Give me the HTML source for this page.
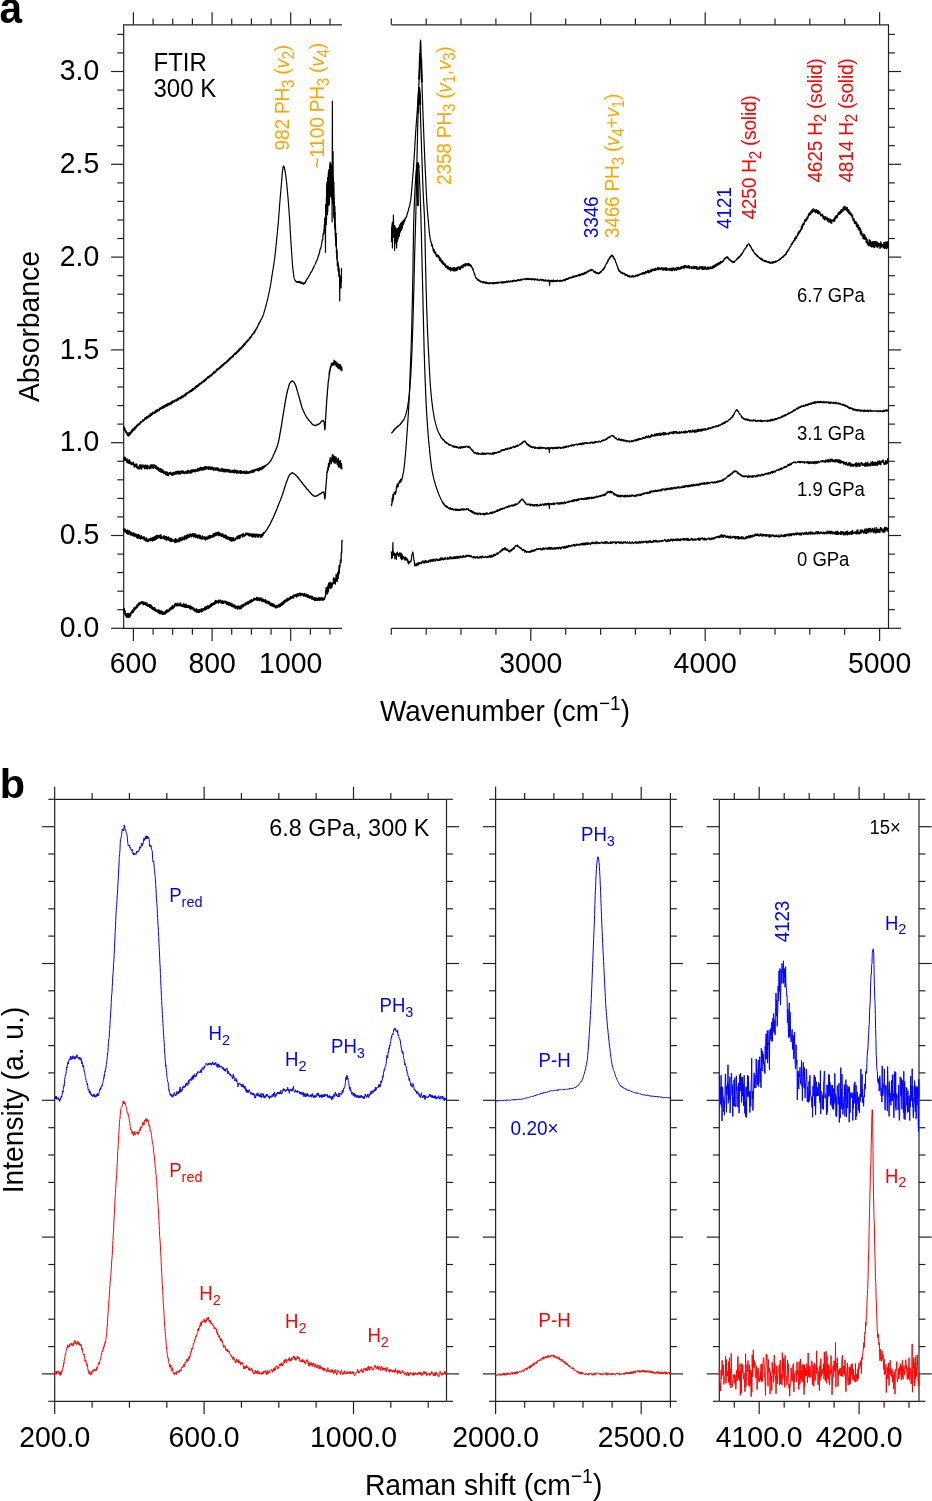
<!DOCTYPE html>
<html><head><meta charset="utf-8"><title>Figure</title>
<style>
html,body{margin:0;padding:0;background:#fff;}
body{width:932px;height:1501px;overflow:hidden;font-family:"Liberation Sans", sans-serif;}
svg{display:block;will-change:transform;}
</style></head><body>
<svg width="932" height="1501" viewBox="0 0 932 1501" font-family='"Liberation Sans", sans-serif'><line x1="123.7" y1="24.8" x2="123.7" y2="628.3" stroke="#222" stroke-width="1.2"/>
<line x1="123.1" y1="24.8" x2="342" y2="24.8" stroke="#222" stroke-width="1.2"/>
<line x1="123.1" y1="628.3" x2="342" y2="628.3" stroke="#222" stroke-width="1.2"/>
<line x1="133.4" y1="24.8" x2="133.4" y2="12.2" stroke="#222" stroke-width="1.2"/>
<line x1="133.4" y1="628.3" x2="133.4" y2="640.9" stroke="#222" stroke-width="1.2"/>
<line x1="153.1" y1="24.8" x2="153.1" y2="18.4" stroke="#222" stroke-width="1.2"/>
<line x1="153.1" y1="628.3" x2="153.1" y2="634.7" stroke="#222" stroke-width="1.2"/>
<line x1="172.7" y1="24.8" x2="172.7" y2="18.4" stroke="#222" stroke-width="1.2"/>
<line x1="172.7" y1="628.3" x2="172.7" y2="634.7" stroke="#222" stroke-width="1.2"/>
<line x1="192.4" y1="24.8" x2="192.4" y2="18.4" stroke="#222" stroke-width="1.2"/>
<line x1="192.4" y1="628.3" x2="192.4" y2="634.7" stroke="#222" stroke-width="1.2"/>
<line x1="212.1" y1="24.8" x2="212.1" y2="12.2" stroke="#222" stroke-width="1.2"/>
<line x1="212.1" y1="628.3" x2="212.1" y2="640.9" stroke="#222" stroke-width="1.2"/>
<line x1="231.7" y1="24.8" x2="231.7" y2="18.4" stroke="#222" stroke-width="1.2"/>
<line x1="231.7" y1="628.3" x2="231.7" y2="634.7" stroke="#222" stroke-width="1.2"/>
<line x1="251.4" y1="24.8" x2="251.4" y2="18.4" stroke="#222" stroke-width="1.2"/>
<line x1="251.4" y1="628.3" x2="251.4" y2="634.7" stroke="#222" stroke-width="1.2"/>
<line x1="271.1" y1="24.8" x2="271.1" y2="18.4" stroke="#222" stroke-width="1.2"/>
<line x1="271.1" y1="628.3" x2="271.1" y2="634.7" stroke="#222" stroke-width="1.2"/>
<line x1="290.7" y1="24.8" x2="290.7" y2="12.2" stroke="#222" stroke-width="1.2"/>
<line x1="290.7" y1="628.3" x2="290.7" y2="640.9" stroke="#222" stroke-width="1.2"/>
<line x1="310.4" y1="24.8" x2="310.4" y2="18.4" stroke="#222" stroke-width="1.2"/>
<line x1="310.4" y1="628.3" x2="310.4" y2="634.7" stroke="#222" stroke-width="1.2"/>
<line x1="330" y1="24.8" x2="330" y2="18.4" stroke="#222" stroke-width="1.2"/>
<line x1="330" y1="628.3" x2="330" y2="634.7" stroke="#222" stroke-width="1.2"/>
<line x1="123.7" y1="628.3" x2="111.1" y2="628.3" stroke="#222" stroke-width="1.2"/>
<line x1="888.5" y1="628.3" x2="901.1" y2="628.3" stroke="#222" stroke-width="1.2"/>
<line x1="123.7" y1="609.7" x2="117.3" y2="609.7" stroke="#222" stroke-width="1.2"/>
<line x1="888.5" y1="609.7" x2="894.9" y2="609.7" stroke="#222" stroke-width="1.2"/>
<line x1="123.7" y1="591.2" x2="117.3" y2="591.2" stroke="#222" stroke-width="1.2"/>
<line x1="888.5" y1="591.2" x2="894.9" y2="591.2" stroke="#222" stroke-width="1.2"/>
<line x1="123.7" y1="572.6" x2="117.3" y2="572.6" stroke="#222" stroke-width="1.2"/>
<line x1="888.5" y1="572.6" x2="894.9" y2="572.6" stroke="#222" stroke-width="1.2"/>
<line x1="123.7" y1="554.1" x2="117.3" y2="554.1" stroke="#222" stroke-width="1.2"/>
<line x1="888.5" y1="554.1" x2="894.9" y2="554.1" stroke="#222" stroke-width="1.2"/>
<line x1="123.7" y1="535.5" x2="111.1" y2="535.5" stroke="#222" stroke-width="1.2"/>
<line x1="888.5" y1="535.5" x2="901.1" y2="535.5" stroke="#222" stroke-width="1.2"/>
<line x1="123.7" y1="516.9" x2="117.3" y2="516.9" stroke="#222" stroke-width="1.2"/>
<line x1="888.5" y1="516.9" x2="894.9" y2="516.9" stroke="#222" stroke-width="1.2"/>
<line x1="123.7" y1="498.4" x2="117.3" y2="498.4" stroke="#222" stroke-width="1.2"/>
<line x1="888.5" y1="498.4" x2="894.9" y2="498.4" stroke="#222" stroke-width="1.2"/>
<line x1="123.7" y1="479.8" x2="117.3" y2="479.8" stroke="#222" stroke-width="1.2"/>
<line x1="888.5" y1="479.8" x2="894.9" y2="479.8" stroke="#222" stroke-width="1.2"/>
<line x1="123.7" y1="461.3" x2="117.3" y2="461.3" stroke="#222" stroke-width="1.2"/>
<line x1="888.5" y1="461.3" x2="894.9" y2="461.3" stroke="#222" stroke-width="1.2"/>
<line x1="123.7" y1="442.7" x2="111.1" y2="442.7" stroke="#222" stroke-width="1.2"/>
<line x1="888.5" y1="442.7" x2="901.1" y2="442.7" stroke="#222" stroke-width="1.2"/>
<line x1="123.7" y1="424.1" x2="117.3" y2="424.1" stroke="#222" stroke-width="1.2"/>
<line x1="888.5" y1="424.1" x2="894.9" y2="424.1" stroke="#222" stroke-width="1.2"/>
<line x1="123.7" y1="405.6" x2="117.3" y2="405.6" stroke="#222" stroke-width="1.2"/>
<line x1="888.5" y1="405.6" x2="894.9" y2="405.6" stroke="#222" stroke-width="1.2"/>
<line x1="123.7" y1="387" x2="117.3" y2="387" stroke="#222" stroke-width="1.2"/>
<line x1="888.5" y1="387" x2="894.9" y2="387" stroke="#222" stroke-width="1.2"/>
<line x1="123.7" y1="368.5" x2="117.3" y2="368.5" stroke="#222" stroke-width="1.2"/>
<line x1="888.5" y1="368.5" x2="894.9" y2="368.5" stroke="#222" stroke-width="1.2"/>
<line x1="123.7" y1="349.9" x2="111.1" y2="349.9" stroke="#222" stroke-width="1.2"/>
<line x1="888.5" y1="349.9" x2="901.1" y2="349.9" stroke="#222" stroke-width="1.2"/>
<line x1="123.7" y1="331.3" x2="117.3" y2="331.3" stroke="#222" stroke-width="1.2"/>
<line x1="888.5" y1="331.3" x2="894.9" y2="331.3" stroke="#222" stroke-width="1.2"/>
<line x1="123.7" y1="312.8" x2="117.3" y2="312.8" stroke="#222" stroke-width="1.2"/>
<line x1="888.5" y1="312.8" x2="894.9" y2="312.8" stroke="#222" stroke-width="1.2"/>
<line x1="123.7" y1="294.2" x2="117.3" y2="294.2" stroke="#222" stroke-width="1.2"/>
<line x1="888.5" y1="294.2" x2="894.9" y2="294.2" stroke="#222" stroke-width="1.2"/>
<line x1="123.7" y1="275.7" x2="117.3" y2="275.7" stroke="#222" stroke-width="1.2"/>
<line x1="888.5" y1="275.7" x2="894.9" y2="275.7" stroke="#222" stroke-width="1.2"/>
<line x1="123.7" y1="257.1" x2="111.1" y2="257.1" stroke="#222" stroke-width="1.2"/>
<line x1="888.5" y1="257.1" x2="901.1" y2="257.1" stroke="#222" stroke-width="1.2"/>
<line x1="123.7" y1="238.5" x2="117.3" y2="238.5" stroke="#222" stroke-width="1.2"/>
<line x1="888.5" y1="238.5" x2="894.9" y2="238.5" stroke="#222" stroke-width="1.2"/>
<line x1="123.7" y1="220" x2="117.3" y2="220" stroke="#222" stroke-width="1.2"/>
<line x1="888.5" y1="220" x2="894.9" y2="220" stroke="#222" stroke-width="1.2"/>
<line x1="123.7" y1="201.4" x2="117.3" y2="201.4" stroke="#222" stroke-width="1.2"/>
<line x1="888.5" y1="201.4" x2="894.9" y2="201.4" stroke="#222" stroke-width="1.2"/>
<line x1="123.7" y1="182.9" x2="117.3" y2="182.9" stroke="#222" stroke-width="1.2"/>
<line x1="888.5" y1="182.9" x2="894.9" y2="182.9" stroke="#222" stroke-width="1.2"/>
<line x1="123.7" y1="164.3" x2="111.1" y2="164.3" stroke="#222" stroke-width="1.2"/>
<line x1="888.5" y1="164.3" x2="901.1" y2="164.3" stroke="#222" stroke-width="1.2"/>
<line x1="123.7" y1="145.7" x2="117.3" y2="145.7" stroke="#222" stroke-width="1.2"/>
<line x1="888.5" y1="145.7" x2="894.9" y2="145.7" stroke="#222" stroke-width="1.2"/>
<line x1="123.7" y1="127.2" x2="117.3" y2="127.2" stroke="#222" stroke-width="1.2"/>
<line x1="888.5" y1="127.2" x2="894.9" y2="127.2" stroke="#222" stroke-width="1.2"/>
<line x1="123.7" y1="108.6" x2="117.3" y2="108.6" stroke="#222" stroke-width="1.2"/>
<line x1="888.5" y1="108.6" x2="894.9" y2="108.6" stroke="#222" stroke-width="1.2"/>
<line x1="123.7" y1="90.1" x2="117.3" y2="90.1" stroke="#222" stroke-width="1.2"/>
<line x1="888.5" y1="90.1" x2="894.9" y2="90.1" stroke="#222" stroke-width="1.2"/>
<line x1="123.7" y1="71.5" x2="111.1" y2="71.5" stroke="#222" stroke-width="1.2"/>
<line x1="888.5" y1="71.5" x2="901.1" y2="71.5" stroke="#222" stroke-width="1.2"/>
<line x1="123.7" y1="52.9" x2="117.3" y2="52.9" stroke="#222" stroke-width="1.2"/>
<line x1="888.5" y1="52.9" x2="894.9" y2="52.9" stroke="#222" stroke-width="1.2"/>
<line x1="123.7" y1="34.4" x2="117.3" y2="34.4" stroke="#222" stroke-width="1.2"/>
<line x1="888.5" y1="34.4" x2="894.9" y2="34.4" stroke="#222" stroke-width="1.2"/>
<line x1="391.4" y1="24.8" x2="889.1" y2="24.8" stroke="#222" stroke-width="1.2"/>
<line x1="391.4" y1="628.3" x2="889.1" y2="628.3" stroke="#222" stroke-width="1.2"/>
<line x1="888.5" y1="24.8" x2="888.5" y2="628.3" stroke="#222" stroke-width="1.2"/>
<line x1="391.3" y1="24.8" x2="391.3" y2="18.4" stroke="#222" stroke-width="1.2"/>
<line x1="391.3" y1="628.3" x2="391.3" y2="634.7" stroke="#222" stroke-width="1.2"/>
<line x1="426.2" y1="24.8" x2="426.2" y2="18.4" stroke="#222" stroke-width="1.2"/>
<line x1="426.2" y1="628.3" x2="426.2" y2="634.7" stroke="#222" stroke-width="1.2"/>
<line x1="461" y1="24.8" x2="461" y2="18.4" stroke="#222" stroke-width="1.2"/>
<line x1="461" y1="628.3" x2="461" y2="634.7" stroke="#222" stroke-width="1.2"/>
<line x1="495.9" y1="24.8" x2="495.9" y2="18.4" stroke="#222" stroke-width="1.2"/>
<line x1="495.9" y1="628.3" x2="495.9" y2="634.7" stroke="#222" stroke-width="1.2"/>
<line x1="530.8" y1="24.8" x2="530.8" y2="12.2" stroke="#222" stroke-width="1.2"/>
<line x1="530.8" y1="628.3" x2="530.8" y2="640.9" stroke="#222" stroke-width="1.2"/>
<line x1="565.7" y1="24.8" x2="565.7" y2="18.4" stroke="#222" stroke-width="1.2"/>
<line x1="565.7" y1="628.3" x2="565.7" y2="634.7" stroke="#222" stroke-width="1.2"/>
<line x1="600.6" y1="24.8" x2="600.6" y2="18.4" stroke="#222" stroke-width="1.2"/>
<line x1="600.6" y1="628.3" x2="600.6" y2="634.7" stroke="#222" stroke-width="1.2"/>
<line x1="635.4" y1="24.8" x2="635.4" y2="18.4" stroke="#222" stroke-width="1.2"/>
<line x1="635.4" y1="628.3" x2="635.4" y2="634.7" stroke="#222" stroke-width="1.2"/>
<line x1="670.3" y1="24.8" x2="670.3" y2="18.4" stroke="#222" stroke-width="1.2"/>
<line x1="670.3" y1="628.3" x2="670.3" y2="634.7" stroke="#222" stroke-width="1.2"/>
<line x1="705.2" y1="24.8" x2="705.2" y2="12.2" stroke="#222" stroke-width="1.2"/>
<line x1="705.2" y1="628.3" x2="705.2" y2="640.9" stroke="#222" stroke-width="1.2"/>
<line x1="740.1" y1="24.8" x2="740.1" y2="18.4" stroke="#222" stroke-width="1.2"/>
<line x1="740.1" y1="628.3" x2="740.1" y2="634.7" stroke="#222" stroke-width="1.2"/>
<line x1="775" y1="24.8" x2="775" y2="18.4" stroke="#222" stroke-width="1.2"/>
<line x1="775" y1="628.3" x2="775" y2="634.7" stroke="#222" stroke-width="1.2"/>
<line x1="809.8" y1="24.8" x2="809.8" y2="18.4" stroke="#222" stroke-width="1.2"/>
<line x1="809.8" y1="628.3" x2="809.8" y2="634.7" stroke="#222" stroke-width="1.2"/>
<line x1="844.7" y1="24.8" x2="844.7" y2="18.4" stroke="#222" stroke-width="1.2"/>
<line x1="844.7" y1="628.3" x2="844.7" y2="634.7" stroke="#222" stroke-width="1.2"/>
<line x1="879.6" y1="24.8" x2="879.6" y2="12.2" stroke="#222" stroke-width="1.2"/>
<line x1="879.6" y1="628.3" x2="879.6" y2="640.9" stroke="#222" stroke-width="1.2"/>
<text font-size="28.4" text-anchor="end" fill="#000" font-weight="normal" transform="translate(99.2 637) scale(1 1.05)">0.0</text>
<text font-size="28.4" text-anchor="end" fill="#000" font-weight="normal" transform="translate(99.2 544.2) scale(1 1.05)">0.5</text>
<text font-size="28.4" text-anchor="end" fill="#000" font-weight="normal" transform="translate(99.2 451.4) scale(1 1.05)">1.0</text>
<text font-size="28.4" text-anchor="end" fill="#000" font-weight="normal" transform="translate(99.2 358.6) scale(1 1.05)">1.5</text>
<text font-size="28.4" text-anchor="end" fill="#000" font-weight="normal" transform="translate(99.2 265.8) scale(1 1.05)">2.0</text>
<text font-size="28.4" text-anchor="end" fill="#000" font-weight="normal" transform="translate(99.2 173) scale(1 1.05)">2.5</text>
<text font-size="28.4" text-anchor="end" fill="#000" font-weight="normal" transform="translate(99.2 80.2) scale(1 1.05)">3.0</text>
<text font-size="28.4" text-anchor="middle" fill="#000" font-weight="normal" transform="translate(133.4 673.3) scale(1 1.05)">600</text>
<text font-size="28.4" text-anchor="middle" fill="#000" font-weight="normal" transform="translate(212.1 673.3) scale(1 1.05)">800</text>
<text font-size="28.4" text-anchor="middle" fill="#000" font-weight="normal" transform="translate(290.7 673.3) scale(1 1.05)">1000</text>
<text font-size="28.4" text-anchor="middle" fill="#000" font-weight="normal" transform="translate(530.8 673.3) scale(1 1.05)">3000</text>
<text font-size="28.4" text-anchor="middle" fill="#000" font-weight="normal" transform="translate(705.2 673.3) scale(1 1.05)">4000</text>
<text font-size="28.4" text-anchor="middle" fill="#000" font-weight="normal" transform="translate(879.6 673.3) scale(1 1.05)">5000</text>
<text font-size="28.3" text-anchor="middle" fill="#000" font-weight="normal" transform="translate(39.1 326.6) rotate(-90) scale(1 1.05)">Absorbance</text>
<text font-size="27.9" text-anchor="middle" fill="#000" font-weight="normal" transform="translate(505 721.4) scale(1 1.05)">Wavenumber (cm<tspan dy="-11" font-size="19">−1</tspan><tspan dy="11">)</tspan></text>
<text font-size="40.5" text-anchor="start" fill="#000" font-weight="bold" transform="translate(-0.6 22.7) scale(1 1.1)">a</text>
<text font-size="41.5" text-anchor="start" fill="#000" font-weight="bold" transform="translate(-0.2 798.2)">b</text>
<text font-size="24.0" text-anchor="start" fill="#000" font-weight="normal" transform="translate(153.5 71.1) scale(1 1.05)">FTIR</text>
<text font-size="24.0" text-anchor="start" fill="#000" font-weight="normal" transform="translate(153.5 97) scale(1 1.05)">300 K</text>
<text font-size="19.2" fill="#ffa500" letter-spacing="-0.25" transform="translate(289.3 150.4) rotate(-90) scale(1 1.05)">982 PH<tspan dy="4.4" font-size="15">3</tspan><tspan dy="-4.4"> </tspan>(<tspan font-style="italic">v</tspan><tspan dy="4.4" font-size="15">2</tspan><tspan dy="-4.4">)</tspan></text>
<text font-size="19.2" fill="#ffa500" letter-spacing="-0.25" transform="translate(324.3 168.6) rotate(-90) scale(1 1.05)">~1100 PH<tspan dy="4.4" font-size="15">3</tspan><tspan dy="-4.4"> </tspan>(<tspan font-style="italic">v</tspan><tspan dy="4.4" font-size="15">4</tspan><tspan dy="-4.4">)</tspan></text>
<text font-size="19.2" fill="#ffa500" letter-spacing="-0.25" transform="translate(450.7 184.9) rotate(-90) scale(1 1.05)">2358 PH<tspan dy="4.4" font-size="15">3</tspan><tspan dy="-4.4"> </tspan>(<tspan font-style="italic">v</tspan><tspan dy="4.4" font-size="15">1</tspan><tspan dy="-4.4">,</tspan><tspan font-style="italic">v</tspan><tspan dy="4.4" font-size="15">3</tspan><tspan dy="-4.4">)</tspan></text>
<text font-size="19.2" fill="#0000ff" letter-spacing="-0.25" transform="translate(597.7 238.2) rotate(-90) scale(1 1.05)">3346</text>
<text font-size="19.2" fill="#ffa500" letter-spacing="-0.25" transform="translate(618.9 238.2) rotate(-90) scale(1 1.05)">3466 PH<tspan dy="4.4" font-size="15">3</tspan><tspan dy="-4.4"> </tspan>(<tspan font-style="italic">v</tspan><tspan dy="4.4" font-size="15">4</tspan><tspan dy="-4.4">+</tspan><tspan font-style="italic">v</tspan><tspan dy="4.4" font-size="15">1</tspan><tspan dy="-4.4">)</tspan></text>
<text font-size="19.2" fill="#0000ff" letter-spacing="-0.25" transform="translate(731.1 229) rotate(-90) scale(1 1.05)">4121</text>
<text font-size="19.2" fill="#ff0000" letter-spacing="-0.25" transform="translate(756.3 219.6) rotate(-90) scale(1 1.05)">4250 H<tspan dy="4.4" font-size="15">2</tspan><tspan dy="-4.4"> </tspan>(solid)</text>
<text font-size="19.2" fill="#ff0000" letter-spacing="-0.25" transform="translate(821.7 182.6) rotate(-90) scale(1 1.05)">4625 H<tspan dy="4.4" font-size="15">2</tspan><tspan dy="-4.4"> </tspan>(solid)</text>
<text font-size="19.2" fill="#ff0000" letter-spacing="-0.25" transform="translate(852.7 182.6) rotate(-90) scale(1 1.05)">4814 H<tspan dy="4.4" font-size="15">2</tspan><tspan dy="-4.4"> </tspan>(solid)</text>
<text font-size="18.5" text-anchor="start" fill="#000" font-weight="normal" transform="translate(797 302.1) scale(1 1.05)">6.7 GPa</text>
<text font-size="18.5" text-anchor="start" fill="#000" font-weight="normal" transform="translate(797 440) scale(1 1.05)">3.1 GPa</text>
<text font-size="18.5" text-anchor="start" fill="#000" font-weight="normal" transform="translate(797 496) scale(1 1.05)">1.9 GPa</text>
<text font-size="18.5" text-anchor="start" fill="#000" font-weight="normal" transform="translate(797 565.9) scale(1 1.05)">0 GPa</text>
<line x1="54.7" y1="799.3" x2="446.5" y2="799.3" stroke="#222" stroke-width="1.2"/>
<line x1="54.7" y1="1401.3" x2="446.5" y2="1401.3" stroke="#222" stroke-width="1.2"/>
<line x1="54.7" y1="799.3" x2="54.7" y2="1401.3" stroke="#222" stroke-width="1.2"/>
<line x1="446.5" y1="799.3" x2="446.5" y2="1401.3" stroke="#222" stroke-width="1.2"/>
<line x1="54.7" y1="799.3" x2="48.3" y2="799.3" stroke="#222" stroke-width="1.2"/>
<line x1="446.5" y1="799.3" x2="452.9" y2="799.3" stroke="#222" stroke-width="1.2"/>
<line x1="54.7" y1="826.7" x2="42.1" y2="826.7" stroke="#222" stroke-width="1.2"/>
<line x1="446.5" y1="826.7" x2="459.1" y2="826.7" stroke="#222" stroke-width="1.2"/>
<line x1="54.7" y1="854" x2="48.3" y2="854" stroke="#222" stroke-width="1.2"/>
<line x1="446.5" y1="854" x2="452.9" y2="854" stroke="#222" stroke-width="1.2"/>
<line x1="54.7" y1="881.4" x2="48.3" y2="881.4" stroke="#222" stroke-width="1.2"/>
<line x1="446.5" y1="881.4" x2="452.9" y2="881.4" stroke="#222" stroke-width="1.2"/>
<line x1="54.7" y1="908.8" x2="48.3" y2="908.8" stroke="#222" stroke-width="1.2"/>
<line x1="446.5" y1="908.8" x2="452.9" y2="908.8" stroke="#222" stroke-width="1.2"/>
<line x1="54.7" y1="936.1" x2="48.3" y2="936.1" stroke="#222" stroke-width="1.2"/>
<line x1="446.5" y1="936.1" x2="452.9" y2="936.1" stroke="#222" stroke-width="1.2"/>
<line x1="54.7" y1="963.5" x2="42.1" y2="963.5" stroke="#222" stroke-width="1.2"/>
<line x1="446.5" y1="963.5" x2="459.1" y2="963.5" stroke="#222" stroke-width="1.2"/>
<line x1="54.7" y1="990.8" x2="48.3" y2="990.8" stroke="#222" stroke-width="1.2"/>
<line x1="446.5" y1="990.8" x2="452.9" y2="990.8" stroke="#222" stroke-width="1.2"/>
<line x1="54.7" y1="1018.2" x2="48.3" y2="1018.2" stroke="#222" stroke-width="1.2"/>
<line x1="446.5" y1="1018.2" x2="452.9" y2="1018.2" stroke="#222" stroke-width="1.2"/>
<line x1="54.7" y1="1045.6" x2="48.3" y2="1045.6" stroke="#222" stroke-width="1.2"/>
<line x1="446.5" y1="1045.6" x2="452.9" y2="1045.6" stroke="#222" stroke-width="1.2"/>
<line x1="54.7" y1="1072.9" x2="48.3" y2="1072.9" stroke="#222" stroke-width="1.2"/>
<line x1="446.5" y1="1072.9" x2="452.9" y2="1072.9" stroke="#222" stroke-width="1.2"/>
<line x1="54.7" y1="1100.3" x2="42.1" y2="1100.3" stroke="#222" stroke-width="1.2"/>
<line x1="446.5" y1="1100.3" x2="459.1" y2="1100.3" stroke="#222" stroke-width="1.2"/>
<line x1="54.7" y1="1127.7" x2="48.3" y2="1127.7" stroke="#222" stroke-width="1.2"/>
<line x1="446.5" y1="1127.7" x2="452.9" y2="1127.7" stroke="#222" stroke-width="1.2"/>
<line x1="54.7" y1="1155" x2="48.3" y2="1155" stroke="#222" stroke-width="1.2"/>
<line x1="446.5" y1="1155" x2="452.9" y2="1155" stroke="#222" stroke-width="1.2"/>
<line x1="54.7" y1="1182.4" x2="48.3" y2="1182.4" stroke="#222" stroke-width="1.2"/>
<line x1="446.5" y1="1182.4" x2="452.9" y2="1182.4" stroke="#222" stroke-width="1.2"/>
<line x1="54.7" y1="1209.8" x2="48.3" y2="1209.8" stroke="#222" stroke-width="1.2"/>
<line x1="446.5" y1="1209.8" x2="452.9" y2="1209.8" stroke="#222" stroke-width="1.2"/>
<line x1="54.7" y1="1237.1" x2="42.1" y2="1237.1" stroke="#222" stroke-width="1.2"/>
<line x1="446.5" y1="1237.1" x2="459.1" y2="1237.1" stroke="#222" stroke-width="1.2"/>
<line x1="54.7" y1="1264.5" x2="48.3" y2="1264.5" stroke="#222" stroke-width="1.2"/>
<line x1="446.5" y1="1264.5" x2="452.9" y2="1264.5" stroke="#222" stroke-width="1.2"/>
<line x1="54.7" y1="1291.9" x2="48.3" y2="1291.9" stroke="#222" stroke-width="1.2"/>
<line x1="446.5" y1="1291.9" x2="452.9" y2="1291.9" stroke="#222" stroke-width="1.2"/>
<line x1="54.7" y1="1319.2" x2="48.3" y2="1319.2" stroke="#222" stroke-width="1.2"/>
<line x1="446.5" y1="1319.2" x2="452.9" y2="1319.2" stroke="#222" stroke-width="1.2"/>
<line x1="54.7" y1="1346.6" x2="48.3" y2="1346.6" stroke="#222" stroke-width="1.2"/>
<line x1="446.5" y1="1346.6" x2="452.9" y2="1346.6" stroke="#222" stroke-width="1.2"/>
<line x1="54.7" y1="1373.9" x2="42.1" y2="1373.9" stroke="#222" stroke-width="1.2"/>
<line x1="446.5" y1="1373.9" x2="459.1" y2="1373.9" stroke="#222" stroke-width="1.2"/>
<line x1="54.7" y1="1401.3" x2="48.3" y2="1401.3" stroke="#222" stroke-width="1.2"/>
<line x1="446.5" y1="1401.3" x2="452.9" y2="1401.3" stroke="#222" stroke-width="1.2"/>
<line x1="54.7" y1="799.3" x2="54.7" y2="786.7" stroke="#222" stroke-width="1.2"/>
<line x1="54.7" y1="1401.3" x2="54.7" y2="1413.9" stroke="#222" stroke-width="1.2"/>
<line x1="92.1" y1="799.3" x2="92.1" y2="792.9" stroke="#222" stroke-width="1.2"/>
<line x1="92.1" y1="1401.3" x2="92.1" y2="1407.7" stroke="#222" stroke-width="1.2"/>
<line x1="129.4" y1="799.3" x2="129.4" y2="792.9" stroke="#222" stroke-width="1.2"/>
<line x1="129.4" y1="1401.3" x2="129.4" y2="1407.7" stroke="#222" stroke-width="1.2"/>
<line x1="166.8" y1="799.3" x2="166.8" y2="792.9" stroke="#222" stroke-width="1.2"/>
<line x1="166.8" y1="1401.3" x2="166.8" y2="1407.7" stroke="#222" stroke-width="1.2"/>
<line x1="204.1" y1="799.3" x2="204.1" y2="786.7" stroke="#222" stroke-width="1.2"/>
<line x1="204.1" y1="1401.3" x2="204.1" y2="1413.9" stroke="#222" stroke-width="1.2"/>
<line x1="241.4" y1="799.3" x2="241.4" y2="792.9" stroke="#222" stroke-width="1.2"/>
<line x1="241.4" y1="1401.3" x2="241.4" y2="1407.7" stroke="#222" stroke-width="1.2"/>
<line x1="278.8" y1="799.3" x2="278.8" y2="792.9" stroke="#222" stroke-width="1.2"/>
<line x1="278.8" y1="1401.3" x2="278.8" y2="1407.7" stroke="#222" stroke-width="1.2"/>
<line x1="316.1" y1="799.3" x2="316.1" y2="792.9" stroke="#222" stroke-width="1.2"/>
<line x1="316.1" y1="1401.3" x2="316.1" y2="1407.7" stroke="#222" stroke-width="1.2"/>
<line x1="353.5" y1="799.3" x2="353.5" y2="786.7" stroke="#222" stroke-width="1.2"/>
<line x1="353.5" y1="1401.3" x2="353.5" y2="1413.9" stroke="#222" stroke-width="1.2"/>
<line x1="390.8" y1="799.3" x2="390.8" y2="792.9" stroke="#222" stroke-width="1.2"/>
<line x1="390.8" y1="1401.3" x2="390.8" y2="1407.7" stroke="#222" stroke-width="1.2"/>
<line x1="428.2" y1="799.3" x2="428.2" y2="792.9" stroke="#222" stroke-width="1.2"/>
<line x1="428.2" y1="1401.3" x2="428.2" y2="1407.7" stroke="#222" stroke-width="1.2"/>
<line x1="495.6" y1="799.3" x2="670.4" y2="799.3" stroke="#222" stroke-width="1.2"/>
<line x1="495.6" y1="1401.3" x2="670.4" y2="1401.3" stroke="#222" stroke-width="1.2"/>
<line x1="495.6" y1="799.3" x2="495.6" y2="1401.3" stroke="#222" stroke-width="1.2"/>
<line x1="670.4" y1="799.3" x2="670.4" y2="1401.3" stroke="#222" stroke-width="1.2"/>
<line x1="495.6" y1="799.3" x2="489.2" y2="799.3" stroke="#222" stroke-width="1.2"/>
<line x1="670.4" y1="799.3" x2="676.8" y2="799.3" stroke="#222" stroke-width="1.2"/>
<line x1="495.6" y1="826.7" x2="483" y2="826.7" stroke="#222" stroke-width="1.2"/>
<line x1="670.4" y1="826.7" x2="683" y2="826.7" stroke="#222" stroke-width="1.2"/>
<line x1="495.6" y1="854" x2="489.2" y2="854" stroke="#222" stroke-width="1.2"/>
<line x1="670.4" y1="854" x2="676.8" y2="854" stroke="#222" stroke-width="1.2"/>
<line x1="495.6" y1="881.4" x2="489.2" y2="881.4" stroke="#222" stroke-width="1.2"/>
<line x1="670.4" y1="881.4" x2="676.8" y2="881.4" stroke="#222" stroke-width="1.2"/>
<line x1="495.6" y1="908.8" x2="489.2" y2="908.8" stroke="#222" stroke-width="1.2"/>
<line x1="670.4" y1="908.8" x2="676.8" y2="908.8" stroke="#222" stroke-width="1.2"/>
<line x1="495.6" y1="936.1" x2="489.2" y2="936.1" stroke="#222" stroke-width="1.2"/>
<line x1="670.4" y1="936.1" x2="676.8" y2="936.1" stroke="#222" stroke-width="1.2"/>
<line x1="495.6" y1="963.5" x2="483" y2="963.5" stroke="#222" stroke-width="1.2"/>
<line x1="670.4" y1="963.5" x2="683" y2="963.5" stroke="#222" stroke-width="1.2"/>
<line x1="495.6" y1="990.8" x2="489.2" y2="990.8" stroke="#222" stroke-width="1.2"/>
<line x1="670.4" y1="990.8" x2="676.8" y2="990.8" stroke="#222" stroke-width="1.2"/>
<line x1="495.6" y1="1018.2" x2="489.2" y2="1018.2" stroke="#222" stroke-width="1.2"/>
<line x1="670.4" y1="1018.2" x2="676.8" y2="1018.2" stroke="#222" stroke-width="1.2"/>
<line x1="495.6" y1="1045.6" x2="489.2" y2="1045.6" stroke="#222" stroke-width="1.2"/>
<line x1="670.4" y1="1045.6" x2="676.8" y2="1045.6" stroke="#222" stroke-width="1.2"/>
<line x1="495.6" y1="1072.9" x2="489.2" y2="1072.9" stroke="#222" stroke-width="1.2"/>
<line x1="670.4" y1="1072.9" x2="676.8" y2="1072.9" stroke="#222" stroke-width="1.2"/>
<line x1="495.6" y1="1100.3" x2="483" y2="1100.3" stroke="#222" stroke-width="1.2"/>
<line x1="670.4" y1="1100.3" x2="683" y2="1100.3" stroke="#222" stroke-width="1.2"/>
<line x1="495.6" y1="1127.7" x2="489.2" y2="1127.7" stroke="#222" stroke-width="1.2"/>
<line x1="670.4" y1="1127.7" x2="676.8" y2="1127.7" stroke="#222" stroke-width="1.2"/>
<line x1="495.6" y1="1155" x2="489.2" y2="1155" stroke="#222" stroke-width="1.2"/>
<line x1="670.4" y1="1155" x2="676.8" y2="1155" stroke="#222" stroke-width="1.2"/>
<line x1="495.6" y1="1182.4" x2="489.2" y2="1182.4" stroke="#222" stroke-width="1.2"/>
<line x1="670.4" y1="1182.4" x2="676.8" y2="1182.4" stroke="#222" stroke-width="1.2"/>
<line x1="495.6" y1="1209.8" x2="489.2" y2="1209.8" stroke="#222" stroke-width="1.2"/>
<line x1="670.4" y1="1209.8" x2="676.8" y2="1209.8" stroke="#222" stroke-width="1.2"/>
<line x1="495.6" y1="1237.1" x2="483" y2="1237.1" stroke="#222" stroke-width="1.2"/>
<line x1="670.4" y1="1237.1" x2="683" y2="1237.1" stroke="#222" stroke-width="1.2"/>
<line x1="495.6" y1="1264.5" x2="489.2" y2="1264.5" stroke="#222" stroke-width="1.2"/>
<line x1="670.4" y1="1264.5" x2="676.8" y2="1264.5" stroke="#222" stroke-width="1.2"/>
<line x1="495.6" y1="1291.9" x2="489.2" y2="1291.9" stroke="#222" stroke-width="1.2"/>
<line x1="670.4" y1="1291.9" x2="676.8" y2="1291.9" stroke="#222" stroke-width="1.2"/>
<line x1="495.6" y1="1319.2" x2="489.2" y2="1319.2" stroke="#222" stroke-width="1.2"/>
<line x1="670.4" y1="1319.2" x2="676.8" y2="1319.2" stroke="#222" stroke-width="1.2"/>
<line x1="495.6" y1="1346.6" x2="489.2" y2="1346.6" stroke="#222" stroke-width="1.2"/>
<line x1="670.4" y1="1346.6" x2="676.8" y2="1346.6" stroke="#222" stroke-width="1.2"/>
<line x1="495.6" y1="1373.9" x2="483" y2="1373.9" stroke="#222" stroke-width="1.2"/>
<line x1="670.4" y1="1373.9" x2="683" y2="1373.9" stroke="#222" stroke-width="1.2"/>
<line x1="495.6" y1="1401.3" x2="489.2" y2="1401.3" stroke="#222" stroke-width="1.2"/>
<line x1="670.4" y1="1401.3" x2="676.8" y2="1401.3" stroke="#222" stroke-width="1.2"/>
<line x1="495.6" y1="799.3" x2="495.6" y2="786.7" stroke="#222" stroke-width="1.2"/>
<line x1="495.6" y1="1401.3" x2="495.6" y2="1413.9" stroke="#222" stroke-width="1.2"/>
<line x1="524.7" y1="799.3" x2="524.7" y2="792.9" stroke="#222" stroke-width="1.2"/>
<line x1="524.7" y1="1401.3" x2="524.7" y2="1407.7" stroke="#222" stroke-width="1.2"/>
<line x1="553.9" y1="799.3" x2="553.9" y2="792.9" stroke="#222" stroke-width="1.2"/>
<line x1="553.9" y1="1401.3" x2="553.9" y2="1407.7" stroke="#222" stroke-width="1.2"/>
<line x1="583" y1="799.3" x2="583" y2="792.9" stroke="#222" stroke-width="1.2"/>
<line x1="583" y1="1401.3" x2="583" y2="1407.7" stroke="#222" stroke-width="1.2"/>
<line x1="612.1" y1="799.3" x2="612.1" y2="792.9" stroke="#222" stroke-width="1.2"/>
<line x1="612.1" y1="1401.3" x2="612.1" y2="1407.7" stroke="#222" stroke-width="1.2"/>
<line x1="641.2" y1="799.3" x2="641.2" y2="786.7" stroke="#222" stroke-width="1.2"/>
<line x1="641.2" y1="1401.3" x2="641.2" y2="1413.9" stroke="#222" stroke-width="1.2"/>
<line x1="670.4" y1="799.3" x2="670.4" y2="792.9" stroke="#222" stroke-width="1.2"/>
<line x1="670.4" y1="1401.3" x2="670.4" y2="1407.7" stroke="#222" stroke-width="1.2"/>
<line x1="719.3" y1="799.3" x2="919" y2="799.3" stroke="#222" stroke-width="1.2"/>
<line x1="719.3" y1="1401.3" x2="919" y2="1401.3" stroke="#222" stroke-width="1.2"/>
<line x1="719.3" y1="799.3" x2="719.3" y2="1401.3" stroke="#222" stroke-width="1.2"/>
<line x1="919" y1="799.3" x2="919" y2="1401.3" stroke="#222" stroke-width="1.2"/>
<line x1="719.3" y1="799.3" x2="712.9" y2="799.3" stroke="#222" stroke-width="1.2"/>
<line x1="919" y1="799.3" x2="925.4" y2="799.3" stroke="#222" stroke-width="1.2"/>
<line x1="719.3" y1="826.7" x2="706.7" y2="826.7" stroke="#222" stroke-width="1.2"/>
<line x1="919" y1="826.7" x2="931.6" y2="826.7" stroke="#222" stroke-width="1.2"/>
<line x1="719.3" y1="854" x2="712.9" y2="854" stroke="#222" stroke-width="1.2"/>
<line x1="919" y1="854" x2="925.4" y2="854" stroke="#222" stroke-width="1.2"/>
<line x1="719.3" y1="881.4" x2="712.9" y2="881.4" stroke="#222" stroke-width="1.2"/>
<line x1="919" y1="881.4" x2="925.4" y2="881.4" stroke="#222" stroke-width="1.2"/>
<line x1="719.3" y1="908.8" x2="712.9" y2="908.8" stroke="#222" stroke-width="1.2"/>
<line x1="919" y1="908.8" x2="925.4" y2="908.8" stroke="#222" stroke-width="1.2"/>
<line x1="719.3" y1="936.1" x2="712.9" y2="936.1" stroke="#222" stroke-width="1.2"/>
<line x1="919" y1="936.1" x2="925.4" y2="936.1" stroke="#222" stroke-width="1.2"/>
<line x1="719.3" y1="963.5" x2="706.7" y2="963.5" stroke="#222" stroke-width="1.2"/>
<line x1="919" y1="963.5" x2="931.6" y2="963.5" stroke="#222" stroke-width="1.2"/>
<line x1="719.3" y1="990.8" x2="712.9" y2="990.8" stroke="#222" stroke-width="1.2"/>
<line x1="919" y1="990.8" x2="925.4" y2="990.8" stroke="#222" stroke-width="1.2"/>
<line x1="719.3" y1="1018.2" x2="712.9" y2="1018.2" stroke="#222" stroke-width="1.2"/>
<line x1="919" y1="1018.2" x2="925.4" y2="1018.2" stroke="#222" stroke-width="1.2"/>
<line x1="719.3" y1="1045.6" x2="712.9" y2="1045.6" stroke="#222" stroke-width="1.2"/>
<line x1="919" y1="1045.6" x2="925.4" y2="1045.6" stroke="#222" stroke-width="1.2"/>
<line x1="719.3" y1="1072.9" x2="712.9" y2="1072.9" stroke="#222" stroke-width="1.2"/>
<line x1="919" y1="1072.9" x2="925.4" y2="1072.9" stroke="#222" stroke-width="1.2"/>
<line x1="719.3" y1="1100.3" x2="706.7" y2="1100.3" stroke="#222" stroke-width="1.2"/>
<line x1="919" y1="1100.3" x2="931.6" y2="1100.3" stroke="#222" stroke-width="1.2"/>
<line x1="719.3" y1="1127.7" x2="712.9" y2="1127.7" stroke="#222" stroke-width="1.2"/>
<line x1="919" y1="1127.7" x2="925.4" y2="1127.7" stroke="#222" stroke-width="1.2"/>
<line x1="719.3" y1="1155" x2="712.9" y2="1155" stroke="#222" stroke-width="1.2"/>
<line x1="919" y1="1155" x2="925.4" y2="1155" stroke="#222" stroke-width="1.2"/>
<line x1="719.3" y1="1182.4" x2="712.9" y2="1182.4" stroke="#222" stroke-width="1.2"/>
<line x1="919" y1="1182.4" x2="925.4" y2="1182.4" stroke="#222" stroke-width="1.2"/>
<line x1="719.3" y1="1209.8" x2="712.9" y2="1209.8" stroke="#222" stroke-width="1.2"/>
<line x1="919" y1="1209.8" x2="925.4" y2="1209.8" stroke="#222" stroke-width="1.2"/>
<line x1="719.3" y1="1237.1" x2="706.7" y2="1237.1" stroke="#222" stroke-width="1.2"/>
<line x1="919" y1="1237.1" x2="931.6" y2="1237.1" stroke="#222" stroke-width="1.2"/>
<line x1="719.3" y1="1264.5" x2="712.9" y2="1264.5" stroke="#222" stroke-width="1.2"/>
<line x1="919" y1="1264.5" x2="925.4" y2="1264.5" stroke="#222" stroke-width="1.2"/>
<line x1="719.3" y1="1291.9" x2="712.9" y2="1291.9" stroke="#222" stroke-width="1.2"/>
<line x1="919" y1="1291.9" x2="925.4" y2="1291.9" stroke="#222" stroke-width="1.2"/>
<line x1="719.3" y1="1319.2" x2="712.9" y2="1319.2" stroke="#222" stroke-width="1.2"/>
<line x1="919" y1="1319.2" x2="925.4" y2="1319.2" stroke="#222" stroke-width="1.2"/>
<line x1="719.3" y1="1346.6" x2="712.9" y2="1346.6" stroke="#222" stroke-width="1.2"/>
<line x1="919" y1="1346.6" x2="925.4" y2="1346.6" stroke="#222" stroke-width="1.2"/>
<line x1="719.3" y1="1373.9" x2="706.7" y2="1373.9" stroke="#222" stroke-width="1.2"/>
<line x1="919" y1="1373.9" x2="931.6" y2="1373.9" stroke="#222" stroke-width="1.2"/>
<line x1="719.3" y1="1401.3" x2="712.9" y2="1401.3" stroke="#222" stroke-width="1.2"/>
<line x1="919" y1="1401.3" x2="925.4" y2="1401.3" stroke="#222" stroke-width="1.2"/>
<line x1="734.3" y1="799.3" x2="734.3" y2="792.9" stroke="#222" stroke-width="1.2"/>
<line x1="734.3" y1="1401.3" x2="734.3" y2="1407.7" stroke="#222" stroke-width="1.2"/>
<line x1="759.2" y1="799.3" x2="759.2" y2="786.7" stroke="#222" stroke-width="1.2"/>
<line x1="759.2" y1="1401.3" x2="759.2" y2="1413.9" stroke="#222" stroke-width="1.2"/>
<line x1="784.2" y1="799.3" x2="784.2" y2="792.9" stroke="#222" stroke-width="1.2"/>
<line x1="784.2" y1="1401.3" x2="784.2" y2="1407.7" stroke="#222" stroke-width="1.2"/>
<line x1="809.2" y1="799.3" x2="809.2" y2="792.9" stroke="#222" stroke-width="1.2"/>
<line x1="809.2" y1="1401.3" x2="809.2" y2="1407.7" stroke="#222" stroke-width="1.2"/>
<line x1="834.1" y1="799.3" x2="834.1" y2="792.9" stroke="#222" stroke-width="1.2"/>
<line x1="834.1" y1="1401.3" x2="834.1" y2="1407.7" stroke="#222" stroke-width="1.2"/>
<line x1="859.1" y1="799.3" x2="859.1" y2="786.7" stroke="#222" stroke-width="1.2"/>
<line x1="859.1" y1="1401.3" x2="859.1" y2="1413.9" stroke="#222" stroke-width="1.2"/>
<line x1="884.1" y1="799.3" x2="884.1" y2="792.9" stroke="#222" stroke-width="1.2"/>
<line x1="884.1" y1="1401.3" x2="884.1" y2="1407.7" stroke="#222" stroke-width="1.2"/>
<line x1="909" y1="799.3" x2="909" y2="792.9" stroke="#222" stroke-width="1.2"/>
<line x1="909" y1="1401.3" x2="909" y2="1407.7" stroke="#222" stroke-width="1.2"/>
<text font-size="28.4" text-anchor="middle" fill="#000" font-weight="normal" transform="translate(54.7 1446.6) scale(1 1.05)">200.0</text>
<text font-size="28.4" text-anchor="middle" fill="#000" font-weight="normal" transform="translate(204.1 1446.6) scale(1 1.05)">600.0</text>
<text font-size="28.4" text-anchor="middle" fill="#000" font-weight="normal" transform="translate(353.5 1446.6) scale(1 1.05)">1000.0</text>
<text font-size="28.4" text-anchor="middle" fill="#000" font-weight="normal" transform="translate(495.6 1446.6) scale(1 1.05)">2000.0</text>
<text font-size="28.4" text-anchor="middle" fill="#000" font-weight="normal" transform="translate(641.2 1446.6) scale(1 1.05)">2500.0</text>
<text font-size="28.4" text-anchor="middle" fill="#000" font-weight="normal" transform="translate(759.2 1446.6) scale(1 1.05)">4100.0</text>
<text font-size="28.4" text-anchor="middle" fill="#000" font-weight="normal" transform="translate(859.1 1446.6) scale(1 1.05)">4200.0</text>
<text font-size="28.2" text-anchor="middle" fill="#000" font-weight="normal" transform="translate(23.3 1100) rotate(-90) scale(1 1.05)">Intensity (a. u.)</text>
<text font-size="28.3" text-anchor="start" fill="#000" font-weight="normal" transform="translate(364.9 1494.5) scale(1 1.05)">Raman shift (cm<tspan dy="-11" font-size="19.4">−1</tspan><tspan dy="11">)</tspan></text>
<text font-size="23.4" text-anchor="start" fill="#000" font-weight="normal" transform="translate(269.3 835.7) scale(1 1.05)">6.8 GPa, 300 K</text>
<text font-size="18.5" text-anchor="start" fill="#000" font-weight="normal" transform="translate(869.5 833.8) scale(1 1.05)">15×</text>
<text font-size="18.6" text-anchor="start" fill="#0000ff" font-weight="normal" transform="translate(169.2 902.2) scale(1 1.05)">P<tspan dy="4.3" font-size="14.5">red</tspan></text>
<text font-size="18.6" text-anchor="start" fill="#0000ff" font-weight="normal" transform="translate(208.5 1040.3) scale(1 1.05)">H<tspan dy="4.3" font-size="14.5">2</tspan></text>
<text font-size="18.6" text-anchor="start" fill="#0000ff" font-weight="normal" transform="translate(285 1066) scale(1 1.05)">H<tspan dy="4.3" font-size="14.5">2</tspan></text>
<text font-size="18.6" text-anchor="start" fill="#0000ff" font-weight="normal" transform="translate(331 1053.2) scale(1 1.05)">PH<tspan dy="4.3" font-size="14.5">3</tspan></text>
<text font-size="18.6" text-anchor="start" fill="#0000ff" font-weight="normal" transform="translate(379.5 1012.4) scale(1 1.05)">PH<tspan dy="4.3" font-size="14.5">3</tspan></text>
<text font-size="18.6" text-anchor="start" fill="#ff0000" font-weight="normal" transform="translate(169.2 1177.1) scale(1 1.05)">P<tspan dy="4.3" font-size="14.5">red</tspan></text>
<text font-size="18.6" text-anchor="start" fill="#ff0000" font-weight="normal" transform="translate(199.2 1300.3) scale(1 1.05)">H<tspan dy="4.3" font-size="14.5">2</tspan></text>
<text font-size="18.6" text-anchor="start" fill="#ff0000" font-weight="normal" transform="translate(285 1328.2) scale(1 1.05)">H<tspan dy="4.3" font-size="14.5">2</tspan></text>
<text font-size="18.6" text-anchor="start" fill="#ff0000" font-weight="normal" transform="translate(367.4 1342.4) scale(1 1.05)">H<tspan dy="4.3" font-size="14.5">2</tspan></text>
<text font-size="18.6" text-anchor="start" fill="#0000ff" font-weight="normal" transform="translate(581 841.2) scale(1 1.05)">PH<tspan dy="4.3" font-size="14.5">3</tspan></text>
<text font-size="18.6" text-anchor="start" fill="#0000ff" font-weight="normal" transform="translate(538.6 1066.8) scale(1 1.05)">P-H</text>
<text font-size="19" text-anchor="start" fill="#0000ff" font-weight="normal" transform="translate(510.6 1135.2) scale(1 1.05)">0.20×</text>
<text font-size="18.6" text-anchor="start" fill="#ff0000" font-weight="normal" transform="translate(538.6 1326.8) scale(1 1.05)">P-H</text>
<text font-size="18.5" text-anchor="start" fill="#0000ff" font-weight="normal" transform="translate(885 929.8) scale(1 1.05)">H<tspan dy="4.3" font-size="14.5">2</tspan></text>
<text font-size="18.5" text-anchor="start" fill="#ff0000" font-weight="normal" transform="translate(885 1182.7) scale(1 1.05)">H<tspan dy="4.3" font-size="14.5">2</tspan></text>
<text font-size="19" fill="#0000ff" letter-spacing="-0.25" transform="translate(788.9 942.2) rotate(-90) scale(1 1.05)">4123</text>
<polyline fill="none" stroke="#000" stroke-width="1.2" stroke-linejoin="round" points="123.7,427 123.9,429 124,426.5 124.2,429.8 124.3,427.9 124.5,428.7 124.6,430.5 124.8,429.4 124.9,430.2 125.1,428.7 125.2,431.5 125.4,431.1 125.5,430.6 125.7,432.5 125.8,431 126,431.8 126.1,430.9 126.3,432 126.4,431.5 126.6,431.9 126.7,433.8 126.9,432.4 127,433.3 127.2,435.1 127.3,435.2 127.5,434.6 127.6,434.1 127.8,433.4 127.9,433.1 128.1,435.9 128.2,434.5 128.4,433.2 128.5,434.9 128.7,435.4 128.8,434.8 129,435.8 129.1,432.9 129.3,434.4 129.4,434 129.6,432.6 129.7,434.3 129.9,434.9 130,433.9 130.2,432.6 130.3,434.3 130.5,433 130.6,432.8 130.8,433.4 130.9,431.3 131.1,433.2 131.2,432.5 131.4,432.7 131.5,430.6 131.7,432.3 131.8,430.3 132,429.8 132.1,432 132.3,431.9 132.4,431.7 132.6,430.4 132.7,429.6 132.9,428.6 133,430.4 133.2,430.5 133.3,430.7 133.5,428.9 133.6,428.5 133.8,429.6 133.9,430 134.1,430.3 134.2,427.7 134.4,428.6 134.5,429.6 134.7,428.1 134.8,428.4 135,426.6 135.1,428.4 135.3,428.9 135.4,428.5 135.6,428.5 135.7,427.7 135.9,426.4 136,427.7 136.2,426 136.3,427.6 136.5,425.3 136.6,427.3 136.8,425.3 136.9,425.7 137.1,425.4 137.2,426.3 137.4,424.8 137.5,425.2 137.7,424 137.8,424.6 138,424.9 138.1,423.9 138.3,425.2 138.4,424.3 138.6,425.1 138.7,424.8 138.9,424 139,425.1 139.2,424.3 139.3,424.6 139.5,423.2 139.6,423.6 139.8,422.6 139.9,424.5 140.1,422.4 140.2,422.3 140.4,421.7 140.5,422 140.7,423.2 140.8,422.9 141,421.3 141.1,421.8 141.3,421.8 141.4,422.2 141.6,421.6 141.7,421.8 141.9,422.3 142,421.9 142.2,420.8 142.3,420.9 142.5,420.5 142.6,419.7 142.8,419.8 142.9,419.9 143.1,419.9 143.2,419.7 143.4,420.3 143.5,421.2 143.7,420.6 143.8,420.5 144,420.3 144.1,419.7 144.3,420.4 144.4,419.7 144.6,419.1 144.7,417.9 144.9,418.9 145,418 145.2,417.7 145.3,418.6 145.5,419.2 145.6,417.8 145.8,418.9 145.9,418.2 146.1,417.1 146.2,419.1 146.4,417.5 146.5,417.1 146.7,418.4 146.8,416.5 147,417.9 147.1,416.4 147.3,416.8 147.4,416.3 147.6,417.8 147.7,416.5 147.9,417.9 148,416.9 148.2,417 148.3,416.4 148.5,415.8 148.6,415.9 148.8,417.2 148.9,415.2 149.1,417.1 149.2,416.4 149.4,415.3 149.5,415.9 149.7,415.1 149.8,415 150,415.2 150.1,413.9 150.3,415 150.4,416.1 150.6,414.3 150.7,415.4 150.9,414.5 151,413.8 151.2,415.5 151.3,413.1 151.5,413.7 151.6,415.4 151.8,413.5 151.9,414.8 152.1,414.1 152.2,414.5 152.4,414 152.5,413.2 152.7,414.1 152.8,412.2 153,413.2 153.1,412.9 153.3,413 153.4,412.1 153.6,412.2 153.7,413 153.9,412.4 154,413.4 154.2,412.8 154.3,413.4 154.5,412.9 154.6,412.5 154.8,411.6 154.9,412.8 155.1,411.4 155.2,410.8 155.4,413 155.5,411.8 155.7,412.3 155.8,411.6 156,411.7 156.1,410.2 156.3,410.5 156.4,411.6 156.6,411.3 156.7,410.1 156.9,412 157,409.9 157.2,410.7 157.3,409.7 157.5,411.1 157.6,409.9 157.8,409.4 157.9,409.1 158.1,409.4 158.2,409.3 158.4,410.1 158.5,409.8 158.7,411 158.8,410.9 159,410.4 159.1,410 159.3,410.3 159.4,410.5 159.6,408.1 159.7,408.2 159.9,408.7 160,408 160.2,409.2 160.3,408.2 160.5,408.1 160.6,408.1 160.8,407.6 160.9,409.1 161.1,408.8 161.2,408.6 161.4,407 161.5,407.9 161.7,408.5 161.8,407.1 162,407.6 162.1,406.6 162.3,406.6 162.4,406.9 162.6,407.3 162.7,407.3 162.9,408.3 163,406.8 163.2,406 163.3,407.9 163.5,405.9 163.6,405.9 163.8,408 163.9,407.4 164.1,406.3 164.2,405.7 164.4,406.2 164.5,406 164.7,407.3 164.8,406.1 165,405.1 165.1,407.2 165.3,406.3 165.4,405 165.6,404.9 165.7,405.7 165.9,404.7 166,405.9 166.2,405.8 166.3,404.3 166.5,406.1 166.6,406 166.8,406.2 166.9,405.6 167.1,405.5 167.2,404.1 167.4,403.7 167.5,403.7 167.7,405.9 167.8,405 168,405.7 168.1,404.1 168.3,405 168.4,403.3 168.6,403.4 168.7,403.6 168.9,404.2 169,404.2 169.2,403.9 169.3,403.7 169.5,404 169.6,404.9 169.8,403.5 169.9,404.4 170.1,402.4 170.2,403.1 170.4,403.5 170.5,403.5 170.7,402.6 170.8,402.8 171,404.1 171.1,403.3 171.3,403.1 171.4,401.7 171.6,401.6 171.7,401.9 171.9,401.7 172,403.6 172.2,401.2 172.3,402 172.5,401.1 172.6,402.5 172.8,401 172.9,400.9 173.1,400.9 173.2,401.3 173.4,401.9 173.5,402.4 173.7,401 173.8,401 174,402.2 174.1,401.9 174.3,400.4 174.4,401.9 174.6,401.9 174.7,400.2 174.9,401.3 175,400.1 175.2,400.2 175.3,400.7 175.5,400.7 175.6,400.5 175.8,400.6 175.9,399.7 176.1,401 176.2,399.7 176.4,401.1 176.5,400.1 176.7,399.5 176.8,399.1 177,399.8 177.1,399.4 177.3,399.9 177.4,399.5 177.6,398.3 177.7,400.2 177.9,398.2 178,400 178.2,399.9 178.3,400 178.5,399.3 178.6,398 178.8,398.6 178.9,398.5 179.1,398.9 179.2,398.2 179.4,398.8 179.5,397.6 179.7,397.9 179.8,398.3 180,397.9 180.1,397.1 180.3,399 180.4,398.3 180.6,398.5 180.7,397.3 180.9,398.6 181,398.2 181.2,398.5 181.3,396.5 181.5,397.1 181.6,396.8 181.8,397.2 181.9,396.3 182.1,395.8 182.2,396.6 182.4,396.9 182.5,396.2 182.7,397.6 182.8,396.1 183,395.7 183.1,396.9 183.3,395.9 183.4,395.4 183.6,395.3 183.7,396.8 183.9,396.7 184,395.9 184.2,394.9 184.3,395.8 184.5,394.6 184.6,394.7 184.8,395.1 184.9,394.7 185.1,394.5 185.2,395.9 185.4,393.9 185.5,394.8 185.7,393.4 185.8,393.4 186,393.6 186.1,395.3 186.3,394.6 186.4,394.8 186.6,392.8 186.7,394.2 186.9,393.5 187,393.3 187.2,393.9 187.3,392.9 187.5,393.2 187.6,392.6 187.8,392.8 187.9,393 188.1,392 188.2,392.2 188.4,392.4 188.5,392.4 188.7,393.1 188.8,392.6 189,392.3 189.1,392.9 189.3,391.3 189.4,390.9 189.6,391.5 189.7,390.8 189.9,391.7 190,391.6 190.2,390.5 190.3,391.7 190.5,391.2 190.6,390.8 190.8,391.9 190.9,391.6 191.1,390 191.2,389.8 191.4,391.4 191.5,389.6 191.7,390.8 191.8,389.7 192,389.7 192.1,390 192.3,390.8 192.4,388.5 192.6,388.8 192.7,390 192.9,389.1 193,388.8 193.2,390.2 193.3,388.5 193.5,389.4 193.6,389.9 193.8,389.3 193.9,389.1 194.1,389 194.2,389.1 194.4,387.7 194.5,388.4 194.7,388.7 194.8,388.8 195,388.8 195.1,388.6 195.3,386.7 195.4,387.2 195.6,387.3 195.7,388.2 195.9,387 196,386.5 196.2,385.8 196.3,386.3 196.5,387.3 196.6,385.5 196.8,385.7 196.9,385.9 197.1,386.3 197.2,385.8 197.4,386.9 197.5,385.2 197.7,385.9 197.8,386.3 198,386.5 198.1,386.3 198.3,384.5 198.4,385.9 198.6,385.5 198.7,384.8 198.9,383.8 199,384 199.2,385.2 199.3,383.6 199.5,384 199.6,383.7 199.8,384.8 199.9,383.8 200.1,383 200.2,383.6 200.4,383.3 200.5,384.1 200.7,383.1 200.8,383.8 201,383.4 201.1,384 201.3,383.6 201.4,382.7 201.6,382.8 201.7,382.6 201.9,383.4 202,381.6 202.2,382.2 202.3,382.3 202.5,382 202.6,382.2 202.8,381.9 202.9,381.5 203.1,382 203.2,381.1 203.4,381.6 203.5,381.8 203.7,380.3 203.8,380.6 204,381.9 204.1,381.8 204.3,381.8 204.4,379.5 204.6,381.2 204.7,381.3 204.9,381.1 205,380.5 205.2,380.3 205.3,380.3 205.5,379.9 205.6,380.2 205.8,379.5 205.9,378.7 206.1,378.3 206.2,380 206.4,379.5 206.5,378.1 206.7,379.4 206.8,378.1 207,378.8 207.1,378 207.3,377.6 207.4,377.4 207.6,377 207.7,376.9 207.9,376.8 208,376.7 208.2,378.2 208.3,377.4 208.5,376.4 208.6,377.2 208.8,377.1 208.9,376.8 209.1,376.1 209.2,376.4 209.4,377.3 209.5,376.1 209.7,376.2 209.8,377.1 210,375.4 210.1,376.3 210.3,375.7 210.4,376.2 210.6,375.1 210.7,375.4 210.9,374.9 211,375.9 211.2,375.9 211.3,375.1 211.5,375.8 211.6,375.1 211.8,375.2 211.9,375.2 212.1,373.7 212.2,375.1 212.4,373.7 212.5,373.8 212.7,373 212.8,374.3 213,373.1 213.1,373.7 213.3,372.5 213.4,372.7 213.6,372.7 213.7,372.2 213.9,371.6 214,373.1 214.2,373.4 214.3,371.7 214.5,371.4 214.6,371.7 214.8,371 214.9,372.1 215.1,371.3 215.2,371.6 215.4,372.3 215.5,372 215.7,372 215.8,371.9 216,371.1 216.1,370.7 216.3,369.6 216.4,369.6 216.6,370.4 216.7,371 216.9,369.9 217,368.9 217.2,369.2 217.3,370.3 217.5,368.8 217.6,368.8 217.8,368.8 217.9,369.4 218.1,369.8 218.2,368.3 218.4,369 218.5,368.7 218.7,368.4 218.8,368.6 219,369 219.1,367.5 219.3,368 219.4,367 219.6,367.8 219.7,368.3 219.9,368.6 220,367.3 220.2,366.8 220.3,367.3 220.5,366.7 220.6,366 220.8,366.8 220.9,367.3 221.1,367.3 221.2,367.4 221.4,365.9 221.5,365.6 221.7,365.1 221.8,365.7 222,366.4 222.1,365 222.3,366.2 222.4,365.8 222.6,364.6 222.7,365.4 222.9,365.6 223,365.8 223.2,364 223.3,365.3 223.5,365 223.6,363.7 223.8,363.7 223.9,365 224.1,363.6 224.2,363.3 224.4,364.1 224.5,362.7 224.7,363.4 224.8,363 225,363.2 225.1,363.2 225.3,363.2 225.4,362.6 225.6,363.5 225.7,363.2 225.9,363.3 226,362.1 226.2,362.6 226.3,361.8 226.5,361.4 226.6,362 226.8,362.5 226.9,362.1 227.1,360.8 227.2,360.6 227.4,361.6 227.5,361.4 227.7,361.6 227.8,359.9 228,361.3 228.1,360.2 228.3,359.8 228.4,359.8 228.6,361 228.7,360.8 228.9,358.8 229,359.2 229.2,359.9 229.3,358.3 229.5,358.2 229.6,358.1 229.8,359.7 229.9,358.4 230.1,358.3 230.2,359.1 230.4,358 230.5,358.7 230.7,357.8 230.8,357.5 231,357.6 231.1,357 231.3,356.6 231.4,358.2 231.6,358.1 231.7,357 231.9,357.4 232,357.6 232.2,356.5 232.3,357 232.5,357 232.6,355.4 232.8,355.4 232.9,356.5 233.1,356.3 233.2,355.1 233.4,356.3 233.5,356.1 233.7,354.9 233.8,354.8 234,354.2 234.1,354.8 234.3,353.9 234.4,354.7 234.6,354.7 234.7,354.5 234.9,353.2 235,354.3 235.2,354.4 235.3,353 235.5,353.8 235.6,354.1 235.8,352.6 235.9,354 236.1,354 236.2,353.3 236.4,353.5 236.5,352.1 236.7,352.7 236.8,353.1 237,351.1 237.1,352.6 237.3,351.2 237.4,352.3 237.6,351.8 237.7,352 237.9,351 238,351 238.2,351.8 238.3,349.9 238.5,349.9 238.6,351.4 238.8,351.2 238.9,349.4 239.1,351 239.2,349.4 239.4,350.5 239.5,350.4 239.7,348.4 239.8,348.2 240,348.7 240.1,349.9 240.3,349.4 240.4,348.4 240.6,349.2 240.7,347.9 240.9,347.9 241,347.4 241.2,348.8 241.3,348.4 241.5,347.5 241.6,346.9 241.8,348.2 241.9,346.9 242.1,346.4 242.2,346.6 242.4,347.1 242.5,347 242.7,345.5 242.8,347.1 243,346.4 243.1,345 243.3,346.4 243.4,346.5 243.6,346.1 243.7,344.2 243.9,345 244,345.1 244.2,345.5 244.3,344.6 244.5,343.5 244.6,345.1 244.8,345 244.9,343.9 245.1,342.8 245.2,344.3 245.4,343.9 245.5,344.2 245.7,342.1 245.8,342.8 246,342.3 246.1,341.8 246.3,342.9 246.4,341.9 246.6,341.1 246.7,341.2 246.9,342.4 247,341.8 247.2,340.8 247.3,341.6 247.5,340.3 247.6,341.2 247.8,341 247.9,339.5 248.1,340.4 248.2,340.6 248.4,340.5 248.5,340.2 248.7,340.4 248.8,340 249,340.1 249.1,338.9 249.3,338 249.4,338.1 249.6,338.1 249.7,337.4 249.9,337.4 250,338 250.2,337.3 250.3,337.2 250.5,337.9 250.6,338 250.8,337.8 250.9,336.6 251.1,337.1 251.2,337.2 251.4,335.6 251.5,335.5 251.7,336.2 251.8,335.2 252,334.9 252.1,335 252.3,334.1 252.4,334.8 252.6,333.8 252.7,334 252.9,333.7 253,333.7 253.2,333.1 253.3,333.6 253.5,333.8 253.6,332.8 253.8,333.8 253.9,333.4 254.1,332.1 254.2,331.3 254.4,332.6 254.5,331.3 254.7,331.2 254.8,331.5 255,332.1 255.1,330.4 255.3,330.5 255.4,330.6 255.6,330.4 255.7,329.3 255.9,329.7 256,329.4 256.2,329.3 256.3,328 256.5,327.8 256.6,329 256.8,328.4 256.9,328.2 257.1,328 257.2,327.8 257.4,326.6 257.5,326.8 257.7,326.4 257.8,325.9 258,325.8 258.1,325 258.3,325.5 258.4,324.5 258.6,323.9 258.7,323.4 258.9,324 259,323.1 259.2,323.8 259.3,322.5 259.5,322.4 259.6,323 259.8,322.1 259.9,322.3 260.1,321.9 260.2,320.8 260.4,320.7 260.5,320.6 260.7,320.9 260.8,320 261,319.8 261.1,319.6 261.3,319.1 261.4,319.3 261.6,318.3 261.7,318.1 261.9,318.4 262,317.9 262.2,317.5 262.3,317 262.5,316.5 262.6,316.4 262.8,316.5 262.9,315.8 263.1,315.4 263.2,315.3 263.4,314.8 263.5,314.4 263.7,313.9 263.8,313.3 264,312.6 264.1,312.3 264.3,311.6 264.4,311.4 264.6,310.5 264.7,310.2 264.9,309.8 265,309.1 265.2,308.7 265.3,307.9 265.5,307.4 265.6,307.1 265.8,306.5 265.9,305.8 266.1,305.3 266.2,304.8 266.4,304.3 266.5,303.7 266.7,302.9 266.8,302.3 267,301.8 267.1,301.1 267.3,300.5 267.4,299.8 267.6,299.2 267.7,298.6 267.9,297.9 268,297.3 268.2,296.4 268.3,296 268.5,295.1 268.6,294.5 268.8,293.9 268.9,293 269.1,292.3 269.2,291.8 269.4,291.1 269.5,290.2 269.7,289.4 269.8,288.8 270,287.9 270.1,287.1 270.3,286.5 270.4,285.6 270.6,284.7 270.7,283.7 270.9,282.9 271,282.2 271.2,281.1 271.3,280.1 271.5,279.2 271.6,278.1 271.8,277.3 271.9,276.3 272.1,275.2 272.2,274.3 272.4,273.3 272.5,272.3 272.7,271.3 272.8,270.4 273,269.6 273.1,268.8 273.3,267.6 273.4,266.9 273.6,266 273.7,265 273.9,264.1 274,263.1 274.2,262 274.3,260.9 274.5,259.9 274.6,258.8 274.8,257.5 274.9,256.5 275.1,255.1 275.2,253.8 275.4,252.5 275.5,250.9 275.7,249.5 275.8,248 276,246.4 276.1,245.1 276.3,243.5 276.4,242.1 276.6,240.5 276.7,239 276.9,237.6 277,235.8 277.2,234.4 277.3,233 277.5,231.3 277.6,229.7 277.8,228.3 277.9,226.5 278.1,224.8 278.2,223.3 278.4,221.3 278.5,219.7 278.7,217.7 278.8,215.7 279,213.8 279.1,211.8 279.3,209.9 279.4,207.8 279.6,205.7 279.7,203.8 279.9,201.8 280,200.1 280.2,198.2 280.3,196.5 280.5,194.7 280.6,193.1 280.8,191.2 280.9,189.5 281.1,187.8 281.2,186.3 281.4,184.5 281.5,182.6 281.7,180.6 281.8,178.7 282,176.7 282.1,174.8 282.3,173.1 282.4,171.7 282.6,170.7 282.7,169.5 282.9,168.6 283,167.7 283.2,166.9 283.3,166.3 283.5,165.9 283.6,165.9 283.8,166.1 283.9,166.4 284.1,166.9 284.2,167.5 284.4,168.1 284.5,168.6 284.7,169.3 284.8,170 285,170.8 285.1,171.5 285.3,172.2 285.4,173.3 285.6,174.2 285.7,175.5 285.9,176.7 286,177.7 286.2,179 286.3,180.2 286.5,181.5 286.6,182.7 286.8,184.1 286.9,185.7 287.1,187.3 287.2,188.7 287.4,190.5 287.5,192.2 287.7,193.9 287.8,195.7 288,197.3 288.1,199.1 288.3,201 288.4,203 288.6,204.8 288.7,206.7 288.9,208.8 289,210.6 289.2,212.9 289.3,214.9 289.5,217.2 289.6,219.7 289.8,222.3 289.9,224.8 290.1,227.4 290.2,230 290.4,232.6 290.5,235.1 290.7,237.6 290.8,239.9 291,242.5 291.1,244.8 291.3,247.4 291.4,249.5 291.6,251.9 291.7,253.8 291.9,255.9 292,258.1 292.2,260.2 292.3,262.1 292.5,264.1 292.6,266.1 292.8,267.7 292.9,269 293.1,270.4 293.2,271.7 293.4,273 293.5,274.2 293.7,275.2 293.8,276.4 294,277.2 294.1,277.9 294.3,278.7 294.4,279 294.6,279.4 294.7,279.7 294.9,279.8 295,280.2 295.2,280.4 295.3,280.7 295.5,280.8 295.6,281.1 295.8,281 295.9,281.4 296.1,281.8 296.2,281.5 296.4,281.6 296.5,281.8 296.7,282 296.8,281.9 297,282 297.1,282.1 297.3,282.3 297.4,281.6 297.6,281.9 297.7,282.1 297.9,281.5 298,282.5 298.2,282.2 298.3,282 298.5,281.9 298.6,281.6 298.8,281.4 298.9,282.2 299.1,282.6 299.2,282.4 299.4,281.3 299.5,281.3 299.7,282 299.8,282.1 300,282.2 300.1,282.7 300.3,282.8 300.4,283 300.6,282 300.7,282.3 300.9,283.2 301,282.8 301.2,281.9 301.3,283.3 301.5,282.9 301.6,282.4 301.8,282.7 301.9,283.1 302.1,283.2 302.2,282.9 302.4,283.5 302.5,283.2 302.7,283.9 302.8,283.8 303,282.8 303.1,282.8 303.3,283.9 303.4,283.6 303.6,284.1 303.7,283.4 303.9,283.1 304,282.9 304.2,283.8 304.3,282.9 304.5,283.5 304.6,283.3 304.8,283.3 304.9,283.4 305.1,282.3 305.2,282.3 305.4,282.4 305.5,281.5 305.7,281 305.8,280.8 306,281.5 306.1,281 306.3,280 306.4,279.5 306.6,280 306.7,279.3 306.9,278.9 307,278.6 307.2,278.7 307.3,278.3 307.5,278.8 307.6,278.1 307.8,278.3 307.9,278 308.1,277.8 308.2,277.1 308.4,276.9 308.5,276.6 308.7,275.8 308.8,276.6 309,275.5 309.1,275.7 309.3,275.5 309.4,275.4 309.6,274.9 309.7,274.7 309.9,274.7 310,274.2 310.2,274 310.3,273.9 310.5,272.8 310.6,273 310.8,272.2 310.9,272.1 311.1,271.7 311.2,272.3 311.4,271.5 311.5,271.4 311.7,271.4 311.8,271.1 312,271.1 312.1,270.3 312.3,270.3 312.4,270.2 312.6,269 312.7,269.2 312.9,268.5 313,268.7 313.2,268.1 313.3,268.5 313.5,267.8 313.6,267.1 313.8,267.7 313.9,266.8 314.1,266 314.2,266 314.4,265.8 314.5,265.1 314.7,264.9 314.8,264.8 315,264.5 315.1,264.3 315.3,263.8 315.4,263.5 315.6,263.3 315.7,262.8 315.9,263 316,262.7 316.2,261.3 316.3,261.1 316.5,260.6 316.6,260.6 316.8,260.2 316.9,260.3 317.1,259.9 317.2,259.7 317.4,259 317.5,258.5 317.7,258.6 317.8,257.7 318,256.9 318.1,256.3 318.3,255.5 318.4,256.3 318.6,255.6 318.7,254.6 318.9,254.8 319,254.2 319.2,253.2 319.3,253.5 319.5,252.9 319.6,251.7 319.8,251.1 319.9,250.2 320.1,249.6 320.2,249.4 320.4,248.6 320.5,247.8 320.7,248.3 320.8,248 321,247 321.1,246.8 321.3,246.2 321.4,245.1 321.6,244.1 321.7,242.9 321.9,242.7 322,241.3 322.2,239.9 322.3,240.5 322.5,240.6 322.6,239.5 322.8,239.6 322.9,236.6 323.1,233.6 323.2,234 323.4,233.6 323.5,234.8 323.7,232.6 323.8,234.1 324,229.1 324.1,230.5 324.3,224.3 324.4,230.9 324.6,232.1 324.7,230.9 324.9,229.9 325,219.1 325.2,229.4 325.3,220.9 325.5,252.6 325.6,207.6 325.8,204.6 325.9,216.6 326.1,215 326.2,218.3 326.4,213.1 326.5,207 326.7,192.7 326.8,211.7 327,181.8 327.1,206.1 327.3,183.8 327.4,183.2 327.6,211.8 327.7,211.5 327.9,202 328,181.2 328.2,189.8 328.3,183.8 328.5,173.7 328.6,177.5 328.8,169.5 328.9,205.4 329.1,175.2 329.2,180.6 329.4,174.3 329.5,189.8 329.7,185.6 329.8,169 330,162.4 330.1,169.7 330.3,185.2 330.4,184.1 330.6,194 330.7,164.3 330.9,176 331,177.4 331.2,182 331.3,175.7 331.5,191.3 331.6,166.3 331.8,164.9 331.9,175.3 332.1,222 332.2,179.4 332.4,101 332.5,169 332.7,185.2 332.8,190.5 333,192.4 333.1,151.5 333.3,204 333.4,203.7 333.6,188.6 333.7,197.5 333.9,209.5 334,214.8 334.2,197.6 334.3,217.1 334.5,209.3 334.6,227.1 334.8,227.2 334.9,216.7 335.1,219.7 335.2,225.5 335.4,237.8 335.5,225.4 335.7,235.6 335.8,240.2 336,244.2 336.1,236.6 336.3,247.3 336.4,247.5 336.6,248.4 336.7,259.1 336.9,250 337,259.4 337.2,255 337.3,265.4 337.5,261.5 337.6,262.3 337.8,261.2 337.9,265.9 338.1,271 338.2,262.7 338.4,270.8 338.5,265.7 338.7,267.7 338.8,276.2 339,267.8 339.1,276.6 339.3,269.4 339.4,275.7 339.6,277.9 339.7,301 339.9,281.7 340,275.5 340.2,279.3 340.3,277.3 340.5,284 340.6,278.8 340.8,279.6 340.9,277.5 341.1,287.9 341.2,279 341.4,282.6 341.5,268"/>
<polyline fill="none" stroke="#000" stroke-width="1.3" stroke-linejoin="round" points="123.7,457.6 123.9,457.8 124.1,460.4 124.3,457.1 124.5,459.6 124.7,460.3 124.9,457.8 125.1,457.3 125.3,458.5 125.5,460.4 125.7,460 125.9,458.2 126.1,459.6 126.3,460.9 126.5,459.8 126.7,460.9 126.9,462.6 127.1,461.3 127.3,460.1 127.5,459.2 127.7,460.1 127.9,461 128.1,462.8 128.3,462.4 128.5,460.4 128.7,463.3 128.9,461.3 129.1,462.4 129.3,459.8 129.5,459.9 129.7,460.5 129.9,463.7 130.1,462.9 130.3,463.8 130.5,462.9 130.7,462 130.9,462.6 131.1,463.1 131.3,464.4 131.5,462.6 131.7,464.8 131.9,463.7 132.1,464.8 132.3,463.4 132.5,464.4 132.7,462.9 132.9,463.9 133.1,462.7 133.3,462.3 133.5,462.1 133.7,465.3 133.9,464.3 134.1,466.4 134.3,466.3 134.5,464.4 134.7,467.2 134.9,465.6 135.1,466.5 135.3,465 135.5,464.2 135.7,464.2 135.9,464.4 136.1,466.3 136.3,464.3 136.5,464 136.7,467.7 136.9,464.5 137.1,466.2 137.3,466.4 137.5,467.1 137.7,466.6 137.9,468.6 138.1,467.8 138.3,467.1 138.5,467.4 138.7,466.9 138.9,469 139.1,465.8 139.3,467.8 139.5,467.2 139.7,465 139.9,466.1 140.1,468.8 140.3,468.2 140.5,464.9 140.7,466.1 140.9,464.9 141.1,468.4 141.3,465.3 141.5,465.1 141.7,469.1 141.9,466.8 142.1,466.2 142.3,465.1 142.5,466.5 142.7,466.4 142.9,467.1 143.1,464.9 143.3,465.5 143.5,465.8 143.7,466.7 143.9,466.2 144.1,467.5 144.3,466.1 144.5,468.7 144.7,468.9 144.9,465.2 145.1,465.8 145.3,467.3 145.5,468.1 145.7,465.2 145.9,465.7 146.1,466.8 146.3,467.7 146.5,468.7 146.7,468.5 146.9,468.2 147.1,465.2 147.3,469 147.5,467.5 147.7,465.3 147.9,466 148.1,467.5 148.3,466.5 148.5,466.7 148.7,468.2 148.9,468.2 149.1,467.1 149.3,468.1 149.5,466.5 149.7,468.8 149.9,467.3 150.1,468.7 150.3,465 150.5,468.3 150.7,467 150.9,467.6 151.1,465.5 151.3,466.9 151.5,465.8 151.7,465.1 151.9,464.7 152.1,468.2 152.3,467.3 152.5,465.4 152.7,465.6 152.9,466.4 153.1,467.8 153.3,465 153.5,468.4 153.7,468.3 153.9,465.5 154.1,467.1 154.3,466 154.5,467.3 154.7,464.9 154.9,466.4 155.1,466.9 155.3,467.1 155.5,467.5 155.7,468.3 155.9,465.9 156.1,465.7 156.3,466.8 156.5,467.6 156.7,469.2 156.9,468.4 157.1,468.7 157.3,469.7 157.5,467.2 157.7,467.4 157.9,468.1 158.1,467.8 158.3,469.4 158.5,470.7 158.7,467.8 158.9,469.3 159.1,470.1 159.3,469.5 159.5,471.3 159.7,470.7 159.9,471.4 160.1,468.6 160.3,469 160.5,468.6 160.7,471.6 160.9,472.2 161.1,468.8 161.3,471.8 161.5,471.7 161.7,472.4 161.9,470.2 162.1,472 162.3,470.3 162.5,469.8 162.7,472.4 162.9,470 163.1,472.5 163.3,471.1 163.5,471.9 163.7,473.5 163.9,471.3 164.1,472.2 164.3,471.9 164.5,471.4 164.7,472.5 164.9,471.6 165.1,473.9 165.3,473.3 165.5,472.2 165.7,474.8 165.9,472.6 166.1,473.9 166.3,474.2 166.5,472.6 166.7,471.7 166.9,475 167.1,475.3 167.3,472.5 167.5,472.5 167.7,473.5 167.9,474.2 168.1,475.6 168.3,475.6 168.5,475.7 168.7,473.1 168.9,474.3 169.1,473.8 169.3,473 169.5,472.5 169.7,472.8 169.9,473.5 170.1,472.5 170.3,472.7 170.5,472.3 170.7,474.4 170.9,473.9 171.1,473 171.3,474 171.5,473.6 171.7,474.4 171.9,475.4 172.1,473.3 172.3,474.3 172.5,472.8 172.7,475.3 172.9,474.1 173.1,472.5 173.3,472.8 173.5,472.4 173.7,472.4 173.9,472.9 174.1,474.6 174.3,473.3 174.5,472.6 174.7,473.1 174.9,472.5 175.1,474.1 175.3,471.7 175.5,472.5 175.7,472.6 175.9,472 176.1,474 176.3,472 176.5,472.4 176.7,471.5 176.9,473.9 177.1,472.5 177.3,473.4 177.5,471.9 177.7,471.2 177.9,472.2 178.1,473.7 178.3,473.9 178.5,472.2 178.7,473.9 178.9,471.1 179.1,472.7 179.3,471.7 179.5,472.3 179.7,471.6 179.9,473.9 180.1,471.8 180.3,474 180.5,471.1 180.7,472.2 180.9,472.2 181.1,473.1 181.3,471.8 181.5,472.3 181.7,470.9 181.9,471.7 182.1,473.1 182.3,470.9 182.5,472.1 182.7,471.3 182.9,471.1 183.1,470.9 183.3,473.3 183.5,472.8 183.7,471.8 183.9,471.8 184.1,472.9 184.3,472.5 184.5,473.6 184.7,473.6 184.9,472 185.1,472.6 185.3,472.2 185.5,471.4 185.7,471.9 185.9,472.8 186.1,472.2 186.3,472.5 186.5,472 186.7,473.5 186.9,472.9 187.1,470.7 187.3,473 187.5,473.3 187.7,473 187.9,471.4 188.1,471.4 188.3,471 188.5,470.3 188.7,471.7 188.9,473 189.1,472.7 189.3,472.3 189.5,472.9 189.7,472.3 189.9,470.8 190.1,472.7 190.3,471.2 190.5,473 190.7,471 190.9,470.2 191.1,472.3 191.3,470.2 191.5,472.8 191.7,471.2 191.9,472.4 192.1,469.9 192.3,471.5 192.5,471.9 192.7,470 192.9,471.6 193.1,470 193.3,470.5 193.5,470.6 193.7,471.4 193.9,469.7 194.1,469.8 194.3,471.8 194.5,471.5 194.7,470.6 194.9,469.9 195.1,471.2 195.3,470.4 195.5,469.8 195.7,471.6 195.9,469.3 196.1,471.2 196.3,470.5 196.5,470.6 196.7,470.6 196.9,470.7 197.1,471.1 197.3,471.2 197.5,468.9 197.7,468.5 197.9,470.9 198.1,468.5 198.3,468.5 198.5,470.4 198.7,470.9 198.9,470.4 199.1,469.3 199.3,468.7 199.5,470.7 199.7,469.8 199.9,469.4 200.1,467.4 200.3,467.9 200.5,467.3 200.7,470.2 200.9,467.9 201.1,467.7 201.3,469 201.5,467.7 201.7,468.8 201.9,470.1 202.1,469.8 202.3,467.7 202.5,469.8 202.7,468.1 202.9,468.5 203.1,467.8 203.3,470 203.5,467.7 203.7,469 203.9,468.6 204.1,468.8 204.3,466.9 204.5,468.3 204.7,469.7 204.9,468.3 205.1,467.1 205.3,466.6 205.5,467.5 205.7,468.8 205.9,466.5 206.1,466.5 206.3,468.5 206.5,469.2 206.7,467.8 206.9,468.4 207.1,467.2 207.3,467.3 207.5,467.9 207.7,467.1 207.9,467.9 208.1,466.9 208.3,469.5 208.5,468.6 208.7,466.8 208.9,467.1 209.1,469.2 209.3,467.8 209.5,467.4 209.7,466.7 209.9,468.8 210.1,468.5 210.3,469.4 210.5,467.3 210.7,469.2 210.9,469.4 211.1,469.5 211.3,469.2 211.5,468.3 211.7,467.1 211.9,469 212.1,467 212.3,467.3 212.5,468.3 212.7,467.4 212.9,468.5 213.1,469.8 213.3,467.7 213.5,469.7 213.7,470.4 213.9,467.4 214.1,468.6 214.3,469.6 214.5,469.7 214.7,468.3 214.9,470 215.1,468.6 215.3,468.1 215.5,469.1 215.7,469.5 215.9,470.2 216.1,469.7 216.3,467.9 216.5,469.4 216.7,468.7 216.9,469.9 217.1,467.9 217.3,469.8 217.5,470.3 217.7,467.9 217.9,467.9 218.1,470.7 218.3,470.7 218.5,468.5 218.7,470.9 218.9,469.3 219.1,469.7 219.3,469.6 219.5,469.2 219.7,470.9 219.9,470.1 220.1,471.1 220.3,470.2 220.5,471.2 220.7,469.9 220.9,469.8 221.1,470.2 221.3,468.4 221.5,470.8 221.7,468.9 221.9,471.4 222.1,468.7 222.3,470.8 222.5,471 222.7,470.3 222.9,468.9 223.1,471.2 223.3,469.7 223.5,469.6 223.7,470.9 223.9,471.8 224.1,469.1 224.3,470.2 224.5,470.9 224.7,469.7 224.9,471.8 225.1,470.8 225.3,469.2 225.5,469.4 225.7,469.4 225.9,470.4 226.1,471.9 226.3,469.4 226.5,469.6 226.7,469.8 226.9,470.9 227.1,470.5 227.3,470.5 227.5,469.7 227.7,471.8 227.9,470.7 228.1,471.9 228.3,469.4 228.5,470.7 228.7,470.5 228.9,472 229.1,471.5 229.3,471 229.5,469.9 229.7,471.6 229.9,472.2 230.1,471.9 230.3,472.5 230.5,471.4 230.7,470.5 230.9,470.3 231.1,472 231.3,472.1 231.5,471.6 231.7,472.1 231.9,471.2 232.1,472.3 232.3,471.8 232.5,470.5 232.7,471.6 232.9,471.8 233.1,470.4 233.3,472.7 233.5,472.3 233.7,470.3 233.9,470.6 234.1,469.9 234.3,472.8 234.5,470.5 234.7,472.5 234.9,471.5 235.1,470.2 235.3,470.7 235.5,470.8 235.7,472.4 235.9,471.2 236.1,470.5 236.3,473 236.5,471.7 236.7,470.4 236.9,473.1 237.1,472.2 237.3,471.5 237.5,470.7 237.7,472.3 237.9,470.6 238.1,473.1 238.3,472.6 238.5,472.5 238.7,472.7 238.9,473 239.1,471.8 239.3,472.8 239.5,470.8 239.7,472.5 239.9,472.7 240.1,471.1 240.3,470.8 240.5,473.3 240.7,473.2 240.9,470.9 241.1,472.3 241.3,471.1 241.5,471.2 241.7,473.4 241.9,472.6 242.1,472.9 242.3,471.5 242.5,473 242.7,472.7 242.9,471.7 243.1,472.2 243.3,471.5 243.5,472.5 243.7,471.3 243.9,472.1 244.1,473.3 244.3,472.7 244.5,472.6 244.7,471.1 244.9,473.2 245.1,472.6 245.3,473.6 245.5,473.6 245.7,473.6 245.9,472.4 246.1,473.1 246.3,471.1 246.5,471 246.7,473.1 246.9,472.8 247.1,473.5 247.3,471.6 247.5,472.2 247.7,473 247.9,472.5 248.1,473.1 248.3,471.8 248.5,473 248.7,473.1 248.9,473.1 249.1,471.6 249.3,473.1 249.5,471.3 249.7,472.1 249.9,473.1 250.1,472.1 250.3,471.9 250.5,471.2 250.7,471.6 250.9,471.5 251.1,472 251.3,471.5 251.5,470.8 251.7,470.4 251.9,472.7 252.1,471.6 252.3,470.2 252.5,470.7 252.7,471.5 252.9,470.3 253.1,472.1 253.3,471 253.5,471.4 253.7,471.3 253.9,469.8 254.1,472 254.3,471.7 254.5,469.6 254.7,470.8 254.9,470.6 255.1,469.9 255.3,470.1 255.5,469.7 255.7,470.7 255.9,470.1 256.1,469.1 256.3,469.4 256.5,469.1 256.7,470.4 256.9,470.1 257.1,469.6 257.3,470 257.5,470.1 257.7,468.9 257.9,468.4 258.1,470.9 258.3,468.6 258.5,468.7 258.7,469.9 258.9,470.7 259.1,468.2 259.3,468.9 259.5,470.1 259.7,467.8 259.9,468.2 260.1,469.2 260.3,469.7 260.5,467.6 260.7,468.4 260.9,468.8 261.1,468.6 261.3,468.4 261.5,469.6 261.7,469.5 261.9,467.2 262.1,467.3 262.3,467.6 262.5,466.7 262.7,466.7 262.9,467.7 263.1,468.6 263.3,466.8 263.5,466.5 263.7,467.3 263.9,466.5 264.1,465.9 264.3,465.9 264.5,467.2 264.7,465.8 264.9,466.5 265.1,466 265.3,466.4 265.5,465.9 265.7,465.4 265.9,465.2 266.1,465.1 266.3,465 266.5,464.9 266.7,464.8 266.9,464.9 267.1,464.7 267.3,464.2 267.5,464.2 267.7,464.3 267.9,464.1 268.1,463.7 268.3,463.4 268.5,463.3 268.7,463 268.9,462.9 269.1,462.8 269.3,462.6 269.5,462.2 269.7,462 269.9,461.8 270.1,461.6 270.3,461.3 270.5,461.1 270.7,460.7 270.9,460.3 271.1,460.1 271.3,459.8 271.5,459.3 271.7,458.9 271.9,458.6 272.1,458.2 272.3,457.9 272.5,457.3 272.7,457 272.9,456.5 273.1,455.9 273.3,455.5 273.5,455.1 273.7,454.6 273.9,454.1 274.1,453.7 274.3,453.3 274.5,452.8 274.7,452.5 274.9,452 275.1,451.6 275.3,451 275.5,450.7 275.7,450.1 275.9,449.9 276.1,449.3 276.3,448.9 276.5,448.2 276.7,447.6 276.9,447.1 277.1,446.7 277.3,446 277.5,445.3 277.7,444.6 277.9,443.9 278.1,443.2 278.3,442.5 278.5,441.7 278.7,440.6 278.9,439.7 279.1,438.6 279.3,437.6 279.5,436.6 279.7,435.6 279.9,434.2 280.1,433.1 280.3,432.1 280.5,430.9 280.7,429.6 280.9,428.6 281.1,427.6 281.3,426.4 281.5,425.2 281.7,424 281.9,422.6 282.1,421.5 282.3,420.2 282.5,418.8 282.7,417.6 282.9,416.5 283.1,415.1 283.3,413.8 283.5,412.7 283.7,411.4 283.9,410.1 284.1,409 284.3,407.9 284.5,406.5 284.7,405.5 284.9,404.1 285.1,403 285.3,401.9 285.5,400.6 285.7,399.6 285.9,398.4 286.1,397.3 286.3,396.1 286.5,395.2 286.7,394.4 286.9,393.5 287.1,392.5 287.3,391.8 287.5,390.9 287.7,390.1 287.9,389.3 288.1,388.7 288.3,387.8 288.5,387.2 288.7,386.5 288.9,385.8 289.1,385.1 289.3,384.3 289.5,383.8 289.7,383.4 289.9,383.1 290.1,382.7 290.3,382.4 290.5,382.4 290.7,382.1 290.9,381.8 291.1,381.7 291.3,381.7 291.5,381.4 291.7,381.4 291.9,381 292.1,381.1 292.3,381 292.5,381 292.7,381 292.9,381.1 293.1,381.3 293.3,381.4 293.5,381.6 293.7,381.9 293.9,382.2 294.1,382.5 294.3,382.7 294.5,383.3 294.7,383.5 294.9,383.7 295.1,384.2 295.3,384.7 295.5,385.1 295.7,385.5 295.9,386 296.1,386.8 296.3,387.4 296.5,388 296.7,388.6 296.9,389.4 297.1,390 297.3,390.9 297.5,391.6 297.7,392.2 297.9,392.9 298.1,393.7 298.3,394.3 298.5,395 298.7,395.6 298.9,396.4 299.1,397 299.3,397.8 299.5,398.5 299.7,399.4 299.9,399.9 300.1,400.8 300.3,401.4 300.5,402.4 300.7,402.9 300.9,403.8 301.1,404.5 301.3,405 301.5,405.8 301.7,406.4 301.9,407.1 302.1,407.8 302.3,408.2 302.5,408.9 302.7,409.4 302.9,409.6 303.1,410.1 303.3,410.7 303.5,411.1 303.7,411.5 303.9,412.1 304.1,412.4 304.3,412.8 304.5,413.3 304.7,413.7 304.9,414.1 305.1,414.4 305.3,414.8 305.5,415.1 305.7,415.6 305.9,416 306.1,416.1 306.3,416.6 306.5,417 306.7,417.3 306.9,417.6 307.1,417.7 307.3,418.2 307.5,418.3 307.7,418.7 307.9,419 308.1,419.2 308.3,419.5 308.5,419.8 308.7,419.9 308.9,420.1 309.1,420.5 309.3,420.6 309.5,421 309.7,421.1 309.9,421.3 310.1,421.6 310.3,421.8 310.5,422.1 310.7,422.3 310.9,422.5 311.1,422.8 311.3,423 311.5,423.2 311.7,423.5 311.9,423.8 312.1,423.9 312.3,424.1 312.5,424.4 312.7,424.4 312.9,424.5 313.1,424.7 313.3,424.9 313.5,424.9 313.7,425.1 313.9,425.2 314.1,425.2 314.3,425.3 314.5,425.3 314.7,425.3 314.9,425.3 315.1,425.3 315.3,425.5 315.5,425.4 315.7,425.5 315.9,425.2 316.1,425.3 316.3,425.2 316.5,425 316.7,425.1 316.9,425 317.1,424.9 317.3,424.8 317.5,424.7 317.7,424.5 317.9,424.6 318.1,424.4 318.3,424.2 318.5,424.4 318.7,424.3 318.9,424 319.1,423.9 319.3,423.7 319.5,423.8 319.7,423.4 319.9,423.4 320.1,423.1 320.3,422.7 320.5,422.5 320.7,422.3 320.9,422 321.1,422 321.3,421.8 321.5,421.5 321.7,421.2 321.9,421 322.1,420.8 322.3,420.8 322.5,420.5 322.7,420.5 322.9,420.6 323.1,420.6 323.3,420.7 323.5,421 323.7,421.3 323.9,421.7 324.1,422.3 324.3,422.9 324.5,425.8 324.7,429.3 324.9,429.7 325.1,427.1 325.3,423.6 325.5,420.1 325.7,417 325.9,413.9 326.1,410.7 326.3,407 326.5,404.6 326.7,400.8 326.9,398.7 327.1,395.9 327.3,393.9 327.5,390 327.7,388.8 327.9,386.8 328.1,383.2 328.3,382 328.5,379.6 328.7,379.6 328.9,378.7 329.1,375.5 329.3,371.6 329.5,374.8 329.7,372 329.9,368.8 330.1,370.6 330.3,368.4 330.5,366.4 330.7,366.6 330.9,367.4 331.1,365.5 331.3,364 331.5,363.1 331.7,364.2 331.9,365.5 332.1,363.2 332.3,363.2 332.5,364.8 332.7,363.7 332.9,365.2 333.1,364.3 333.3,364.7 333.5,362.5 333.7,363.9 333.9,365.1 334.1,360.2 334.3,362.6 334.5,364.1 334.7,361.6 334.9,361 335.1,363.3 335.3,361.3 335.5,362 335.7,361.6 335.9,365.2 336.1,362 336.3,366.5 336.5,364.9 336.7,364.3 336.9,363.2 337.1,364.5 337.3,364 337.5,367.2 337.7,365.5 337.9,363.2 338.1,367.9 338.3,368.3 338.5,368.4 338.7,364.9 338.9,366.2 339.1,367.4 339.3,364.5 339.5,366.3 339.7,365.9 339.9,368.7 340.1,364.7 340.3,369.4 340.5,365 340.7,369.7 340.9,367.6 341.1,366.4 341.3,367.3 341.5,370.6 341.7,367.1 341.9,370.5 342,370.9"/>
<polyline fill="none" stroke="#000" stroke-width="1.3" stroke-linejoin="round" points="123.7,528.5 123.9,529.2 124.1,531.8 124.3,530.9 124.5,528.9 124.7,530.4 124.9,530.7 125.1,529.4 125.3,532 125.5,529.4 125.7,530.7 125.9,531.3 126.1,531 126.3,531.8 126.5,532.6 126.7,533.6 126.9,530.7 127.1,532.4 127.3,532.7 127.5,531 127.7,529.9 127.9,534.2 128.1,531.3 128.3,531.5 128.5,534.1 128.7,532.8 128.9,532.4 129.1,533.8 129.3,530.7 129.5,533.7 129.7,532.3 129.9,531.2 130.1,533.7 130.3,535 130.5,531.9 130.7,533.9 130.9,532.5 131.1,534.5 131.3,534.5 131.5,532.4 131.7,535.1 131.9,534.5 132.1,534.7 132.3,535.3 132.5,533.7 132.7,535.2 132.9,535.9 133.1,532.6 133.3,535.9 133.5,534 133.7,534.5 133.9,533.1 134.1,535.6 134.3,533.9 134.5,536.5 134.7,534 134.9,535.3 135.1,534.7 135.3,535.7 135.5,534 135.7,534 135.9,536.5 136.1,536.6 136.3,535.9 136.5,537.5 136.7,534.5 136.9,537.4 137.1,534.5 137.3,538 137.5,536.6 137.7,536.6 137.9,538.3 138.1,537.5 138.3,537.6 138.5,534.5 138.7,536 138.9,534.8 139.1,535.4 139.3,535.5 139.5,538.4 139.7,535.3 139.9,536.1 140.1,537 140.3,538.6 140.5,539.2 140.7,538.1 140.9,536.1 141.1,537.6 141.3,538.4 141.5,535.7 141.7,538.4 141.9,537.2 142.1,538.2 142.3,538.6 142.5,538.7 142.7,538.2 142.9,538.4 143.1,536.9 143.3,538.3 143.5,536.8 143.7,538.4 143.9,538.7 144.1,539.8 144.3,538.3 144.5,536.8 144.7,539 144.9,537.7 145.1,540.1 145.3,538.6 145.5,538.7 145.7,541 145.9,538.9 146.1,538.7 146.3,538.8 146.5,539.4 146.7,537.8 146.9,539.8 147.1,541.4 147.3,540 147.5,540.8 147.7,541.7 147.9,541.3 148.1,540.9 148.3,541.2 148.5,541.3 148.7,538.9 148.9,539.9 149.1,539.3 149.3,539 149.5,540.3 149.7,539.2 149.9,540.5 150.1,540.3 150.3,538.3 150.5,539.7 150.7,539.4 150.9,540.7 151.1,538 151.3,538.3 151.5,539.6 151.7,539.1 151.9,540.1 152.1,538.6 152.3,538 152.5,541 152.7,538 152.9,537.5 153.1,537.9 153.3,538.1 153.5,537.5 153.7,538.7 153.9,540.3 154.1,536.8 154.3,537.9 154.5,538.9 154.7,539.7 154.9,540.1 155.1,536.5 155.3,538 155.5,539.4 155.7,535.9 155.9,538 156.1,536.2 156.3,538.6 156.5,539.2 156.7,537.4 156.9,535.2 157.1,535.3 157.3,536.7 157.5,538.4 157.7,535.8 157.9,537.5 158.1,536.3 158.3,535.7 158.5,537.5 158.7,535.8 158.9,536 159.1,537.6 159.3,536.5 159.5,537.7 159.7,536.6 159.9,535.1 160.1,536.3 160.3,538.1 160.5,536.8 160.7,538.5 160.9,534.6 161.1,536 161.3,537.8 161.5,537.5 161.7,537 161.9,537.5 162.1,538.5 162.3,537.7 162.5,537.2 162.7,537.3 162.9,537.8 163.1,536.5 163.3,538 163.5,537.8 163.7,538.6 163.9,537.4 164.1,535.6 164.3,537.8 164.5,539.2 164.7,538.3 164.9,538.4 165.1,537.5 165.3,537.4 165.5,538.9 165.7,536.4 165.9,539.7 166.1,539.8 166.3,540.2 166.5,536.9 166.7,536.8 166.9,540.1 167.1,538.1 167.3,537.6 167.5,538.2 167.7,539.3 167.9,537.4 168.1,538.8 168.3,539.5 168.5,539.8 168.7,537 168.9,540.3 169.1,538.9 169.3,538.9 169.5,539.5 169.7,538.4 169.9,541 170.1,538.3 170.3,539.7 170.5,538.2 170.7,540.1 170.9,541.3 171.1,541.3 171.3,538.4 171.5,540.4 171.7,541.5 171.9,538.8 172.1,539.7 172.3,541 172.5,541.1 172.7,540 172.9,540.8 173.1,541 173.3,539.8 173.5,541 173.7,540.7 173.9,541.3 174.1,540.5 174.3,539.9 174.5,540.3 174.7,542.3 174.9,539.3 175.1,539.2 175.3,538.6 175.5,542 175.7,542.6 175.9,539.5 176.1,539.6 176.3,539.3 176.5,540.9 176.7,540.4 176.9,541.8 177.1,539.3 177.3,541.9 177.5,540.2 177.7,541.5 177.9,541.5 178.1,541.8 178.3,540.1 178.5,540.5 178.7,540.3 178.9,538.7 179.1,539.9 179.3,541.5 179.5,541.4 179.7,537.7 179.9,540.2 180.1,538.8 180.3,538 180.5,537.9 180.7,540.4 180.9,541 181.1,539.2 181.3,538.5 181.5,539 181.7,540.2 181.9,539.8 182.1,537 182.3,537.5 182.5,540 182.7,538.4 182.9,539 183.1,539.4 183.3,538.8 183.5,539.1 183.7,538.3 183.9,537 184.1,536.7 184.3,539.9 184.5,535.9 184.7,538.5 184.9,539.2 185.1,536.6 185.3,535.8 185.5,537.1 185.7,536.7 185.9,537.1 186.1,536.9 186.3,538.9 186.5,535.5 186.7,538.7 186.9,535.1 187.1,538.5 187.3,536.1 187.5,537.5 187.7,534.6 187.9,536.3 188.1,537.1 188.3,536.8 188.5,537.4 188.7,534.8 188.9,535.7 189.1,536.4 189.3,534.1 189.5,537.2 189.7,535.4 189.9,534.7 190.1,534.6 190.3,536.2 190.5,533.8 190.7,534.5 190.9,534.7 191.1,534.4 191.3,536.3 191.5,535.7 191.7,536.9 191.9,536 192.1,534.4 192.3,534.5 192.5,533.7 192.7,534.2 192.9,535.6 193.1,536.1 193.3,534.4 193.5,534.6 193.7,536.4 193.9,537.1 194.1,533.7 194.3,533.7 194.5,536.4 194.7,535.4 194.9,535.2 195.1,536 195.3,536.6 195.5,534 195.7,537.5 195.9,537.5 196.1,535.5 196.3,535.8 196.5,535.1 196.7,536.3 196.9,534.9 197.1,536.3 197.3,537.8 197.5,536.3 197.7,537.6 197.9,535.2 198.1,538 198.3,535.1 198.5,535.5 198.7,537.5 198.9,536 199.1,535.3 199.3,535.2 199.5,538 199.7,535.1 199.9,535.3 200.1,538.7 200.3,538.2 200.5,536.6 200.7,536 200.9,538.6 201.1,538.4 201.3,538 201.5,537.5 201.7,537.5 201.9,539.3 202.1,537.6 202.3,536 202.5,536 202.7,538 202.9,538.6 203.1,538.2 203.3,538.7 203.5,537.1 203.7,537.4 203.9,537 204.1,537.5 204.3,537.1 204.5,539.3 204.7,536.7 204.9,537 205.1,538.9 205.3,537.8 205.5,537.6 205.7,540 205.9,539.7 206.1,537.1 206.3,536.9 206.5,538.2 206.7,538.5 206.9,537.6 207.1,538.5 207.3,538.8 207.5,539.2 207.7,537 207.9,538.5 208.1,536.2 208.3,536.1 208.5,536 208.7,536.1 208.9,538.6 209.1,536.9 209.3,537.3 209.5,537 209.7,536 209.9,535.3 210.1,535.7 210.3,538.1 210.5,536.1 210.7,536.3 210.9,535.6 211.1,537.3 211.3,537 211.5,535.8 211.7,536.1 211.9,535.6 212.1,536.2 212.3,536.2 212.5,536.1 212.7,537.3 212.9,537.4 213.1,533.9 213.3,535.1 213.5,533.7 213.7,534.9 213.9,536.4 214.1,535.9 214.3,535.4 214.5,533.5 214.7,536.1 214.9,535.3 215.1,534.1 215.3,535.8 215.5,532.9 215.7,533.4 215.9,535.6 216.1,532.8 216.3,533 216.5,534.3 216.7,535.1 216.9,534.6 217.1,532.5 217.3,533.3 217.5,534.9 217.7,533.5 217.9,532.9 218.1,532.2 218.3,533.1 218.5,535.6 218.7,532.3 218.9,534.2 219.1,535.5 219.3,534.8 219.5,533.3 219.7,534.7 219.9,532.8 220.1,534.2 220.3,533.4 220.5,535.7 220.7,535.8 220.9,535.5 221.1,534.1 221.3,535.8 221.5,536.5 221.7,534.4 221.9,535 222.1,533.8 222.3,533.7 222.5,536.1 222.7,533.7 222.9,535.8 223.1,534.2 223.3,536.3 223.5,536.7 223.7,537.5 223.9,535.6 224.1,535.7 224.3,535.8 224.5,537 224.7,537.4 224.9,535 225.1,535.9 225.3,535 225.5,535.7 225.7,537.7 225.9,538.5 226.1,538.8 226.3,535.5 226.5,536.9 226.7,538.7 226.9,537.4 227.1,537 227.3,538.7 227.5,539.1 227.7,536.6 227.9,538 228.1,536.8 228.3,537 228.5,538.4 228.7,537.5 228.9,539.6 229.1,538.1 229.3,537.5 229.5,539.3 229.7,538 229.9,537.4 230.1,540.8 230.3,538 230.5,537.8 230.7,539.2 230.9,537.5 231.1,540.4 231.3,537.9 231.5,537.8 231.7,541.1 231.9,539.5 232.1,541 232.3,540.9 232.5,540.3 232.7,537.8 232.9,540 233.1,537.9 233.3,537.6 233.5,540.6 233.7,538.6 233.9,540.1 234.1,539.3 234.3,540.1 234.5,539.5 234.7,540.7 234.9,538.8 235.1,540.1 235.3,539.9 235.5,538.9 235.7,538.5 235.9,538.2 236.1,538.9 236.3,537.1 236.5,537.9 236.7,538.6 236.9,537.2 237.1,536.8 237.3,536.3 237.5,538.7 237.7,538.9 237.9,538.6 238.1,538.1 238.3,537.6 238.5,535.6 238.7,538.5 238.9,536.9 239.1,537.6 239.3,535.5 239.5,537.7 239.7,535.5 239.9,538.3 240.1,537.3 240.3,536.6 240.5,536.9 240.7,535.3 240.9,536.2 241.1,534.7 241.3,535.3 241.5,535.2 241.7,534.7 241.9,535.5 242.1,534.1 242.3,533.9 242.5,534.9 242.7,537.2 242.9,536.2 243.1,535 243.3,534.2 243.5,533.8 243.7,534.8 243.9,535.6 244.1,536.1 244.3,534.8 244.5,536.1 244.7,535.9 244.9,536 245.1,534.2 245.3,534.6 245.5,533.5 245.7,535 245.9,533.1 246.1,534.6 246.3,533.5 246.5,534.6 246.7,533.6 246.9,533 247.1,534.5 247.3,534.5 247.5,534.9 247.7,533.5 247.9,534.8 248.1,534.2 248.3,533.4 248.5,534.6 248.7,535.5 248.9,534.3 249.1,535.8 249.3,536 249.5,533.4 249.7,534.1 249.9,534.4 250.1,535.5 250.3,535.2 250.5,535.5 250.7,533.8 250.9,534.5 251.1,534.1 251.3,536.2 251.5,536 251.7,534.7 251.9,536.7 252.1,534.2 252.3,533.8 252.5,535 252.7,536.1 252.9,537 253.1,535.5 253.3,534.3 253.5,535.9 253.7,533.9 253.9,536.6 254.1,534.9 254.3,534.2 254.5,534.3 254.7,536.7 254.9,537 255.1,534.5 255.3,537.3 255.5,536.8 255.7,535 255.9,534.1 256.1,534.4 256.3,535.4 256.5,534.6 256.7,534.5 256.9,534.9 257.1,536.9 257.3,534.1 257.5,537.1 257.7,535.5 257.9,536.5 258.1,535.7 258.3,537.2 258.5,534.6 258.7,534.8 258.9,535.7 259.1,535.7 259.3,535.1 259.5,535 259.7,534.3 259.9,535.7 260.1,536.8 260.3,537 260.5,535.4 260.7,537.3 260.9,537.3 261.1,535 261.3,534.3 261.5,536.6 261.7,536.9 261.9,535.8 262.1,536.7 262.3,534.9 262.5,534.9 262.7,533.4 262.9,534 263.1,535.3 263.3,533 263.5,532.9 263.7,532.5 263.9,533.3 264.1,533.2 264.3,532.9 264.5,533.1 264.7,532.6 264.9,532.3 265.1,532 265.3,531.7 265.5,531.1 265.7,530.9 265.9,531 266.1,530.5 266.3,530.3 266.5,530.1 266.7,529.8 266.9,529.4 267.1,529.1 267.3,528.7 267.5,528.6 267.7,528.3 267.9,527.7 268.1,527.4 268.3,527.1 268.5,526.9 268.7,526.4 268.9,526.3 269.1,525.7 269.3,525.5 269.5,525.2 269.7,524.9 269.9,524.5 270.1,524.2 270.3,523.7 270.5,523 270.7,522.8 270.9,522.5 271.1,522 271.3,521.7 271.5,521 271.7,520.8 271.9,520.3 272.1,520.1 272.3,519.3 272.5,519 272.7,518.8 272.9,518.2 273.1,517.8 273.3,517.3 273.5,516.7 273.7,516.4 273.9,516.1 274.1,515.6 274.3,515 274.5,514.7 274.7,514.2 274.9,513.8 275.1,513 275.3,512.5 275.5,512.4 275.7,511.6 275.9,511.3 276.1,510.8 276.3,510.4 276.5,509.6 276.7,509.4 276.9,508.9 277.1,508.1 277.3,507.8 277.5,507.1 277.7,506.9 277.9,506.2 278.1,505.8 278.3,505.4 278.5,504.6 278.7,504.4 278.9,503.6 279.1,503.1 279.3,502.7 279.5,502.2 279.7,501.8 279.9,501.1 280.1,500.8 280.3,500.4 280.5,499.9 280.7,499.2 280.9,498.6 281.1,498.2 281.3,497.7 281.5,497.3 281.7,496.6 281.9,496 282.1,495.4 282.3,495.1 282.5,494.5 282.7,493.7 282.9,493.2 283.1,492.6 283.3,492.1 283.5,491.4 283.7,490.7 283.9,490.2 284.1,489.6 284.3,488.8 284.5,488.3 284.7,487.3 284.9,486.7 285.1,486.3 285.3,485.5 285.5,485 285.7,484.4 285.9,483.7 286.1,483.2 286.3,482.6 286.5,482 286.7,481.5 286.9,481.2 287.1,480.4 287.3,479.9 287.5,479.4 287.7,478.9 287.9,478.2 288.1,477.9 288.3,477.2 288.5,476.9 288.7,476.4 288.9,476.1 289.1,475.7 289.3,475.3 289.5,474.7 289.7,474.6 289.9,474.5 290.1,474.1 290.3,474.1 290.5,473.9 290.7,473.8 290.9,473.7 291.1,473.7 291.3,473.2 291.5,473.1 291.7,473 291.9,473 292.1,472.9 292.3,473.2 292.5,472.9 292.7,473 292.9,473.2 293.1,473.1 293.3,473.1 293.5,473.3 293.7,473.4 293.9,473.5 294.1,473.8 294.3,473.9 294.5,473.9 294.7,474.4 294.9,474.6 295.1,474.6 295.3,474.6 295.5,475.1 295.7,475 295.9,475.2 296.1,475.4 296.3,475.8 296.5,475.9 296.7,476 296.9,476.2 297.1,476.5 297.3,476.7 297.5,477 297.7,477.4 297.9,477.2 298.1,477.8 298.3,478 298.5,478 298.7,478.6 298.9,478.8 299.1,479 299.3,479 299.5,479.4 299.7,479.8 299.9,480 300.1,480 300.3,480.6 300.5,480.7 300.7,480.9 300.9,481.2 301.1,481.4 301.3,481.7 301.5,481.8 301.7,482.5 301.9,482.4 302.1,482.7 302.3,483 302.5,483.3 302.7,483.5 302.9,483.9 303.1,483.9 303.3,484.5 303.5,484.5 303.7,485 303.9,484.9 304.1,485.1 304.3,485.7 304.5,485.6 304.7,486.1 304.9,486.5 305.1,486.4 305.3,486.7 305.5,487.1 305.7,487.5 305.9,487.7 306.1,487.8 306.3,488.1 306.5,488.4 306.7,488.4 306.9,489 307.1,489.2 307.3,489.1 307.5,489.5 307.7,489.8 307.9,490 308.1,489.9 308.3,490.1 308.5,490.4 308.7,490.6 308.9,491 309.1,491.3 309.3,491.5 309.5,491.9 309.7,491.9 309.9,492.1 310.1,492.3 310.3,492.8 310.5,492.9 310.7,493.3 310.9,493.5 311.1,493.4 311.3,493.8 311.5,494 311.7,494.3 311.9,494.2 312.1,494.7 312.3,494.9 312.5,494.9 312.7,495 312.9,495.4 313.1,495.3 313.3,495.5 313.5,495.5 313.7,495.8 313.9,495.8 314.1,496.1 314.3,496.2 314.5,496.2 314.7,496.1 314.9,496.3 315.1,496.3 315.3,496.2 315.5,496.3 315.7,496.3 315.9,496.1 316.1,496.2 316.3,496 316.5,495.8 316.7,495.8 316.9,495.8 317.1,495.5 317.3,495.7 317.5,495.4 317.7,495.3 317.9,495.3 318.1,495.2 318.3,495 318.5,494.9 318.7,494.8 318.9,494.6 319.1,494.5 319.3,494.5 319.5,494.1 319.7,494 319.9,494 320.1,493.8 320.3,494 320.5,493.7 320.7,493.7 320.9,493.5 321.1,493.2 321.3,493.3 321.5,493.1 321.7,492.7 321.9,492.8 322.1,492.6 322.3,492.3 322.5,492.3 322.7,492.3 322.9,492 323.1,492.1 323.3,492 323.5,492 323.7,491.9 323.9,492.7 324.1,493.4 324.3,494.5 324.5,496 324.7,498.4 324.9,498.9 325.1,497.3 325.3,495.1 325.5,492 325.7,489.1 325.9,486.8 326.1,484.2 326.3,482.5 326.5,478.7 326.7,478.1 326.9,472.8 327.1,471.4 327.3,470.7 327.5,472.3 327.7,470.2 327.9,467.7 328.1,466.7 328.3,469.7 328.5,463.5 328.7,468 328.9,463.7 329.1,466 329.3,466.5 329.5,462.5 329.7,459.9 329.9,459.8 330.1,459.4 330.3,457.6 330.5,460.2 330.7,461.7 330.9,459.1 331.1,463.9 331.3,463.5 331.5,461.8 331.7,461.8 331.9,457.4 332.1,461.3 332.3,455 332.5,454.7 332.7,455.2 332.9,457.5 333.1,461.2 333.3,455.1 333.5,458.3 333.7,460.3 333.9,462.7 334.1,460.3 334.3,457.6 334.5,456.3 334.7,460.2 334.9,463 335.1,463.4 335.3,461.6 335.5,457.8 335.7,457 335.9,456.9 336.1,459 336.3,461.5 336.5,458.1 336.7,462.5 336.9,459.9 337.1,464.3 337.3,462.1 337.5,464.3 337.7,459.8 337.9,462.8 338.1,465.8 338.3,458.1 338.5,466.4 338.7,463.5 338.9,467.3 339.1,461 339.3,463 339.5,464.9 339.7,464.2 339.9,464.6 340.1,466.9 340.3,460.7 340.5,465.9 340.7,463.6 340.9,467.9 341.1,468.4 341.3,464 341.5,463.3 341.7,468.4 341.9,468.9 342,467.5"/>
<polyline fill="none" stroke="#000" stroke-width="1.3" stroke-linejoin="round" points="123.7,612 123.9,609.9 124.1,613.2 124.3,608.4 124.5,612 124.7,611.1 124.9,614 125.1,610.9 125.3,615.2 125.5,613.6 125.7,615.9 125.9,613.8 126.1,613.7 126.3,615.8 126.5,617 126.7,613.9 126.9,617.2 127.1,617.1 127.3,613.3 127.5,615.7 127.7,616.2 127.9,617.5 128.1,616.2 128.3,613.5 128.5,615.4 128.7,615.4 128.9,615.4 129.1,617.5 129.3,614.4 129.5,613.7 129.7,614.9 129.9,615.3 130.1,616.4 130.3,614.5 130.5,612.9 130.7,615.6 130.9,613.4 131.1,613.9 131.3,612.8 131.5,611.4 131.7,613.2 131.9,613.3 132.1,610.6 132.3,611.5 132.5,610.8 132.7,609.8 132.9,609.8 133.1,612.5 133.3,611.9 133.5,609.6 133.7,610.7 133.9,607.8 134.1,610.8 134.3,609.1 134.5,609.9 134.7,607.6 134.9,607.7 135.1,607.4 135.3,609.4 135.5,607.2 135.7,607.3 135.9,608.7 136.1,608.4 136.3,606.4 136.5,605.9 136.7,607.5 136.9,604.8 137.1,605.6 137.3,607.2 137.5,607.2 137.7,604.6 137.9,603.8 138.1,606.2 138.3,605.4 138.5,603.9 138.7,604.7 138.9,603 139.1,605.1 139.3,604.3 139.5,604.8 139.7,602.5 139.9,604.4 140.1,603.3 140.3,603.6 140.5,602.9 140.7,603.9 140.9,603.6 141.1,603.7 141.3,601.7 141.5,602.2 141.7,601.6 141.9,602.7 142.1,603 142.3,601.7 142.5,603.7 142.7,603.1 142.9,603.1 143.1,603.5 143.3,604.8 143.5,603.5 143.7,601.8 143.9,602 144.1,604.1 144.3,602.8 144.5,604.4 144.7,603.6 144.9,603.2 145.1,604.5 145.3,602.6 145.5,603.1 145.7,603.2 145.9,603.7 146.1,605.5 146.3,605.3 146.5,605.4 146.7,604.8 146.9,602.7 147.1,603.8 147.3,604.7 147.5,606.2 147.7,604.4 147.9,605.1 148.1,606.3 148.3,604.6 148.5,606.1 148.7,605.7 148.9,605.5 149.1,606 149.3,605.6 149.5,604.4 149.7,607.3 149.9,607.6 150.1,607.2 150.3,605.6 150.5,606.7 150.7,607.3 150.9,604.9 151.1,607.6 151.3,605.2 151.5,608.4 151.7,606.1 151.9,608.8 152.1,606.3 152.3,607.5 152.5,608.7 152.7,609.4 152.9,608.5 153.1,609.1 153.3,607.7 153.5,609.1 153.7,608 153.9,610.1 154.1,609.6 154.3,608.4 154.5,610 154.7,607.5 154.9,610.7 155.1,610.1 155.3,608.9 155.5,610.2 155.7,610.8 155.9,610.3 156.1,611.4 156.3,609.8 156.5,609.6 156.7,609.9 156.9,609.7 157.1,610.5 157.3,611.6 157.5,612.1 157.7,611.3 157.9,612 158.1,612.7 158.3,611.8 158.5,609.8 158.7,611.8 158.9,609.8 159.1,612.2 159.3,613.5 159.5,611.8 159.7,613.5 159.9,610.3 160.1,613.8 160.3,611.1 160.5,613.5 160.7,611.7 160.9,612.1 161.1,611.3 161.3,611 161.5,613.6 161.7,613.6 161.9,611.5 162.1,613.3 162.3,612.1 162.5,614.4 162.7,611.7 162.9,613.3 163.1,614.4 163.3,613.1 163.5,613.6 163.7,614.1 163.9,613.7 164.1,614 164.3,611.8 164.5,614.2 164.7,612.7 164.9,614 165.1,613.2 165.3,613.2 165.5,613.8 165.7,610.7 165.9,613.3 166.1,611.1 166.3,612.9 166.5,610.6 166.7,611.3 166.9,610 167.1,612.2 167.3,610.2 167.5,610.7 167.7,611.7 167.9,610 168.1,611.7 168.3,610.2 168.5,611.6 168.7,610.8 168.9,611.5 169.1,610.3 169.3,608.8 169.5,609.4 169.7,610.7 169.9,610.6 170.1,608.1 170.3,608 170.5,607.8 170.7,609 170.9,607.3 171.1,609 171.3,607.5 171.5,609.2 171.7,606.9 171.9,609.2 172.1,606.9 172.3,605.7 172.5,606 172.7,608.2 172.9,605.7 173.1,605.9 173.3,608.3 173.5,606.1 173.7,606.8 173.9,606.3 174.1,605.9 174.3,607.2 174.5,604.1 174.7,605.2 174.9,605.3 175.1,606 175.3,606 175.5,603.3 175.7,603.6 175.9,603.9 176.1,604.2 176.3,605.6 176.5,605.5 176.7,606 176.9,604.1 177.1,604.1 177.3,603.1 177.5,605.7 177.7,605.7 177.9,605.9 178.1,605.1 178.3,605.6 178.5,604.5 178.7,605.5 178.9,603.7 179.1,605.2 179.3,605.3 179.5,604.8 179.7,605.6 179.9,605 180.1,603.6 180.3,602.9 180.5,603.9 180.7,603.5 180.9,606 181.1,604.7 181.3,605.5 181.5,606.2 181.7,605.8 181.9,606.1 182.1,605 182.3,605.8 182.5,606.5 182.7,604.8 182.9,605.7 183.1,606.7 183.3,604.2 183.5,603.7 183.7,605.2 183.9,606.7 184.1,605.4 184.3,604.4 184.5,607.2 184.7,605.4 184.9,605.4 185.1,604.1 185.3,605.5 185.5,607.4 185.7,605.6 185.9,606.8 186.1,607.4 186.3,604.3 186.5,606.7 186.7,604.9 186.9,606.2 187.1,607.5 187.3,605.8 187.5,607.1 187.7,605.7 187.9,606.8 188.1,607.3 188.3,606.7 188.5,606 188.7,607.6 188.9,605.5 189.1,606.3 189.3,608 189.5,607.1 189.7,605.7 189.9,607.8 190.1,608.8 190.3,606.3 190.5,609 190.7,605.9 190.9,609.3 191.1,608.2 191.3,607.1 191.5,606.9 191.7,607.9 191.9,608 192.1,608.4 192.3,608.5 192.5,607.2 192.7,607.8 192.9,607.6 193.1,610 193.3,607.8 193.5,609.7 193.7,607.8 193.9,609.9 194.1,609.2 194.3,609.6 194.5,610.5 194.7,609.1 194.9,610.5 195.1,611.4 195.3,610.9 195.5,610.5 195.7,610.9 195.9,611.7 196.1,608.7 196.3,612.2 196.5,610.4 196.7,612 196.9,609.1 197.1,610 197.3,611 197.5,611.1 197.7,612.4 197.9,610.3 198.1,610 198.3,611.4 198.5,609.8 198.7,612.4 198.9,610.1 199.1,609.3 199.3,611.4 199.5,610 199.7,612.4 199.9,609.6 200.1,610.9 200.3,611.2 200.5,610.8 200.7,609.2 200.9,610.8 201.1,609.3 201.3,609 201.5,611.9 201.7,609.6 201.9,608.8 202.1,608.6 202.3,611.4 202.5,611.3 202.7,610.8 202.9,610.9 203.1,609 203.3,609.9 203.5,610.4 203.7,608.6 203.9,610.1 204.1,610.2 204.3,609.2 204.5,609.5 204.7,607.2 204.9,608.3 205.1,608 205.3,608 205.5,609.8 205.7,609.8 205.9,606.6 206.1,608.3 206.3,606.9 206.5,608.3 206.7,609.3 206.9,606.3 207.1,607.1 207.3,606.8 207.5,608 207.7,608.2 207.9,605.5 208.1,605.9 208.3,606.4 208.5,608.3 208.7,607.5 208.9,607 209.1,608 209.3,605.9 209.5,607.2 209.7,605.2 209.9,605.1 210.1,607.2 210.3,606.8 210.5,605.9 210.7,604.2 210.9,604.6 211.1,606.6 211.3,604.8 211.5,603.3 211.7,603.8 211.9,604.9 212.1,605.7 212.3,604.1 212.5,603.3 212.7,605 212.9,603.2 213.1,602.9 213.3,603.9 213.5,603.5 213.7,604.6 213.9,603 214.1,603.6 214.3,602.8 214.5,603.4 214.7,604.1 214.9,601.2 215.1,603.8 215.3,603.8 215.5,601.8 215.7,600.5 215.9,601.9 216.1,602.6 216.3,600.9 216.5,600.8 216.7,601.3 216.9,603.1 217.1,602 217.3,602.3 217.5,601.8 217.7,602.1 217.9,601.2 218.1,601.4 218.3,600.1 218.5,603.1 218.7,600.3 218.9,602.5 219.1,601.9 219.3,602.3 219.5,601.5 219.7,601.6 219.9,600.9 220.1,600 220.3,601.9 220.5,601.9 220.7,601 220.9,603 221.1,603.1 221.3,601.2 221.5,601.6 221.7,600.8 221.9,602.5 222.1,600.8 222.3,601.2 222.5,603.5 222.7,600.8 222.9,603.4 223.1,602.3 223.3,601.1 223.5,603.2 223.7,602.5 223.9,603.2 224.1,601.9 224.3,601.7 224.5,601.1 224.7,601.2 224.9,602.6 225.1,602.3 225.3,601.2 225.5,601.7 225.7,602.8 225.9,601.3 226.1,601.3 226.3,603.6 226.5,601.7 226.7,602.8 226.9,604.7 227.1,601.8 227.3,602.9 227.5,602.3 227.7,604.4 227.9,603.5 228.1,602.1 228.3,604.5 228.5,605.1 228.7,604.7 228.9,602.8 229.1,605.5 229.3,604.6 229.5,603.6 229.7,602.7 229.9,604.3 230.1,602.9 230.3,603.1 230.5,605 230.7,605.4 230.9,605.1 231.1,604.6 231.3,606 231.5,606.2 231.7,603.5 231.9,606 232.1,606.3 232.3,605.7 232.5,605.2 232.7,606.5 232.9,604.1 233.1,607.2 233.3,606 233.5,606.3 233.7,606.7 233.9,606.1 234.1,605.6 234.3,605.5 234.5,605.3 234.7,604.9 234.9,607.8 235.1,608.3 235.3,607.4 235.5,606.2 235.7,606.6 235.9,608.1 236.1,607 236.3,606.8 236.5,608.2 236.7,606.5 236.9,606 237.1,607 237.3,608.7 237.5,609.1 237.7,606.5 237.9,608.4 238.1,606.2 238.3,608 238.5,606.2 238.7,606.5 238.9,608.4 239.1,606.2 239.3,607.5 239.5,606.9 239.7,609 239.9,608.2 240.1,606.5 240.3,608.8 240.5,607.6 240.7,605.9 240.9,606.3 241.1,608 241.3,608.4 241.5,605.2 241.7,606.9 241.9,605.5 242.1,607.1 242.3,604.7 242.5,607 242.7,606.2 242.9,606.5 243.1,605.8 243.3,606.4 243.5,606.8 243.7,604.1 243.9,604.9 244.1,604.3 244.3,605 244.5,605.4 244.7,604.6 244.9,605.7 245.1,603 245.3,603.4 245.5,603.2 245.7,602.9 245.9,604.5 246.1,604.7 246.3,603.4 246.5,604.5 246.7,603.2 246.9,603.9 247.1,601.9 247.3,602.8 247.5,601.8 247.7,604 247.9,603.6 248.1,604.2 248.3,604.1 248.5,602.9 248.7,601.5 248.9,601.9 249.1,602.9 249.3,603 249.5,602.9 249.7,600.8 249.9,600.7 250.1,602.6 250.3,600.3 250.5,601.7 250.7,601.3 250.9,602.5 251.1,599.9 251.3,601.9 251.5,600.5 251.7,601.5 251.9,599.6 252.1,601.1 252.3,601.4 252.5,601.1 252.7,601.2 252.9,600.6 253.1,600.2 253.3,600.6 253.5,598.6 253.7,600.4 253.9,598.5 254.1,599.5 254.3,599.4 254.5,598.2 254.7,598.4 254.9,600 255.1,599.7 255.3,599.1 255.5,599.7 255.7,598.7 255.9,598.9 256.1,598.7 256.3,599.8 256.5,597.5 256.7,600 256.9,597.3 257.1,598.3 257.3,600.5 257.5,598 257.7,598.5 257.9,597.8 258.1,600.1 258.3,597.9 258.5,598.7 258.7,598.5 258.9,598.1 259.1,599.3 259.3,598.7 259.5,600.7 259.7,599.1 259.9,600 260.1,597.8 260.3,600.6 260.5,599.8 260.7,598.9 260.9,599.8 261.1,598 261.3,598.6 261.5,600.5 261.7,599.8 261.9,601.3 262.1,600.7 262.3,601.6 262.5,601.3 262.7,599 262.9,601.5 263.1,601 263.3,599.4 263.5,599.4 263.7,600 263.9,601.7 264.1,600.4 264.3,601 264.5,600.9 264.7,601.5 264.9,600.9 265.1,599.7 265.3,602.8 265.5,601.6 265.7,599.9 265.9,600.5 266.1,603 266.3,603.1 266.5,601.7 266.7,601.3 266.9,601.7 267.1,601.4 267.3,602 267.5,602.5 267.7,601.1 267.9,603.9 268.1,601.5 268.3,601.2 268.5,603.1 268.7,602.3 268.9,603.7 269.1,602 269.3,603.3 269.5,602 269.7,604.5 269.9,602.6 270.1,605.2 270.3,602.8 270.5,604.2 270.7,603.8 270.9,605.6 271.1,603.8 271.3,604.6 271.5,605.8 271.7,603.2 271.9,604.7 272.1,606 272.3,604.2 272.5,603.8 272.7,605.4 272.9,606.3 273.1,606.6 273.3,605.4 273.5,604.5 273.7,604 273.9,605.3 274.1,604.6 274.3,606.2 274.5,606.6 274.7,606.6 274.9,605.1 275.1,607.7 275.3,607.1 275.5,606.7 275.7,607.3 275.9,607.8 276.1,605.8 276.3,607.3 276.5,606.1 276.7,606 276.9,607.9 277.1,605.1 277.3,606.3 277.5,607.3 277.7,606.7 277.9,605.8 278.1,607 278.3,605.2 278.5,606 278.7,605.9 278.9,604.7 279.1,604.7 279.3,606.8 279.5,604.2 279.7,606.9 279.9,604.7 280.1,606.7 280.3,605.7 280.5,604.8 280.7,605.9 280.9,603.3 281.1,604.6 281.3,605 281.5,604.9 281.7,603.3 281.9,602.3 282.1,605.1 282.3,604.8 282.5,602.7 282.7,604.2 282.9,601.8 283.1,602.1 283.3,604.2 283.5,601.1 283.7,602.5 283.9,602.8 284.1,602.9 284.3,603.1 284.5,600.1 284.7,602.1 284.9,601.8 285.1,601.1 285.3,600.1 285.5,601.9 285.7,600.1 285.9,601 286.1,599.7 286.3,599.9 286.5,601.5 286.7,598.9 286.9,600.8 287.1,598.1 287.3,600.9 287.5,599.8 287.7,598.7 287.9,600.1 288.1,599.8 288.3,600.4 288.5,599.5 288.7,599.6 288.9,598.2 289.1,599.5 289.3,599.3 289.5,598.3 289.7,597.4 289.9,599.6 290.1,597.9 290.3,598.9 290.5,596.4 290.7,597.1 290.9,596.7 291.1,598.3 291.3,597.1 291.5,598.4 291.7,596.8 291.9,596.6 292.1,596.6 292.3,596.2 292.5,597.2 292.7,596.9 292.9,598.1 293.1,596.2 293.3,595.4 293.5,597.8 293.7,597.9 293.9,596.6 294.1,594.9 294.3,596.3 294.5,595.2 294.7,595.6 294.9,595.8 295.1,594.6 295.3,596 295.5,595.9 295.7,595 295.9,594.5 296.1,596 296.3,596.2 296.5,597.1 296.7,595.9 296.9,594.5 297.1,594.4 297.3,593.7 297.5,593.9 297.7,596.2 297.9,593.6 298.1,594.9 298.3,594 298.5,595.4 298.7,595.8 298.9,595 299.1,595.5 299.3,593.3 299.5,593.4 299.7,593.2 299.9,593.9 300.1,593 300.3,595.4 300.5,595.7 300.7,595.4 300.9,593.8 301.1,594.2 301.3,595 301.5,593.4 301.7,593.9 301.9,595.2 302.1,594.5 302.3,594.2 302.5,593.7 302.7,595.6 302.9,594 303.1,594.4 303.3,594.9 303.5,593.8 303.7,596.1 303.9,594.3 304.1,595.7 304.3,595.4 304.5,593.9 304.7,593.5 304.9,595 305.1,596 305.3,594.1 305.5,596.3 305.7,594.4 305.9,595 306.1,594.3 306.3,594.5 306.5,596 306.7,596.5 306.9,594.4 307.1,597 307.3,596.1 307.5,596.2 307.7,596.1 307.9,594.9 308.1,597.7 308.3,597.5 308.5,595.1 308.7,595.8 308.9,595.5 309.1,596.3 309.3,596.4 309.5,598.1 309.7,597.3 309.9,598.2 310.1,598 310.3,595.9 310.5,597.9 310.7,597.5 310.9,596.1 311.1,597.5 311.3,598.1 311.5,596.4 311.7,598.8 311.9,599.1 312.1,599.4 312.3,596.3 312.5,597.5 312.7,597 312.9,597 313.1,598.5 313.3,598.2 313.5,598.9 313.7,599.4 313.9,598.3 314.1,599.7 314.3,599.9 314.5,600.4 314.7,597.3 314.9,598.4 315.1,600.4 315.3,600.2 315.5,598.2 315.7,600.3 315.9,600.6 316.1,600.2 316.3,598.1 316.5,600.1 316.7,597.8 316.9,599.6 317.1,599.6 317.3,600.3 317.5,598.8 317.7,599.3 317.9,599 318.1,598.1 318.3,598.9 318.5,600 318.7,599.9 318.9,598.2 319.1,597.7 319.3,600.4 319.5,599.7 319.7,597.8 319.9,599.4 320.1,598.2 320.3,599.7 320.5,600.2 320.7,598.6 320.9,600 321.1,597.5 321.3,598.1 321.5,598.6 321.7,598.9 321.9,598.8 322.1,600.2 322.3,598.2 322.5,597.9 322.7,600.1 322.9,599.2 323.1,599.4 323.3,598.7 323.5,599.2 323.7,600 323.9,598 324.1,598.8 324.3,598 324.5,599.3 324.7,598.1 324.9,597.9 325.1,597.2 325.3,595.8 325.5,596.3 325.7,590.9 325.9,591.4 326.1,587.6 326.3,590.6 326.5,587.8 326.7,591.4 326.9,587.4 327.1,594.2 327.3,591.5 327.5,586.7 327.7,593.1 327.9,591.7 328.1,584.9 328.3,589.6 328.5,591.2 328.7,583.1 328.9,584 329.1,584.3 329.3,588 329.5,587.5 329.7,582.8 329.9,582.7 330.1,582.2 330.3,584.9 330.5,583.4 330.7,584.5 330.9,588.7 331.1,584.6 331.3,583.1 331.5,583.2 331.7,584.9 331.9,587.4 332.1,583 332.3,585.9 332.5,585 332.7,584.1 332.9,583.3 333.1,583.2 333.3,581.9 333.5,578.3 333.7,582.7 333.9,577.6 334.1,583.3 334.3,578.4 334.5,582.3 334.7,581.1 334.9,578.9 335.1,581.7 335.3,584.1 335.5,579.9 335.7,579.7 335.9,579.6 336.1,574.5 336.3,576.1 336.5,580.8 336.7,574.5 336.9,575.5 337.1,581.4 337.3,581.3 337.5,575.8 337.7,572.5 337.9,577.7 338.1,578.7 338.3,573.6 338.5,575.4 338.7,569.6 338.9,573.7 339.1,565.5 339.3,572.9 339.5,567.5 339.7,567.4 339.9,567 340.1,564 340.3,562.2 340.5,559.8 340.7,561.3 340.9,562.8 341.1,560.2 341.3,552.3 341.5,553.8 341.7,551.9 341.9,541.7 342.1,539.8"/>
<polyline fill="none" stroke="#000" stroke-width="1.2" stroke-linejoin="round" points="391.4,238.9 391.6,238 391.8,232.5 392,228.2 392.2,223.9 392.4,248 392.6,228.5 392.8,222.6 393,222.4 393.2,236.7 393.4,215 393.6,225 393.8,228.3 394,236.8 394.2,236.2 394.4,236.1 394.6,250.5 394.8,232.6 395,236.1 395.2,228 395.4,235.8 395.6,232.3 395.8,241.2 396,229.9 396.2,238.4 396.4,240.9 396.6,248 396.8,240.8 397,240.2 397.2,229 397.4,237.5 397.6,228.4 397.8,234.3 398,233.2 398.2,230.2 398.4,231.2 398.6,236.3 398.8,230.2 399,227.8 399.2,233.3 399.4,230 399.6,233.1 399.8,226.8 400,227.2 400.2,231.5 400.4,228.2 400.6,227.8 400.8,225 401,222.8 401.2,230.1 401.4,222.8 401.6,228.3 401.8,224.4 402,228.1 402.2,223.9 402.4,227 402.6,224.2 402.8,221.9 403,224.4 403.2,223.6 403.4,223.3 403.6,221.9 403.8,220.5 404,221.9 404.2,219.5 404.4,221.3 404.6,220.7 404.8,219.4 405,220.4 405.2,218 405.4,218.2 405.6,219 405.8,217.3 406,217.7 406.2,216.9 406.4,217.2 406.6,216.8 406.8,215.5 407,215.1 407.2,213.2 407.4,213.7 407.6,213.3 407.8,211.9 408,211.5 408.2,210.7 408.4,210.6 408.6,209.1 408.8,208.5 409,207.3 409.2,207 409.4,206.4 409.6,205.8 409.8,204.8 410,203.5 410.2,202.8 410.4,201.3 410.6,200.4 410.8,198.9 411,197.5 411.2,195.6 411.4,193.6 411.6,191.3 411.8,188.8 412,186.3 412.2,183.8 412.4,181.2 412.6,178.8 412.8,176.3 413,173.8 413.2,171.2 413.4,168.5 413.6,165.7 413.8,162.9 414,160 414.2,156.9 414.4,153.6 414.6,150.2 414.8,146.7 415,143.2 415.2,139.8 415.4,136.6 415.6,133.5 415.8,130.6 416,127.8 416.2,125 416.4,122.3 416.6,119.6 416.8,116.8 417,114 417.2,111.2 417.4,108.5 417.6,105.7 417.8,103 418,100.1 418.2,97 418.4,93.7 418.6,90.2 418.8,86.2 419,81.8 419.2,77.2 419.4,72.4 419.6,67.3 419.8,60.7 420,53.4 420.2,46.8 420.4,41.9 420.6,40 420.8,42.7 421,49.4 421.2,58 421.4,66.5 421.6,73.1 421.8,79.3 422,85.4 422.2,91.3 422.4,97.1 422.6,102.8 422.8,108.4 423,113.9 423.2,119.3 423.4,124.6 423.6,129.8 423.8,135 424,140 424.2,144.9 424.4,149.8 424.6,154.6 424.8,159.3 425,163.9 425.2,168.4 425.4,172.8 425.6,177.2 425.8,181.5 426,185.9 426.2,190.2 426.4,194.3 426.6,198.2 426.8,201.8 427,205 427.2,207.9 427.4,210.6 427.6,213 427.8,215.4 428,217.6 428.2,219.8 428.4,222 428.6,224.2 428.8,226.5 429,228.7 429.2,230.8 429.4,232.8 429.6,234.5 429.8,236 430,237.3 430.2,238.6 430.4,239.4 430.6,240.9 430.8,241.2 431,241.8 431.2,242.8 431.4,242.8 431.6,245.8 431.8,244.7 432,244.6 432.2,244.5 432.4,245.3 432.6,246.4 432.8,247.6 433,248.8 433.2,250.6 433.4,250.8 433.6,248.9 433.8,250.6 434,252.2 434.2,249.6 434.4,252.7 434.6,251.4 434.8,253.2 435,251.9 435.2,253.3 435.4,253.2 435.6,252.1 435.8,254.7 436,255.3 436.2,254.3 436.4,254.3 436.6,256.6 436.8,254.8 437,256.8 437.2,255.4 437.4,255.5 437.6,255.7 437.8,254.9 438,255.9 438.2,256 438.4,255.6 438.6,257.6 438.8,257.5 439,256.2 439.2,256.9 439.4,259.9 439.6,257.3 439.8,258.4 440,260.7 440.2,258 440.4,259.3 440.6,261 440.8,258.4 441,258.9 441.2,262.2 441.4,261.6 441.6,260.3 441.8,261.4 442,260.8 442.2,263.4 442.4,263.8 442.6,260.9 442.8,262.8 443,261.8 443.2,262.8 443.4,264.3 443.6,264.4 443.8,262.7 444,263.5 444.2,264 444.4,264.1 444.6,265.3 444.8,265.9 445,264.4 445.2,265 445.4,263.8 445.6,265 445.8,267.3 446,265.9 446.2,266.2 446.4,266.6 446.6,266.6 446.8,267.6 447,265.8 447.2,266.2 447.4,268.4 447.6,267.2 447.8,269 448,266.2 448.2,268.7 448.4,267.8 448.6,267.9 448.8,269.5 449,267 449.2,268.5 449.4,267.6 449.6,268.1 449.8,269.9 450,268.5 450.2,270 450.4,267.3 450.6,271 450.8,270.9 451,269.9 451.2,268.3 451.4,270 451.6,268.3 451.8,269 452,267.8 452.2,268 452.4,268.3 452.6,268.3 452.8,270.7 453,268.6 453.2,270.6 453.4,267.7 453.6,267.8 453.8,267.8 454,270.9 454.2,270.5 454.4,267.6 454.6,270.8 454.8,268.3 455,268.4 455.2,269.5 455.4,268.1 455.6,270.8 455.8,268.6 456,269.2 456.2,269.2 456.4,268.1 456.6,269.7 456.8,270.6 457,269.1 457.2,267.2 457.4,269.8 457.6,269.2 457.8,268.5 458,269.1 458.2,267.6 458.4,267.7 458.6,268.4 458.8,266.7 459,268.5 459.2,267 459.4,267.1 459.6,269.4 459.8,268.2 460,266.8 460.2,268.4 460.4,269.3 460.6,268.9 460.8,268.4 461,266.7 461.2,267.5 461.4,267.4 461.6,265.5 461.8,267.6 462,266.9 462.2,266.8 462.4,267.4 462.6,265 462.8,265.4 463,268 463.2,265.5 463.4,265.2 463.6,264.5 463.8,265.2 464,265.9 464.2,264 464.4,264.7 464.6,264.5 464.8,264.1 465,266 465.2,266.4 465.4,266.2 465.6,264.6 465.8,263.4 466,264.2 466.2,264.6 466.4,264.2 466.6,265.1 466.8,265.1 467,265.5 467.2,264.3 467.4,263.7 467.6,265.5 467.8,265.5 468,263.4 468.2,263.7 468.4,264.9 468.6,265.4 468.8,265.8 469,263.4 469.2,263.9 469.4,264.6 469.6,265 469.8,265.6 470,265.1 470.2,265.1 470.4,264.6 470.6,265.8 470.8,265.8 471,266.9 471.2,265.5 471.4,265.7 471.6,266.5 471.8,266.8 472,267.5 472.2,267.3 472.4,268.7 472.6,269.3 472.8,268.2 473,270.4 473.2,269.4 473.4,270.4 473.6,271.4 473.8,271.9 474,272.1 474.2,273.6 474.4,274.3 474.6,273.8 474.8,274.2 475,275.3 475.2,275.3 475.4,277 475.6,277.4 475.8,277.8 476,277.6 476.2,278.5 476.4,278.2 476.6,278.6 476.8,278.3 477,278.4 477.2,279.5 477.4,279 477.6,280.2 477.8,279.8 478,280 478.2,280.6 478.4,279.9 478.6,279.7 478.8,280.1 479,280.6 479.2,280.2 479.4,280.5 479.6,281.3 479.8,280.9 480,280.9 480.2,280.8 480.4,281.3 480.6,282.1 480.8,281 481,282 481.2,281.9 481.4,281.8 481.6,281.7 481.8,281.8 482,281.2 482.2,281.9 482.4,282.6 482.6,282.3 482.8,282 483,282 483.2,282.6 483.4,281.5 483.6,281.8 483.8,282.9 484,282.5 484.2,282.8 484.4,282.4 484.6,281.8 484.8,282.5 485,282.7 485.2,282 485.4,282.6 485.6,283.3 485.8,282.1 486,282.1 486.2,282.2 486.4,283.1 486.6,283.4 486.8,282.4 487,283.4 487.2,282.5 487.4,283 487.6,283.4 487.8,282.5 488,283 488.2,283.6 488.4,282.9 488.6,283.5 488.8,283 489,283.8 489.2,283 489.4,283.6 489.6,282.6 489.8,282.9 490,282.7 490.2,283.1 490.4,283.1 490.6,282.8 490.8,283.1 491,283.5 491.2,283.3 491.4,282.8 491.6,283.5 491.8,283.5 492,283.1 492.2,283.1 492.4,282.7 492.6,283.7 492.8,283 493,282.9 493.2,283.8 493.4,282.9 493.6,282.7 493.8,283 494,283.1 494.2,283.3 494.4,283 494.6,283.4 494.8,282.4 495,283.7 495.2,283 495.4,283 495.6,283 495.8,282.7 496,283.5 496.2,282.9 496.4,282.4 496.6,282.8 496.8,282.9 497,282.7 497.2,282.4 497.4,283.5 497.6,282.4 497.8,283.2 498,282.7 498.2,282.8 498.4,283.1 498.6,282.1 498.8,282.8 499,282.7 499.2,282.6 499.4,282 499.6,282 499.8,282.7 500,282.6 500.2,282.4 500.4,282.1 500.6,282.4 500.8,282.8 501,283 501.2,282.9 501.4,281.8 501.6,282.3 501.8,282.5 502,282.9 502.2,282.5 502.4,282.8 502.6,282.7 502.8,281.7 503,283 503.2,282.4 503.4,282.4 503.6,281.9 503.8,282.8 504,282.9 504.2,282 504.4,282.2 504.6,281.5 504.8,282.5 505,282.3 505.2,281.7 505.4,282.5 505.6,282.1 505.8,282.6 506,282.4 506.2,281.4 506.4,281.6 506.6,282.4 506.8,281.2 507,281.3 507.2,282.4 507.4,282.3 507.6,281.4 507.8,281.5 508,281.1 508.2,281.2 508.4,281 508.6,281.8 508.8,281.8 509,281.1 509.2,282.1 509.4,281.6 509.6,281.7 509.8,281.8 510,281.1 510.2,281.9 510.4,281.3 510.6,281.4 510.8,280.9 511,281 511.2,281.3 511.4,281.7 511.6,281.2 511.8,281.4 512,281.6 512.2,281.1 512.4,280.5 512.6,281.3 512.8,281.8 513,280.4 513.2,281 513.4,281.3 513.6,281 513.8,280.4 514,281 514.2,280.3 514.4,280.3 514.6,280.6 514.8,280.4 515,280.8 515.2,281.4 515.4,280.3 515.6,281.4 515.8,280.5 516,281.1 516.2,280.6 516.4,281 516.6,281.1 516.8,281 517,280 517.2,281 517.4,279.9 517.6,280.7 517.8,279.7 518,280 518.2,279.7 518.4,280.4 518.6,279.9 518.8,280.3 519,279.7 519.2,280 519.4,280.7 519.6,280.2 519.8,280 520,280.3 520.2,280.7 520.4,279.7 520.6,279.3 520.8,279.5 521,279.3 521.2,279.7 521.4,280.1 521.6,280.1 521.8,279.1 522,279.1 522.2,279.4 522.4,280 522.6,279.5 522.8,279.5 523,279.1 523.2,279.5 523.4,279.5 523.6,279.1 523.8,279.4 524,279.6 524.2,279 524.4,279.1 524.6,278.6 524.8,278.8 525,278.4 525.2,278.4 525.4,278.4 525.6,279.6 525.8,279.4 526,279.1 526.2,279.4 526.4,278.5 526.6,278.8 526.8,279.1 527,279.5 527.2,279.1 527.4,278.5 527.6,278.3 527.8,278.3 528,279.4 528.2,279.6 528.4,278.5 528.6,279.5 528.8,278.4 529,279.5 529.2,279.4 529.4,279 529.6,279 529.8,278.7 530,279.7 530.2,278.8 530.4,278.8 530.6,279.5 530.8,279.3 531,279.2 531.2,279.3 531.4,278.6 531.6,278.6 531.8,279.9 532,279.5 532.2,279.4 532.4,279.3 532.6,278.9 532.8,278.8 533,279.4 533.2,278.6 533.4,278.6 533.6,279.1 533.8,279.5 534,280 534.2,279.3 534.4,279.1 534.6,280.1 534.8,279.2 535,279.5 535.2,279.5 535.4,278.8 535.6,279 535.8,278.8 536,280 536.2,279.4 536.4,279.9 536.6,279.5 536.8,279.6 537,280.2 537.2,279.5 537.4,279.1 537.6,280 537.8,279 538,279.8 538.2,279.6 538.4,279.7 538.6,280.1 538.8,280.3 539,280.5 539.2,280.3 539.4,280.4 539.6,280.5 539.8,279.7 540,279.7 540.2,279.3 540.4,279.9 540.6,279.3 540.8,279.6 541,279.9 541.2,279.9 541.4,280.4 541.6,280 541.8,280.4 542,279.4 542.2,280.5 542.4,280.5 542.6,279.4 542.8,280 543,280.4 543.2,279.7 543.4,280.7 543.6,281 543.8,280.7 544,280.5 544.2,280.7 544.4,281 544.6,281 544.8,280.1 545,280.6 545.2,279.8 545.4,281.1 545.6,279.8 545.8,280.2 546,280.6 546.2,280.1 546.4,280.4 546.6,280.3 546.8,280.8 547,280.6 547.2,281.1 547.4,280.8 547.6,281 547.8,280 548,281 548.2,281.3 548.4,280.2 548.6,281.2 548.8,281.2 549,280.1 549.2,280.9 549.4,280.5 549.6,285.5 549.8,281.5 550,280.9 550.2,280.8 550.4,281.3 550.6,280.7 550.8,280.3 551,281.5 551.2,280.3 551.4,281.4 551.6,281.6 551.8,280.8 552,280.3 552.2,280.8 552.4,280.9 552.6,281.3 552.8,281.6 553,280.5 553.2,280.2 553.4,281.6 553.6,280.2 553.8,281.6 554,281.5 554.2,281.5 554.4,280.8 554.6,280.5 554.8,281.1 555,280.8 555.2,281.3 555.4,280.5 555.6,280.9 555.8,281.6 556,281.1 556.2,281.6 556.4,281.3 556.6,280.4 556.8,281.2 557,280.5 557.2,280.3 557.4,281.1 557.6,280.2 557.8,280.3 558,280.8 558.2,280.5 558.4,281.2 558.6,280.7 558.8,280.6 559,281.1 559.2,281 559.4,281.5 559.6,281.5 559.8,281.7 560,280.4 560.2,280.3 560.4,281.4 560.6,280.8 560.8,280.3 561,281 561.2,280.6 561.4,280.5 561.6,281.1 561.8,281.2 562,280.4 562.2,281 562.4,280.3 562.6,281.2 562.8,280.4 563,280.5 563.2,280 563.4,280.4 563.6,280 563.8,280.7 564,279.7 564.2,280.2 564.4,279.9 564.6,280.6 564.8,280.2 565,279.9 565.2,279.2 565.4,279.1 565.6,279.8 565.8,280.2 566,278.8 566.2,279.2 566.4,279.1 566.6,278.5 566.8,279.3 567,279 567.2,278.9 567.4,279.3 567.6,278.9 567.8,278.3 568,279.3 568.2,279.1 568.4,278.7 568.6,277.8 568.8,278.4 569,277.4 569.2,277.7 569.4,277.9 569.6,277.9 569.8,278.3 570,277.8 570.2,277.9 570.4,277.5 570.6,277.9 570.8,277 571,278 571.2,277.8 571.4,277.9 571.6,277.9 571.8,277.6 572,276.8 572.2,277.7 572.4,277.4 572.6,276.9 572.8,276.2 573,277.5 573.2,276.3 573.4,276.2 573.6,276.7 573.8,277.1 574,276.2 574.2,276 574.4,276.8 574.6,276.4 574.8,276.4 575,276.4 575.2,276.6 575.4,276.5 575.6,275.7 575.8,275.8 576,276.7 576.2,276.4 576.4,275.9 576.6,275.5 576.8,276.3 577,275.4 577.2,275.6 577.4,275.7 577.6,275.9 577.8,275.8 578,275.7 578.2,274.9 578.4,275.1 578.6,275.6 578.8,275.3 579,275.8 579.2,274.4 579.4,275.8 579.6,275 579.8,274.6 580,274.2 580.2,274.1 580.4,275.5 580.6,275.1 580.8,275.3 581,275.1 581.2,274.4 581.4,274 581.6,274.4 581.8,273.9 582,273.7 582.2,274.3 582.4,274.2 582.6,274.8 582.8,274.4 583,273.2 583.2,273.3 583.4,273.9 583.6,274 583.8,274.4 584,273.6 584.2,273.4 584.4,272.7 584.6,273.2 584.8,273.8 585,272.5 585.2,273.1 585.4,273.7 585.6,273.6 585.8,272 586,272.4 586.2,272.1 586.4,273.2 586.6,272.7 586.8,271.8 587,271.9 587.2,272.2 587.4,271 587.6,271.1 587.8,272 588,271.1 588.2,270.9 588.4,271.8 588.6,271.4 588.8,271.5 589,271.2 589.2,270.7 589.4,270.1 589.6,270.8 589.8,270.5 590,270.7 590.2,270.5 590.4,270.7 590.6,269.5 590.8,269.6 591,270.7 591.2,270.4 591.4,270.7 591.6,269.4 591.8,270.2 592,269.5 592.2,269.8 592.4,269.7 592.6,270 592.8,270.2 593,270.1 593.2,271.1 593.4,271.1 593.6,271.4 593.8,272 594,271.1 594.2,271.1 594.4,271.4 594.6,272.3 594.8,272.1 595,272.4 595.2,271.7 595.4,271.6 595.6,272.3 595.8,273.1 596,272.2 596.2,273.1 596.4,273.1 596.6,272.7 596.8,273.3 597,273.7 597.2,272.7 597.4,272.8 597.6,273.1 597.8,272.8 598,273.1 598.2,273.7 598.4,273.8 598.6,273.5 598.8,273.2 599,273.7 599.2,272.5 599.4,273.2 599.6,272.6 599.8,273.3 600,272.1 600.2,272 600.4,271.6 600.6,272 600.8,272.2 601,271.4 601.2,272.1 601.4,271.8 601.6,270.8 601.8,271.1 602,270.9 602.2,269.9 602.4,270.5 602.6,270.3 602.8,270.4 603,269.3 603.2,268.8 603.4,269.3 603.6,269.5 603.8,268.1 604,268 604.2,267.5 604.4,268.6 604.6,267.9 604.8,266.5 605,267.3 605.2,266.3 605.4,265.3 605.6,265 605.8,264.9 606,264.2 606.2,264 606.4,263.5 606.6,263.2 606.8,262.7 607,262.9 607.2,263.1 607.4,262.7 607.6,261.8 607.8,260.7 608,261.6 608.2,259.8 608.4,259.3 608.6,260 608.8,259.4 609,259.2 609.2,258.1 609.4,258.8 609.6,258.4 609.8,256.9 610,258 610.2,257.4 610.4,257.3 610.6,256.4 610.8,256.7 611,256.6 611.2,256.4 611.4,255.3 611.6,255 611.8,255.7 612,255.4 612.2,256.1 612.4,255.6 612.6,255.4 612.8,255.9 613,257.1 613.2,257 613.4,256.5 613.6,256.9 613.8,257.6 614,258.8 614.2,258.5 614.4,258.5 614.6,258.7 614.8,259.2 615,260 615.2,260 615.4,260.3 615.6,262 615.8,262.2 616,262.7 616.2,262.8 616.4,263.6 616.6,264.9 616.8,264.6 617,265.4 617.2,265.5 617.4,266.5 617.6,266.6 617.8,268.2 618,269.1 618.2,268.1 618.4,269 618.6,270.3 618.8,269.4 619,270.8 619.2,270 619.4,270.7 619.6,271.5 619.8,271.7 620,271.9 620.2,271.3 620.4,271.8 620.6,271.3 620.8,272.9 621,272.6 621.2,272.2 621.4,272.5 621.6,272.8 621.8,272.6 622,272.7 622.2,273.7 622.4,272.7 622.6,274 622.8,273.5 623,273.5 623.2,273.6 623.4,273 623.6,273.6 623.8,273.9 624,273.3 624.2,273.4 624.4,273.5 624.6,274.5 624.8,273.6 625,275.2 625.2,274.8 625.4,275 625.6,274 625.8,274.9 626,274.5 626.2,275.7 626.4,274.9 626.6,274.7 626.8,275.2 627,275.1 627.2,274.9 627.4,276 627.6,275.2 627.8,276.4 628,276.2 628.2,276.4 628.4,276.3 628.6,276.6 628.8,276.8 629,275.3 629.2,275.8 629.4,276.9 629.6,276.4 629.8,277 630,276.3 630.2,276.2 630.4,277 630.6,276.1 630.8,276.3 631,277 631.2,276.3 631.4,276.7 631.6,275.9 631.8,276 632,277.2 632.2,276 632.4,275.9 632.6,275.7 632.8,275.7 633,276.2 633.2,276.5 633.4,276.9 633.6,277.1 633.8,276 634,276.2 634.2,276 634.4,276.1 634.6,276.7 634.8,275.9 635,276.4 635.2,276.5 635.4,275.7 635.6,275.6 635.8,275.1 636,276 636.2,276.1 636.4,275.8 636.6,275.2 636.8,275.8 637,275 637.2,275.8 637.4,276 637.6,274.9 637.8,275.3 638,275 638.2,274.7 638.4,275.6 638.6,274.6 638.8,275.3 639,275.1 639.2,274 639.4,275.1 639.6,274.3 639.8,274.2 640,274.3 640.2,274.1 640.4,274.1 640.6,274.6 640.8,273.8 641,273.4 641.2,274.4 641.4,273.8 641.6,273.9 641.8,273.1 642,274 642.2,273.8 642.4,273.8 642.6,274.3 642.8,272.6 643,273.4 643.2,272.4 643.4,273 643.6,273.5 643.8,273.8 644,272.6 644.2,273.9 644.4,273.9 644.6,273.9 644.8,272.7 645,273.1 645.2,272.7 645.4,271.6 645.6,272 645.8,273.3 646,271.7 646.2,272.2 646.4,272.7 646.6,272 646.8,272.4 647,272.3 647.2,271.1 647.4,270.7 647.6,271.9 647.8,272.2 648,271.9 648.2,273 648.4,270.6 648.6,270.3 648.8,272.4 649,272.5 649.2,272.6 649.4,272.3 649.6,270.8 649.8,271.2 650,271.4 650.2,271.1 650.4,270.6 650.6,271.7 650.8,271.5 651,269.2 651.2,271.8 651.4,270.2 651.6,271.1 651.8,271.7 652,270.7 652.2,269.5 652.4,270.4 652.6,269.9 652.8,269 653,268.9 653.2,270.7 653.4,269.6 653.6,269.6 653.8,269.3 654,270 654.2,270 654.4,270.4 654.6,268.9 654.8,269.7 655,269.4 655.2,268.1 655.4,270.4 655.6,269.6 655.8,269.1 656,269.2 656.2,269.2 656.4,268.8 656.6,269.1 656.8,270 657,268.6 657.2,269.7 657.4,267.5 657.6,268.4 657.8,269.6 658,269.3 658.2,267.6 658.4,268.4 658.6,268.6 658.8,269.7 659,267.6 659.2,267.8 659.4,268.2 659.6,268.5 659.8,269.4 660,268.5 660.2,269.5 660.4,268 660.6,268.4 660.8,269.6 661,268.6 661.2,268.9 661.4,268.6 661.6,267.6 661.8,268.9 662,267.5 662.2,267.8 662.4,269.6 662.6,269.6 662.8,270.3 663,269.6 663.2,268.6 663.4,268 663.6,268.1 663.8,268.2 664,270.2 664.2,268.7 664.4,269 664.6,269 664.8,267.8 665,269.3 665.2,267.5 665.4,269.4 665.6,268.2 665.8,270.4 666,269.4 666.2,269 666.4,267.9 666.6,268.4 666.8,268.4 667,270.4 667.2,269.2 667.4,269.2 667.6,269.1 667.8,268.7 668,269.7 668.2,269.1 668.4,269.4 668.6,269.8 668.8,269.6 669,268.3 669.2,270.4 669.4,268.3 669.6,269.4 669.8,270.5 670,270.7 670.2,268.8 670.4,269.4 670.6,269.7 670.8,268.5 671,269 671.2,269.6 671.4,268.4 671.6,270 671.8,270.8 672,267.8 672.2,270.8 672.4,269.3 672.6,270.2 672.8,269.3 673,269.2 673.2,268.1 673.4,268.6 673.6,267.9 673.8,269.4 674,269.7 674.2,268.9 674.4,270.4 674.6,270.5 674.8,268.4 675,268.6 675.2,268.2 675.4,268.2 675.6,269.5 675.8,269.7 676,270.3 676.2,268.9 676.4,268.5 676.6,270.1 676.8,267.4 677,268.7 677.2,268 677.4,269.2 677.6,268 677.8,267.4 678,269.7 678.2,269.7 678.4,269.5 678.6,267.2 678.8,267.6 679,267.7 679.2,267.8 679.4,268.1 679.6,268.9 679.8,269.3 680,268.6 680.2,268.5 680.4,267.6 680.6,267 680.8,269 681,267.2 681.2,268.8 681.4,268.1 681.6,266.9 681.8,266.5 682,267.9 682.2,267.7 682.4,267.4 682.6,267.2 682.8,266.4 683,268.2 683.2,267 683.4,268.2 683.6,267.8 683.8,267.6 684,265.9 684.2,265.8 684.4,266.4 684.6,268.1 684.8,265.7 685,265.5 685.2,265.9 685.4,266 685.6,267 685.8,265.6 686,267.5 686.2,266.9 686.4,267 686.6,267.6 686.8,266.2 687,268 687.2,266.6 687.4,267.2 687.6,267.6 687.8,266.4 688,267.7 688.2,265.5 688.4,266.9 688.6,266.9 688.8,265.7 689,267.1 689.2,268.3 689.4,267.5 689.6,266.4 689.8,267.3 690,267.8 690.2,267.7 690.4,267.7 690.6,267.9 690.8,266.8 691,267.8 691.2,267.1 691.4,266.7 691.6,267 691.8,268.6 692,267.9 692.2,267.3 692.4,268.7 692.6,267.8 692.8,267.6 693,267.8 693.2,267.2 693.4,266.1 693.6,267.3 693.8,266.8 694,268.8 694.2,268.2 694.4,266.5 694.6,266.7 694.8,266.3 695,268.5 695.2,268.4 695.4,267.2 695.6,266.8 695.8,267.1 696,268.1 696.2,266.8 696.4,266.5 696.6,267.3 696.8,269.3 697,266.9 697.2,268.4 697.4,269.2 697.6,269.1 697.8,268.4 698,267.9 698.2,268.7 698.4,269.1 698.6,267.7 698.8,268.2 699,268.1 699.2,266.6 699.4,269.1 699.6,269 699.8,269.1 700,267.1 700.2,267.2 700.4,268 700.6,267.4 700.8,267 701,266.6 701.2,267.1 701.4,267.1 701.6,268 701.8,269.1 702,266.7 702.2,266.7 702.4,269.4 702.6,266.6 702.8,267.1 703,268.7 703.2,268.3 703.4,267.8 703.6,269.3 703.8,266.9 704,268.2 704.2,269 704.4,269.1 704.6,266.8 704.8,268.2 705,267.3 705.2,267.6 705.4,266.9 705.6,266.8 705.8,269.4 706,267.6 706.2,267.9 706.4,268.5 706.6,269.1 706.8,268.9 707,268.3 707.2,269.3 707.4,267.3 707.6,268.9 707.8,266.8 708,268.7 708.2,268.7 708.4,268.6 708.6,268.4 708.8,269.3 709,267.1 709.2,268 709.4,267.4 709.6,267.9 709.8,268.7 710,268.8 710.2,267.9 710.4,266.8 710.6,267.1 710.8,268.3 711,268.3 711.2,268.7 711.4,267.4 711.6,268 711.8,267 712,268.3 712.2,266.4 712.4,267.1 712.6,268.4 712.8,267.7 713,267.1 713.2,266.9 713.4,265.8 713.6,265.5 713.8,267.7 714,265.7 714.2,266.6 714.4,265.4 714.6,267.4 714.8,266.2 715,265.2 715.2,266.1 715.4,265.2 715.6,264.6 715.8,264.3 716,264.7 716.2,266.4 716.4,264.8 716.6,264.6 716.8,264.5 717,263.4 717.2,265.5 717.4,264.7 717.6,263.8 717.8,263.9 718,265 718.2,264.2 718.4,263.3 718.6,262.7 718.8,265 719,263.7 719.2,264 719.4,263.1 719.6,262.9 719.8,262.4 720,263.1 720.2,263.9 720.4,261.7 720.6,262.9 720.8,262.9 721,261.7 721.2,261.4 721.4,262.5 721.6,262.1 721.8,262.7 722,262.2 722.2,261.6 722.4,261.9 722.6,261.7 722.8,260.9 723,260.5 723.2,261.5 723.4,260.6 723.6,259.9 723.8,260.7 724,259.5 724.2,258.9 724.4,258.7 724.6,258.6 724.8,259 725,258.1 725.2,258.8 725.4,257.5 725.6,257.7 725.8,258 726,258.2 726.2,257.9 726.4,257.1 726.6,257.1 726.8,256.6 727,256.9 727.2,256.9 727.4,257.8 727.6,257 727.8,257.2 728,258.4 728.2,257.6 728.4,258.5 728.6,258 728.8,258.8 729,259.8 729.2,259 729.4,260.2 729.6,259.8 729.8,260.2 730,259.7 730.2,260.2 730.4,260.1 730.6,260 730.8,261.2 731,261.5 731.2,260.8 731.4,260.8 731.6,261.6 731.8,260.8 732,261.1 732.2,261.1 732.4,262 732.6,262.6 732.8,262.1 733,261.4 733.2,262.1 733.4,262.5 733.6,261.6 733.8,261.8 734,261.8 734.2,261.6 734.4,262.3 734.6,261.8 734.8,261.5 735,260.5 735.2,260.6 735.4,260.5 735.6,260.5 735.8,260.3 736,260 736.2,260.1 736.4,259.5 736.6,259.3 736.8,258.6 737,259.6 737.2,259 737.4,258.1 737.6,258.1 737.8,258.4 738,258.2 738.2,257.2 738.4,258.3 738.6,257.2 738.8,257.9 739,257.7 739.2,257.6 739.4,256.3 739.6,256.7 739.8,256 740,256.4 740.2,256.4 740.4,255.6 740.6,255.2 740.8,254.6 741,255.7 741.2,254.1 741.4,254.8 741.6,254.8 741.8,253.8 742,253.3 742.2,253.2 742.4,253.4 742.6,253.4 742.8,252.2 743,252.1 743.2,251.8 743.4,251.1 743.6,250.6 743.8,251.1 744,250.3 744.2,249.5 744.4,249.7 744.6,249.1 744.8,248.9 745,248.6 745.2,248.9 745.4,248.2 745.6,247.8 745.8,248.1 746,247.3 746.2,247.3 746.4,247.1 746.6,245.7 746.8,246.5 747,246.1 747.2,246 747.4,245.2 747.6,245.2 747.8,244.4 748,244.4 748.2,243.9 748.4,243.8 748.6,244.1 748.8,244.2 749,244.3 749.2,244.1 749.4,244.3 749.6,245.9 749.8,245.9 750,245.5 750.2,245.6 750.4,246 750.6,246.4 750.8,246.4 751,247.6 751.2,247.5 751.4,247.6 751.6,249 751.8,249.2 752,249.1 752.2,249.7 752.4,249.6 752.6,249.4 752.8,250.8 753,250.4 753.2,250 753.4,250.4 753.6,251.1 753.8,251.9 754,252.4 754.2,252.9 754.4,252.6 754.6,253.3 754.8,253.2 755,253.9 755.2,254.2 755.4,253.8 755.6,253.7 755.8,254.3 756,254.5 756.2,254.4 756.4,255.6 756.6,255.9 756.8,255 757,255.5 757.2,255.9 757.4,255.4 757.6,255.5 757.8,256.6 758,256.3 758.2,257.2 758.4,257.3 758.6,256.9 758.8,257.3 759,257.4 759.2,258 759.4,257.5 759.6,258.4 759.8,258.3 760,258.1 760.2,258.1 760.4,258.6 760.6,259.1 760.8,258.1 761,259.5 761.2,259.4 761.4,258.7 761.6,258.5 761.8,259.4 762,258.8 762.2,260.3 762.4,259.6 762.6,259.6 762.8,259.2 763,260 763.2,260.4 763.4,260.3 763.6,261 763.8,260.8 764,260.8 764.2,260.5 764.4,260.7 764.6,260.9 764.8,261.6 765,261.5 765.2,260.5 765.4,260.6 765.6,261.6 765.8,261 766,261.2 766.2,261 766.4,260.9 766.6,261.2 766.8,262.1 767,262 767.2,261.8 767.4,262.3 767.6,262.3 767.8,261.7 768,261.5 768.2,261.5 768.4,261.6 768.6,262.5 768.8,261.9 769,262.8 769.2,261.8 769.4,262.8 769.6,262.4 769.8,262.4 770,263.2 770.2,263.1 770.4,262.8 770.6,263.4 770.8,263.1 771,261.9 771.2,262.7 771.4,262.7 771.6,262.7 771.8,263.1 772,262.2 772.2,262.8 772.4,263.3 772.6,261.9 772.8,262.8 773,262.6 773.2,262.2 773.4,262.9 773.6,261.6 773.8,261.8 774,262.5 774.2,262.6 774.4,262.5 774.6,261.7 774.8,261.8 775,261.4 775.2,262.2 775.4,262.3 775.6,261.8 775.8,260.9 776,261.6 776.2,261.9 776.4,261.8 776.6,261.1 776.8,261.4 777,261.4 777.2,260.6 777.4,261.1 777.6,260.8 777.8,260.7 778,260.4 778.2,260.4 778.4,260.2 778.6,260.5 778.8,260.2 779,260.1 779.2,259.4 779.4,260.1 779.6,259.5 779.8,258.9 780,259.2 780.2,258.8 780.4,259.4 780.6,258.3 780.8,258.1 781,258.4 781.2,257.8 781.4,258.5 781.6,257.4 781.8,257.3 782,257.5 782.2,257.4 782.4,256.9 782.6,257.7 782.8,257.6 783,256.8 783.2,256.9 783.4,256.1 783.6,256.9 783.8,255.5 784,255.6 784.2,255.9 784.4,254.9 784.6,255.5 784.8,255.4 785,254.8 785.2,255.2 785.4,254.2 785.6,254 785.8,254.4 786,254.1 786.2,254.1 786.4,252.4 786.6,252.9 786.8,251.7 787,252.1 787.2,252.2 787.4,252 787.6,250.8 787.8,250.9 788,250 788.2,250.4 788.4,250 788.6,250.4 788.8,249.5 789,249.3 789.2,248 789.4,248.4 789.6,247.7 789.8,247.7 790,246.9 790.2,246.6 790.4,246.9 790.6,246.2 790.8,246.1 791,246.1 791.2,244.4 791.4,244.3 791.6,244.3 791.8,243.4 792,243.2 792.2,244.4 792.4,242.6 792.6,243 792.8,242.6 793,242.5 793.2,241.2 793.4,241.3 793.6,242 793.8,240.3 794,240.6 794.2,241 794.4,239.5 794.6,238.8 794.8,238.1 795,240.5 795.2,237.5 795.4,237.7 795.6,238.9 795.8,236.7 796,236.2 796.2,238 796.4,238.3 796.6,238.1 796.8,236.7 797,236 797.2,235.8 797.4,236 797.6,234.1 797.8,235.2 798,234.6 798.2,232.2 798.4,234.6 798.6,233.4 798.8,231.8 799,233.4 799.2,231.2 799.4,231.6 799.6,232.2 799.8,230.7 800,230.9 800.2,231.9 800.4,231 800.6,229.3 800.8,229.8 801,229.1 801.2,229.9 801.4,226.3 801.6,228.1 801.8,228.8 802,229 802.2,225.3 802.4,224.2 802.6,227.2 802.8,224.4 803,224.1 803.2,224.8 803.4,224.9 803.6,224.9 803.8,223 804,222.5 804.2,224.4 804.4,222.1 804.6,220.2 804.8,221.8 805,221.2 805.2,219 805.4,219.8 805.6,219.4 805.8,221.1 806,220.3 806.2,221 806.4,220.4 806.6,220.3 806.8,218.8 807,216.8 807.2,217.5 807.4,217.5 807.6,218.9 807.8,218.3 808,217.3 808.2,217.6 808.4,214.2 808.6,215.2 808.8,215.2 809,215 809.2,213.1 809.4,213.7 809.6,215.2 809.8,214.7 810,214.6 810.2,212.9 810.4,211.8 810.6,212.5 810.8,214.2 811,211.4 811.2,211.1 811.4,212.6 811.6,211.5 811.8,210.1 812,211.1 812.2,212.5 812.4,212 812.6,210.7 812.8,209.1 813,212 813.2,210.9 813.4,209.6 813.6,208.8 813.8,209.2 814,209.1 814.2,210.7 814.4,210.1 814.6,212 814.8,211.2 815,211.9 815.2,210.8 815.4,211.2 815.6,212.4 815.8,212.9 816,209.3 816.2,212.3 816.4,210 816.6,212.1 816.8,211.9 817,210.2 817.2,212.4 817.4,210.9 817.6,212.9 817.8,213.5 818,211.8 818.2,210.3 818.4,213.1 818.6,213.8 818.8,211.6 819,213.6 819.2,213.5 819.4,212.3 819.6,211.7 819.8,212.5 820,212.4 820.2,214.4 820.4,214 820.6,214.9 820.8,216 821,215.7 821.2,215.6 821.4,214.8 821.6,215.7 821.8,214.5 822,215.2 822.2,214 822.4,214.8 822.6,216.2 822.8,214.8 823,218.1 823.2,216.3 823.4,217.2 823.6,216.3 823.8,217.7 824,219.2 824.2,217.6 824.4,216.8 824.6,219.8 824.8,219.9 825,218.4 825.2,216.6 825.4,216.4 825.6,217.1 825.8,219 826,218.5 826.2,219.3 826.4,219.2 826.6,219.5 826.8,219 827,217.2 827.2,219.2 827.4,221.1 827.6,220.2 827.8,218.7 828,219.1 828.2,219.5 828.4,219.1 828.6,218.4 828.8,222.1 829,221.9 829.2,219.5 829.4,221.5 829.6,219.1 829.8,219.4 830,220.9 830.2,222.1 830.4,219.1 830.6,222.8 830.8,220 831,219.9 831.2,222.9 831.4,220 831.6,220.3 831.8,223.3 832,219.8 832.2,220.1 832.4,220.4 832.6,221 832.8,220.9 833,219.9 833.2,220.8 833.4,219.6 833.6,220.5 833.8,220.8 834,221.6 834.2,218 834.4,218.9 834.6,219.7 834.8,220.9 835,217.1 835.2,219.3 835.4,218.2 835.6,218 835.8,215.8 836,217 836.2,216.3 836.4,216.8 836.6,215.7 836.8,218 837,217.3 837.2,217.7 837.4,214.8 837.6,215.7 837.8,215.7 838,213.2 838.2,213.3 838.4,214.3 838.6,214.4 838.8,212.4 839,213.6 839.2,211.7 839.4,211.8 839.6,214.2 839.8,213.6 840,214.2 840.2,213.5 840.4,213.1 840.6,212.3 840.8,210 841,212.3 841.2,209.6 841.4,211.7 841.6,212.7 841.8,211.9 842,212 842.2,209.3 842.4,209.9 842.6,209.6 842.8,209.9 843,211.3 843.2,207.2 843.4,208.3 843.6,208.6 843.8,208.8 844,207.2 844.2,208.3 844.4,210 844.6,207 844.8,206.2 845,208.1 845.2,208.5 845.4,209.9 845.6,209.4 845.8,208.1 846,209.2 846.2,207.2 846.4,210.3 846.6,210.7 846.8,208 847,210.4 847.2,207.9 847.4,207.7 847.6,210.3 847.8,212.1 848,210.5 848.2,211.4 848.4,209.9 848.6,212.9 848.8,209.6 849,210.5 849.2,213.1 849.4,214.1 849.6,214.1 849.8,213.8 850,211.8 850.2,212.6 850.4,213.9 850.6,214.4 850.8,214.3 851,215.6 851.2,213.7 851.4,214.4 851.6,213.5 851.8,213.9 852,217.3 852.2,216.6 852.4,215.7 852.6,215.6 852.8,218 853,220.4 853.2,220.4 853.4,220.1 853.6,220.8 853.8,219 854,218.5 854.2,220.2 854.4,223.1 854.6,220.7 854.8,223.5 855,222.7 855.2,223.7 855.4,221.6 855.6,222.3 855.8,221.8 856,223.6 856.2,222.1 856.4,226.2 856.6,223.5 856.8,223.8 857,223 857.2,227.3 857.4,224.5 857.6,224.8 857.8,227.9 858,226.8 858.2,226 858.4,229.4 858.6,225.2 858.8,230 859,229.7 859.2,230.1 859.4,227.7 859.6,229.6 859.8,230.5 860,227.8 860.2,233.2 860.4,231.6 860.6,229 860.8,231.7 861,234.8 861.2,235.1 861.4,233.4 861.6,231.4 861.8,234.4 862,233.2 862.2,234.5 862.4,236.5 862.6,236.4 862.8,235 863,238.4 863.2,237.5 863.4,234.7 863.6,239 863.8,233.8 864,234.2 864.2,238.7 864.4,237.2 864.6,239.2 864.8,235.1 865,235.4 865.2,238.6 865.4,237.2 865.6,239.5 865.8,239.3 866,239.6 866.2,242.7 866.4,237.8 866.6,241.8 866.8,241.5 867,241.7 867.2,239.3 867.4,243.3 867.6,244.3 867.8,244 868,242.5 868.2,245.1 868.4,244.5 868.6,242.1 868.8,243.3 869,245.9 869.2,239.5 869.4,245.5 869.6,241.8 869.8,244.6 870,243.1 870.2,240.7 870.4,240.4 870.6,245.3 870.8,246.5 871,245.9 871.2,244.8 871.4,242.1 871.6,245.5 871.8,247.1 872,245.8 872.2,246 872.4,241.6 872.6,245.1 872.8,246.1 873,246.7 873.2,246.6 873.4,244.3 873.6,241.6 873.8,242 874,247.7 874.2,243.4 874.4,241.9 874.6,245.2 874.8,247.4 875,241.4 875.2,241.3 875.4,242.5 875.6,245.1 875.8,244 876,241.7 876.2,244.5 876.4,246.5 876.6,242.6 876.8,244.7 877,241.8 877.2,247.6 877.4,245.1 877.6,245.6 877.8,246 878,246.7 878.2,242.8 878.4,246.8 878.6,245.3 878.8,243.7 879,246 879.2,243.9 879.4,243.5 879.6,245.6 879.8,243.5 880,248.6 880.2,245.5 880.4,244.6 880.6,244.1 880.8,241.8 881,244 881.2,247.3 881.4,243 881.6,244.7 881.8,246.1 882,244.8 882.2,245.1 882.4,244.5 882.6,246.2 882.8,246 883,245.1 883.2,247.9 883.4,244.3 883.6,247.1 883.8,244 884,242.4 884.2,245 884.4,242.5 884.6,248.5 884.8,248.5 885,242.5 885.2,247.7 885.4,242.2 885.6,244.5 885.8,243.5 886,242.2 886.2,242.4 886.4,248.7 886.6,242.2 886.8,248.8 887,243.3 887.2,246.2 887.4,241.8 887.6,247.4 887.8,241.7 888,247.1 888,242.3"/>
<polyline fill="none" stroke="#000" stroke-width="1.2" stroke-linejoin="round" points="391.4,433.4 391.6,432.9 391.9,432.6 392.1,432.2 392.4,432.6 392.6,431.9 392.9,431.6 393.1,430.9 393.4,431 393.6,430.1 393.9,429.7 394.1,430.3 394.4,429.1 394.6,429.9 394.9,429.5 395.1,429.2 395.4,428.1 395.6,428 395.9,428.5 396.1,427.8 396.4,427.8 396.6,427.1 396.9,426.9 397.1,427 397.4,427.1 397.6,426.6 397.9,426 398.1,426.5 398.4,425.6 398.6,425.7 398.9,425.6 399.1,425.1 399.4,424.9 399.6,425.1 399.9,424.4 400.1,424.2 400.4,424.4 400.6,423.4 400.9,423.7 401.1,422.9 401.4,422.6 401.6,422.8 401.9,421.7 402.1,422.1 402.4,421.8 402.6,421.6 402.9,420.5 403.1,420.4 403.4,420.5 403.6,419.9 403.9,419.1 404.1,419.3 404.4,418.8 404.6,418.4 404.9,417.1 405.1,416.5 405.4,416.2 405.6,414.9 405.9,414.2 406.1,413.3 406.4,412.4 406.6,411.4 406.9,410.3 407.1,409.1 407.4,407.9 407.6,406.5 407.9,405.1 408.1,403.5 408.4,401.9 408.6,400.1 408.9,398.2 409.1,396.1 409.4,393.7 409.6,391 409.9,388.1 410.1,384.8 410.4,381.4 410.6,377.8 410.9,373.6 411.1,369 411.4,364 411.6,358.5 411.9,352.4 412.1,345.8 412.4,338.8 412.6,331.5 412.9,323.8 413.1,315.6 413.4,306.8 413.6,297.6 413.9,288.1 414.1,277.5 414.4,266.5 414.6,255.8 414.9,246.4 415.1,238.3 415.4,230.4 415.6,221.9 415.9,211.9 416.1,200.6 416.4,188.8 416.6,176.9 416.9,165.4 417.1,153.8 417.4,142.1 417.6,131.1 417.9,121 418.1,111.3 418.4,102.5 418.6,95.8 418.9,90.1 419.1,88.1 419.4,89.7 419.6,92.8 419.9,96.8 420.1,103.3 420.4,111.6 420.6,120.2 420.9,128 421.1,135.4 421.4,142.7 421.6,150 421.9,157.2 422.1,164.2 422.4,171.4 422.6,178.4 422.9,185.2 423.1,191.5 423.4,197.1 423.6,201.8 423.9,205.9 424.1,210.1 424.4,215.1 424.6,221.5 424.9,231.1 425.1,243.3 425.4,256.2 425.6,267.9 425.9,277.9 426.1,287.5 426.4,296.7 426.6,305.3 426.9,313.1 427.1,320.1 427.4,326.6 427.6,332.7 427.9,338.4 428.1,343.8 428.4,349 428.6,354 428.9,359 429.1,363.8 429.4,368.6 429.6,373.3 429.9,377.7 430.1,381.7 430.4,385.4 430.6,388.6 430.9,391.5 431.1,394.3 431.4,396.9 431.6,399.3 431.9,401.6 432.1,403.7 432.4,405.7 432.6,407.6 432.9,409.3 433.1,411 433.4,412.5 433.6,414 433.9,415.5 434.1,416.8 434.4,418.1 434.6,419.4 434.9,420.5 435.1,421.7 435.4,422.7 435.6,423.7 435.9,424.6 436.1,425.5 436.4,426.3 436.6,427.1 436.9,427.9 437.1,428.9 437.4,429.7 437.6,430 437.9,430.7 438.1,431.5 438.4,432 438.6,432.9 438.9,432.9 439.1,433.9 439.4,434.3 439.6,434.2 439.9,435.1 440.1,435.4 440.4,435.3 440.6,436.1 440.9,437 441.1,437.7 441.4,438.2 441.6,438.2 441.9,438 442.1,437.9 442.4,439.1 442.6,439.2 442.9,440 443.1,439.3 443.4,440.2 443.6,439.5 443.9,440.1 444.1,440.6 444.4,441.4 444.6,440.9 444.9,441.6 445.1,442.4 445.4,442.6 445.6,442 445.9,441.8 446.1,442.7 446.4,443.2 446.6,443 446.9,443.5 447.1,442.8 447.4,443.1 447.6,443.1 447.9,443.1 448.1,443.9 448.4,444.6 448.6,444.1 448.9,445.1 449.1,444.3 449.4,444.5 449.6,445.4 449.9,445.2 450.1,445.1 450.4,444.8 450.6,444.6 450.9,444.9 451.1,445 451.4,445.5 451.6,445.5 451.9,445.9 452.1,445.6 452.4,446.3 452.6,446.8 452.9,446.7 453.1,446.4 453.4,446 453.6,446.9 453.9,447.1 454.1,445.9 454.4,447.2 454.6,447.4 454.9,446.3 455.1,446.3 455.4,447.2 455.6,446.9 455.9,446.3 456.1,447.2 456.4,447.6 456.6,447.5 456.9,446.5 457.1,446.5 457.4,447.3 457.6,447.6 457.9,448 458.1,447.7 458.4,447.7 458.6,448.1 458.9,447.3 459.1,447 459.4,446.9 459.6,447.3 459.9,448.2 460.1,447.7 460.4,446.9 460.6,448.3 460.9,448.1 461.1,446.9 461.4,448 461.6,447 461.9,446.7 462.1,447.3 462.4,447.7 462.6,446.9 462.9,447.2 463.1,447.8 463.4,446.6 463.6,447.3 463.9,446.8 464.1,446.3 464.4,447.4 464.6,447.3 464.9,446.9 465.1,446.9 465.4,446.7 465.6,447.2 465.9,446.1 466.1,446.2 466.4,446.2 466.6,446.2 466.9,446.9 467.1,446.7 467.4,447.1 467.6,446.8 467.9,447.3 468.1,447.1 468.4,446.1 468.6,446.3 468.9,447.3 469.1,447.7 469.4,447.8 469.6,446.8 469.9,447.9 470.1,447.4 470.4,447.8 470.6,448.9 470.9,448.8 471.1,449.4 471.4,449.3 471.6,450 471.9,449.2 472.1,449.9 472.4,451 472.6,451.1 472.9,450.4 473.1,451.1 473.4,451.7 473.6,452.5 473.9,452.2 474.1,453.2 474.4,453.2 474.6,452.6 474.9,452.5 475.1,452.5 475.4,452.5 475.6,453 475.9,453.2 476.1,453.8 476.4,453.2 476.6,453.3 476.9,452.9 477.1,454.1 477.4,453.3 477.6,452.8 477.9,453.1 478.1,453.8 478.4,453.1 478.6,454.3 478.9,453.6 479.1,454 479.4,453.7 479.6,453.9 479.9,453.4 480.1,454.1 480.4,454.1 480.6,454.1 480.9,453.9 481.1,454.1 481.4,454.2 481.6,453.3 481.9,453 482.1,454.4 482.4,453.5 482.6,453 482.9,454.3 483.1,454.3 483.4,453.9 483.6,453.1 483.9,454.4 484.1,453.8 484.4,453.1 484.6,453.3 484.9,453.2 485.1,454.4 485.4,454.4 485.6,454.5 485.9,453.5 486.1,453.9 486.4,454 486.6,453.6 486.9,453 487.1,453.1 487.4,453.1 487.6,453.7 487.9,453.6 488.1,453 488.4,453 488.6,453.5 488.9,454 489.1,453.7 489.4,454.1 489.6,453.8 489.9,453 490.1,453 490.4,453.4 490.6,453.8 490.9,454.2 491.1,454.2 491.4,454.3 491.6,454.1 491.9,453.4 492.1,453.6 492.4,452.8 492.6,454.1 492.9,453.5 493.1,452.6 493.4,453.9 493.6,453.6 493.9,454 494.1,452.5 494.4,453 494.6,452.4 494.9,453.7 495.1,452.4 495.4,453.2 495.6,453.1 495.9,452.9 496.1,452.7 496.4,452.5 496.6,453.1 496.9,452.7 497.1,452.2 497.4,452.7 497.6,452.6 497.9,452.1 498.1,452.4 498.4,451.5 498.6,451.8 498.9,452.3 499.1,452.2 499.4,452 499.6,452.3 499.9,451.2 500.1,451.9 500.4,451.6 500.6,451.4 500.9,450.6 501.1,450.1 501.4,451.1 501.6,449.9 501.9,450.7 502.1,449.6 502.4,449.7 502.6,450 502.9,450.6 503.1,449.6 503.4,450.5 503.6,450.5 503.9,450.1 504.1,449.3 504.4,449.4 504.6,450.2 504.9,449.5 505.1,449.4 505.4,449.3 505.6,448.6 505.9,449.9 506.1,449.2 506.4,449.2 506.6,449.4 506.9,448.8 507.1,448.4 507.4,449.4 507.6,448.1 507.9,448.4 508.1,448.9 508.4,448.4 508.6,448.6 508.9,447.9 509.1,448.8 509.4,448.8 509.6,448.1 509.9,448.8 510.1,448.6 510.4,448.2 510.6,447.5 510.9,447.1 511.1,448.4 511.4,448.4 511.6,447.8 511.9,447.6 512.1,447.8 512.4,447.2 512.6,447 512.9,447 513.1,446.9 513.4,447.2 513.6,446.2 513.9,446.5 514.1,447 514.4,447.4 514.6,446.7 514.9,446.3 515.1,447.2 515.4,447 515.6,446 515.9,447 516.1,446.5 516.4,445.7 516.6,446.2 516.9,445.6 517.1,446.5 517.4,445.9 517.6,444.9 517.9,445.5 518.1,445.4 518.4,445.8 518.6,445.8 518.9,445.3 519.1,445 519.4,444.8 519.6,444.1 519.9,444.8 520.1,444.3 520.4,444 520.6,444.4 520.9,443.6 521.1,444 521.4,443.3 521.6,442.9 521.9,443.3 522.1,443.6 522.4,442.2 522.6,441.9 522.9,441.9 523.1,442.6 523.4,441.7 523.6,441.4 523.9,441.2 524.1,441.1 524.4,441.4 524.6,441.2 524.9,441 525.1,442.2 525.4,441.6 525.6,442.6 525.9,442.8 526.1,442.4 526.4,443 526.6,444.1 526.9,444.4 527.1,444.6 527.4,443.7 527.6,444.8 527.9,444.4 528.1,444.3 528.4,444.4 528.6,445.7 528.9,446 529.1,445.5 529.4,446.3 529.6,445.2 529.9,445.1 530.1,446 530.4,446.9 530.6,446.4 530.9,446.2 531.1,447.4 531.4,447.1 531.6,446.7 531.9,447.2 532.1,447.5 532.4,446.7 532.6,447.5 532.9,447.7 533.1,446.9 533.4,447.2 533.6,447 533.9,447.3 534.1,447 534.4,448 534.6,448.3 534.9,447.2 535.1,448.5 535.4,447.5 535.6,447.1 535.9,447.8 536.1,447.6 536.4,447.7 536.6,447.6 536.9,448.4 537.1,447.7 537.4,448.5 537.6,448.2 537.9,448.2 538.1,448.4 538.4,447.4 538.6,448.7 538.9,448.1 539.1,447.2 539.4,447.5 539.6,448.6 539.9,448.2 540.1,447.2 540.4,447.4 540.6,448.7 540.9,447.6 541.1,447.9 541.4,448.1 541.6,447.2 541.9,447.9 542.1,448.2 542.4,447.3 542.6,448 542.9,448.5 543.1,448.3 543.4,447.6 543.6,448 543.9,447.6 544.1,447.9 544.4,447.8 544.6,448 544.9,448.4 545.1,447.6 545.4,448.8 545.6,448.5 545.9,448.8 546.1,447.9 546.4,448.3 546.6,448.4 546.9,448.8 547.1,448.4 547.4,448.1 547.6,447.5 547.9,448.6 548.1,448.8 548.4,448.3 548.6,448.1 548.9,447.3 549.1,448.9 549.4,452.5 549.6,448.3 549.9,448.1 550.1,448.4 550.4,448.7 550.6,447.9 550.9,447.5 551.1,447.9 551.4,447.5 551.6,448 551.9,448.5 552.1,447.9 552.4,448 552.6,447.5 552.9,448.8 553.1,447.6 553.4,448.7 553.6,447.7 553.9,448.7 554.1,447.5 554.4,448.2 554.6,448.1 554.9,447.5 555.1,448.2 555.4,448 555.6,448.6 555.9,447.3 556.1,447.9 556.4,447.2 556.6,448.5 556.9,447.2 557.1,448.5 557.4,448.3 557.6,448.6 557.9,448 558.1,447.3 558.4,448.2 558.6,447.1 558.9,447.2 559.1,447.5 559.4,447.9 559.6,447.2 559.9,447.8 560.1,447.3 560.4,447.4 560.6,448.5 560.9,447.8 561.1,448.5 561.4,448 561.6,447.5 561.9,448.2 562.1,447.9 562.4,447.2 562.6,447.2 562.9,447.3 563.1,447.3 563.4,448.1 563.6,448 563.9,446.6 564.1,447.2 564.4,446.7 564.6,447.7 564.9,447.2 565.1,447 565.4,447.5 565.6,447.6 565.9,446.2 566.1,446.4 566.4,446.2 566.6,447.5 566.9,446.5 567.1,446.4 567.4,446.3 567.6,446 567.9,446 568.1,446.2 568.4,447 568.6,446.2 568.9,445.6 569.1,446 569.4,446 569.6,446.5 569.9,446.3 570.1,446 570.4,445.6 570.6,445.2 570.9,445.3 571.1,445.5 571.4,446.2 571.6,444.8 571.9,445.4 572.1,445.7 572.4,444.7 572.6,445.3 572.9,445.7 573.1,445.3 573.4,444.9 573.6,445.8 573.9,445.1 574.1,445.1 574.4,444.7 574.6,445.3 574.9,444.6 575.1,444.9 575.4,444.6 575.6,444.5 575.9,444.2 576.1,444.2 576.4,444.6 576.6,444.6 576.9,444 577.1,444.7 577.4,445 577.6,444.6 577.9,444.5 578.1,444.8 578.4,444.4 578.6,443.8 578.9,443.6 579.1,443.8 579.4,444.1 579.6,443.8 579.9,443.5 580.1,444.7 580.4,444.6 580.6,443.4 580.9,443.9 581.1,444.7 581.4,444.5 581.6,443.4 581.9,443.3 582.1,443.3 582.4,442.9 582.6,444.2 582.9,444.3 583.1,442.9 583.4,444.3 583.6,443.3 583.9,443.3 584.1,443.8 584.4,442.8 584.6,443.9 584.9,442.9 585.1,442.7 585.4,443.1 585.6,442.9 585.9,443.1 586.1,442.6 586.4,443.1 586.6,443.6 586.9,443 587.1,443.1 587.4,442.9 587.6,442.7 587.9,443.7 588.1,443.3 588.4,443.4 588.6,443.1 588.9,443.2 589.1,442.9 589.4,443 589.6,443.1 589.9,442.6 590.1,442.7 590.4,442.2 590.6,443.3 590.9,442.2 591.1,442.8 591.4,442.5 591.6,442.1 591.9,442.6 592.1,442.7 592.4,443 592.6,442 592.9,442.4 593.1,443.3 593.4,442.5 593.6,442.4 593.9,442.5 594.1,441.8 594.4,443.1 594.6,441.9 594.9,442.6 595.1,441.8 595.4,442.3 595.6,441.5 595.9,441.6 596.1,442.4 596.4,441.5 596.6,442.1 596.9,442.2 597.1,442.3 597.4,442.4 597.6,442.3 597.9,442 598.1,441.6 598.4,442 598.6,441.2 598.9,441.3 599.1,441.2 599.4,441.2 599.6,441.2 599.9,441.8 600.1,442.2 600.4,441.5 600.6,442 600.9,441.3 601.1,441.3 601.4,441.1 601.6,440.5 601.9,441.4 602.1,440.5 602.4,440.6 602.6,440 602.9,440.5 603.1,440.6 603.4,440.2 603.6,440 603.9,440.6 604.1,440.5 604.4,440.3 604.6,439.9 604.9,439.6 605.1,439.9 605.4,439.4 605.6,439.2 605.9,439.8 606.1,439.2 606.4,438.6 606.6,439.7 606.9,438.5 607.1,438.3 607.4,438.3 607.6,438.5 607.9,438.1 608.1,437.1 608.4,437.6 608.6,437 608.9,437.5 609.1,437.7 609.4,437.6 609.6,437 609.9,436.6 610.1,437 610.4,437.1 610.6,436.3 610.9,435.8 611.1,435.8 611.4,435.9 611.6,435.9 611.9,436 612.1,435.7 612.4,436.1 612.6,435.4 612.9,436.1 613.1,435.7 613.4,436.3 613.6,436 613.9,436.8 614.1,436.7 614.4,437.8 614.6,436.9 614.9,437.5 615.1,437.7 615.4,437.9 615.6,438.1 615.9,438.6 616.1,437.8 616.4,438.5 616.6,438.6 616.9,439.4 617.1,439.6 617.4,439.5 617.6,439.6 617.9,439.9 618.1,440 618.4,439.5 618.6,438.6 618.9,440 619.1,439.4 619.4,438.7 619.6,439 619.9,439.7 620.1,440 620.4,440.4 620.6,440.2 620.9,440.4 621.1,439.1 621.4,439.8 621.6,440.4 621.9,440.5 622.1,439.6 622.4,440.2 622.6,439.7 622.9,439.6 623.1,440.8 623.4,440.1 623.6,441 623.9,439.7 624.1,441.1 624.4,441 624.6,440.5 624.9,440.7 625.1,440.3 625.4,440.8 625.6,441.1 625.9,441.1 626.1,441 626.4,440.3 626.6,440.6 626.9,441.8 627.1,440.9 627.4,440.9 627.6,441 627.9,441.7 628.1,441 628.4,441.3 628.6,441.1 628.9,440.8 629.1,441 629.4,440.8 629.6,441.8 629.9,442.1 630.1,441.7 630.4,441.3 630.6,441.4 630.9,441.3 631.1,441.8 631.4,440.6 631.6,440.5 631.9,441.5 632.1,441.1 632.4,441.5 632.6,441.7 632.9,440.5 633.1,441.4 633.4,441.3 633.6,441.1 633.9,440.6 634.1,440.9 634.4,440.7 634.6,439.9 634.9,440.6 635.1,439.7 635.4,440.1 635.6,440.6 635.9,440.9 636.1,440.8 636.4,439.8 636.6,439.2 636.9,440.6 637.1,439.2 637.4,440.1 637.6,439.2 637.9,440.1 638.1,438.9 638.4,440.1 638.6,438.7 638.9,439.4 639.1,439.7 639.4,438.5 639.6,438.9 639.9,438.6 640.1,439.5 640.4,438.9 640.6,439.3 640.9,439.4 641.1,438.6 641.4,439 641.6,438.4 641.9,438.2 642.1,439.1 642.4,437.9 642.6,437.9 642.9,437.7 643.1,437.4 643.4,437.6 643.6,437.4 643.9,438.5 644.1,438.2 644.4,437.8 644.6,438.2 644.9,438 645.1,438.4 645.4,436.7 645.6,436.9 645.9,438 646.1,436.9 646.4,436 646.6,436.5 646.9,436.2 647.1,437.3 647.4,437.7 647.6,436.6 647.9,436.8 648.1,436.3 648.4,436 648.6,435.5 648.9,437.7 649.1,436.3 649.4,436.9 649.6,436.5 649.9,437.4 650.1,437.1 650.4,436.7 650.6,435.6 650.9,437.2 651.1,435 651.4,436.1 651.6,435.7 651.9,434.5 652.1,436.5 652.4,434.8 652.6,435.5 652.9,435.4 653.1,435 653.4,435 653.6,436 653.9,436.4 654.1,435.6 654.4,435.2 654.6,434.3 654.9,433.8 655.1,435.3 655.4,435.6 655.6,435.8 655.9,434.4 656.1,435 656.4,434.4 656.6,433.7 656.9,435.3 657.1,435.7 657.4,434.4 657.6,435.2 657.9,435.4 658.1,433.3 658.4,434.8 658.6,433.9 658.9,434.1 659.1,435.1 659.4,433.7 659.6,435.2 659.9,435 660.1,432.9 660.4,433.3 660.6,435.3 660.9,433.6 661.1,435.2 661.4,434.5 661.6,434 661.9,433.5 662.1,434 662.4,433.9 662.6,433 662.9,434.6 663.1,435 663.4,432.4 663.6,434.6 663.9,434.9 664.1,434 664.4,433.4 664.6,432.8 664.9,432.8 665.1,434.8 665.4,432.5 665.6,434 665.9,433.7 666.1,433.4 666.4,433.5 666.6,434.5 666.9,433.5 667.1,433.4 667.4,433.6 667.6,433.7 667.9,433.3 668.1,433.9 668.4,434.4 668.6,433.7 668.9,434.1 669.1,432.2 669.4,433 669.6,432.9 669.9,433.8 670.1,432.5 670.4,432.5 670.6,432.9 670.9,432.2 671.1,432.8 671.4,433.1 671.6,432.2 671.9,432 672.1,433.5 672.4,433.7 672.6,433.1 672.9,433.3 673.1,431.7 673.4,433.1 673.6,432.8 673.9,431.4 674.1,432.1 674.4,433.6 674.6,432 674.9,431.8 675.1,432.7 675.4,431.6 675.6,432.3 675.9,433.1 676.1,431.7 676.4,432.4 676.6,431.4 676.9,432.1 677.1,433.5 677.4,432.5 677.6,433.3 677.9,432.7 678.1,432.1 678.4,432.8 678.6,433.1 678.9,432.4 679.1,432.6 679.4,433.4 679.6,431.7 679.9,432.7 680.1,432.8 680.4,433.2 680.6,432.1 680.9,433 681.1,432.8 681.4,432.2 681.6,431.5 681.9,431.8 682.1,432.4 682.4,432.1 682.6,432.8 682.9,432.6 683.1,432.1 683.4,433 683.6,431.6 683.9,432.2 684.1,431.4 684.4,433 684.6,432.7 684.9,431 685.1,433 685.4,432.3 685.6,431.5 685.9,431 686.1,431.4 686.4,432 686.6,432.4 686.9,432 687.1,431.5 687.4,432.4 687.6,432 687.9,432.1 688.1,431 688.4,431.4 688.6,430.7 688.9,431.4 689.1,430.8 689.4,431.4 689.6,431.4 689.9,432.6 690.1,431.1 690.4,430.3 690.6,431.3 690.9,431.8 691.1,431.7 691.4,432.2 691.6,432.1 691.9,431.1 692.1,431 692.4,430 692.6,431.8 692.9,430.1 693.1,431 693.4,430.8 693.6,431.6 693.9,430.6 694.1,430.4 694.4,432.3 694.6,431.1 694.9,430.4 695.1,431.9 695.4,430 695.6,432.1 695.9,430.3 696.1,431.7 696.4,430.7 696.6,431.9 696.9,429.9 697.1,429.7 697.4,431.7 697.6,430.4 697.9,429.5 698.1,431.1 698.4,431.4 698.6,431.3 698.9,429.2 699.1,431.4 699.4,430.4 699.6,430.5 699.9,429.8 700.1,430.1 700.4,429.3 700.6,430.7 700.9,429.9 701.1,431.3 701.4,429 701.6,430.6 701.9,429.5 702.1,430.2 702.4,429 702.6,430.6 702.9,429.1 703.1,429.3 703.4,429.3 703.6,429.5 703.9,430.4 704.1,428.6 704.4,430 704.6,429.8 704.9,428.9 705.1,429.1 705.4,428.6 705.6,430.2 705.9,429.9 706.1,430 706.4,429.3 706.6,429 706.9,429.1 707.1,429.4 707.4,429 707.6,429.5 707.9,429.5 708.1,427.8 708.4,429 708.6,428.4 708.9,427.7 709.1,427.8 709.4,428.8 709.6,428.4 709.9,427.8 710.1,428.8 710.4,428.2 710.6,428.5 710.9,427.8 711.1,428 711.4,427.3 711.6,427.8 711.9,428 712.1,427.2 712.4,427.4 712.6,427.5 712.9,427.9 713.1,426.6 713.4,427.1 713.6,426.6 713.9,427.1 714.1,426.6 714.4,427 714.6,426.9 714.9,427.2 715.1,426.9 715.4,426.5 715.6,426.7 715.9,425.6 716.1,425.9 716.4,426.8 716.6,426.1 716.9,426.4 717.1,426.5 717.4,426.5 717.6,425.6 717.9,426.5 718.1,425.9 718.4,425.1 718.6,426.1 718.9,425 719.1,425.5 719.4,425 719.6,425.6 719.9,425.2 720.1,425.2 720.4,425.2 720.6,425.4 720.9,424.3 721.1,424.1 721.4,424.4 721.6,423.8 721.9,424 722.1,424.7 722.4,424.1 722.6,423.4 722.9,423.3 723.1,422.7 723.4,423.9 723.6,422.6 723.9,422.7 724.1,422.6 724.4,423.4 724.6,422.2 724.9,422 725.1,421.6 725.4,423 725.6,421.9 725.9,422 726.1,421.6 726.4,421.1 726.6,421.6 726.9,421.8 727.1,421.3 727.4,421.7 727.6,421.7 727.9,421.2 728.1,420.9 728.4,420 728.6,419.8 728.9,419.9 729.1,419.3 729.4,419.8 729.6,419.7 729.9,419 730.1,419.6 730.4,419.3 730.6,418.8 730.9,417.9 731.1,417.5 731.4,417.8 731.6,417.9 731.9,418 732.1,417.1 732.4,415.7 732.6,416.8 732.9,416.5 733.1,416.1 733.4,415.4 733.6,414.1 733.9,413.8 734.1,414.5 734.4,413.8 734.6,412.3 734.9,412.1 735.1,412 735.4,411.8 735.6,411.2 735.9,411 736.1,409.9 736.4,409.7 736.6,409.8 736.9,409.8 737.1,410.6 737.4,409.8 737.6,411.2 737.9,411 738.1,411.5 738.4,411.4 738.6,411.5 738.9,413.1 739.1,413.5 739.4,413.8 739.6,413.7 739.9,414.7 740.1,414.2 740.4,414.5 740.6,414.7 740.9,415.3 741.1,415.4 741.4,416.9 741.6,417.3 741.9,416.8 742.1,417.4 742.4,418.1 742.6,418 742.9,417.2 743.1,418.1 743.4,418.9 743.6,418.8 743.9,419.1 744.1,419.4 744.4,418.6 744.6,419.3 744.9,419.3 745.1,419.4 745.4,419.9 745.6,418.9 745.9,419.4 746.1,419.5 746.4,419 746.6,419.8 746.9,419.3 747.1,420.2 747.4,419.1 747.6,420.1 747.9,420.4 748.1,420.5 748.4,419.5 748.6,420.1 748.9,419.7 749.1,419.6 749.4,420.9 749.6,420.3 749.9,420.7 750.1,420.3 750.4,420.6 750.6,420.8 750.9,420 751.1,420.9 751.4,421 751.6,421 751.9,420.2 752.1,421.1 752.4,420.8 752.6,420.4 752.9,420.7 753.1,421 753.4,419.7 753.6,420.6 753.9,420.4 754.1,419.9 754.4,420.5 754.6,420.3 754.9,420.8 755.1,420 755.4,421.3 755.6,420.8 755.9,420.3 756.1,420.9 756.4,421 756.6,421.4 756.9,421.3 757.1,420.6 757.4,421.2 757.6,421.4 757.9,420.7 758.1,420.2 758.4,420.4 758.6,421 758.9,420.6 759.1,420.3 759.4,421 759.6,421.2 759.9,420.5 760.1,421.4 760.4,421 760.6,420.2 760.9,421 761.1,421.6 761.4,420.3 761.6,421.5 761.9,420.4 762.1,420.5 762.4,421.6 762.6,421.2 762.9,420.9 763.1,420.9 763.4,420.9 763.6,421 763.9,421.4 764.1,420.5 764.4,420.7 764.6,421 764.9,421 765.1,420.4 765.4,420.8 765.6,420.8 765.9,420.6 766.1,420.8 766.4,421.3 766.6,420.9 766.9,420.9 767.1,421.1 767.4,421.6 767.6,420.1 767.9,420.5 768.1,421.2 768.4,420.5 768.6,420.8 768.9,420.2 769.1,421.1 769.4,420.7 769.6,420.1 769.9,421.1 770.1,419.6 770.4,420.9 770.6,420.2 770.9,420.9 771.1,419.5 771.4,420.3 771.6,420.1 771.9,419.3 772.1,419.9 772.4,420.7 772.6,420.2 772.9,419 773.1,419.8 773.4,420.1 773.6,420.2 773.9,419.5 774.1,420 774.4,418.8 774.6,419.6 774.9,419.2 775.1,419.9 775.4,418.8 775.6,418.6 775.9,419.2 776.1,419.5 776.4,418.5 776.6,418.9 776.9,419.1 777.1,418.1 777.4,418.7 777.6,418.3 777.9,418.8 778.1,418.7 778.4,418.2 778.6,417.5 778.9,417.6 779.1,417.3 779.4,418 779.6,418.2 779.9,418.2 780.1,417.9 780.4,417.7 780.6,417.8 780.9,417.9 781.1,416.5 781.4,417.2 781.6,417.2 781.9,416.2 782.1,417 782.4,417.1 782.6,416.5 782.9,415.7 783.1,416.8 783.4,416.2 783.6,416 783.9,415.6 784.1,415 784.4,416.2 784.6,415.4 784.9,415.6 785.1,414.5 785.4,415.8 785.6,415.4 785.9,415.6 786.1,414.7 786.4,415 786.6,414.7 786.9,414.6 787.1,414.4 787.4,414.1 787.6,413.3 787.9,414.3 788.1,413.1 788.4,412.8 788.6,414 788.9,413.5 789.1,412.9 789.4,413.5 789.6,413.3 789.9,413 790.1,413.2 790.4,413 790.6,412 790.9,412.4 791.1,412.4 791.4,411.9 791.6,412.3 791.9,411.9 792.1,411.4 792.4,411.5 792.6,412 792.9,411.5 793.1,410.7 793.4,410.4 793.6,410.7 793.9,411 794.1,409.9 794.4,409.6 794.6,410.3 794.9,410.1 795.1,409.8 795.4,410.3 795.6,409.8 795.9,409 796.1,409 796.4,408.6 796.6,408.2 796.9,408.8 797.1,408 797.4,408.1 797.6,409.2 797.9,408.5 798.1,408.6 798.4,407.9 798.6,407.2 798.9,407.2 799.1,406.9 799.4,408 799.6,407.5 799.9,406.9 800.1,407 800.4,406.8 800.6,407.5 800.9,406.1 801.1,407.1 801.4,406.1 801.6,406 801.9,405.8 802.1,406.4 802.4,406.5 802.6,406.2 802.9,406.5 803.1,406 803.4,405.5 803.6,405.2 803.9,406.2 804.1,405.6 804.4,406.2 804.6,406.2 804.9,405.3 805.1,406 805.4,404.7 805.6,404.6 805.9,404.4 806.1,405.1 806.4,405.7 806.6,405.1 806.9,404.7 807.1,405.5 807.4,404.7 807.6,405 807.9,405.2 808.1,403.9 808.4,404.1 808.6,404.6 808.9,404.3 809.1,403.4 809.4,403.8 809.6,404.5 809.9,403.7 810.1,403.5 810.4,403.1 810.6,403.7 810.9,404.3 811.1,403.3 811.4,404.1 811.6,403 811.9,403 812.1,403.5 812.4,403.4 812.6,402.6 812.9,402.8 813.1,402.2 813.4,403.3 813.6,403.4 813.9,403.4 814.1,402.1 814.4,402.5 814.6,401.8 814.9,403.2 815.1,402.3 815.4,402.1 815.6,401.7 815.9,403.1 816.1,401.9 816.4,402 816.6,402.6 816.9,401.8 817.1,402.5 817.4,401.4 817.6,401.4 817.9,402.4 818.1,402.6 818.4,402.4 818.6,402 818.9,401.4 819.1,401.9 819.4,402.8 819.6,401.5 819.9,402.2 820.1,401.8 820.4,402.4 820.6,401.3 820.9,402.5 821.1,401.6 821.4,402.7 821.6,402.2 821.9,401.7 822.1,402 822.4,402.2 822.6,402.6 822.9,402.8 823.1,401.9 823.4,401.5 823.6,402.6 823.9,402.8 824.1,402.6 824.4,401.8 824.6,401.7 824.9,401.8 825.1,402.6 825.4,402.4 825.6,402.5 825.9,403 826.1,402 826.4,402.2 826.6,401.7 826.9,402.2 827.1,401.7 827.4,402.5 827.6,402.1 827.9,402.2 828.1,402.7 828.4,403.2 828.6,402.3 828.9,402.1 829.1,402.1 829.4,403.2 829.6,403.3 829.9,402.9 830.1,401.8 830.4,403 830.6,403.3 830.9,403.3 831.1,402.8 831.4,402.7 831.6,402.1 831.9,403 832.1,402.5 832.4,402.5 832.6,402.7 832.9,403.3 833.1,402.4 833.4,402.2 833.6,403.1 833.9,403.5 834.1,403.2 834.4,403.4 834.6,403.3 834.9,402.5 835.1,403.7 835.4,402.9 835.6,402.4 835.9,403.1 836.1,402.3 836.4,402.4 836.6,403 836.9,403.1 837.1,404 837.4,403.5 837.6,403.1 837.9,403.2 838.1,402.8 838.4,403.9 838.6,403.1 838.9,404.2 839.1,403.8 839.4,404.1 839.6,403.5 839.9,403.1 840.1,403.5 840.4,403.5 840.6,404.5 840.9,404 841.1,404 841.4,404 841.6,404.8 841.9,404.4 842.1,404.4 842.4,405 842.6,405.1 842.9,404.1 843.1,404.2 843.4,405.3 843.6,404.8 843.9,404.8 844.1,405.3 844.4,405.4 844.6,405.3 844.9,404.8 845.1,406.2 845.4,405.3 845.6,405.3 845.9,406.3 846.1,405.5 846.4,406.2 846.6,406.6 846.9,406.7 847.1,405.9 847.4,406.9 847.6,407.4 847.9,406.5 848.1,407.6 848.4,407.9 848.6,407 848.9,407.7 849.1,408.3 849.4,407.8 849.6,408.1 849.9,408.8 850.1,407.5 850.4,407.5 850.6,407.7 850.9,407.9 851.1,408.6 851.4,408.5 851.6,408.2 851.9,408.2 852.1,408.4 852.4,409.6 852.6,408.4 852.9,408.7 853.1,410 853.4,409.9 853.6,410.3 853.9,408.9 854.1,409.2 854.4,409.2 854.6,410.1 854.9,409.3 855.1,409.3 855.4,409.6 855.6,410.5 855.9,409.4 856.1,410.2 856.4,410.8 856.6,409.6 856.9,410.2 857.1,410.8 857.4,410.3 857.6,409.8 857.9,410 858.1,411 858.4,410.4 858.6,409.7 858.9,410.4 859.1,410.1 859.4,409.8 859.6,411 859.9,410.9 860.1,410.1 860.4,411.2 860.6,410.1 860.9,411.3 861.1,411.3 861.4,410.2 861.6,410.3 861.9,410.5 862.1,410.9 862.4,411 862.6,410.1 862.9,410.9 863.1,411.4 863.4,410.8 863.6,410.5 863.9,411.5 864.1,410.1 864.4,411.5 864.6,410.1 864.9,410.2 865.1,411.3 865.4,410.4 865.6,411.2 865.9,410.7 866.1,410.9 866.4,410.4 866.6,410.5 866.9,411.5 867.1,411.6 867.4,410.2 867.6,411.1 867.9,411.1 868.1,410.5 868.4,411.7 868.6,411.1 868.9,410.7 869.1,410.4 869.4,410.2 869.6,411.2 869.9,410.6 870.1,410.2 870.4,410.4 870.6,410.5 870.9,411.7 871.1,410.3 871.4,411 871.6,411.1 871.9,411.1 872.1,411.2 872.4,410.9 872.6,411.4 872.9,411.1 873.1,411 873.4,410.6 873.6,410.9 873.9,410.9 874.1,410.8 874.4,411.3 874.6,411.2 874.9,410.8 875.1,411 875.4,411.1 875.6,411 875.9,411.1 876.1,410.4 876.4,411 876.6,411.2 876.9,410.7 877.1,411 877.4,410.8 877.6,411.6 877.9,411.2 878.1,411.1 878.4,411.6 878.6,410.7 878.9,410.6 879.1,411.5 879.4,411.2 879.6,411.4 879.9,410.8 880.1,411.6 880.4,410.7 880.6,410.7 880.9,411.4 881.1,411 881.4,411.3 881.6,411.1 881.9,411.2 882.1,411.8 882.4,410.8 882.6,411.7 882.9,411.7 883.1,411.5 883.4,410.4 883.6,410.3 883.9,410.3 884.1,411.5 884.4,410.7 884.6,411.5 884.9,410.7 885.1,410 885.4,410.9 885.6,410.2 885.9,410.2 886.1,410 886.4,411 886.6,409.8 886.9,411.3 887.1,410.1 887.4,410.3 887.6,410.7 887.9,410 888,410.2"/>
<polyline fill="none" stroke="#000" stroke-width="1.2" stroke-linejoin="round" points="391.4,504 391.6,505.6 391.9,503.7 392.1,498.2 392.4,498.1 392.6,502.1 392.9,494.3 393.1,500.1 393.4,499.1 393.6,495.8 393.9,493.8 394.1,493 394.4,492.1 394.6,492.8 394.9,492.5 395.1,492.2 395.4,494.3 395.6,492.3 395.9,490.6 396.1,492.1 396.4,486.9 396.6,486 396.9,488 397.1,484.3 397.4,483.8 397.6,485.8 397.9,485 398.1,486.8 398.4,484.9 398.6,484 398.9,483.5 399.1,482.1 399.4,480.8 399.6,481.3 399.9,483 400.1,480.8 400.4,481.1 400.6,479.4 400.9,482 401.1,479.2 401.4,479.1 401.6,480.6 401.9,478.8 402.1,479 402.4,477.5 402.6,476.7 402.9,474.1 403.1,473.8 403.4,472.4 403.6,471.4 403.9,469.2 404.1,467.6 404.4,465.1 404.6,462.9 404.9,460.4 405.1,457.7 405.4,455 405.6,452.2 405.9,449.2 406.1,446 406.4,442.7 406.6,439.3 406.9,435.8 407.1,432.2 407.4,428.5 407.6,424.8 407.9,421 408.1,417.1 408.4,413 408.6,408.6 408.9,404 409.1,398.9 409.4,393.2 409.6,387 409.9,380.5 410.1,373.9 410.4,367.4 410.6,361.1 410.9,354.6 411.1,347.7 411.4,340 411.6,331.2 411.9,321.5 412.1,310.9 412.4,299.5 412.6,287.5 412.9,272.8 413.1,256.3 413.4,240 413.6,226.2 413.9,216.6 414.1,209 414.4,202.6 414.6,196.9 414.9,191.9 415.1,187.2 415.4,182.6 415.6,178.3 415.9,174.4 416.1,171.2 416.4,168.7 416.6,167.1 416.9,165.6 417.1,164.3 417.4,163.4 417.6,163 417.9,163.2 418.1,164 418.4,165.3 418.6,166.9 418.9,168.9 419.1,172.1 419.4,176.6 419.6,182 419.9,187.7 420.1,193.7 420.4,200.6 420.6,208.4 420.9,216.6 421.1,225.3 421.4,234.7 421.6,244.7 421.9,255.1 422.1,265.6 422.4,276 422.6,286.1 422.9,296.7 423.1,307.5 423.4,318.3 423.6,329 423.9,339.3 424.1,348.9 424.4,357.7 424.6,365.5 424.9,372.6 425.1,379.4 425.4,385.8 425.6,391.9 425.9,397.6 426.1,402.9 426.4,407.9 426.6,412.4 426.9,416.6 427.1,420.6 427.4,424.3 427.6,427.7 427.9,431.1 428.1,434.2 428.4,437.2 428.6,440 428.9,442.8 429.1,445.4 429.4,448 429.6,450.5 429.9,453 430.1,455.4 430.4,457.7 430.6,460 430.9,462.1 431.1,464.2 431.4,466.1 431.6,467.8 431.9,469.4 432.1,470.8 432.4,472.2 432.6,473.5 432.9,474.7 433.1,475.8 433.4,476.9 433.6,478 433.9,479 434.1,479.9 434.4,480.9 434.6,481.8 434.9,482.6 435.1,483.5 435.4,484.3 435.6,485.2 435.9,486 436.1,486.8 436.4,487.6 436.6,488.3 436.9,489.1 437.1,489.8 437.4,490.6 437.6,491.3 437.9,491.9 438.1,492.6 438.4,493.3 438.6,493.9 438.9,494.5 439.1,495.1 439.4,495.7 439.6,496.2 439.9,496.8 440.1,497.3 440.4,497.8 440.6,498.3 440.9,499.1 441.1,499.4 441.4,500.1 441.6,500.5 441.9,501 442.1,501 442.4,501.9 442.6,501.7 442.9,503 443.1,503.7 443.4,504 443.6,503.1 443.9,503.9 444.1,504.2 444.4,504.1 444.6,505.3 444.9,505.8 445.1,505.2 445.4,506.4 445.6,506.5 445.9,505.5 446.1,506.8 446.4,507.2 446.6,506.2 446.9,507 447.1,507.3 447.4,507.4 447.6,506.7 447.9,507.8 448.1,507.9 448.4,508.4 448.6,508.5 448.9,507.8 449.1,508.6 449.4,508.9 449.6,509.1 449.9,507.9 450.1,507.7 450.4,508.9 450.6,508.2 450.9,508.9 451.1,509.7 451.4,508.7 451.6,508.6 451.9,509 452.1,509.5 452.4,508.5 452.6,509.1 452.9,508.7 453.1,509.8 453.4,510.1 453.6,509.4 453.9,509.4 454.1,509.8 454.4,509.2 454.6,509.3 454.9,509.5 455.1,509.8 455.4,509.1 455.6,510.4 455.9,510.1 456.1,509.6 456.4,509.2 456.6,510.5 456.9,509.3 457.1,509.3 457.4,509.3 457.6,509.2 457.9,510.7 458.1,509.5 458.4,509.6 458.6,510.5 458.9,510.1 459.1,509.3 459.4,509.7 459.6,510.5 459.9,509.5 460.1,510.1 460.4,509 460.6,510.1 460.9,510.1 461.1,510.2 461.4,509.9 461.6,509.3 461.9,508.7 462.1,509.5 462.4,509.9 462.6,508.9 462.9,509 463.1,509.4 463.4,509.8 463.6,510 463.9,508.6 464.1,508.6 464.4,509.7 464.6,509.4 464.9,509.5 465.1,510 465.4,509.8 465.6,509.7 465.9,509.5 466.1,508.8 466.4,509.3 466.6,508.4 466.9,509.5 467.1,509.5 467.4,509.5 467.6,509.1 467.9,509.1 468.1,509.3 468.4,508.7 468.6,510.3 468.9,509.9 469.1,509.8 469.4,510.2 469.6,510.6 469.9,510.2 470.1,511.1 470.4,511.4 470.6,510.6 470.9,510.3 471.1,511.5 471.4,512.1 471.6,510.7 471.9,511.9 472.1,512.3 472.4,512.6 472.6,511.3 472.9,511.4 473.1,513.2 473.4,511.8 473.6,512.1 473.9,513 474.1,512.9 474.4,513.6 474.6,512.7 474.9,514.1 475.1,513 475.4,514 475.6,512.8 475.9,513.6 476.1,512.9 476.4,513.4 476.6,513.4 476.9,514.2 477.1,513.7 477.4,513 477.6,514.7 477.9,514.5 478.1,514.6 478.4,513.4 478.6,513.7 478.9,513.4 479.1,513.2 479.4,513.1 479.6,513.9 479.9,513.3 480.1,513.4 480.4,514.6 480.6,513.9 480.9,513.4 481.1,514.3 481.4,513.6 481.6,514 481.9,513.6 482.1,514 482.4,514.2 482.6,514.1 482.9,513.8 483.1,514.5 483.4,514.7 483.6,513.4 483.9,513.3 484.1,513.3 484.4,514.8 484.6,514.7 484.9,513.4 485.1,514.7 485.4,513.3 485.6,513.8 485.9,513.8 486.1,514.5 486.4,512.9 486.6,513.4 486.9,513.8 487.1,512.8 487.4,513.1 487.6,513.5 487.9,514.2 488.1,513.9 488.4,514 488.6,513.8 488.9,513.7 489.1,513.9 489.4,513.5 489.6,513.6 489.9,512.8 490.1,512.5 490.4,513.5 490.6,512.4 490.9,513.7 491.1,513 491.4,512.5 491.6,513.5 491.9,512.1 492.1,512.6 492.4,511.8 492.6,513.3 492.9,512.5 493.1,512.8 493.4,511.8 493.6,512.7 493.9,512.4 494.1,512.2 494.4,512.7 494.6,511.6 494.9,511.5 495.1,511.9 495.4,512.1 495.6,511.1 495.9,511.6 496.1,510.7 496.4,511.2 496.6,511.5 496.9,510.1 497.1,511.2 497.4,509.9 497.6,511.5 497.9,510.5 498.1,510.3 498.4,510.7 498.6,510.3 498.9,510.6 499.1,509.3 499.4,510.1 499.6,510 499.9,510.5 500.1,508.8 500.4,509.5 500.6,509.7 500.9,509.4 501.1,508.5 501.4,509.3 501.6,508.5 501.9,508.4 502.1,509.5 502.4,508.2 502.6,508.5 502.9,508.9 503.1,508.8 503.4,508.4 503.6,508.7 503.9,508 504.1,508.2 504.4,508.5 504.6,508.1 504.9,508 505.1,507.4 505.4,507.6 505.6,507.2 505.9,507.8 506.1,507 506.4,507.1 506.6,507.5 506.9,507 507.1,506.6 507.4,507.4 507.6,506.5 507.9,507.3 508.1,507.1 508.4,506.4 508.6,506.8 508.9,505.5 509.1,506.1 509.4,506.8 509.6,506.3 509.9,506.1 510.1,506.3 510.4,506.2 510.6,506 510.9,505.6 511.1,505.1 511.4,505.2 511.6,505.2 511.9,505.4 512.1,506.3 512.4,505.1 512.6,505.2 512.9,505 513.1,505.3 513.4,505.9 513.6,505.8 513.9,504.8 514.1,504.5 514.4,505.6 514.6,504.8 514.9,505.1 515.1,503.9 515.4,505.2 515.6,504.2 515.9,504.4 516.1,503.8 516.4,504.1 516.6,504.7 516.9,504.6 517.1,503.8 517.4,504.2 517.6,503.5 517.9,503.2 518.1,503.3 518.4,502.4 518.6,502.4 518.9,502.9 519.1,502.8 519.4,501.3 519.6,502.2 519.9,502.2 520.1,501.3 520.4,500.3 520.6,501 520.9,499.9 521.1,500.3 521.4,499.5 521.6,499.7 521.9,498.9 522.1,499.3 522.4,499.4 522.6,499.8 522.9,499.3 523.1,501 523.4,500.1 523.6,500.5 523.9,500.8 524.1,500.8 524.4,501.8 524.6,502.7 524.9,502.8 525.1,502.2 525.4,502.4 525.6,503 525.9,504.1 526.1,503.8 526.4,504.7 526.6,504.3 526.9,504.4 527.1,504.7 527.4,504.8 527.6,504.1 527.9,504 528.1,504.4 528.4,504.6 528.6,504 528.9,504.6 529.1,505 529.4,504.2 529.6,504.2 529.9,504.3 530.1,504.6 530.4,505.9 530.6,504.2 530.9,504.5 531.1,504.5 531.4,505.1 531.6,504.3 531.9,505.1 532.1,504.6 532.4,504.8 532.6,505.8 532.9,504.7 533.1,505.5 533.4,505.1 533.6,505.2 533.9,505.9 534.1,504.7 534.4,506.1 534.6,506 534.9,505.6 535.1,504.5 535.4,505.6 535.6,505.4 535.9,505.7 536.1,504.7 536.4,506 536.6,505.9 536.9,504.5 537.1,504.8 537.4,504.3 537.6,505.7 537.9,505.9 538.1,506 538.4,505.3 538.6,505.4 538.9,505.4 539.1,505.1 539.4,505.8 539.6,505.2 539.9,504.7 540.1,504.9 540.4,504 540.6,505.3 540.9,505.2 541.1,504.7 541.4,505.4 541.6,505.2 541.9,504.5 542.1,504 542.4,504 542.6,504.1 542.9,504.3 543.1,504.5 543.4,505.4 543.6,504.2 543.9,505.2 544.1,504.8 544.4,505.1 544.6,504.3 544.9,503.5 545.1,504.9 545.4,503.9 545.6,503.7 545.9,504.9 546.1,504.6 546.4,503.7 546.6,503.8 546.9,505 547.1,503.8 547.4,504.5 547.6,503.5 547.9,504.7 548.1,503.4 548.4,504.1 548.6,503.2 548.9,504.1 549.1,504.6 549.4,508.5 549.6,503.6 549.9,504.5 550.1,504.2 550.4,503.6 550.6,504.2 550.9,503.8 551.1,504.6 551.4,503.5 551.6,504.3 551.9,504.1 552.1,504.3 552.4,503.6 552.6,504.2 552.9,504.2 553.1,503.6 553.4,502.9 553.6,504.6 553.9,504.1 554.1,503.2 554.4,504.2 554.6,503.3 554.9,503.7 555.1,504.4 555.4,503.6 555.6,503.3 555.9,503.3 556.1,502.9 556.4,503.1 556.6,503.2 556.9,503 557.1,502.8 557.4,503.5 557.6,503.1 557.9,504 558.1,504.3 558.4,503.1 558.6,503.6 558.9,503.5 559.1,502.7 559.4,502.8 559.6,504.1 559.9,503.4 560.1,503.9 560.4,502.6 560.6,503.5 560.9,504 561.1,503.9 561.4,502.4 561.6,503.3 561.9,502.9 562.1,503.6 562.4,502.3 562.6,502.7 562.9,503.6 563.1,502.9 563.4,502.9 563.6,503.8 563.9,502.5 564.1,502 564.4,502.6 564.6,502.1 564.9,501.9 565.1,502.7 565.4,503.4 565.6,502.7 565.9,502.7 566.1,502.1 566.4,502.5 566.6,502.8 566.9,502.4 567.1,502.7 567.4,502.2 567.6,501.5 567.9,502.2 568.1,501.9 568.4,501.3 568.6,502 568.9,502.3 569.1,501.1 569.4,501.7 569.6,502 569.9,501.4 570.1,501.1 570.4,501.2 570.6,501.4 570.9,501.6 571.1,501.3 571.4,500.5 571.6,501.7 571.9,501.8 572.1,500.3 572.4,500.5 572.6,500.3 572.9,501.4 573.1,501.5 573.4,499.9 573.6,500.3 573.9,500 574.1,500.5 574.4,501.2 574.6,499.6 574.9,499.8 575.1,500.3 575.4,500.3 575.6,500.6 575.9,500 576.1,499.5 576.4,499.8 576.6,500.9 576.9,500.4 577.1,499.2 577.4,500.4 577.6,499.5 577.9,500.3 578.1,498.9 578.4,500.4 578.6,499 578.9,499.5 579.1,499.9 579.4,499.5 579.6,498.9 579.9,498.8 580.1,499 580.4,498.6 580.6,498.8 580.9,498.6 581.1,499.2 581.4,499 581.6,499.3 581.9,498.8 582.1,498.3 582.4,498.8 582.6,499.5 582.9,498.6 583.1,498.8 583.4,499.4 583.6,498.7 583.9,499.6 584.1,499.6 584.4,498.4 584.6,499.2 584.9,498.3 585.1,498 585.4,498.5 585.6,498.8 585.9,499.4 586.1,497.9 586.4,498.9 586.6,498.4 586.9,497.8 587.1,499.3 587.4,498.7 587.6,497.7 587.9,499 588.1,497.5 588.4,497.5 588.6,497.9 588.9,498.9 589.1,497.3 589.4,498.8 589.6,498.2 589.9,497.2 590.1,498.1 590.4,497.9 590.6,498 590.9,498.3 591.1,498.1 591.4,498.7 591.6,497.1 591.9,498.3 592.1,497.5 592.4,498.1 592.6,498.3 592.9,498.4 593.1,497.1 593.4,497.4 593.6,498.2 593.9,498.2 594.1,497.1 594.4,498.1 594.6,497.1 594.9,497 595.1,497.6 595.4,497.1 595.6,497 595.9,496.8 596.1,496.9 596.4,496.3 596.6,496.1 596.9,497.3 597.1,496.9 597.4,497 597.6,497.2 597.9,496.1 598.1,496.1 598.4,496.1 598.6,496.1 598.9,496.9 599.1,496.1 599.4,496 599.6,496.5 599.9,495.6 600.1,495.4 600.4,496.4 600.6,496.5 600.9,495.6 601.1,496.1 601.4,495 601.6,495.6 601.9,495.8 602.1,495.2 602.4,495.2 602.6,495.6 602.9,495.5 603.1,494.6 603.4,495.5 603.6,494.3 603.9,495.8 604.1,494.3 604.4,494.3 604.6,494.1 604.9,495.4 605.1,494 605.4,494.5 605.6,495 605.9,494.7 606.1,492.9 606.4,493.5 606.6,493.5 606.9,493.5 607.1,492.6 607.4,492.5 607.6,491.7 607.9,491.7 608.1,492.5 608.4,491.6 608.6,491.8 608.9,492 609.1,491.4 609.4,491.3 609.6,492.9 609.9,492 610.1,491.5 610.4,492.4 610.6,491.1 610.9,491.5 611.1,492.9 611.4,492.9 611.6,492.5 611.9,491.7 612.1,492.3 612.4,492 612.6,492.5 612.9,492.4 613.1,492.8 613.4,493.9 613.6,493.1 613.9,493.3 614.1,494.8 614.4,493.9 614.6,494 614.9,493.7 615.1,495.1 615.4,495 615.6,494.9 615.9,495.2 616.1,494.4 616.4,494.8 616.6,495.5 616.9,496.2 617.1,496.1 617.4,495.9 617.6,495.7 617.9,494.9 618.1,496.6 618.4,495.1 618.6,495.3 618.9,496.3 619.1,496.6 619.4,496.5 619.6,495.9 619.9,495.4 620.1,495.2 620.4,496.6 620.6,496.9 620.9,495.5 621.1,496.7 621.4,495.8 621.6,495.7 621.9,496 622.1,495.1 622.4,495.9 622.6,495.5 622.9,496.4 623.1,496 623.4,496.7 623.6,496.7 623.9,495.7 624.1,495.6 624.4,496.8 624.6,496 624.9,495.3 625.1,495.2 625.4,496.9 625.6,496.1 625.9,495.2 626.1,496 626.4,496 626.6,495.9 626.9,496.8 627.1,496.8 627.4,495.3 627.6,495.4 627.9,495.8 628.1,496.6 628.4,496.2 628.6,496.4 628.9,496.1 629.1,495.5 629.4,496.6 629.6,495.1 629.9,496.4 630.1,495.4 630.4,495.9 630.6,496.8 630.9,496.1 631.1,495.2 631.4,495.8 631.6,496.2 631.9,495.1 632.1,495.5 632.4,495 632.6,496 632.9,495.7 633.1,495.9 633.4,495.5 633.6,496.1 633.9,495.2 634.1,496.5 634.4,496.5 634.6,495.7 634.9,495.6 635.1,496.3 635.4,495.2 635.6,496.1 635.9,495.1 636.1,495.9 636.4,495.1 636.6,495.6 636.9,496.1 637.1,494.5 637.4,495.8 637.6,495.3 637.9,494.9 638.1,494.8 638.4,494.3 638.6,494.6 638.9,495.2 639.1,494.2 639.4,495.2 639.6,495.6 639.9,495.6 640.1,495.4 640.4,495.2 640.6,494 640.9,495.4 641.1,493.9 641.4,495.1 641.6,495 641.9,494.5 642.1,494.3 642.4,493.6 642.6,494.1 642.9,493.7 643.1,493.3 643.4,493.2 643.6,494.4 643.9,494.5 644.1,493.1 644.4,492.8 644.6,493.2 644.9,492.9 645.1,492.9 645.4,493.5 645.6,493.2 645.9,493.1 646.1,492.7 646.4,493.4 646.6,492.7 646.9,492.8 647.1,492.9 647.4,493.6 647.6,492.3 647.9,493.1 648.1,492.3 648.4,493.3 648.6,492.3 648.9,492.5 649.1,493.1 649.4,492.6 649.6,491.5 649.9,491.5 650.1,493 650.4,491.2 650.6,491.7 650.9,492.8 651.1,491 651.4,491.2 651.6,491.2 651.9,491 652.1,491.6 652.4,491.8 652.6,491.2 652.9,490.8 653.1,492 653.4,491.9 653.6,491.4 653.9,490.6 654.1,491.3 654.4,491.4 654.6,491 654.9,491.7 655.1,490.8 655.4,491 655.6,490.2 655.9,491 656.1,491.3 656.4,491.2 656.6,490.3 656.9,491.6 657.1,491 657.4,490.4 657.6,490.4 657.9,491 658.1,489.9 658.4,490.7 658.6,490.8 658.9,490.4 659.1,491 659.4,490.2 659.6,490.1 659.9,489.8 660.1,490.9 660.4,489.8 660.6,490.4 660.9,489.8 661.1,490.8 661.4,490.7 661.6,489 661.9,490.7 662.1,490 662.4,489 662.6,489.7 662.9,488.9 663.1,489.7 663.4,489 663.6,489.3 663.9,489.2 664.1,489.7 664.4,490 664.6,490.2 664.9,489.1 665.1,489.5 665.4,488.4 665.6,489 665.9,490.1 666.1,488.5 666.4,489.8 666.6,489.4 666.9,488.7 667.1,489.5 667.4,488.6 667.6,489.7 667.9,488.2 668.1,488.2 668.4,489.3 668.6,488.7 668.9,488.2 669.1,488.8 669.4,488.4 669.6,488.8 669.9,489.1 670.1,489.3 670.4,487.8 670.6,488.7 670.9,489.4 671.1,488.4 671.4,488.9 671.6,487.7 671.9,489 672.1,488.5 672.4,489 672.6,488.8 672.9,488.9 673.1,487.4 673.4,488.5 673.6,487.6 673.9,487.6 674.1,487.7 674.4,488.2 674.6,488.2 674.9,488.7 675.1,487 675.4,487.3 675.6,487.6 675.9,488.4 676.1,487.8 676.4,487.7 676.6,488.1 676.9,487.9 677.1,487.2 677.4,486.8 677.6,487.5 677.9,488.2 678.1,487.6 678.4,486.6 678.6,487.3 678.9,487.1 679.1,487.5 679.4,487.4 679.6,488.1 679.9,486.9 680.1,487 680.4,487.3 680.6,487.8 680.9,487.4 681.1,487 681.4,487.5 681.6,486.9 681.9,487.7 682.1,486.5 682.4,486.2 682.6,487.4 682.9,486.4 683.1,487.3 683.4,486.9 683.6,486.7 683.9,485.9 684.1,487.1 684.4,485.8 684.6,487.3 684.9,487.1 685.1,486.1 685.4,485.7 685.6,487 685.9,486.3 686.1,485.6 686.4,486.2 686.6,485.7 686.9,486 687.1,486.4 687.4,486.8 687.6,486.6 687.9,485.4 688.1,485.9 688.4,485.9 688.6,486.8 688.9,485.1 689.1,485.8 689.4,486.5 689.6,485.6 689.9,485.3 690.1,485.8 690.4,485.3 690.6,486.4 690.9,484.8 691.1,485 691.4,484.7 691.6,485.8 691.9,485 692.1,486.1 692.4,486 692.6,486.1 692.9,484.8 693.1,484.3 693.4,485 693.6,486 693.9,485.6 694.1,484.3 694.4,485.4 694.6,485.7 694.9,485.8 695.1,485.3 695.4,485.5 695.6,485.4 695.9,484.5 696.1,484 696.4,485.1 696.6,484 696.9,484.4 697.1,485.5 697.4,484.7 697.6,484.6 697.9,485.3 698.1,484.1 698.4,485.3 698.6,485.1 698.9,484.1 699.1,484 699.4,483.6 699.6,485 699.9,483.6 700.1,483.3 700.4,484.8 700.6,484.3 700.9,484.3 701.1,484.4 701.4,483.1 701.6,483.2 701.9,483.9 702.1,483 702.4,483.8 702.6,484.2 702.9,484 703.1,483.9 703.4,482.9 703.6,483.2 703.9,484.3 704.1,482.9 704.4,483.6 704.6,482.7 704.9,484.2 705.1,482.8 705.4,483.2 705.6,483.4 705.9,483.7 706.1,484 706.4,483.6 706.6,482.9 706.9,482.4 707.1,483.5 707.4,483.9 707.6,482.2 707.9,483.5 708.1,482.4 708.4,482.9 708.6,482.9 708.9,483.1 709.1,483.7 709.4,483.1 709.6,482.6 709.9,483.1 710.1,482.6 710.4,482.5 710.6,482.4 710.9,482.6 711.1,482.2 711.4,482.1 711.6,481.9 711.9,482.3 712.1,482.1 712.4,483 712.6,483 712.9,482.1 713.1,482.5 713.4,483 713.6,482 713.9,482.3 714.1,482.1 714.4,482.4 714.6,483 714.9,481.5 715.1,482.9 715.4,482.4 715.6,482.6 715.9,482.2 716.1,482.6 716.4,481.6 716.6,482.3 716.9,481.4 717.1,481.8 717.4,482.1 717.6,481.2 717.9,480.9 718.1,482.2 718.4,482.2 718.6,481.9 718.9,481.2 719.1,481.8 719.4,480.7 719.6,481.7 719.9,481.5 720.1,481.5 720.4,481.1 720.6,480.6 720.9,481.4 721.1,480.9 721.4,481.3 721.6,480.5 721.9,479.9 722.1,480.6 722.4,480.6 722.6,481 722.9,480.8 723.1,479.1 723.4,480.3 723.6,479.2 723.9,479.8 724.1,479.1 724.4,478.8 724.6,478.9 724.9,478.8 725.1,479 725.4,478.7 725.6,478.6 725.9,477.9 726.1,478.2 726.4,477.4 726.6,477.7 726.9,477.2 727.1,477.2 727.4,476.1 727.6,476.7 727.9,476 728.1,476.1 728.4,475.4 728.6,476.3 728.9,476.5 729.1,475.3 729.4,474.7 729.6,475.5 729.9,474.4 730.1,475.6 730.4,474 730.6,474.2 730.9,474.2 731.1,473.3 731.4,473.5 731.6,473.2 731.9,473.8 732.1,474.1 732.4,472.7 732.6,473.3 732.9,471.9 733.1,472.5 733.4,472 733.6,471.5 733.9,472.3 734.1,471.9 734.4,470.6 734.6,470.7 734.9,471.5 735.1,471.7 735.4,470.9 735.6,471.4 735.9,471.7 736.1,471.4 736.4,471.5 736.6,471 736.9,471.6 737.1,472.3 737.4,473.2 737.6,472.3 737.9,472.7 738.1,472.3 738.4,473.7 738.6,473.4 738.9,474.3 739.1,473.4 739.4,474.4 739.6,474.6 739.9,474.5 740.1,474.2 740.4,474.7 740.6,475.5 740.9,474.7 741.1,474.7 741.4,475.5 741.6,475.2 741.9,476.3 742.1,476.4 742.4,476.7 742.6,476.6 742.9,476.3 743.1,475.5 743.4,476.7 743.6,476.5 743.9,476.6 744.1,476.5 744.4,476.8 744.6,475.9 744.9,476.6 745.1,476.3 745.4,476 745.6,476 745.9,475.7 746.1,476.3 746.4,476.1 746.6,476.2 746.9,477 747.1,476.7 747.4,476.8 747.6,477.3 747.9,475.9 748.1,476.5 748.4,475.7 748.6,476.3 748.9,477.3 749.1,475.7 749.4,477 749.6,477.2 749.9,476.5 750.1,477 750.4,476.4 750.6,476.2 750.9,476.5 751.1,475.9 751.4,476.1 751.6,476.1 751.9,477.3 752.1,476.1 752.4,475.9 752.6,477.2 752.9,475.7 753.1,477.2 753.4,477 753.6,476.6 753.9,476.2 754.1,475.7 754.4,475.6 754.6,475.5 754.9,475.9 755.1,476 755.4,476.9 755.6,476.2 755.9,477 756.1,476.5 756.4,475.4 756.6,476.1 756.9,475.3 757.1,475.1 757.4,476.7 757.6,475.5 757.9,475.2 758.1,475 758.4,476 758.6,475.6 758.9,474.7 759.1,476 759.4,475.1 759.6,476 759.9,475.4 760.1,475.4 760.4,475.2 760.6,475.6 760.9,476.1 761.1,475.7 761.4,474.3 761.6,475 761.9,474.5 762.1,474.2 762.4,474.3 762.6,474.4 762.9,475.6 763.1,475.2 763.4,475.3 763.6,475 763.9,474.2 764.1,474.3 764.4,474.3 764.6,474 764.9,474.1 765.1,474.7 765.4,473.4 765.6,473.7 765.9,474 766.1,474.3 766.4,474.2 766.6,474.2 766.9,473.1 767.1,473.1 767.4,473.3 767.6,473.2 767.9,474 768.1,474.3 768.4,473.7 768.6,472.5 768.9,472.9 769.1,473.7 769.4,473.9 769.6,473.2 769.9,472.7 770.1,472.6 770.4,473 770.6,473.4 770.9,472.4 771.1,472 771.4,471.6 771.6,471.8 771.9,473 772.1,472.5 772.4,473.1 772.6,471.4 772.9,471.9 773.1,472.6 773.4,472.3 773.6,471.1 773.9,471.6 774.1,472 774.4,472 774.6,471.5 774.9,470.9 775.1,472.2 775.4,471.2 775.6,471.6 775.9,471.2 776.1,470.3 776.4,470.4 776.6,470 776.9,470.2 777.1,470.1 777.4,470.3 777.6,470.1 777.9,470 778.1,470.7 778.4,469.2 778.6,469.2 778.9,470.4 779.1,469.8 779.4,469.5 779.6,469 779.9,469.4 780.1,468.7 780.4,469.7 780.6,469.6 780.9,468.5 781.1,467.9 781.4,469.3 781.6,468.1 781.9,468.7 782.1,468.9 782.4,468.7 782.6,468.7 782.9,467.9 783.1,468.4 783.4,467.6 783.6,467.2 783.9,467.4 784.1,467.1 784.4,467.7 784.6,467.7 784.9,466.4 785.1,466.3 785.4,466.6 785.6,466.7 785.9,467.4 786.1,467.3 786.4,467.2 786.6,466.7 786.9,466.4 787.1,465.6 787.4,465.6 787.6,464.8 787.9,466.2 788.1,465.1 788.4,464.6 788.6,464.9 788.9,464.8 789.1,465.4 789.4,463.9 789.6,464.2 789.9,465.3 790.1,465.1 790.4,464.5 790.6,464.3 790.9,463.5 791.1,464.6 791.4,464.3 791.6,463.7 791.9,462.9 792.1,462.9 792.4,463.1 792.6,462.9 792.9,462.3 793.1,462.8 793.4,462.8 793.6,462.4 793.9,462.5 794.1,462.4 794.4,462.4 794.6,462.7 794.9,462.4 795.1,461.8 795.4,462.8 795.6,462.3 795.9,462.1 796.1,462.6 796.4,462.6 796.6,462.8 796.9,462.7 797.1,462.4 797.4,462.5 797.6,461.5 797.9,462.5 798.1,461.7 798.4,461.7 798.6,461.4 798.9,461.9 799.1,461.3 799.4,462.4 799.6,462.6 799.9,462.6 800.1,461.5 800.4,462.4 800.6,462.8 800.9,461.3 801.1,461.6 801.4,461.8 801.6,462.1 801.9,461.6 802.1,462.3 802.4,462 802.6,462.5 802.9,462.3 803.1,462.6 803.4,461.8 803.6,462.7 803.9,462.8 804.1,462.8 804.4,461.5 804.6,463.2 804.9,462.5 805.1,461.9 805.4,462.3 805.6,462.5 805.9,462.5 806.1,461.9 806.4,462 806.6,462.2 806.9,463.1 807.1,462.4 807.4,461.6 807.6,462.4 807.9,461.9 808.1,461.5 808.4,463.6 808.6,462.1 808.9,462.7 809.1,462.3 809.4,461.7 809.6,463.5 809.9,463.6 810.1,462 810.4,462.5 810.6,462.4 810.9,461.9 811.1,463 811.4,463.3 811.6,463.3 811.9,463.1 812.1,461.6 812.4,462.1 812.6,462.7 812.9,463.2 813.1,462.4 813.4,462.6 813.6,463.5 813.9,461.6 814.1,462.1 814.4,462.2 814.6,463.8 814.9,462 815.1,461.5 815.4,462.4 815.6,462.9 815.9,461.7 816.1,463.3 816.4,461.7 816.6,462.9 816.9,461.6 817.1,463.2 817.4,461.6 817.6,462.8 817.9,463 818.1,461.6 818.4,461.1 818.6,462.3 818.9,462 819.1,461.9 819.4,462.6 819.6,461.8 819.9,461.8 820.1,461.7 820.4,461.6 820.6,461.4 820.9,460.8 821.1,461 821.4,460.9 821.6,460.8 821.9,462.1 822.1,460.4 822.4,460.6 822.6,461.4 822.9,460.8 823.1,460.5 823.4,460.8 823.6,461.1 823.9,461.6 824.1,462.3 824.4,462 824.6,460.8 824.9,460.9 825.1,460.8 825.4,460.3 825.6,462.2 825.9,459.8 826.1,460.1 826.4,461.3 826.6,461.1 826.9,460.3 827.1,462 827.4,460.6 827.6,461.1 827.9,459.7 828.1,461.9 828.4,459.6 828.6,460.4 828.9,461.8 829.1,462 829.4,461.8 829.6,461.6 829.9,459.9 830.1,459.3 830.4,460.5 830.6,459.4 830.9,461.9 831.1,459.2 831.4,460.1 831.6,459.7 831.9,459.1 832.1,460.5 832.4,459.3 832.6,461.7 832.9,461.1 833.1,460.1 833.4,461.5 833.6,461.4 833.9,460 834.1,461.5 834.4,461.8 834.6,460.9 834.9,460.1 835.1,461.7 835.4,461.9 835.6,460.1 835.9,459.3 836.1,461.7 836.4,461.1 836.6,459.8 836.9,460.9 837.1,460.2 837.4,462.1 837.6,460.4 837.9,460 838.1,459.5 838.4,460.5 838.6,462.7 838.9,460.3 839.1,461.1 839.4,462.8 839.6,459.8 839.9,460.8 840.1,462.6 840.4,460.3 840.6,463.1 840.9,462.9 841.1,460.7 841.4,462.3 841.6,462.2 841.9,462.8 842.1,461.6 842.4,461.9 842.6,461.5 842.9,461.7 843.1,461.4 843.4,463.9 843.6,464 843.9,462.2 844.1,463.4 844.4,462.8 844.6,462.2 844.9,462.5 845.1,464.7 845.4,462.5 845.6,463.4 845.9,464.8 846.1,462.6 846.4,464.5 846.6,462.1 846.9,464.3 847.1,464.7 847.4,464.9 847.6,465.4 847.9,464.6 848.1,465.6 848.4,463.1 848.6,464.1 848.9,463 849.1,462.6 849.4,464 849.6,465.1 849.9,465.4 850.1,462.6 850.4,466.1 850.6,463.5 850.9,463.8 851.1,465.9 851.4,466.1 851.6,465.6 851.9,464.1 852.1,464.6 852.4,466.1 852.6,464.2 852.9,466 853.1,465.9 853.4,464.7 853.6,466.4 853.9,464.3 854.1,465.8 854.4,465.3 854.6,464.1 854.9,464.9 855.1,465.2 855.4,464.9 855.6,463.2 855.9,466.8 856.1,466.7 856.4,462.9 856.6,466.6 856.9,464.9 857.1,463.2 857.4,466 857.6,464.4 857.9,465.6 858.1,466.1 858.4,464.8 858.6,462.8 858.9,466 859.1,465.5 859.4,466.4 859.6,463.7 859.9,465.8 860.1,466.2 860.4,464 860.6,464.2 860.9,463.9 861.1,462.4 861.4,463.4 861.6,463.8 861.9,462.8 862.1,465.7 862.4,464.2 862.6,464.8 862.9,463.5 863.1,463.8 863.4,465.5 863.6,464.3 863.9,464.8 864.1,464 864.4,464.6 864.6,466.1 864.9,463.3 865.1,464.4 865.4,465.1 865.6,462.4 865.9,466.4 866.1,464.2 866.4,463 866.6,465.4 866.9,465.6 867.1,464.8 867.4,466.1 867.6,462.2 867.9,464.2 868.1,465.2 868.4,466 868.6,464.7 868.9,464.5 869.1,463.5 869.4,464.3 869.6,464.2 869.9,465.9 870.1,465.5 870.4,465.1 870.6,465.9 870.9,461.8 871.1,465.2 871.4,463.6 871.6,465 871.9,462.8 872.1,463.6 872.4,465.3 872.6,461.4 872.9,462.6 873.1,463.6 873.4,465.4 873.6,462.5 873.9,465.2 874.1,462.3 874.4,462.5 874.6,463.7 874.9,464.2 875.1,465.3 875.4,465.3 875.6,462.1 875.9,464.6 876.1,464 876.4,462.7 876.6,464.6 876.9,465.2 877.1,463 877.4,465.3 877.6,461.2 877.9,461.3 878.1,464.4 878.4,462 878.6,463.4 878.9,462.9 879.1,461 879.4,464.1 879.6,464 879.9,460.9 880.1,461.4 880.4,464.2 880.6,464.8 880.9,464.5 881.1,462.6 881.4,461.8 881.6,462.2 881.9,460.7 882.1,462.4 882.4,460.9 882.6,460.5 882.9,461.6 883.1,459.9 883.4,462 883.6,463.2 883.9,462.9 884.1,464.6 884.4,464.1 884.6,462.7 884.9,464.1 885.1,461.5 885.4,463.4 885.6,460.6 885.9,461.8 886.1,464.3 886.4,462.2 886.6,461.6 886.9,463.1 887.1,460.4 887.4,463.3 887.6,458.7 887.9,459.9 888,459.5"/>
<polyline fill="none" stroke="#000" stroke-width="1.2" stroke-linejoin="round" points="391.4,551.6 391.6,558.4 391.9,552.1 392.1,556.9 392.4,558 392.6,553.6 392.9,542.5 393.1,553.9 393.4,551.7 393.6,555.3 393.9,553.3 394.1,553.6 394.4,553.1 394.6,553.2 394.9,558.8 395.1,555.3 395.4,553.9 395.6,556.8 395.9,556.8 396.1,557.2 396.4,559.3 396.6,553 396.9,554.8 397.1,554.1 397.4,552 397.6,553.2 397.9,554.9 398.1,554.9 398.4,556.5 398.6,555.3 398.9,556.4 399.1,553.6 399.4,553 399.6,554.4 399.9,552.8 400.1,554.8 400.4,555.5 400.6,557.4 400.9,558.5 401.1,553.1 401.4,559.3 401.6,557.9 401.9,559.8 402.1,554.3 402.4,556.2 402.6,557.2 402.9,558.9 403.1,556.4 403.4,557.5 403.6,556.6 403.9,557.9 404.1,558.4 404.4,559 404.6,559.9 404.9,557.4 405.1,559.8 405.4,557 405.6,560.1 405.9,559.5 406.1,557.9 406.4,558.9 406.6,558.1 406.9,560 407.1,560.4 407.4,561.1 407.6,559.2 407.9,562.7 408.1,560.9 408.4,561 408.6,564 408.9,562.8 409.1,563.2 409.4,562.8 409.6,561.6 409.9,561.5 410.1,561.7 410.4,562.1 410.6,560.9 410.9,560.8 411.1,561 411.4,559.1 411.6,556.7 411.9,554.9 412.1,554.5 412.4,553.7 412.6,552.3 412.9,552.1 413.1,554.1 413.4,555.1 413.6,557.5 413.9,560.3 414.1,560.2 414.4,562.6 414.6,564.5 414.9,566.2 415.1,565.4 415.4,564.8 415.6,565.4 415.9,564.3 416.1,563.7 416.4,565.6 416.6,564.5 416.9,565.6 417.1,563.5 417.4,562.9 417.6,564.1 417.9,564.5 418.1,565.2 418.4,564.1 418.6,562.5 418.9,563.6 419.1,563 419.4,562.4 419.6,564 419.9,563.6 420.1,563.8 420.4,563.2 420.6,563.4 420.9,563.3 421.1,562 421.4,562.8 421.6,563.6 421.9,562.1 422.1,561.5 422.4,561.1 422.6,561.2 422.9,562.1 423.1,560.9 423.4,562.6 423.6,562.7 423.9,563.2 424.1,562.6 424.4,561.7 424.6,562.6 424.9,562.5 425.1,560.6 425.4,560.4 425.6,560.8 425.9,562.8 426.1,561.2 426.4,562.3 426.6,561.1 426.9,561.8 427.1,561 427.4,562.1 427.6,561.3 427.9,562.4 428.1,562 428.4,562.4 428.6,560.6 428.9,560.4 429.1,561.4 429.4,561.5 429.6,560.7 429.9,559.9 430.1,560.1 430.4,562 430.6,560.2 430.9,560.2 431.1,560.7 431.4,559.6 431.6,559.6 431.9,561.3 432.1,560.4 432.4,559.7 432.6,561.4 432.9,559.7 433.1,560.8 433.4,560.8 433.6,559.2 433.9,559.1 434.1,560.8 434.4,559.2 434.6,559.3 434.9,561 435.1,560.1 435.4,560.9 435.6,560.9 435.9,560.4 436.1,558.8 436.4,559.8 436.6,559.1 436.9,558.9 437.1,559.5 437.4,560.4 437.6,560.7 437.9,559.6 438.1,559.5 438.4,560.4 438.6,559.6 438.9,560.2 439.1,559.4 439.4,560.5 439.6,559.8 439.9,559.1 440.1,558.4 440.4,560.2 440.6,558.1 440.9,558 441.1,557.9 441.4,559.9 441.6,559.6 441.9,557.9 442.1,557.9 442.4,558.1 442.6,559.4 442.9,558.5 443.1,559.6 443.4,559.9 443.6,559.1 443.9,558.7 444.1,559.6 444.4,558.1 444.6,559.2 444.9,557.5 445.1,558 445.4,558.9 445.6,559.1 445.9,558.3 446.1,558.4 446.4,559 446.6,559 446.9,558.9 447.1,559.3 447.4,557.3 447.6,557.8 447.9,558.8 448.1,559.2 448.4,559 448.6,558 448.9,558.8 449.1,558.3 449.4,557.1 449.6,558.9 449.9,557.8 450.1,556.8 450.4,557.3 450.6,557.3 450.9,556.9 451.1,559 451.4,557.7 451.6,558 451.9,558 452.1,558.8 452.4,557.9 452.6,557.4 452.9,557.6 453.1,557.3 453.4,558.3 453.6,558.5 453.9,556.9 454.1,556.5 454.4,558.5 454.6,557.9 454.9,558.6 455.1,557.2 455.4,556.8 455.6,558.4 455.9,556.5 456.1,558.1 456.4,558.1 456.6,558.2 456.9,557.3 457.1,556.7 457.4,556.3 457.6,557.3 457.9,558.5 458.1,556.9 458.4,557.3 458.6,556.4 458.9,557.7 459.1,558 459.4,556.7 459.6,557.2 459.9,556.6 460.1,556.6 460.4,556 460.6,556.8 460.9,557.8 461.1,557.6 461.4,557.4 461.6,556.7 461.9,556.9 462.1,557.1 462.4,555.9 462.6,557.5 462.9,556.2 463.1,556.3 463.4,555.6 463.6,556.4 463.9,557 464.1,556.2 464.4,556.4 464.6,556.6 464.9,557.2 465.1,557 465.4,556.1 465.6,555.8 465.9,556.8 466.1,556.1 466.4,556.7 466.6,555.2 466.9,555.4 467.1,556.3 467.4,556.1 467.6,555.5 467.9,555.6 468.1,555.6 468.4,556.5 468.6,555 468.9,555.3 469.1,556.4 469.4,555.3 469.6,556.3 469.9,556 470.1,556.9 470.4,556.9 470.6,555.9 470.9,555.7 471.1,555.5 471.4,556.4 471.6,556.5 471.9,557.2 472.1,557.3 472.4,557.4 472.6,557.4 472.9,557.3 473.1,556.9 473.4,556.5 473.6,557.8 473.9,557.9 474.1,556.6 474.4,556.9 474.6,557.5 474.9,556.9 475.1,557.5 475.4,558.4 475.6,557.1 475.9,557.8 476.1,557.7 476.4,557.2 476.6,557.1 476.9,557.3 477.1,556.4 477.4,556.6 477.6,558.1 477.9,556.7 478.1,557 478.4,557.4 478.6,558.1 478.9,557.9 479.1,557.3 479.4,557.9 479.6,556.8 479.9,558 480.1,556.3 480.4,556.8 480.6,556.7 480.9,557 481.1,556.4 481.4,558.1 481.6,556.8 481.9,557.3 482.1,556.2 482.4,557.1 482.6,556.9 482.9,556.1 483.1,557.1 483.4,557.5 483.6,557.7 483.9,557.5 484.1,557.6 484.4,557.2 484.6,557.4 484.9,556.7 485.1,556.8 485.4,556.6 485.6,557.2 485.9,556.6 486.1,556.9 486.4,557.6 486.6,557.1 486.9,556.8 487.1,556.6 487.4,557.1 487.6,557.2 487.9,557.5 488.1,556.2 488.4,556.5 488.6,556.8 488.9,557.1 489.1,556.5 489.4,555.8 489.6,556.9 489.9,555.6 490.1,556.3 490.4,557.4 490.6,557.1 490.9,557.1 491.1,555.6 491.4,555.1 491.6,555.2 491.9,556.6 492.1,557 492.4,557 492.6,555.8 492.9,556.3 493.1,556.4 493.4,554.7 493.6,555.7 493.9,556 494.1,555.1 494.4,555.2 494.6,554.1 494.9,554.4 495.1,554.2 495.4,554.8 495.6,555.6 495.9,554.8 496.1,554.6 496.4,553.9 496.6,553.3 496.9,554 497.1,553.9 497.4,553.4 497.6,552.7 497.9,554.4 498.1,553.6 498.4,553.3 498.6,553.1 498.9,552.9 499.1,552.7 499.4,552.7 499.6,551.7 499.9,551.2 500.1,551.9 500.4,552.2 500.6,551.2 500.9,551.3 501.1,550 501.4,550.8 501.6,550.1 501.9,551 502.1,549.2 502.4,549.3 502.6,550.3 502.9,548.6 503.1,549 503.4,549.4 503.6,549.2 503.9,549.1 504.1,549.9 504.4,547.8 504.6,549.2 504.9,548.3 505.1,548.3 505.4,547.8 505.6,548.3 505.9,549.9 506.1,550 506.4,550.3 506.6,549.5 506.9,548.9 507.1,548.9 507.4,549.5 507.6,550 507.9,550.2 508.1,551.1 508.4,550.4 508.6,551.2 508.9,550.2 509.1,551.8 509.4,551.8 509.6,550.6 509.9,551.8 510.1,551.2 510.4,550.7 510.6,550.6 510.9,550.7 511.1,549.7 511.4,551 511.6,549.8 511.9,550.6 512.1,549 512.4,549.5 512.6,548.5 512.9,549 513.1,549.2 513.4,548.7 513.6,547.6 513.9,549.1 514.1,548.7 514.4,548.5 514.6,547.2 514.9,547 515.1,546 515.4,545.7 515.6,546.4 515.9,546.4 516.1,545.5 516.4,545.9 516.6,545.8 516.9,545.4 517.1,545.2 517.4,546.5 517.6,545 517.9,545.5 518.1,547 518.4,546.7 518.6,546.8 518.9,546.9 519.1,546.7 519.4,547.8 519.6,547.7 519.9,547.5 520.1,548.1 520.4,548.3 520.6,548.7 520.9,547.9 521.1,547.9 521.4,548.1 521.6,549 521.9,549.5 522.1,550.2 522.4,549.6 522.6,550.6 522.9,549.9 523.1,549.3 523.4,549.3 523.6,550.5 523.9,550.3 524.1,549.9 524.4,550.6 524.6,551.7 524.9,552.3 525.1,550.4 525.4,550.5 525.6,550.7 525.9,551.4 526.1,551.5 526.4,551.4 526.6,552.5 526.9,551.5 527.1,551.7 527.4,551.7 527.6,551.8 527.9,551.4 528.1,552.3 528.4,552 528.6,552.2 528.9,551.7 529.1,551.4 529.4,551.7 529.6,552.2 529.9,552.5 530.1,552 530.4,550.9 530.6,551.2 530.9,551.7 531.1,552 531.4,550.7 531.6,550.5 531.9,550.3 532.1,551.4 532.4,550.2 532.6,551.2 532.9,550.9 533.1,551.3 533.4,550.4 533.6,550.7 533.9,551.3 534.1,549.7 534.4,550 534.6,550.3 534.9,550.8 535.1,549.8 535.4,549.6 535.6,550.2 535.9,549.6 536.1,549.5 536.4,549.7 536.6,548.9 536.9,548.5 537.1,549.4 537.4,549.6 537.6,549.2 537.9,549.1 538.1,549.4 538.4,548.7 538.6,548.4 538.9,549.1 539.1,548.5 539.4,548.8 539.6,548.9 539.9,548.6 540.1,549.1 540.4,549.4 540.6,548.3 540.9,549.9 541.1,549.3 541.4,550 541.6,549.6 541.9,549 542.1,549.3 542.4,549.1 542.6,548.1 542.9,549.8 543.1,548.4 543.4,548.4 543.6,547.8 543.9,548.7 544.1,548.2 544.4,549.4 544.6,548.8 544.9,549.1 545.1,548.2 545.4,548.6 545.6,548.5 545.9,548 546.1,548.5 546.4,548.6 546.6,549 546.9,548.2 547.1,548.2 547.4,548.6 547.6,549.3 547.9,547.9 548.1,549.1 548.4,549.1 548.6,547.7 548.9,548.2 549.1,547.6 549.4,548.4 549.6,549.1 549.9,549.3 550.1,547.5 550.4,547.4 550.6,549 550.9,547.3 551.1,549 551.4,548.1 551.6,548.6 551.9,549.2 552.1,547.7 552.4,548.7 552.6,548.4 552.9,549 553.1,548.5 553.4,548.7 553.6,549.2 553.9,548 554.1,548.1 554.4,547.3 554.6,548.9 554.9,548.2 555.1,549.2 555.4,547.9 555.6,549 555.9,548 556.1,548.9 556.4,547.5 556.6,547.3 556.9,547.7 557.1,548.8 557.4,548.9 557.6,547.4 557.9,547.7 558.1,548.4 558.4,547.5 558.6,548.8 558.9,548.9 559.1,547.5 559.4,547.2 559.6,547.8 559.9,547.9 560.1,547.8 560.4,548.1 560.6,549 560.9,547.4 561.1,548.8 561.4,548.4 561.6,547.9 561.9,547.4 562.1,547.1 562.4,547 562.6,546.7 562.9,547.5 563.1,547.5 563.4,547.2 563.6,548.3 563.9,548.1 564.1,546.6 564.4,547.6 564.6,546.7 564.9,546.3 565.1,548.2 565.4,546.9 565.6,546.8 565.9,546.5 566.1,547.8 566.4,546.1 566.6,547.1 566.9,547.6 567.1,547.4 567.4,546.6 567.6,546.9 567.9,545.6 568.1,547.3 568.4,545.5 568.6,546.6 568.9,546.4 569.1,545.4 569.4,545.3 569.6,545.6 569.9,545.9 570.1,546.5 570.4,546 570.6,546.7 570.9,546.3 571.1,546.3 571.4,545.2 571.6,546.1 571.9,545.9 572.1,546.1 572.4,545.9 572.6,545.6 572.9,544.9 573.1,544.8 573.4,545.3 573.6,544.5 573.9,545.3 574.1,544.3 574.4,544.4 574.6,546.1 574.9,544.8 575.1,545.8 575.4,545.7 575.6,545.1 575.9,545.8 576.1,545.3 576.4,544 576.6,544.5 576.9,545.1 577.1,544.5 577.4,544.4 577.6,544.5 577.9,544.4 578.1,545.1 578.4,545.2 578.6,545 578.9,544.9 579.1,545.1 579.4,544.2 579.6,545.1 579.9,544.1 580.1,545.1 580.4,544.8 580.6,544.4 580.9,543.6 581.1,544.6 581.4,543.6 581.6,543.8 581.9,544.8 582.1,544.3 582.4,543.7 582.6,545 582.9,543.2 583.1,544.6 583.4,544.8 583.6,543.4 583.9,544.9 584.1,543.2 584.4,543.4 584.6,543.9 584.9,544.9 585.1,543.6 585.4,542.8 585.6,544 585.9,543.4 586.1,544.6 586.4,543.1 586.6,544 586.9,542.7 587.1,543.9 587.4,543 587.6,544.4 587.9,543 588.1,543.5 588.4,544.1 588.6,542.7 588.9,543.1 589.1,544.2 589.4,544 589.6,544 589.9,543.9 590.1,543.7 590.4,543.1 590.6,544.3 590.9,543 591.1,543.9 591.4,543.5 591.6,543 591.9,542.4 592.1,542.2 592.4,542.7 592.6,543.7 592.9,543.5 593.1,542.4 593.4,543.1 593.6,542.5 593.9,542.4 594.1,543.4 594.4,542.9 594.6,543.3 594.9,542.9 595.1,543.8 595.4,542 595.6,542.9 595.9,542.1 596.1,542 596.4,543.3 596.6,542 596.9,543.6 597.1,542.2 597.4,542.2 597.6,543 597.9,542.3 598.1,543.2 598.4,542.7 598.6,543.6 598.9,543.2 599.1,542.8 599.4,542.9 599.6,543.5 599.9,542.6 600.1,543.1 600.4,543.2 600.6,543 600.9,542.9 601.1,543 601.4,542.3 601.6,542 601.9,542.5 602.1,542.7 602.4,542.3 602.6,542.9 602.9,543 603.1,543.3 603.4,543 603.6,543.5 603.9,543.1 604.1,542.4 604.4,542.8 604.6,541.9 604.9,543 605.1,543.7 605.4,543.2 605.6,541.7 605.9,542.8 606.1,541.9 606.4,543.2 606.6,541.9 606.9,543.1 607.1,541.7 607.4,543.1 607.6,543 607.9,543.2 608.1,543.3 608.4,542.8 608.6,543.5 608.9,543.1 609.1,542.5 609.4,542.5 609.6,542.4 609.9,542.5 610.1,543.3 610.4,541.8 610.6,542.3 610.9,543.5 611.1,542.4 611.4,543.2 611.6,542.1 611.9,543.4 612.1,541.9 612.4,543 612.6,541.9 612.9,542.9 613.1,542.9 613.4,542 613.6,542.3 613.9,541.8 614.1,542.4 614.4,542 614.6,542 614.9,542.2 615.1,542 615.4,543.6 615.6,543.2 615.9,541.8 616.1,542 616.4,543.6 616.6,542.8 616.9,542.6 617.1,541.8 617.4,541.8 617.6,542.5 617.9,542.5 618.1,542.4 618.4,541.7 618.6,542.2 618.9,543.1 619.1,542.7 619.4,542.4 619.6,543.3 619.9,541.9 620.1,543.1 620.4,542.2 620.6,543.2 620.9,542.3 621.1,541.8 621.4,542.7 621.6,541.9 621.9,543.2 622.1,543.6 622.4,542.7 622.6,543.3 622.9,542.7 623.1,543.5 623.4,542.1 623.6,542 623.9,541.8 624.1,542.3 624.4,542.6 624.6,542.4 624.9,541.9 625.1,542.7 625.4,541.8 625.6,542.5 625.9,543.3 626.1,542.8 626.4,542.9 626.6,542.6 626.9,542.6 627.1,541.8 627.4,541.8 627.6,542.4 627.9,543.4 628.1,542.8 628.4,543 628.6,543.5 628.9,543.4 629.1,543.2 629.4,542.7 629.6,541.7 629.9,542.5 630.1,542.3 630.4,542.8 630.6,543.2 630.9,543.5 631.1,543.3 631.4,543 631.6,542.8 631.9,542.6 632.1,541.7 632.4,542.3 632.6,542.6 632.9,542.4 633.1,543.6 633.4,543 633.6,543.5 633.9,543.1 634.1,542.7 634.4,542.8 634.6,542.7 634.9,542.5 635.1,541.9 635.4,541.6 635.6,541.9 635.9,542 636.1,543.5 636.4,542.3 636.6,542.2 636.9,541.9 637.1,543.2 637.4,542.5 637.6,542.2 637.9,542.6 638.1,542.1 638.4,542.6 638.6,543.2 638.9,541.9 639.1,543.2 639.4,542.3 639.6,541.5 639.9,541.3 640.1,541.8 640.4,542.1 640.6,543.1 640.9,542.1 641.1,542.8 641.4,542.3 641.6,542.3 641.9,541.2 642.1,542.3 642.4,542.8 642.6,542.7 642.9,542.7 643.1,542.6 643.4,541.3 643.6,542.1 643.9,542 644.1,542.2 644.4,541.4 644.6,541.8 644.9,542.2 645.1,542.1 645.4,541.8 645.6,541.6 645.9,541.1 646.1,541.1 646.4,542.9 646.6,542.3 646.9,541.1 647.1,542.6 647.4,542.7 647.6,542.3 647.9,541.8 648.1,542.8 648.4,541 648.6,542.1 648.9,542.1 649.1,541 649.4,541.2 649.6,541 649.9,541.5 650.1,542.1 650.4,540.7 650.6,540.9 650.9,542.1 651.1,542.5 651.4,542.1 651.6,541.6 651.9,542.3 652.1,541.4 652.4,542.3 652.6,541.6 652.9,542.2 653.1,542.2 653.4,540.9 653.6,540.4 653.9,541.7 654.1,541.8 654.4,541.9 654.6,541 654.9,540.4 655.1,541.7 655.4,541.8 655.6,540.4 655.9,540.7 656.1,540.9 656.4,540.5 656.6,541.6 656.9,542.1 657.1,542.2 657.4,542 657.6,541.3 657.9,541 658.1,541.8 658.4,540.8 658.6,540.9 658.9,541 659.1,541 659.4,542 659.6,541.1 659.9,541 660.1,540.6 660.4,541.1 660.6,541.2 660.9,541.1 661.1,541.4 661.4,541 661.6,540.5 661.9,541.3 662.1,541 662.4,541.5 662.6,540.4 662.9,540.5 663.1,540.8 663.4,540.9 663.6,540.8 663.9,540.9 664.1,540.4 664.4,539.7 664.6,539.7 664.9,540.2 665.1,539.7 665.4,540 665.6,540.2 665.9,540.9 666.1,541.8 666.4,541 666.6,540.3 666.9,541.2 667.1,540.1 667.4,541.3 667.6,540.4 667.9,540.3 668.1,539.4 668.4,539.8 668.6,540.7 668.9,541.5 669.1,540.6 669.4,540.9 669.6,540.2 669.9,540.5 670.1,540.9 670.4,539.2 670.6,540.1 670.9,540.5 671.1,540 671.4,540 671.6,539.1 671.9,540.1 672.1,539.6 672.4,539.5 672.6,541.2 672.9,539.1 673.1,539.7 673.4,540.1 673.6,539.1 673.9,539.9 674.1,540.6 674.4,539.4 674.6,539.7 674.9,540.4 675.1,540.3 675.4,539.1 675.6,539.5 675.9,540.2 676.1,540.5 676.4,539.1 676.6,539.6 676.9,540.3 677.1,538.9 677.4,539.2 677.6,538.8 677.9,540.7 678.1,539.1 678.4,540 678.6,539 678.9,539.4 679.1,540.4 679.4,539.3 679.6,540.4 679.9,539.6 680.1,540.8 680.4,538.9 680.6,540.3 680.9,539.7 681.1,538.9 681.4,539.6 681.6,539.9 681.9,539.8 682.1,539.4 682.4,539.4 682.6,538.4 682.9,539.6 683.1,540.1 683.4,539.1 683.6,538.5 683.9,539.4 684.1,540.2 684.4,540.2 684.6,538.7 684.9,539 685.1,539.2 685.4,538.7 685.6,538.8 685.9,540 686.1,539.4 686.4,538.6 686.6,538.5 686.9,539.7 687.1,540.2 687.4,539.9 687.6,538.4 687.9,540.4 688.1,539.5 688.4,538.6 688.6,539.3 688.9,539.1 689.1,540.4 689.4,540.4 689.6,540 689.9,540.3 690.1,539.9 690.4,540 690.6,539 690.9,539.4 691.1,539.3 691.4,538.7 691.6,538.2 691.9,539.7 692.1,539.9 692.4,540.3 692.6,538.8 692.9,538.9 693.1,539.1 693.4,539.4 693.6,540.2 693.9,540.3 694.1,539.8 694.4,539.8 694.6,538.8 694.9,539.8 695.1,539.1 695.4,538.8 695.6,540.2 695.9,539.6 696.1,540.1 696.4,539.4 696.6,539.5 696.9,539.5 697.1,538.5 697.4,539.1 697.6,539.1 697.9,539 698.1,539.8 698.4,538 698.6,540 698.9,538.4 699.1,538.2 699.4,540.3 699.6,540.2 699.9,538.3 700.1,540.2 700.4,538.5 700.6,539.2 700.9,539.4 701.1,538 701.4,538.4 701.6,538.4 701.9,538.1 702.1,538.2 702.4,538.3 702.6,537.9 702.9,539.4 703.1,538.7 703.4,539.5 703.6,538.7 703.9,540.1 704.1,539.5 704.4,539.9 704.6,538.1 704.9,540 705.1,538.4 705.4,539.9 705.6,538.7 705.9,540 706.1,539.9 706.4,539.2 706.6,539.5 706.9,539.6 707.1,538.6 707.4,539 707.6,539.1 707.9,539 708.1,538.7 708.4,538.7 708.6,538.3 708.9,538 709.1,538.9 709.4,539.7 709.6,538.1 709.9,539.4 710.1,538.9 710.4,539.1 710.6,539.2 710.9,539.8 711.1,539.7 711.4,538.2 711.6,538.4 711.9,538 712.1,539 712.4,538.7 712.6,539 712.9,538.7 713.1,537.7 713.4,538.5 713.6,539.1 713.9,538.8 714.1,538.1 714.4,537.5 714.6,537.9 714.9,538.7 715.1,537.4 715.4,537.2 715.6,537.2 715.9,536.8 716.1,536.8 716.4,537.8 716.6,537.4 716.9,537.5 717.1,536.4 717.4,536.5 717.6,537.1 717.9,536.5 718.1,536.6 718.4,537.5 718.6,536.6 718.9,536.1 719.1,537.7 719.4,536.4 719.6,537.6 719.9,536.4 720.1,536.1 720.4,535.1 720.6,536.8 720.9,537.1 721.1,536.3 721.4,535.6 721.6,534.9 721.9,536.8 722.1,535.5 722.4,535 722.6,537.1 722.9,536.6 723.1,535.8 723.4,537.3 723.6,535.5 723.9,537 724.1,536.1 724.4,535.1 724.6,535.3 724.9,536 725.1,535.3 725.4,536 725.6,536.1 725.9,537.6 726.1,536.3 726.4,537.3 726.6,536.5 726.9,536.3 727.1,537 727.4,536 727.6,537.5 727.9,535.9 728.1,537.2 728.4,537.9 728.6,536.6 728.9,537.9 729.1,536.8 729.4,536.8 729.6,537.5 729.9,537.8 730.1,536 730.4,538.1 730.6,536.1 730.9,538.2 731.1,537 731.4,537.4 731.6,538 731.9,537.9 732.1,537.6 732.4,536.3 732.6,537.7 732.9,537.4 733.1,536.5 733.4,536.3 733.6,536.3 733.9,537.5 734.1,536.6 734.4,536.7 734.6,536.5 734.9,538 735.1,538.6 735.4,536.4 735.6,537.8 735.9,538.7 736.1,536.5 736.4,537.3 736.6,537.1 736.9,537.8 737.1,537 737.4,536.5 737.6,538.8 737.9,538.9 738.1,536.7 738.4,539 738.6,536.6 738.9,536.9 739.1,537.5 739.4,538.5 739.6,538.8 739.9,537.6 740.1,537 740.4,538.7 740.6,538.1 740.9,538.3 741.1,537.7 741.4,537.4 741.6,536.6 741.9,538.8 742.1,537.7 742.4,537.2 742.6,538.7 742.9,537.2 743.1,537 743.4,539 743.6,537.6 743.9,538.6 744.1,538.5 744.4,538.8 744.6,538.4 744.9,539 745.1,538.4 745.4,537.2 745.6,538.1 745.9,537.1 746.1,536.8 746.4,536.7 746.6,538.5 746.9,537.1 747.1,536.6 747.4,537.1 747.6,537.4 747.9,538 748.1,537.3 748.4,535.9 748.6,537.4 748.9,535.6 749.1,537.3 749.4,537.7 749.6,537.1 749.9,537.5 750.1,537.7 750.4,535.4 750.6,537.1 750.9,537.5 751.1,535.8 751.4,536.8 751.6,536.4 751.9,536.2 752.1,535.2 752.4,536.5 752.6,536.9 752.9,535.3 753.1,535.5 753.4,535.3 753.6,535.1 753.9,536.1 754.1,536.5 754.4,535.8 754.6,535 754.9,535 755.1,533.9 755.4,534 755.6,535.7 755.9,534.3 756.1,534.7 756.4,534.6 756.6,535.6 756.9,535 757.1,533.9 757.4,535 757.6,534 757.9,535.6 758.1,534.5 758.4,534.3 758.6,535.2 758.9,536 759.1,536 759.4,535.4 759.6,536 759.9,535.6 760.1,533.8 760.4,535.4 760.6,534 760.9,534.2 761.1,534.4 761.4,535.6 761.6,534.7 761.9,535.1 762.1,536.3 762.4,535.4 762.6,534.2 762.9,534.8 763.1,535.2 763.4,535 763.6,534.4 763.9,536.2 764.1,534.6 764.4,535.6 764.6,534.8 764.9,534.6 765.1,535.4 765.4,535.6 765.6,534.7 765.9,536.5 766.1,536.5 766.4,534.4 766.6,535.8 766.9,534.8 767.1,535.5 767.4,535 767.6,535.1 767.9,536.1 768.1,535.6 768.4,534.9 768.6,536.5 768.9,535.5 769.1,535 769.4,534.9 769.6,537.1 769.9,535.8 770.1,534.7 770.4,535.8 770.6,535.7 770.9,536.3 771.1,537 771.4,535.3 771.6,535.3 771.9,535.6 772.1,534.7 772.4,535.9 772.6,535 772.9,536 773.1,534.8 773.4,535.1 773.6,535.5 773.9,536.3 774.1,536.9 774.4,535.8 774.6,536.2 774.9,536.3 775.1,535.7 775.4,535.9 775.6,536.6 775.9,535.5 776.1,534.9 776.4,535.2 776.6,536.4 776.9,536.6 777.1,536.7 777.4,536.2 777.6,536.6 777.9,536.2 778.1,535.8 778.4,536.9 778.6,536.9 778.9,534.8 779.1,535.3 779.4,537 779.6,536.5 779.9,536.6 780.1,536.7 780.4,536.6 780.6,536 780.9,534.8 781.1,536.3 781.4,535.9 781.6,534.8 781.9,535.7 782.1,535.3 782.4,536.1 782.6,535.8 782.9,535.4 783.1,535.3 783.4,536.7 783.6,536.7 783.9,535 784.1,536.5 784.4,536 784.6,534.6 784.9,536.4 785.1,536 785.4,536.5 785.6,534.6 785.9,534.6 786.1,535.8 786.4,534.8 786.6,535.3 786.9,535.8 787.1,534.3 787.4,534.8 787.6,534 787.9,534.9 788.1,535 788.4,534.6 788.6,534.2 788.9,536.1 789.1,534.7 789.4,534.6 789.6,533.9 789.9,535 790.1,535.1 790.4,535.8 790.6,534.1 790.9,533.5 791.1,534.5 791.4,533.8 791.6,535.7 791.9,534 792.1,535 792.4,534.1 792.6,533.7 792.9,534.5 793.1,533.9 793.4,534.4 793.6,533.4 793.9,533.7 794.1,535.1 794.4,535.1 794.6,533.7 794.9,534.2 795.1,533.7 795.4,534.3 795.6,533.2 795.9,534 796.1,534.3 796.4,532.8 796.6,534.9 796.9,533.3 797.1,534.1 797.4,534.2 797.6,532.9 797.9,532.9 798.1,534.4 798.4,533.4 798.6,533.7 798.9,533.5 799.1,534.9 799.4,534 799.6,534.1 799.9,532.9 800.1,534.6 800.4,533 800.6,533.7 800.9,533.7 801.1,535.1 801.4,535.1 801.6,533.5 801.9,533.9 802.1,532.7 802.4,533.1 802.6,533.5 802.9,533.6 803.1,533 803.4,533.7 803.6,534.7 803.9,533 804.1,533.1 804.4,534 804.6,533.5 804.9,532.6 805.1,532.4 805.4,533.9 805.6,534.3 805.9,532.3 806.1,534.2 806.4,532.2 806.6,533.1 806.9,533.9 807.1,533 807.4,534.2 807.6,534.3 807.9,534 808.1,532.6 808.4,534.1 808.6,534.1 808.9,533.7 809.1,532.7 809.4,533.6 809.6,532.7 809.9,531.9 810.1,531.8 810.4,534.1 810.6,532.6 810.9,534.1 811.1,531.9 811.4,533.7 811.6,533.6 811.9,533.5 812.1,532.8 812.4,534.1 812.6,532.8 812.9,532 813.1,533.6 813.4,533.7 813.6,533.1 813.9,533.9 814.1,534.2 814.4,533 814.6,533.4 814.9,533.6 815.1,532.6 815.4,533.9 815.6,532 815.9,532.3 816.1,532.8 816.4,531.6 816.6,532.8 816.9,532.7 817.1,533.8 817.4,531.9 817.6,533.9 817.9,531.5 818.1,533.6 818.4,532.2 818.6,531.6 818.9,533.5 819.1,533.5 819.4,534 819.6,532.9 819.9,533.3 820.1,532.6 820.4,532.1 820.6,532.8 820.9,533.1 821.1,531.9 821.4,533.2 821.6,533 821.9,533 822.1,532.3 822.4,533.7 822.6,533 822.9,533.5 823.1,533.6 823.4,533.6 823.6,532.1 823.9,532.3 824.1,532.6 824.4,532.8 824.6,534 824.9,532.9 825.1,533.4 825.4,532.7 825.6,533.3 825.9,533.3 826.1,533.2 826.4,531.4 826.6,533.1 826.9,532.6 827.1,533.8 827.4,532.5 827.6,532.3 827.9,531 828.1,531.5 828.4,533.2 828.6,532.8 828.9,531.9 829.1,533.6 829.4,531.1 829.6,532.5 829.9,531.5 830.1,532.7 830.4,533.6 830.6,533.5 830.9,533.8 831.1,531.2 831.4,532.5 831.6,531.7 831.9,533.1 832.1,531.3 832.4,532.5 832.6,533.5 832.9,534 833.1,532.4 833.4,532.9 833.6,533.2 833.9,532.8 834.1,532 834.4,533.9 834.6,533.2 834.9,533 835.1,532.1 835.4,534.1 835.6,531.6 835.9,532.7 836.1,531.3 836.4,534.4 836.6,533.1 836.9,532.2 837.1,534.2 837.4,534.4 837.6,531.2 837.9,533.1 838.1,533.1 838.4,534.5 838.6,532.7 838.9,532.3 839.1,532.4 839.4,533.3 839.6,533.9 839.9,533.8 840.1,534.1 840.4,534.5 840.6,531.5 840.9,532.9 841.1,533.3 841.4,531.7 841.6,534.5 841.9,533.5 842.1,532 842.4,533.3 842.6,533.3 842.9,531.5 843.1,533.5 843.4,534.9 843.6,532.2 843.9,534.2 844.1,534.7 844.4,532.6 844.6,532.4 844.9,533.7 845.1,535 845.4,533.7 845.6,532.9 845.9,531.4 846.1,533.1 846.4,534.4 846.6,533.5 846.9,534.7 847.1,531.8 847.4,531.1 847.6,535 847.9,532.6 848.1,534.3 848.4,533.2 848.6,532.3 848.9,532.8 849.1,532.1 849.4,533.9 849.6,534.7 849.9,532.5 850.1,532.8 850.4,531.9 850.6,532.9 850.9,533.8 851.1,531.9 851.4,532.2 851.6,534.4 851.9,530.9 852.1,534.4 852.4,531.6 852.6,530.6 852.9,532.9 853.1,532 853.4,533.6 853.6,532.7 853.9,533 854.1,532.6 854.4,531.9 854.6,532.9 854.9,533.2 855.1,533.3 855.4,533.3 855.6,533.6 855.9,531.7 856.1,533.5 856.4,534 856.6,531.2 856.9,532.3 857.1,530 857.4,533.6 857.6,533.2 857.9,529.8 858.1,531.8 858.4,532.1 858.6,533.7 858.9,533.2 859.1,534 859.4,533.7 859.6,533.7 859.9,532 860.1,530.8 860.4,529.8 860.6,533.4 860.9,530.7 861.1,533.1 861.4,530.7 861.6,530 861.9,532.2 862.1,531.2 862.4,529.9 862.6,530.4 862.9,531.4 863.1,530.8 863.4,532.9 863.6,533.2 863.9,533 864.1,531.1 864.4,531.5 864.6,529.2 864.9,532.5 865.1,533.2 865.4,531.1 865.6,531.2 865.9,533.4 866.1,528.7 866.4,533.1 866.6,533.4 866.9,532.8 867.1,529.1 867.4,532.3 867.6,531.5 867.9,532.9 868.1,531.1 868.4,528.5 868.6,531.9 868.9,529.5 869.1,531.4 869.4,528.7 869.6,528.5 869.9,531.1 870.1,532.3 870.4,528.3 870.6,528.7 870.9,530.3 871.1,530.8 871.4,529.4 871.6,532 871.9,531.1 872.1,531.8 872.4,531.4 872.6,528.4 872.9,529.8 873.1,530.9 873.4,529 873.6,532.7 873.9,529.1 874.1,529.4 874.4,530.2 874.6,531.7 874.9,527.6 875.1,532.9 875.4,530.3 875.6,531.8 875.9,533 876.1,529.6 876.4,532.6 876.6,527.7 876.9,531.9 877.1,532.3 877.4,529.3 877.6,529.7 877.9,529.7 878.1,532.1 878.4,531.2 878.6,529 878.9,532.1 879.1,529.4 879.4,530 879.6,532.5 879.9,529.6 880.1,532.3 880.4,527.7 880.6,527.9 880.9,527.7 881.1,529.4 881.4,530.1 881.6,528.4 881.9,528.8 882.1,531.8 882.4,529.5 882.6,531.9 882.9,530.4 883.1,529.8 883.4,529.1 883.6,530.8 883.9,532.7 884.1,529.5 884.4,531 884.6,527.1 884.9,531.8 885.1,531.6 885.4,527.9 885.6,528 885.9,527.4 886.1,529.5 886.4,530.2 886.6,527.8 886.9,529.6 887.1,529 887.4,528.1 887.6,528.6 887.9,531.4 888,528.1"/>
<polyline fill="none" stroke="#0000ff" stroke-width="1.0" stroke-linejoin="round" points="54.7,1098.1 55,1099 55.2,1098.8 55.5,1096.4 55.7,1096.6 56,1099 56.2,1096.2 56.5,1096.4 56.7,1099.3 57,1098.8 57.2,1098.3 57.5,1098.9 57.7,1099.1 58,1097.6 58.2,1097.5 58.5,1100.1 58.7,1100 59,1099.4 59.2,1100.3 59.5,1099.8 59.7,1101.5 60,1099 60.2,1099.8 60.5,1099.1 60.7,1098 61,1097.9 61.2,1096.1 61.5,1097.7 61.7,1097.6 62,1094.5 62.2,1094.5 62.5,1092.7 62.7,1090.9 63,1092.3 63.2,1089.5 63.5,1087.1 63.7,1087.6 64,1085.1 64.2,1085.9 64.5,1081.9 64.7,1079.3 65,1077.8 65.2,1076.3 65.5,1074.9 65.7,1075.2 66,1073.9 66.2,1071.5 66.5,1068.5 66.7,1067 67,1068.2 67.2,1065.3 67.5,1065.3 67.7,1062.7 68,1062 68.2,1064.1 68.5,1062.7 68.7,1060.9 69,1060.1 69.2,1059.4 69.5,1060.1 69.7,1059 70,1060.1 70.2,1057.7 70.5,1056.1 70.7,1058.4 71,1057.5 71.2,1057.8 71.5,1059.3 71.7,1059.5 72,1056.5 72.2,1059.1 72.5,1057.1 72.7,1056.5 73,1055.7 73.2,1056.2 73.5,1057.6 73.7,1057.4 74,1058.8 74.2,1056.5 74.5,1056.7 74.7,1056.8 75,1059.4 75.2,1059.2 75.5,1057 75.7,1057 76,1056.4 76.2,1057.8 76.5,1055.4 76.7,1054.7 77,1055.1 77.2,1054.9 77.5,1057.8 77.7,1057.9 78,1057.3 78.2,1057.9 78.5,1058.4 78.7,1058.9 79,1059.4 79.2,1057 79.5,1058.8 79.7,1057.6 80,1058.7 80.2,1059.8 80.5,1060.3 80.7,1060 81,1057.7 81.2,1059.3 81.5,1059.9 81.7,1063.7 82,1061.6 82.2,1062.7 82.5,1064.4 82.7,1064.4 83,1067.1 83.2,1065.9 83.5,1065.1 83.7,1068.2 84,1068.9 84.2,1072 84.5,1071.8 84.7,1072.6 85,1074.2 85.2,1076.4 85.5,1077.4 85.7,1077.6 86,1080.2 86.2,1080.6 86.5,1081 86.7,1082.3 87,1082.9 87.2,1085.1 87.5,1083.7 87.7,1085.3 88,1088.4 88.2,1090.2 88.5,1089.9 88.7,1089.6 89,1089 89.2,1092.9 89.5,1093.1 89.7,1091.2 90,1092.2 90.2,1091.3 90.5,1094.4 90.7,1094.6 91,1095 91.2,1094.9 91.5,1093.7 91.7,1095.9 92,1094.9 92.2,1095.3 92.5,1096.5 92.7,1096.7 93,1095.5 93.2,1096.3 93.5,1096 93.7,1094.1 94,1094.9 94.2,1094.4 94.5,1096.4 94.7,1095.7 95,1097.4 95.2,1095.7 95.5,1095.9 95.7,1096.6 96,1096.3 96.2,1094.8 96.5,1096.6 96.7,1094.4 97,1095.8 97.2,1096.1 97.5,1093.5 97.7,1093.3 98,1095.7 98.2,1096 98.5,1095.3 98.7,1095.4 99,1093.8 99.2,1091.4 99.5,1091.4 99.7,1089.4 100,1090.1 100.2,1088.6 100.5,1087.6 100.7,1089.4 101,1088.2 101.2,1087.5 101.5,1086.1 101.7,1086.3 102,1085.4 102.2,1086.1 102.5,1083.6 102.7,1083.3 103,1082.2 103.2,1080.5 103.5,1079.8 103.7,1077.7 104,1078.3 104.2,1075 104.5,1076.2 104.7,1073.2 105,1071 105.2,1071.6 105.5,1070 105.7,1068.5 106,1068.6 106.2,1064.8 106.5,1064.4 106.7,1061.8 107,1060 107.2,1057.7 107.5,1054 107.7,1052.9 108,1051.8 108.2,1046.7 108.5,1042.8 108.7,1040 109,1038.6 109.2,1037.4 109.5,1030.8 109.7,1029.7 110,1024.5 110.2,1019.7 110.5,1017.1 110.7,1012.1 111,1008.3 111.2,1002.7 111.5,998 111.7,994.4 112,992.4 112.2,987.5 112.5,981.8 112.7,977.2 113,973.9 113.2,971.4 113.5,965.8 113.7,962.3 114,958.3 114.2,954.4 114.5,948.7 114.7,943 115,937 115.2,931.2 115.5,926.7 115.7,920.8 116,914.1 116.2,910.1 116.5,907.3 116.7,904.4 117,900.5 117.2,895.1 117.5,893 117.7,888.8 118,882.4 118.2,879.1 118.5,874 118.7,869 119,865 119.2,858.4 119.5,856.5 119.7,853.5 120,849.7 120.2,843.9 120.5,839.5 120.7,839.5 121,837.8 121.2,837 121.5,835.1 121.7,834.2 122,831.4 122.2,829.2 122.5,829.2 122.7,831 123,829.9 123.2,830.9 123.5,829.8 123.7,828.5 124,828.6 124.2,824.9 124.5,826 124.7,826 125,830.1 125.2,830.1 125.5,830.1 125.7,829.7 126,831.9 126.2,832.8 126.5,833.1 126.7,833.2 127,834.9 127.2,837 127.5,838.9 127.7,842.3 128,844.1 128.2,845.5 128.4,845.9 128.7,845.2 128.9,845.5 129.2,845.2 129.4,845.5 129.7,844.9 129.9,848.2 130.2,847.6 130.4,847.5 130.7,848.8 130.9,849.9 131.2,849.8 131.4,850.1 131.7,851 131.9,849.4 132.2,849.3 132.4,851.8 132.7,852.2 132.9,853.9 133.2,853.2 133.4,855 133.7,852.8 133.9,853 134.2,855.1 134.4,854.3 134.7,853.9 134.9,853.7 135.2,854.2 135.4,853.8 135.7,854.1 135.9,854.5 136.2,852.4 136.4,851.9 136.7,853.3 136.9,851 137.2,851.8 137.4,851.5 137.7,851.9 137.9,850.9 138.2,852.2 138.4,851.9 138.7,851.5 138.9,851.4 139.2,849.1 139.4,849.6 139.7,848.1 139.9,846.6 140.2,848.3 140.4,847.8 140.7,848.1 140.9,846.9 141.2,846.2 141.4,843.3 141.7,843 141.9,844 142.2,845.1 142.4,845.9 142.7,844.4 142.9,843.5 143.2,843.6 143.4,840.7 143.7,841.2 143.9,837.9 144.2,838.5 144.4,840.4 144.7,840.1 144.9,838.5 145.2,837.7 145.4,839.2 145.7,837 145.9,835.8 146.2,836.5 146.4,835.9 146.7,838.7 146.9,836.3 147.2,838.7 147.4,836 147.7,836.4 147.9,838 148.2,838 148.4,838.4 148.7,837.3 148.9,838.6 149.2,839.4 149.4,842.4 149.7,846.4 149.9,845.2 150.2,845.3 150.4,846.4 150.7,846.6 150.9,845.3 151.2,846.9 151.4,849.3 151.7,850.1 151.9,850.1 152.2,850.7 152.4,854 152.7,859.2 152.9,861.1 153.2,861.8 153.4,861 153.7,860.9 153.9,862.7 154.2,867.8 154.4,869.2 154.7,870.9 154.9,874.1 155.2,876.4 155.4,879.8 155.7,884.5 155.9,888.2 156.2,893.2 156.4,898.2 156.7,901.8 156.9,903.7 157.2,907.7 157.4,914.7 157.7,918.4 157.9,924.3 158.2,926.3 158.4,931.8 158.7,936.6 158.9,942.5 159.2,947.9 159.4,950.9 159.7,958.1 159.9,963.7 160.2,967.3 160.4,974.3 160.7,978.2 160.9,985.3 161.2,989.4 161.4,996.6 161.7,1000.7 161.9,1005.8 162.2,1010.1 162.4,1014.5 162.7,1018.6 162.9,1023.5 163.2,1027.3 163.4,1033.1 163.7,1035.6 163.9,1039.5 164.2,1043.2 164.4,1047.3 164.7,1053.1 164.9,1054.2 165.2,1059.4 165.4,1062.1 165.7,1066.2 165.9,1065.3 166.2,1069 166.4,1070.2 166.7,1072.6 166.9,1076.4 167.2,1078.8 167.4,1079.4 167.7,1081.5 167.9,1081.9 168.2,1082.8 168.4,1086.3 168.7,1087.2 168.9,1090.3 169.2,1089.7 169.4,1092.5 169.7,1093.5 169.9,1093.8 170.2,1095 170.4,1093.7 170.7,1095.1 170.9,1095.9 171.2,1096.1 171.4,1094.9 171.7,1094.6 171.9,1094.1 172.2,1097.4 172.4,1096 172.7,1096.4 172.9,1095.1 173.2,1096 173.4,1096.4 173.7,1094.5 173.9,1093.9 174.2,1092.5 174.4,1094.1 174.7,1094.8 174.9,1095.3 175.2,1095.2 175.4,1095.8 175.7,1094.8 175.9,1094.3 176.2,1095.4 176.4,1092.1 176.7,1091.7 176.9,1091.7 177.2,1094.2 177.4,1093.2 177.7,1093.1 177.9,1093.5 178.2,1091.2 178.4,1093.8 178.7,1091.9 178.9,1092.9 179.2,1093 179.4,1092.1 179.7,1088.6 179.9,1087.9 180.2,1086.8 180.4,1088.8 180.7,1092.2 180.9,1092.1 181.2,1090.7 181.4,1091.2 181.7,1091.6 181.9,1089.3 182.2,1090.3 182.4,1087.9 182.7,1086.7 182.9,1087.8 183.2,1087.9 183.4,1088.1 183.7,1087.9 183.9,1085.7 184.2,1087.1 184.4,1087.3 184.7,1086.1 184.9,1087.2 185.2,1085.9 185.4,1086.5 185.7,1083.9 185.9,1085.6 186.2,1083.5 186.4,1084.6 186.7,1082.8 186.9,1083.8 187.2,1084.7 187.4,1084.8 187.7,1085 187.9,1085.5 188.2,1081.4 188.4,1080.6 188.7,1082.3 188.9,1083.7 189.2,1082.1 189.4,1080.2 189.7,1079.3 189.9,1080.3 190.2,1080.3 190.4,1080 190.7,1080.1 190.9,1078.7 191.2,1080.6 191.4,1078.5 191.7,1077.4 191.9,1077.5 192.2,1078.6 192.4,1075.7 192.7,1076.6 192.9,1079.6 193.2,1078.1 193.4,1078.9 193.7,1075.4 193.9,1077.3 194.2,1074.8 194.4,1074.4 194.7,1076.1 194.9,1076.6 195.2,1076.1 195.4,1075.6 195.7,1076.8 195.9,1077.2 196.2,1075.1 196.4,1073 196.7,1075.2 196.9,1073.9 197.2,1073.6 197.4,1073.6 197.7,1071.7 197.9,1071.3 198.2,1071.6 198.4,1072.3 198.7,1072.3 198.9,1072.6 199.2,1072.1 199.4,1072.7 199.7,1071.9 199.9,1071.9 200.2,1071.1 200.4,1069.8 200.7,1070.2 200.9,1072.7 201.2,1070.9 201.4,1072.6 201.7,1071.1 201.9,1068.6 202.2,1069.4 202.4,1068.5 202.7,1067.6 202.9,1068.9 203.2,1069.3 203.4,1069 203.7,1069.3 203.9,1066.6 204.2,1066.8 204.4,1067 204.7,1068.1 204.9,1065.5 205.2,1065.1 205.4,1065 205.7,1064.8 205.9,1064.1 206.2,1063 206.4,1063.2 206.7,1063.5 206.9,1064.9 207.2,1065.4 207.4,1064.2 207.7,1063.9 207.9,1064.1 208.2,1064.5 208.4,1063.1 208.7,1063.5 208.9,1065.1 209.2,1064.9 209.4,1063.4 209.7,1063 209.9,1063 210.2,1063.7 210.4,1063.3 210.7,1064.6 210.9,1063 211.2,1063.9 211.4,1065.3 211.7,1064.5 211.9,1063.6 212.2,1064.3 212.4,1061.8 212.7,1062 212.9,1063 213.2,1062.8 213.4,1064.3 213.7,1064.8 213.9,1064.1 214.2,1065 214.4,1064.9 214.7,1063 214.9,1064.2 215.2,1063.1 215.4,1063.2 215.7,1062.4 215.9,1062.4 216.2,1066.1 216.4,1066.4 216.7,1066.2 216.9,1063.9 217.2,1064.4 217.4,1064.7 217.7,1067.1 217.9,1067.7 218.2,1066.1 218.4,1065.6 218.7,1063.8 218.9,1066.1 219.2,1065 219.4,1066.6 219.7,1065.7 219.9,1067.5 220.2,1067.3 220.4,1066.3 220.7,1066 220.9,1067 221.2,1066.5 221.4,1066.6 221.7,1066 221.9,1066.6 222.2,1068.4 222.4,1069 222.7,1067.3 222.9,1069 223.2,1069.2 223.4,1067.7 223.7,1068.6 223.9,1070.2 224.2,1068.8 224.4,1070.9 224.7,1069.3 224.9,1070.6 225.2,1070.5 225.4,1069.2 225.7,1071.4 225.9,1069.5 226.2,1068.5 226.4,1067.9 226.7,1068.6 226.9,1068.8 227.2,1068.6 227.4,1072.2 227.7,1071.8 227.9,1074 228.2,1071 228.4,1071.8 228.7,1072.1 228.9,1073.6 229.2,1073.4 229.4,1073.5 229.7,1075.2 229.9,1074.3 230.2,1074.4 230.4,1074 230.7,1075.6 230.9,1074.8 231.2,1075.7 231.4,1076.6 231.7,1076.4 231.9,1076.5 232.2,1076.5 232.4,1078.9 232.7,1077.8 232.9,1076.7 233.2,1074.2 233.4,1075.4 233.7,1077.7 233.9,1076.2 234.2,1078.8 234.4,1079.4 234.7,1079.9 234.9,1081 235.2,1079.6 235.4,1080.5 235.7,1080.1 235.9,1078.2 236.2,1079.8 236.4,1081.6 236.7,1079.8 236.9,1080.8 237.2,1082.1 237.4,1082.6 237.7,1082.9 237.9,1086.7 238.2,1086.1 238.4,1084.5 238.7,1083.4 238.9,1084.5 239.2,1084.3 239.4,1083.4 239.7,1083.2 239.9,1083 240.2,1083.8 240.4,1084.1 240.7,1085.1 240.9,1085 241.2,1085.5 241.4,1086.6 241.7,1084.3 241.9,1085.6 242.2,1085.6 242.4,1087.1 242.7,1085.3 242.9,1084.4 243.2,1084.1 243.4,1085.2 243.7,1087.2 243.9,1086.7 244.2,1088.5 244.4,1086.3 244.7,1086.1 244.9,1087 245.2,1086.5 245.4,1088.9 245.7,1090.4 245.9,1091.3 246.2,1088.6 246.4,1091.7 246.7,1092.2 246.9,1092.6 247.2,1090.3 247.4,1092.4 247.7,1090.1 247.9,1090.8 248.2,1090.9 248.4,1092.5 248.7,1091.5 248.9,1092.1 249.2,1089.6 249.4,1091.6 249.7,1091.8 249.9,1091.6 250.2,1092 250.4,1092.9 250.7,1093.3 250.9,1094.5 251.2,1092.5 251.4,1093.9 251.7,1093.9 251.9,1092.8 252.2,1093.7 252.4,1094.5 252.7,1093.5 252.9,1094.3 253.2,1093.6 253.4,1095.2 253.7,1093.4 253.9,1094 254.2,1095.2 254.4,1095.7 254.7,1094.6 254.9,1098 255.2,1096.5 255.4,1098.2 255.7,1096.6 255.9,1096.4 256.2,1094.2 256.4,1093.6 256.7,1094.6 256.9,1095.7 257.2,1096 257.4,1095.9 257.7,1093.8 257.9,1092.7 258.2,1093.3 258.4,1094.2 258.7,1096.1 258.9,1096.4 259.2,1096 259.4,1094.8 259.7,1096.6 259.9,1095.8 260.2,1097 260.4,1096.1 260.7,1094.7 260.9,1093.1 261.2,1094.8 261.4,1097.9 261.7,1095.8 261.9,1097.5 262.2,1095.6 262.4,1095.2 262.7,1094.1 262.9,1093.3 263.2,1095.2 263.4,1094.1 263.7,1097.5 263.9,1097.5 264.2,1095.8 264.4,1095.9 264.7,1096.1 264.9,1098.3 265.2,1095.7 265.4,1096 265.7,1095.7 265.9,1096.8 266.2,1096.7 266.4,1095.7 266.7,1094 266.9,1096 267.2,1095.4 267.4,1094.6 267.7,1096.2 267.9,1096 268.2,1096.4 268.4,1097 268.7,1097.4 268.9,1095.8 269.2,1096.4 269.4,1098.8 269.7,1097.4 269.9,1095.8 270.2,1095.9 270.4,1097.3 270.7,1097.3 270.9,1096.7 271.2,1097.4 271.4,1096.8 271.7,1096.4 271.9,1095.4 272.2,1094.6 272.4,1096.6 272.7,1096.2 272.9,1096.7 273.2,1094.1 273.4,1095.4 273.7,1093.1 273.9,1095.2 274.2,1094.9 274.4,1091.9 274.7,1093.6 274.9,1096.9 275.2,1097.4 275.4,1096.1 275.7,1094.4 275.9,1094.2 276.2,1094.6 276.4,1095.5 276.7,1094.1 276.9,1093 277.2,1094.1 277.4,1094.1 277.7,1091.9 277.9,1093.8 278.2,1092.2 278.4,1092.6 278.7,1092 278.9,1092.8 279.2,1094.2 279.4,1092.4 279.7,1094 279.9,1092.7 280.2,1094 280.4,1090.8 280.7,1090.2 280.9,1090.7 281.2,1092.6 281.4,1094.1 281.7,1094.2 281.9,1093.9 282.2,1093.1 282.4,1091.9 282.7,1090.7 282.9,1089.5 283.2,1090.7 283.4,1088.6 283.7,1089.8 283.9,1088.9 284.2,1090.3 284.4,1088.9 284.7,1089.3 284.9,1091 285.2,1090.3 285.4,1091.7 285.7,1090 285.9,1090.9 286.2,1090.8 286.4,1090.7 286.7,1089.3 286.9,1090.4 287.2,1090.4 287.4,1089.9 287.7,1087.3 287.9,1089 288.2,1089.2 288.4,1090.3 288.7,1089.1 288.9,1091.8 289.2,1091.5 289.4,1093.4 289.7,1090 289.9,1090.2 290.2,1089.4 290.4,1090.3 290.7,1090.5 290.9,1088.9 291.2,1089.3 291.4,1090.8 291.7,1089.9 291.9,1089.4 292.2,1091.3 292.4,1090.7 292.7,1088.5 292.9,1088.1 293.2,1088.7 293.4,1086.3 293.7,1089.4 293.9,1090.5 294.2,1091.1 294.4,1091.8 294.7,1092.5 294.9,1092.2 295.2,1091.7 295.4,1089.7 295.7,1090.8 295.9,1091.7 296.2,1091.6 296.4,1092.2 296.7,1091.2 296.9,1092.2 297.2,1092.1 297.4,1090.3 297.7,1092.7 297.9,1091.9 298.2,1091.6 298.4,1091.3 298.7,1091.2 298.9,1091.7 299.2,1091.6 299.4,1091.7 299.7,1093.8 299.9,1092.8 300.2,1094.3 300.4,1092.3 300.7,1093.5 300.9,1091.9 301.2,1092.8 301.4,1092 301.7,1093.2 301.9,1092.6 302.2,1095.2 302.4,1093.7 302.7,1094.4 302.9,1094.4 303.2,1092.3 303.4,1092.6 303.7,1095.8 303.9,1096.8 304.2,1096.4 304.4,1094.5 304.7,1095.5 304.9,1093.2 305.2,1094.4 305.4,1097 305.7,1096.7 305.9,1096.9 306.2,1094.4 306.4,1094.9 306.7,1096.2 306.9,1093.3 307.2,1093.2 307.4,1094.1 307.7,1096.1 307.9,1094.2 308.2,1096.1 308.4,1095.6 308.7,1096.4 308.9,1096.5 309.2,1097 309.4,1096.5 309.7,1095.4 309.9,1095.5 310.2,1095.7 310.4,1096 310.7,1094.8 310.9,1094.6 311.2,1097.3 311.4,1095.3 311.7,1094.7 311.9,1096.7 312.2,1093.9 312.4,1093.5 312.7,1094.8 312.9,1095.6 313.2,1096.1 313.4,1097.7 313.7,1095.9 313.9,1095.1 314.2,1095.2 314.4,1097.4 314.7,1096 314.9,1096.1 315.2,1097.4 315.4,1097.3 315.7,1095.4 315.9,1096.9 316.2,1096.4 316.4,1096.7 316.7,1096.1 316.9,1093.4 317.2,1092.9 317.4,1093.1 317.7,1093.9 317.9,1096 318.2,1095.6 318.4,1093 318.7,1093.8 318.9,1095.7 319.2,1097.2 319.4,1097 319.7,1097.4 319.9,1095.2 320.2,1096.6 320.4,1096.9 320.7,1095.4 320.9,1094.8 321.2,1094.7 321.4,1097.4 321.7,1097.4 321.9,1094.7 322.2,1095.8 322.4,1097.3 322.7,1094.8 322.9,1095.6 323.2,1095.6 323.4,1096.6 323.7,1095.8 323.9,1096.7 324.2,1094 324.4,1094.7 324.7,1097 324.9,1093.9 325.2,1095 325.4,1095.8 325.7,1094.7 325.9,1095.3 326.2,1096.2 326.4,1096 326.7,1095.2 326.9,1094.7 327.2,1094.8 327.4,1094.3 327.7,1097.4 327.9,1097.5 328.2,1096.4 328.4,1097.1 328.7,1096.4 328.9,1097.7 329.2,1095.4 329.4,1095.2 329.7,1097.6 329.9,1097.7 330.2,1098.3 330.4,1098 330.7,1096.9 330.9,1096.1 331.2,1096.1 331.4,1097.5 331.7,1100 331.9,1098 332.2,1098.9 332.4,1095.9 332.7,1096.5 332.9,1098.9 333.2,1096.3 333.4,1096.1 333.7,1096 333.9,1094.2 334.2,1094.1 334.4,1095.9 334.7,1096.7 334.9,1095.6 335.2,1092.4 335.4,1092.1 335.7,1093.2 335.9,1093.5 336.2,1095.7 336.4,1095.8 336.7,1093.9 336.9,1094.7 337.2,1096 337.4,1096.8 337.7,1096.6 337.9,1095.6 338.2,1096.3 338.4,1096.8 338.7,1095.8 338.9,1092.9 339.2,1095.3 339.4,1096.3 339.7,1096.9 339.9,1094.6 340.2,1092.9 340.4,1093.5 340.7,1093 340.9,1092.9 341.2,1094.6 341.4,1094.6 341.7,1094.4 341.9,1093.1 342.2,1090.3 342.4,1090 342.7,1091.5 342.9,1092.8 343.2,1091.2 343.4,1089.9 343.7,1088 343.9,1088.1 344.2,1088.5 344.4,1087.1 344.7,1087 344.9,1086.7 345.2,1084.4 345.4,1082.3 345.7,1078.3 345.9,1077.5 346.2,1079.8 346.4,1076.5 346.7,1075.7 346.9,1075.1 347.2,1077.3 347.4,1076.2 347.7,1079.2 347.9,1078.1 348.2,1080.3 348.4,1081.7 348.7,1082.1 348.9,1083 349.2,1086.2 349.4,1089.2 349.7,1089.4 349.9,1087.6 350.2,1086.9 350.4,1090.6 350.7,1090.9 350.9,1089.9 351.2,1092 351.4,1092.7 351.7,1092.3 351.9,1094.5 352.2,1092.4 352.4,1092.2 352.7,1093.2 352.9,1093.7 353.2,1095.8 353.4,1095.2 353.7,1093.4 353.9,1094.2 354.2,1093.2 354.4,1095.6 354.7,1096.7 354.9,1094.4 355.2,1095.4 355.4,1094.4 355.7,1094.8 355.9,1096.6 356.2,1097.6 356.4,1095.5 356.7,1096.2 356.9,1095.5 357.2,1095.2 357.4,1097.2 357.7,1095.6 357.9,1097.1 358.2,1097.7 358.4,1096.2 358.7,1097.4 358.9,1095.5 359.2,1096.9 359.4,1095.9 359.7,1098 359.9,1098 360.2,1097.6 360.4,1096.1 360.7,1097.5 360.9,1095.2 361.2,1096 361.4,1095.4 361.7,1095.8 361.9,1097.1 362.2,1096.3 362.4,1097.7 362.7,1096.5 362.9,1097.5 363.2,1097.8 363.4,1098.8 363.7,1096.9 363.9,1096.6 364.2,1098.7 364.4,1097 364.7,1096.1 364.9,1096.4 365.2,1094.2 365.4,1095.9 365.7,1095.4 365.9,1095.8 366.2,1095.5 366.4,1097.4 366.7,1097.3 366.9,1096.5 367.2,1096.8 367.4,1094.3 367.7,1096.5 367.9,1096.8 368.2,1096.1 368.4,1095.7 368.7,1097.6 368.9,1095.8 369.2,1093.7 369.4,1095.7 369.7,1095.2 369.9,1094.7 370.2,1095.1 370.4,1094.3 370.7,1092.6 370.9,1090.9 371.2,1092 371.4,1093.6 371.7,1094.2 371.9,1092.7 372.2,1091.3 372.4,1091.5 372.7,1090.7 372.9,1093.1 373.2,1091 373.4,1091.4 373.7,1091.5 373.9,1090.2 374.2,1091.1 374.4,1091.4 374.7,1089.3 374.9,1091 375.2,1088.6 375.4,1087.1 375.7,1090.3 375.9,1087.9 376.2,1089.7 376.4,1088.6 376.7,1087.6 376.9,1087.7 377.2,1088 377.4,1087.4 377.7,1086.9 377.9,1087.3 378.2,1087.1 378.4,1087.5 378.7,1085.2 378.9,1084.4 379.2,1087 379.4,1084.7 379.7,1086.5 379.9,1085.8 380.2,1087 380.4,1084 380.7,1084.8 380.9,1080.8 381.2,1080.6 381.4,1082.9 381.7,1081.2 381.9,1081.4 382.2,1080.5 382.4,1077.7 382.7,1078.4 382.9,1075.8 383.2,1076.8 383.4,1072.9 383.7,1071.8 383.9,1072.1 384.2,1069.4 384.4,1068.9 384.7,1070.1 384.9,1068.2 385.2,1066.7 385.4,1065.9 385.7,1066.2 385.9,1065.4 386.2,1063.4 386.4,1060.2 386.7,1057.2 386.9,1055.3 387.2,1055.5 387.4,1056 387.7,1058 387.9,1054.7 388.2,1052.2 388.4,1052.9 388.7,1051 388.9,1047.8 389.2,1049.1 389.4,1048.1 389.7,1045.3 389.9,1046.2 390.2,1043.8 390.4,1043 390.7,1041.4 390.9,1040 391.2,1037.9 391.4,1036.4 391.7,1037.8 391.9,1035.5 392.2,1034.1 392.4,1034.2 392.7,1033.8 392.9,1034.9 393.2,1032.7 393.4,1032.4 393.7,1029.5 393.9,1029.1 394.2,1029.6 394.4,1029.7 394.7,1029.7 394.9,1028.2 395.2,1029.9 395.4,1028.3 395.7,1028.9 395.9,1031.3 396.2,1031.1 396.4,1031.1 396.7,1031.5 396.9,1031.3 397.2,1030.2 397.4,1032.7 397.7,1030.6 397.9,1034.7 398.2,1034.4 398.4,1035 398.7,1036.2 398.9,1036.7 399.2,1038.6 399.4,1038.7 399.7,1039.2 399.9,1039 400.2,1041 400.4,1041 400.7,1044.8 400.9,1045 401.2,1048.1 401.4,1048 401.7,1050.6 401.9,1051.6 402.2,1050.7 402.4,1053.3 402.7,1051.3 402.9,1053.1 403.2,1052.7 403.4,1055.4 403.7,1057.9 403.9,1058.6 404.2,1059.2 404.4,1061.7 404.7,1063.7 404.9,1065.1 405.2,1063.6 405.4,1064.6 405.7,1065.4 405.9,1066.7 406.2,1066.5 406.4,1067.9 406.7,1070.9 406.9,1070.4 407.2,1073.2 407.4,1072.8 407.7,1073.4 407.9,1075.4 408.2,1076.1 408.4,1077 408.7,1076.7 408.9,1078.8 409.2,1080.6 409.4,1078.4 409.7,1079.3 409.9,1081.7 410.2,1081.8 410.4,1082.6 410.7,1085.4 410.9,1083.3 411.2,1085.9 411.4,1086.1 411.7,1085.4 411.9,1086.8 412.2,1086.4 412.4,1087.2 412.7,1087.1 412.9,1083.5 413.2,1083.8 413.4,1084.7 413.7,1086.4 413.9,1086.8 414.2,1089.9 414.4,1089.3 414.7,1090.1 414.9,1089.6 415.2,1090.8 415.4,1090.7 415.7,1090 415.9,1091.9 416.2,1091.3 416.4,1092.2 416.7,1093.7 416.9,1091.7 417.2,1091.3 417.4,1093.5 417.7,1092.7 417.9,1092.1 418.2,1093 418.4,1093.2 418.7,1095.2 418.9,1093.7 419.2,1095.2 419.4,1094.4 419.7,1096.6 419.9,1097 420.2,1096.3 420.4,1097.6 420.7,1096.2 420.9,1094.7 421.2,1094.9 421.4,1092.8 421.7,1094.7 421.9,1095.9 422.2,1096.7 422.4,1097.8 422.7,1096.1 422.9,1097.9 423.2,1096.1 423.4,1095.9 423.7,1095.2 423.9,1096.6 424.2,1095.3 424.4,1095.3 424.7,1099.1 424.9,1099.4 425.2,1099.6 425.4,1096.6 425.7,1095.6 425.9,1096.7 426.2,1097.4 426.4,1097.3 426.7,1096.9 426.9,1097.3 427.2,1096.6 427.4,1097.9 427.7,1097.1 427.9,1097.8 428.2,1096.8 428.4,1096.9 428.7,1096 428.9,1096.2 429.2,1096.4 429.4,1094.3 429.7,1096.2 429.9,1095 430.2,1094.3 430.4,1095.8 430.7,1096.9 430.9,1096.7 431.2,1094.9 431.4,1095.6 431.7,1097.1 431.9,1097.6 432.2,1095.1 432.4,1095.6 432.7,1097.6 432.9,1097.2 433.2,1097.9 433.4,1096.3 433.7,1097.5 433.9,1098.2 434.2,1096.4 434.4,1096.3 434.7,1095.6 434.9,1098.2 435.2,1096.5 435.4,1095.8 435.7,1097.2 435.9,1098.8 436.2,1099.2 436.4,1097.2 436.7,1097.6 436.9,1096.7 437.2,1098 437.4,1097.7 437.7,1097.5 437.9,1098.5 438.2,1097.7 438.4,1097.5 438.7,1095.7 438.9,1097.4 439.2,1097 439.4,1099 439.7,1098 439.9,1099.3 440.2,1099.4 440.4,1098.6 440.7,1097.4 440.9,1096.1 441.2,1097.7 441.4,1098.2 441.7,1098.3 441.9,1097.6 442.2,1096.4 442.4,1097.4 442.7,1096 442.9,1099.3 443.2,1097.9 443.4,1097.7 443.7,1098.3 443.9,1097.7 444.2,1100.8 444.4,1100.9 444.7,1099.4 444.9,1097.8 445.2,1099.2 445.4,1098.3 445.7,1099.9 445.9,1099.1 446.2,1099.1 446.4,1099.8 446.5,1098.6"/>
<polyline fill="none" stroke="#ff0000" stroke-width="1.0" stroke-linejoin="round" points="54.7,1372.6 55,1374.8 55.2,1372.3 55.5,1371.8 55.7,1371.9 56,1371.5 56.2,1372.9 56.5,1371.5 56.7,1374.3 57,1374.6 57.2,1371.6 57.5,1372.3 57.7,1370.8 58,1371.7 58.2,1372.7 58.5,1372.9 58.7,1372.5 59,1373.4 59.2,1371.6 59.5,1372.5 59.7,1374.9 60,1375.6 60.2,1374.8 60.5,1374.2 60.7,1371.7 61,1374.5 61.2,1373.7 61.5,1374.1 61.7,1371.9 62,1370.3 62.2,1371.4 62.5,1370.3 62.7,1369.6 63,1367 63.2,1366.1 63.5,1366.9 63.7,1362.9 64,1363.8 64.2,1359.8 64.5,1359.9 64.7,1358.2 65,1356.4 65.2,1354.4 65.5,1354.8 65.7,1353.9 66,1352.1 66.2,1350.5 66.5,1349.8 66.7,1348.1 67,1347.5 67.2,1348.2 67.5,1345.9 67.7,1344.8 68,1346.4 68.2,1346.8 68.5,1346.2 68.7,1347.3 69,1346.4 69.2,1346.5 69.5,1343.9 69.7,1346.7 70,1345.4 70.2,1344.3 70.5,1344 70.7,1343.5 71,1343.3 71.2,1343.1 71.5,1345.1 71.7,1345.2 72,1343.5 72.2,1344.6 72.5,1345.7 72.7,1346 73,1346 73.2,1343.3 73.5,1345.1 73.7,1344.7 74,1342.4 74.2,1341.6 74.5,1340.6 74.7,1340.7 75,1343.8 75.2,1342.9 75.5,1343.3 75.7,1341.1 76,1344 76.2,1344.2 76.5,1344.8 76.7,1344.2 77,1343.6 77.2,1342.4 77.5,1344.1 77.7,1341.4 78,1342.6 78.2,1341.8 78.5,1342.3 78.7,1344.5 79,1344.8 79.2,1342.7 79.5,1343.7 79.7,1345.1 80,1345.3 80.2,1346 80.5,1344.1 80.7,1343.9 81,1344.9 81.2,1344.9 81.5,1345.8 81.7,1348.8 82,1350 82.2,1348.2 82.5,1351 82.7,1352.3 83,1353.2 83.2,1353.6 83.5,1354 83.7,1354.8 84,1353.9 84.2,1356.2 84.5,1355.7 84.7,1357.1 85,1361.6 85.2,1359.9 85.5,1360.3 85.7,1360.2 86,1360.5 86.2,1361.5 86.5,1364.9 86.7,1365.6 87,1365.6 87.2,1364.3 87.5,1367 87.7,1367.3 88,1370.3 88.2,1370.5 88.5,1370.2 88.7,1371.2 89,1373.9 89.2,1372 89.5,1371.4 89.7,1372.4 90,1372.6 90.2,1373.4 90.5,1375.2 90.7,1373.8 91,1374.6 91.2,1371.6 91.5,1372.5 91.7,1374.3 92,1372.2 92.2,1372.3 92.5,1370.7 92.7,1370.6 93,1371.9 93.2,1369.9 93.5,1370.4 93.7,1370.5 94,1369 94.2,1368.9 94.5,1369.3 94.7,1369 95,1371.3 95.2,1370.8 95.5,1370 95.7,1370.5 96,1369.4 96.2,1369.9 96.5,1370.4 96.7,1367.4 97,1368.9 97.2,1368.6 97.5,1366.9 97.7,1366.7 98,1365.5 98.2,1365.4 98.5,1363.7 98.7,1362.5 99,1363 99.2,1362.7 99.5,1364.1 99.7,1361.9 100,1360.5 100.2,1359.8 100.5,1359 100.7,1359.4 101,1357 101.2,1355.6 101.5,1355 101.7,1352.6 102,1351.4 102.2,1351.7 102.5,1350.4 102.7,1351.3 103,1350.7 103.2,1347.3 103.5,1348.3 103.7,1346.9 104,1347.5 104.2,1344.8 104.5,1345.8 104.7,1343.6 105,1342.5 105.2,1342.1 105.5,1343.3 105.7,1340.5 106,1338.5 106.2,1337.4 106.5,1334.9 106.7,1332.4 107,1327.2 107.2,1327.1 107.5,1322.1 107.7,1318.1 108,1313.9 108.2,1310.9 108.5,1307.7 108.7,1304 109,1299.8 109.2,1298.2 109.5,1292.1 109.7,1288.7 110,1284.9 110.2,1281.7 110.5,1279.7 110.7,1276.5 111,1273.2 111.2,1269.2 111.5,1266.3 111.7,1260.8 112,1257.9 112.2,1255.4 112.5,1249.8 112.7,1244.7 113,1240.7 113.2,1235 113.5,1232.9 113.7,1227.5 114,1219.7 114.2,1215.4 114.5,1212.2 114.7,1205.6 115,1200 115.2,1196.1 115.5,1193.5 115.7,1188.3 116,1184.1 116.2,1180.1 116.5,1178 116.7,1174.4 117,1167.4 117.2,1163.8 117.5,1158.9 117.7,1151.5 118,1148.9 118.2,1144.4 118.5,1140.5 118.7,1135.5 119,1131.8 119.2,1127.7 119.5,1122.5 119.7,1119.4 120,1119.1 120.2,1115.1 120.5,1112.1 120.7,1111 121,1108.5 121.2,1107.5 121.5,1107.2 121.7,1107 122,1106.2 122.2,1106.2 122.5,1104.6 122.7,1103.7 123,1103.2 123.2,1100.8 123.5,1103.9 123.7,1103.8 124,1102.2 124.2,1103.8 124.5,1102.8 124.7,1101.8 125,1102.1 125.2,1104.1 125.5,1104 125.7,1105.4 126,1106.3 126.2,1106.9 126.5,1107.3 126.7,1109.8 127,1111.5 127.2,1113 127.5,1113.3 127.7,1112.9 128,1112.7 128.2,1115.2 128.4,1116.1 128.7,1115.3 128.9,1116.6 129.2,1120.2 129.4,1120.9 129.7,1122.8 129.9,1123.2 130.2,1126.2 130.4,1129 130.7,1130.1 130.9,1129.4 131.2,1130.2 131.4,1130.6 131.7,1130.4 131.9,1133.2 132.2,1133.8 132.4,1131 132.7,1132.1 132.9,1133.1 133.2,1133.4 133.4,1135.7 133.7,1133.8 133.9,1135 134.2,1132.3 134.4,1133.3 134.7,1131.5 134.9,1134.7 135.2,1135.2 135.4,1134.5 135.7,1133.6 135.9,1133.4 136.2,1132.1 136.4,1132.1 136.7,1132.3 136.9,1132 137.2,1132 137.4,1133.6 137.7,1132 137.9,1134.1 138.2,1134.7 138.4,1133.3 138.7,1131.9 138.9,1132.9 139.2,1131.2 139.4,1129.4 139.7,1130.8 139.9,1129.3 140.2,1130.6 140.4,1129.3 140.7,1127.3 140.9,1128.3 141.2,1126.7 141.4,1127.2 141.7,1126.9 141.9,1127.3 142.2,1126.3 142.4,1123.7 142.7,1124.5 142.9,1122.2 143.2,1122.8 143.4,1124.8 143.7,1123.2 143.9,1122.8 144.2,1124.6 144.4,1121.4 144.7,1121.6 144.9,1120 145.2,1121.1 145.4,1119.5 145.7,1119.8 145.9,1118.6 146.2,1120.2 146.4,1121.7 146.7,1119.6 146.9,1118.8 147.2,1121.2 147.4,1119.7 147.7,1121 147.9,1120.1 148.2,1120.2 148.4,1122.1 148.7,1123.8 148.9,1125.4 149.2,1126.3 149.4,1124.8 149.7,1125.8 149.9,1126.9 150.2,1131.6 150.4,1131.8 150.7,1131.1 150.9,1131.6 151.2,1132.3 151.4,1135.4 151.7,1135.8 151.9,1138.7 152.2,1140.4 152.4,1143.5 152.7,1143.2 152.9,1144.4 153.2,1146.5 153.4,1148.6 153.7,1152.3 153.9,1153.7 154.2,1155.8 154.4,1156.1 154.7,1160.9 154.9,1162.7 155.2,1166.3 155.4,1168.9 155.7,1169 155.9,1173.7 156.2,1175.4 156.4,1179.2 156.7,1180.4 156.9,1184.9 157.2,1189.4 157.4,1193.8 157.7,1197.8 157.9,1203.2 158.2,1207.6 158.4,1210.1 158.7,1214.4 158.9,1220.3 159.2,1225.3 159.4,1230.3 159.7,1236.7 159.9,1238.7 160.2,1242 160.4,1246.2 160.7,1252.4 160.9,1256.5 161.2,1261.9 161.4,1267.7 161.7,1272.1 161.9,1276.7 162.2,1283.5 162.4,1285.6 162.7,1290.7 162.9,1294.8 163.2,1301.3 163.4,1304 163.7,1309.1 163.9,1312.3 164.2,1318 164.4,1320.8 164.7,1326.1 164.9,1327.7 165.2,1331.8 165.4,1334.6 165.7,1337.5 165.9,1340.1 166.2,1343.7 166.4,1348.5 166.7,1347.6 166.9,1350.5 167.2,1353.7 167.4,1354.6 167.7,1356.5 167.9,1358.1 168.2,1358 168.4,1359.1 168.7,1361.7 168.9,1363.1 169.2,1363.9 169.4,1365.9 169.7,1367.1 169.9,1364.4 170.2,1366.7 170.4,1367.4 170.7,1366.1 170.9,1365.2 171.2,1367.6 171.4,1370.5 171.7,1371 171.9,1371.1 172.2,1369.3 172.4,1367.6 172.7,1368.3 172.9,1371.8 173.2,1372 173.4,1373.6 173.7,1373.5 173.9,1373.2 174.2,1373.7 174.4,1374.6 174.7,1372.6 174.9,1372.9 175.2,1373.6 175.4,1373.4 175.7,1372.4 175.9,1373.1 176.2,1372.7 176.4,1374.5 176.7,1371.7 176.9,1372.4 177.2,1371.1 177.4,1371.5 177.7,1371.3 177.9,1371.6 178.2,1372.3 178.4,1372.1 178.7,1371 178.9,1372.2 179.2,1371.6 179.4,1372.3 179.7,1369.9 179.9,1370 180.2,1369.8 180.4,1371.1 180.7,1371 180.9,1370.3 181.2,1370.9 181.4,1367.8 181.7,1367.7 181.9,1367.2 182.2,1367.7 182.4,1368 182.7,1367.6 182.9,1366 183.2,1366.3 183.4,1366.1 183.7,1366.2 183.9,1364.2 184.2,1367 184.4,1364.8 184.7,1364.6 184.9,1365 185.2,1361.9 185.4,1362.8 185.7,1363.3 185.9,1362.7 186.2,1361.4 186.4,1360.1 186.7,1360.2 186.9,1359.1 187.2,1359.7 187.4,1361.7 187.7,1360 187.9,1359 188.2,1360.7 188.4,1359.3 188.7,1357.8 188.9,1358.9 189.2,1355.9 189.4,1356.3 189.7,1358.4 189.9,1357.2 190.2,1354.9 190.4,1353.3 190.7,1354.3 190.9,1351.6 191.2,1352.2 191.4,1349.4 191.7,1349.6 191.9,1348 192.2,1349.5 192.4,1348.8 192.7,1348.6 192.9,1346.2 193.2,1346.1 193.4,1342.9 193.7,1343.2 193.9,1343 194.2,1342.9 194.4,1341.2 194.7,1339.6 194.9,1340.2 195.2,1339.5 195.4,1338.2 195.7,1336.9 195.9,1337.2 196.2,1335.8 196.4,1336.6 196.7,1334.9 196.9,1333.8 197.2,1333.5 197.4,1333.6 197.7,1332.6 197.9,1329.2 198.2,1328.7 198.4,1330.8 198.7,1328.3 198.9,1329.3 199.2,1328.2 199.4,1328.4 199.7,1327.2 199.9,1325.3 200.2,1326.5 200.4,1323.5 200.7,1322.4 200.9,1323.3 201.2,1324.7 201.4,1325.5 201.7,1322.6 201.9,1322.6 202.2,1320.8 202.4,1322.4 202.7,1321.3 202.9,1321.7 203.2,1321.8 203.4,1320.5 203.7,1320.2 203.9,1319.2 204.2,1320 204.4,1320.8 204.7,1320.1 204.9,1322.3 205.2,1320.1 205.4,1322.6 205.7,1320.6 205.9,1322 206.2,1319.2 206.4,1320.7 206.7,1320.9 206.9,1318.1 207.2,1319.2 207.4,1319 207.7,1319.4 207.9,1317.6 208.2,1318 208.4,1317.2 208.7,1319.9 208.9,1321.1 209.2,1320.7 209.4,1321 209.7,1321.2 209.9,1320.3 210.2,1322.9 210.4,1320.5 210.7,1321.8 210.9,1323.7 211.2,1324.3 211.4,1323.1 211.7,1323.2 211.9,1324.1 212.2,1324 212.4,1323.6 212.7,1324.2 212.9,1325.8 213.2,1325.4 213.4,1326.2 213.7,1325.8 213.9,1326.1 214.2,1329 214.4,1328.5 214.7,1327.1 214.9,1327.7 215.2,1328.5 215.4,1328.8 215.7,1328.3 215.9,1328.1 216.2,1330.1 216.4,1330.7 216.7,1329.3 216.9,1332.8 217.2,1331.6 217.4,1334.9 217.7,1333.6 217.9,1333.2 218.2,1335.1 218.4,1335.6 218.7,1336.3 218.9,1337.3 219.2,1335.7 219.4,1335.5 219.7,1338 219.9,1339.2 220.2,1339.4 220.4,1338.8 220.7,1341.1 220.9,1340.5 221.2,1338.6 221.4,1340.5 221.7,1340.8 221.9,1340 222.2,1342.5 222.4,1340.9 222.7,1342.8 222.9,1343.5 223.2,1345.6 223.4,1345.2 223.7,1346.8 223.9,1347.7 224.2,1345.7 224.4,1345.4 224.7,1345.9 224.9,1346.7 225.2,1346.4 225.4,1349 225.7,1349.9 225.9,1348.6 226.2,1349 226.4,1350.2 226.7,1350.2 226.9,1351 227.2,1349 227.4,1351.6 227.7,1350.8 227.9,1350.8 228.2,1351.4 228.4,1350.8 228.7,1350.7 228.9,1352.1 229.2,1351.3 229.4,1353.7 229.7,1353.8 229.9,1353.6 230.2,1354 230.4,1354.8 230.7,1355.3 230.9,1355.2 231.2,1355.1 231.4,1356.9 231.7,1355.7 231.9,1356.8 232.2,1357.6 232.4,1356.8 232.7,1357.5 232.9,1359.5 233.2,1358.6 233.4,1358.3 233.7,1356.9 233.9,1359.5 234.2,1358.7 234.4,1358.5 234.7,1358.7 234.9,1361 235.2,1361.9 235.4,1361.3 235.7,1363 235.9,1362.8 236.2,1360.9 236.4,1361.3 236.7,1359.2 236.9,1360.3 237.2,1360.3 237.4,1361.5 237.7,1362.4 237.9,1362.2 238.2,1359.9 238.4,1359.6 238.7,1361.3 238.9,1363 239.2,1360.9 239.4,1363 239.7,1362.3 239.9,1363.4 240.2,1361.8 240.4,1363.1 240.7,1364.8 240.9,1362.6 241.2,1362.9 241.4,1363.4 241.7,1363.6 241.9,1362.4 242.2,1362.4 242.4,1364.4 242.7,1363.3 242.9,1364.8 243.2,1365.7 243.4,1366.4 243.7,1368.9 243.9,1366.6 244.2,1367.6 244.4,1366.4 244.7,1369.1 244.9,1368.8 245.2,1367 245.4,1367.9 245.7,1367.9 245.9,1366.1 246.2,1368 246.4,1365.4 246.7,1366.7 246.9,1365.8 247.2,1367.5 247.4,1367 247.7,1367.9 247.9,1367 248.2,1367.4 248.4,1368.6 248.7,1368 248.9,1370.3 249.2,1368 249.4,1369.7 249.7,1369 249.9,1370.7 250.2,1370.2 250.4,1370.2 250.7,1370.4 250.9,1370.3 251.2,1368.9 251.4,1370.1 251.7,1367.8 251.9,1368.8 252.2,1369.7 252.4,1371.7 252.7,1370.5 252.9,1372.4 253.2,1372.4 253.4,1373.5 253.7,1373.7 253.9,1372.3 254.2,1373.7 254.4,1374 254.7,1372.4 254.9,1372.6 255.2,1370.2 255.4,1370.3 255.7,1372.6 255.9,1371.2 256.2,1373.3 256.4,1371.1 256.7,1372.4 256.9,1372 257.2,1373.7 257.4,1372.9 257.7,1371 257.9,1370.5 258.2,1373.7 258.4,1373.8 258.7,1373.8 258.9,1373.8 259.2,1371.5 259.4,1372 259.7,1374.1 259.9,1372.4 260.2,1373.6 260.4,1374 260.7,1373.9 260.9,1373.8 261.2,1374 261.4,1373 261.7,1374.5 261.9,1373.5 262.2,1372.1 262.4,1373.9 262.7,1373.4 262.9,1372.7 263.2,1373.5 263.4,1371.4 263.7,1373.5 263.9,1371.2 264.2,1372 264.4,1372.2 264.7,1371.6 264.9,1372.5 265.2,1372.2 265.4,1370.5 265.7,1371 265.9,1372.7 266.2,1372.4 266.4,1374.3 266.7,1372.3 266.9,1374.7 267.2,1371.3 267.4,1370.5 267.7,1372.2 267.9,1374.1 268.2,1373.4 268.4,1371.9 268.7,1372.8 268.9,1372.2 269.2,1370.6 269.4,1371.8 269.7,1372.4 269.9,1372.6 270.2,1371.5 270.4,1371.2 270.7,1371 270.9,1370.8 271.2,1369.1 271.4,1369.2 271.7,1369 271.9,1370.5 272.2,1370.9 272.4,1372.3 272.7,1370.3 272.9,1369.9 273.2,1371 273.4,1368.7 273.7,1369.9 273.9,1369.2 274.2,1371.1 274.4,1368.1 274.7,1369.1 274.9,1367.4 275.2,1369.2 275.4,1370.2 275.7,1368.5 275.9,1367.6 276.2,1365.7 276.4,1366.1 276.7,1366 276.9,1366.8 277.2,1366.2 277.4,1367.6 277.7,1368.6 277.9,1369.2 278.2,1367.2 278.4,1368.1 278.7,1367.5 278.9,1367.7 279.2,1366.6 279.4,1364.1 279.7,1365.3 279.9,1363.9 280.2,1365.2 280.4,1364.8 280.7,1366 280.9,1364.9 281.2,1362.7 281.4,1363.7 281.7,1363 281.9,1365.7 282.2,1366.2 282.4,1363.9 282.7,1365.7 282.9,1364.2 283.2,1364.4 283.4,1364.2 283.7,1362.5 283.9,1363.1 284.2,1359.9 284.4,1362.6 284.7,1360.8 284.9,1362.1 285.2,1359.4 285.4,1361.1 285.7,1359.2 285.9,1361.4 286.2,1361.7 286.4,1363 286.7,1362.8 286.9,1360.6 287.2,1359.6 287.4,1360.7 287.7,1360.6 287.9,1360.6 288.2,1359.7 288.4,1360.4 288.7,1358.4 288.9,1358.4 289.2,1357.5 289.4,1360.1 289.7,1359 289.9,1361.2 290.2,1361.2 290.4,1361.3 290.7,1360.6 290.9,1359.2 291.2,1360.9 291.4,1360.4 291.7,1357.5 291.9,1360.1 292.2,1358.9 292.4,1359.1 292.7,1359.2 292.9,1358.7 293.2,1357.4 293.4,1357.9 293.7,1355.8 293.9,1356.7 294.2,1357.3 294.4,1356.5 294.7,1359.4 294.9,1359.8 295.2,1359.1 295.4,1358.5 295.7,1357.7 295.9,1360.5 296.2,1358.3 296.4,1358 296.7,1358.2 296.9,1359.2 297.2,1356.1 297.4,1356.2 297.7,1357.1 297.9,1357.6 298.2,1358.4 298.4,1356.8 298.7,1357.4 298.9,1358.9 299.2,1357.5 299.4,1358.3 299.7,1360.9 299.9,1361.1 300.2,1361.8 300.4,1361.5 300.7,1361.4 300.9,1359.8 301.2,1359.9 301.4,1360.2 301.7,1361.8 301.9,1360.5 302.2,1359.5 302.4,1362.1 302.7,1360.3 302.9,1359.5 303.2,1361.8 303.4,1361.5 303.7,1360.2 303.9,1360.1 304.2,1362.6 304.4,1360.8 304.7,1362.8 304.9,1362.3 305.2,1363.8 305.4,1362.2 305.7,1363.9 305.9,1363 306.2,1361.5 306.4,1361.5 306.7,1359.9 306.9,1359.6 307.2,1359.4 307.4,1361 307.7,1361.5 307.9,1362.1 308.2,1361.3 308.4,1364.3 308.7,1363.2 308.9,1366.2 309.2,1363.7 309.4,1362.6 309.7,1365.4 309.9,1364.9 310.2,1365.6 310.4,1364.6 310.7,1363.3 310.9,1364.9 311.2,1364.2 311.4,1362.5 311.7,1362.4 311.9,1364.2 312.2,1366.5 312.4,1363.6 312.7,1364.5 312.9,1363.6 313.2,1364.7 313.4,1364.1 313.7,1363 313.9,1364.2 314.2,1366.4 314.4,1365.6 314.7,1366.7 314.9,1367.4 315.2,1364.2 315.4,1365.4 315.7,1363.9 315.9,1364.5 316.2,1365.2 316.4,1366.8 316.7,1367.9 316.9,1367.1 317.2,1367.1 317.4,1365.1 317.7,1366.7 317.9,1366.5 318.2,1365.4 318.4,1367.3 318.7,1368.8 318.9,1368.9 319.2,1369.1 319.4,1368.1 319.7,1366.8 319.9,1365.3 320.2,1365.4 320.4,1367.1 320.7,1368.6 320.9,1368.9 321.2,1367.4 321.4,1367.1 321.7,1368.2 321.9,1367.7 322.2,1369.3 322.4,1367.8 322.7,1367.6 322.9,1369.8 323.2,1368.1 323.4,1369.2 323.7,1368.8 323.9,1371.1 324.2,1370.4 324.4,1368.3 324.7,1369.9 324.9,1368.2 325.2,1369.5 325.4,1370 325.7,1370.1 325.9,1370.7 326.2,1370.8 326.4,1372.2 326.7,1370.4 326.9,1371.4 327.2,1370.6 327.4,1370.7 327.7,1368.6 327.9,1367.6 328.2,1369.8 328.4,1370.6 328.7,1371.7 328.9,1370.1 329.2,1370.1 329.4,1371.4 329.7,1371.5 329.9,1370.9 330.2,1370.1 330.4,1371.4 330.7,1372.4 330.9,1372.7 331.2,1372.5 331.4,1370.5 331.7,1371 331.9,1369.3 332.2,1371.9 332.4,1369.8 332.7,1370.1 332.9,1371.2 333.2,1373 333.4,1373.8 333.7,1371.5 333.9,1372.4 334.2,1370.4 334.4,1371.2 334.7,1372.5 334.9,1373 335.2,1372.8 335.4,1371.4 335.7,1369.6 335.9,1372.1 336.2,1373.5 336.4,1373.1 336.7,1375.1 336.9,1374.1 337.2,1372.9 337.4,1370.5 337.7,1369.8 337.9,1371.3 338.2,1371.2 338.4,1371.1 338.7,1371.2 338.9,1372.2 339.2,1372.7 339.4,1372.3 339.7,1372.8 339.9,1372.7 340.2,1372.5 340.4,1374.5 340.7,1371.8 340.9,1371 341.2,1371.3 341.4,1370.1 341.7,1370.5 341.9,1371.6 342.2,1372.9 342.4,1373.4 342.7,1373 342.9,1374.8 343.2,1373.5 343.4,1372.6 343.7,1373.4 343.9,1374 344.2,1371.2 344.4,1372.1 344.7,1370.7 344.9,1372.9 345.2,1374.1 345.4,1373.3 345.7,1373 345.9,1373.1 346.2,1373.9 346.4,1372.9 346.7,1371.8 346.9,1371.8 347.2,1372.1 347.4,1373.7 347.7,1371.5 347.9,1372.5 348.2,1372 348.4,1372.6 348.7,1372.9 348.9,1372.7 349.2,1372.3 349.4,1374.1 349.7,1371.2 349.9,1371.7 350.2,1371.5 350.4,1372.2 350.7,1373.5 350.9,1372.6 351.2,1372.2 351.4,1374 351.7,1372.6 351.9,1373.1 352.2,1372.7 352.4,1372 352.7,1373.5 352.9,1371.3 353.2,1373 353.4,1372 353.7,1374.1 353.9,1373.6 354.2,1374.3 354.4,1375.6 354.7,1376 354.9,1375.3 355.2,1374 355.4,1374.1 355.7,1374 355.9,1373.6 356.2,1372.1 356.4,1372.8 356.7,1372.3 356.9,1372.4 357.2,1371.5 357.4,1369.4 357.7,1370 357.9,1371.4 358.2,1370.7 358.4,1373.2 358.7,1371.6 358.9,1371.5 359.2,1372.4 359.4,1373 359.7,1371.7 359.9,1372 360.2,1370.6 360.4,1370.1 360.7,1371.1 360.9,1370.7 361.2,1371.2 361.4,1368.7 361.7,1368.8 361.9,1369.3 362.2,1371.2 362.4,1371.4 362.7,1372.5 362.9,1370.5 363.2,1372.3 363.4,1372.4 363.7,1371.2 363.9,1368.4 364.2,1369.5 364.4,1369.6 364.7,1369.5 364.9,1368.3 365.2,1368.5 365.4,1368.5 365.7,1370.2 365.9,1370.7 366.2,1368.4 366.4,1370.5 366.7,1369.4 366.9,1369.6 367.2,1370.8 367.4,1368.2 367.7,1367.2 367.9,1367.2 368.2,1369 368.4,1366.3 368.7,1367.3 368.9,1369.5 369.2,1367.2 369.4,1370.4 369.7,1368.7 369.9,1369.7 370.2,1367 370.4,1366.6 370.7,1367.6 370.9,1367.6 371.2,1368 371.4,1368.1 371.7,1367 371.9,1369.2 372.2,1370.3 372.4,1369.3 372.7,1369.1 372.9,1369.4 373.2,1368.6 373.4,1369.2 373.7,1369.5 373.9,1367.7 374.2,1366.7 374.4,1365.7 374.7,1366.6 374.9,1366.2 375.2,1365.2 375.4,1367.7 375.7,1367.7 375.9,1367.4 376.2,1368.3 376.4,1368.7 376.7,1367.3 376.9,1367 377.2,1366.8 377.4,1368.4 377.7,1369.2 377.9,1365.8 378.2,1368.4 378.4,1367.6 378.7,1369.6 378.9,1369.6 379.2,1368.6 379.4,1367.4 379.7,1366.8 379.9,1366.4 380.2,1368.1 380.4,1369.3 380.7,1370.7 380.9,1370 381.2,1368.4 381.4,1367 381.7,1366.2 381.9,1367.1 382.2,1368.1 382.4,1368.9 382.7,1367.9 382.9,1370.2 383.2,1368.4 383.4,1370.2 383.7,1369.3 383.9,1367.7 384.2,1368.1 384.4,1368.4 384.7,1368.1 384.9,1370.1 385.2,1368 385.4,1369.1 385.7,1368.8 385.9,1370.9 386.2,1371.8 386.4,1371 386.7,1369.4 386.9,1367.4 387.2,1368.2 387.4,1367.7 387.7,1369.5 387.9,1370.2 388.2,1370.6 388.4,1370.4 388.7,1371.1 388.9,1369.9 389.2,1370.4 389.4,1372.3 389.7,1369.5 389.9,1369 390.2,1371.1 390.4,1371.4 390.7,1369.8 390.9,1370.2 391.2,1371.2 391.4,1371 391.7,1369.7 391.9,1371.3 392.2,1371.3 392.4,1371.1 392.7,1372.2 392.9,1370.2 393.2,1369.9 393.4,1369.9 393.7,1371.7 393.9,1371 394.2,1370.9 394.4,1372.5 394.7,1370.2 394.9,1370.3 395.2,1372.1 395.4,1370.5 395.7,1368.7 395.9,1370.8 396.2,1371.1 396.4,1371.2 396.7,1370.9 396.9,1372.4 397.2,1371.3 397.4,1373.9 397.7,1372.7 397.9,1370.5 398.2,1372.5 398.4,1371.8 398.7,1370.5 398.9,1370.8 399.2,1373.3 399.4,1372 399.7,1370.6 399.9,1371.8 400.2,1371.6 400.4,1372.2 400.7,1373.8 400.9,1372.3 401.2,1371.8 401.4,1372.5 401.7,1372.9 401.9,1371.5 402.2,1371.7 402.4,1371.7 402.7,1370.4 402.9,1370.6 403.2,1372.6 403.4,1373.2 403.7,1372.5 403.9,1372 404.2,1373.2 404.4,1374.8 404.7,1374.5 404.9,1374.1 405.2,1372.8 405.4,1373.7 405.7,1372.9 405.9,1373.7 406.2,1374.6 406.4,1375.7 406.7,1373.7 406.9,1373.7 407.2,1373.6 407.4,1372 407.7,1373.6 407.9,1373.3 408.2,1375.2 408.4,1373 408.7,1374.9 408.9,1376.1 409.2,1373.9 409.4,1373.6 409.7,1374.6 409.9,1373.1 410.2,1372.4 410.4,1372.9 410.7,1373.9 410.9,1372.8 411.2,1374.1 411.4,1373.6 411.7,1374 411.9,1373.4 412.2,1374.2 412.4,1373.7 412.7,1375.1 412.9,1374.1 413.2,1375.7 413.4,1373.4 413.7,1372.3 413.9,1374.6 414.2,1373.1 414.4,1373.9 414.7,1373.1 414.9,1374.8 415.2,1374.1 415.4,1372.6 415.7,1373.1 415.9,1374.1 416.2,1374.1 416.4,1373.6 416.7,1374.6 416.9,1373.8 417.2,1373.6 417.4,1373.1 417.7,1374.7 417.9,1374.7 418.2,1373.3 418.4,1373.9 418.7,1373.8 418.9,1372 419.2,1372.4 419.4,1372.5 419.7,1374.3 419.9,1374 420.2,1371.9 420.4,1374.9 420.7,1374.6 420.9,1372.3 421.2,1373.3 421.4,1373.9 421.7,1374.5 421.9,1375.8 422.2,1374.7 422.4,1373.1 422.7,1373.5 422.9,1373.9 423.2,1374.4 423.4,1374.2 423.7,1373.1 423.9,1371.2 424.2,1373.9 424.4,1373.3 424.7,1371.8 424.9,1371.5 425.2,1373.5 425.4,1373.4 425.7,1372.6 425.9,1373.9 426.2,1372.4 426.4,1375.9 426.7,1374.4 426.9,1374.8 427.2,1373.7 427.4,1374.7 427.7,1374.4 427.9,1374.6 428.2,1373.9 428.4,1374 428.7,1373.6 428.9,1373.3 429.2,1374.6 429.4,1375.6 429.7,1373.3 429.9,1372.7 430.2,1373.9 430.4,1374.9 430.7,1375 430.9,1373.5 431.2,1373.4 431.4,1373.8 431.7,1371.4 431.9,1371.9 432.2,1372.1 432.4,1373.6 432.7,1373.4 432.9,1374.8 433.2,1375.1 433.4,1376 433.7,1374.5 433.9,1375.3 434.2,1372.8 434.4,1372.7 434.7,1375.3 434.9,1374.8 435.2,1376 435.4,1373.8 435.7,1375.1 435.9,1372.3 436.2,1374.4 436.4,1372.6 436.7,1373.9 436.9,1374.3 437.2,1373.5 437.4,1374.8 437.7,1375 437.9,1375.5 438.2,1376.5 438.4,1374.9 438.7,1376.3 438.9,1376.6 439.2,1375.1 439.4,1372.8 439.7,1372.6 439.9,1371.7 440.2,1372 440.4,1371.6 440.7,1373.4 440.9,1373.2 441.2,1374.7 441.4,1373.5 441.7,1373.4 441.9,1375.4 442.2,1373.1 442.4,1373.4 442.7,1374.5 442.9,1374.4 443.2,1373.1 443.4,1374.5 443.7,1374 443.9,1373 444.2,1373.4 444.4,1371.3 444.7,1373 444.9,1373.7 445.2,1372.4 445.4,1374.6 445.7,1373.3 445.9,1373.2 446.2,1371.6 446.4,1371.8 446.5,1373.9"/>
<polyline fill="none" stroke="#0000ff" stroke-width="1.0" stroke-linejoin="round" points="495.6,1101.2 495.9,1101.1 496.2,1101.1 496.5,1100.5 496.8,1100.3 497.1,1101.2 497.4,1100.8 497.7,1100.2 498,1101.1 498.3,1101.2 498.6,1100.5 498.9,1101 499.2,1100.2 499.5,1100.6 499.8,1100.9 500.1,1100.5 500.4,1100.6 500.7,1100.2 501,1100.9 501.3,1100.5 501.6,1100.3 501.9,1100.8 502.2,1101 502.5,1100.5 502.8,1100.7 503.1,1100.9 503.4,1099.9 503.7,1100.5 504,1100.8 504.3,1100 504.6,1100.1 504.9,1100.4 505.2,1100.5 505.5,1100.3 505.8,1100.3 506.1,1099.8 506.4,1100.5 506.7,1100 507,1099.8 507.3,1100.6 507.6,1100.3 507.9,1100.1 508.2,1100.4 508.5,1100.1 508.8,1099.7 509.1,1100.2 509.4,1100.3 509.7,1100.3 510,1100.1 510.3,1100.4 510.6,1100.4 510.9,1100.3 511.2,1099.8 511.5,1099.7 511.8,1099.9 512.1,1100 512.4,1099.5 512.7,1099.9 513,1099.7 513.3,1099.3 513.6,1099.7 513.9,1099.6 514.2,1100.2 514.5,1099.3 514.8,1100.1 515.1,1100.1 515.4,1099.7 515.7,1099.3 516,1099.9 516.3,1099.2 516.6,1099.4 516.9,1099.7 517.2,1099.4 517.5,1099.4 517.8,1099.2 518.1,1098.9 518.4,1099.2 518.7,1099.7 519,1099.6 519.3,1098.9 519.6,1099.3 519.9,1099.1 520.2,1099.1 520.5,1099.6 520.8,1099.4 521.1,1099.1 521.4,1099 521.7,1099.4 522,1098.8 522.3,1099.1 522.6,1099 522.9,1099 523.2,1098.6 523.5,1098.8 523.8,1098.9 524.1,1098.3 524.4,1098.7 524.7,1098.3 525,1098.3 525.3,1098.2 525.6,1098 525.9,1098.3 526.2,1097.9 526.5,1097.6 526.8,1098.1 527.1,1097.6 527.4,1097.8 527.7,1098.1 528,1097.7 528.3,1097.5 528.6,1097.1 528.9,1097.5 529.2,1097.7 529.5,1097.3 529.8,1097.3 530.1,1096.8 530.4,1096.7 530.7,1096.7 531,1096.7 531.3,1097 531.6,1096.5 531.9,1096.2 532.2,1096.4 532.5,1096.1 532.8,1096.4 533.1,1096 533.4,1096.5 533.7,1095.9 534,1095.9 534.3,1095.9 534.6,1095.6 534.9,1096.1 535.2,1095 535.5,1095.6 535.8,1095.1 536.1,1094.8 536.4,1094.8 536.7,1095.3 537,1095.3 537.3,1095.1 537.6,1094.5 537.9,1094.6 538.2,1094.2 538.5,1094.4 538.8,1094.1 539.1,1093.8 539.4,1094 539.7,1094.5 540,1094 540.3,1093.7 540.6,1093.4 540.9,1094.1 541.2,1093.2 541.5,1093.1 541.8,1093.1 542.1,1093.6 542.4,1093.7 542.7,1092.8 543,1093.3 543.3,1093.2 543.6,1093 543.9,1092.4 544.2,1093 544.5,1092.6 544.8,1093 545.1,1093 545.4,1092.6 545.7,1092 546,1092.1 546.3,1092.3 546.6,1092.5 546.9,1091.9 547.2,1091.8 547.5,1092 547.8,1092.1 548.1,1091.4 548.4,1091.7 548.7,1091.7 549,1091.5 549.3,1091.3 549.6,1091.8 549.9,1091.6 550.2,1090.8 550.5,1090.6 550.8,1090.8 551.1,1090.9 551.4,1090.5 551.7,1090.7 552,1090.9 552.3,1090.9 552.6,1090.9 552.9,1090.9 553.2,1090.3 553.5,1090.5 553.8,1090.7 554.1,1090.5 554.4,1090.4 554.7,1090.6 555,1090.7 555.3,1090.6 555.6,1090 555.9,1089.8 556.2,1089.9 556.5,1090.4 556.8,1089.9 557.1,1090.3 557.4,1090.1 557.7,1090.5 558,1089.6 558.3,1090.3 558.6,1089.5 558.9,1090.1 559.2,1089.9 559.5,1089.6 559.8,1089.6 560.1,1089.7 560.4,1089.8 560.7,1089.5 561,1089.7 561.3,1089.3 561.6,1089.7 561.9,1089.7 562.2,1089.6 562.5,1089.6 562.8,1089.7 563.1,1089.6 563.4,1089.2 563.7,1089.3 564,1089.3 564.3,1090 564.6,1089.4 564.9,1089.6 565.2,1089.1 565.5,1089.4 565.8,1089.2 566.1,1089 566.4,1089 566.7,1089 567,1089.4 567.3,1089.4 567.6,1089.5 567.9,1088.9 568.2,1089.1 568.5,1089.2 568.8,1089 569.1,1089.3 569.4,1088.4 569.7,1089 570,1088.4 570.3,1088.8 570.6,1088.6 570.9,1088.6 571.2,1088.9 571.5,1088.1 571.8,1088 572.1,1088.9 572.4,1088.4 572.7,1088.2 573,1087.9 573.3,1088.2 573.6,1088.3 573.9,1088.4 574.2,1087.8 574.5,1087.5 574.8,1088 575.1,1087.4 575.4,1087.6 575.7,1087.5 576,1087.5 576.3,1086.5 576.6,1086.4 576.9,1086.3 577.2,1086.5 577.5,1085.9 577.8,1085.6 578.1,1085.8 578.4,1084.8 578.7,1084.4 579,1084.1 579.3,1084.2 579.6,1083.5 579.9,1083.3 580.2,1083 580.5,1082.6 580.8,1082 581.1,1081.3 581.4,1081.4 581.7,1080.9 582,1080.1 582.3,1079.2 582.6,1079.2 582.9,1077.5 583.2,1077.5 583.5,1076.3 583.8,1075 584.1,1074.3 584.4,1073.3 584.7,1071.6 585,1071 585.3,1070.1 585.6,1068.8 585.9,1067 586.2,1065.7 586.5,1064.6 586.8,1062.2 587.1,1060.9 587.4,1058.4 587.7,1055.3 588,1051.8 588.3,1048 588.6,1043.4 588.9,1039.8 589.2,1034.9 589.5,1030.7 589.8,1025.4 590.1,1021.1 590.4,1015.7 590.7,1009.7 591,1004.5 591.3,998.3 591.6,990.9 591.9,983.2 592.2,975.9 592.5,967.2 592.8,960.5 593.1,953.1 593.4,944.9 593.7,938.4 594,930.2 594.3,923 594.6,914.6 594.9,904.6 595.2,895.4 595.5,887.8 595.8,880.9 596.1,874.6 596.4,868.8 596.7,865.2 597,861.8 597.3,859.6 597.6,857.8 597.9,856.6 598.2,857.2 598.5,858.1 598.8,861.1 599.1,863.1 599.4,866.6 599.7,871.7 600,877.9 600.3,885.3 600.6,891.8 600.9,899.5 601.2,907.7 601.5,915.2 601.8,923.6 602.1,930.4 602.4,936.5 602.7,943.4 603,950.2 603.3,955.7 603.6,961.6 603.9,967.8 604.2,974 604.5,980.1 604.8,986.1 605.1,992.4 605.4,998.1 605.7,1003.6 606,1008.5 606.3,1012.3 606.6,1015.6 606.9,1019.3 607.2,1022.9 607.5,1026.9 607.8,1029.1 608.1,1032.7 608.4,1035.4 608.7,1038 609,1041.1 609.3,1044 609.6,1046.7 609.9,1048.8 610.2,1051.4 610.5,1053.8 610.8,1056.2 611.1,1058.4 611.4,1060.7 611.7,1062.3 612,1064.1 612.3,1065.8 612.6,1066.9 612.9,1067.4 613.2,1069.4 613.5,1069.9 613.8,1070.6 614.1,1071.6 614.4,1072.3 614.7,1073.4 615,1074.4 615.3,1074.8 615.6,1076.5 615.9,1076.7 616.2,1077.5 616.5,1078.1 616.8,1079.4 617.1,1080.1 617.4,1080.4 617.7,1080.6 618,1081.9 618.3,1082.2 618.6,1082.6 618.9,1083.4 619.2,1084.2 619.5,1084.6 619.8,1084.4 620.1,1085.5 620.4,1085.4 620.7,1086.1 621,1085.9 621.3,1086.6 621.6,1086.8 621.9,1086.2 622.2,1087.3 622.5,1087.3 622.8,1087.5 623.1,1087.1 623.4,1087.9 623.7,1088.1 624,1088.5 624.3,1088.2 624.6,1088.1 624.9,1088.9 625.2,1088.7 625.5,1088.8 625.8,1089.3 626.1,1088.9 626.4,1089 626.7,1090.1 627,1090.1 627.3,1090.2 627.6,1090 627.9,1090 628.2,1090 628.5,1089.9 628.8,1090.8 629.1,1090.4 629.4,1091 629.7,1090.4 630,1090.7 630.3,1091 630.6,1091.1 630.9,1091.1 631.2,1091.7 631.5,1091.1 631.8,1091.8 632.1,1091.9 632.4,1091.9 632.7,1091.7 633,1092.2 633.3,1092.4 633.6,1092.4 633.9,1092.5 634.2,1092.5 634.5,1092.5 634.8,1092.7 635.1,1092.8 635.4,1092.6 635.7,1093.3 636,1092.9 636.3,1092.7 636.6,1093.3 636.9,1093.6 637.2,1092.9 637.5,1092.9 637.8,1093.3 638.1,1093.3 638.4,1093.3 638.7,1093.5 639,1093.7 639.3,1093.6 639.6,1093.9 639.9,1093.9 640.2,1093.9 640.5,1093.7 640.8,1094.4 641.1,1094.4 641.4,1094.4 641.7,1094.2 642,1094.9 642.3,1094.7 642.6,1094.9 642.9,1094.7 643.2,1094.8 643.5,1094.9 643.8,1094.6 644.1,1094.6 644.4,1095.2 644.7,1094.8 645,1094.5 645.3,1095 645.6,1095.5 645.9,1095.1 646.2,1095.3 646.5,1095.7 646.8,1095 647.1,1095 647.4,1094.9 647.7,1095.3 648,1095.1 648.3,1095.6 648.6,1095.4 648.9,1095.2 649.2,1095.9 649.5,1096 649.8,1096.2 650.1,1095.7 650.4,1095.9 650.7,1096.1 651,1096.3 651.3,1096.5 651.6,1095.9 651.9,1095.8 652.2,1095.9 652.5,1095.9 652.8,1096.5 653.1,1096.4 653.4,1095.9 653.7,1096.5 654,1096.5 654.3,1096.4 654.6,1096.7 654.9,1096.1 655.2,1096.7 655.5,1096.1 655.8,1097 656.1,1096.7 656.4,1097 656.7,1096.4 657,1096.4 657.3,1097.1 657.6,1096.4 657.9,1096.7 658.2,1097.2 658.5,1097.3 658.8,1096.6 659.1,1096.5 659.4,1097.1 659.7,1096.8 660,1096.9 660.3,1096.7 660.6,1097 660.9,1097.5 661.2,1097.3 661.5,1096.8 661.8,1096.9 662.1,1097.7 662.4,1097.5 662.7,1097 663,1097.5 663.3,1097.7 663.6,1097.8 663.9,1097.6 664.2,1097.2 664.5,1097.9 664.8,1097.7 665.1,1097.9 665.4,1097.6 665.7,1098 666,1098 666.3,1097.5 666.6,1097.4 666.9,1097.9 667.2,1097.5 667.5,1097.6 667.8,1097.5 668.1,1097.7 668.4,1097.7 668.7,1098.1 669,1098 669.3,1097.6 669.6,1098.1 669.9,1098.2 670.2,1097.9 670.4,1097.5"/>
<polyline fill="none" stroke="#ff0000" stroke-width="1.0" stroke-linejoin="round" points="495.6,1375.7 495.9,1374.4 496.2,1375.3 496.5,1375.7 496.8,1375.1 497.1,1374.8 497.4,1375.4 497.7,1375.2 498,1374.6 498.3,1374.8 498.6,1375.2 498.9,1373.5 499.2,1374.9 499.5,1375.2 499.8,1374.3 500.1,1374.5 500.4,1373.8 500.7,1374.8 501,1375.6 501.3,1373.9 501.6,1374.3 501.9,1375.4 502.2,1374.4 502.5,1374.1 502.8,1374.7 503.1,1373 503.4,1373.3 503.7,1375.1 504,1373.3 504.3,1372.9 504.6,1375.2 504.9,1374.7 505.2,1375.3 505.5,1374.7 505.8,1375.1 506.1,1373.5 506.4,1374.6 506.7,1373 507,1374.7 507.3,1374.4 507.6,1373 507.9,1372.9 508.2,1372.8 508.5,1374.5 508.8,1374.1 509.1,1373 509.4,1374 509.7,1374 510,1374 510.3,1374.8 510.6,1374.3 510.9,1373.2 511.2,1372.2 511.5,1372.6 511.8,1372.2 512.1,1374 512.4,1374 512.7,1372.4 513,1374.3 513.3,1372.7 513.6,1373 513.9,1373.3 514.2,1374.3 514.5,1374 514.8,1372 515.1,1373.9 515.4,1372.1 515.7,1373.6 516,1373.2 516.3,1371.8 516.6,1371.5 516.9,1373.7 517.2,1371.3 517.5,1371.6 517.8,1373.7 518.1,1372.9 518.4,1372.5 518.7,1372.2 519,1372.4 519.3,1372.1 519.6,1371 519.9,1371.3 520.2,1371.5 520.5,1371.9 520.8,1371.5 521.1,1372.3 521.4,1372.4 521.7,1372.2 522,1371.3 522.3,1371 522.6,1369.9 522.9,1370.6 523.2,1371.6 523.5,1370.3 523.8,1370 524.1,1369.5 524.4,1370.6 524.7,1370.1 525,1368.8 525.3,1369.1 525.6,1368.5 525.9,1368.5 526.2,1368.6 526.5,1368 526.8,1370.2 527.1,1369.1 527.4,1367.6 527.7,1368.4 528,1367.9 528.3,1367.2 528.6,1367.6 528.9,1367.8 529.2,1366.4 529.5,1368.5 529.8,1367.1 530.1,1365.8 530.4,1367.2 530.7,1367.7 531,1365.1 531.3,1366.7 531.6,1366.9 531.9,1365.6 532.2,1364.5 532.5,1366 532.8,1364.7 533.1,1364.4 533.4,1365.4 533.7,1363.2 534,1363.6 534.3,1365.1 534.6,1362.9 534.9,1362.5 535.2,1362.3 535.5,1363.2 535.8,1362.6 536.1,1362.7 536.4,1363.5 536.7,1361.5 537,1362.7 537.3,1362 537.6,1361.9 537.9,1360.1 538.2,1360 538.5,1360 538.8,1360.6 539.1,1360.2 539.4,1359.8 539.7,1361.1 540,1360.2 540.3,1359.4 540.6,1359.9 540.9,1360.4 541.2,1358.5 541.5,1358.9 541.8,1358.2 542.1,1358.8 542.4,1357.6 542.7,1358 543,1359.5 543.3,1359.2 543.6,1356.7 543.9,1357.4 544.2,1358.5 544.5,1358.4 544.8,1356.9 545.1,1357.7 545.4,1357.9 545.7,1356.8 546,1356 546.3,1357.7 546.6,1357.5 546.9,1356.9 547.2,1357.4 547.5,1357.9 547.8,1355.8 548.1,1355.2 548.4,1356.8 548.7,1355.6 549,1357.3 549.3,1356.9 549.6,1356.1 549.9,1356.9 550.2,1357.3 550.5,1356.7 550.8,1355.5 551.1,1355.9 551.4,1354.9 551.7,1356.3 552,1355.6 552.3,1355.1 552.6,1355.3 552.9,1355.6 553.2,1356.9 553.5,1354.9 553.8,1355.4 554.1,1355.7 554.4,1357.3 554.7,1355.5 555,1357.9 555.3,1357.5 555.6,1356.7 555.9,1357.4 556.2,1357.6 556.5,1358.1 556.8,1356.8 557.1,1358.6 557.4,1358.3 557.7,1356.8 558,1356.7 558.3,1358.5 558.6,1359.1 558.9,1358.9 559.2,1359.4 559.5,1357.5 559.8,1360.1 560.1,1358.8 560.4,1359.2 560.7,1360.3 561,1360 561.3,1359.9 561.6,1359.2 561.9,1361.5 562.2,1360.9 562.5,1359.7 562.8,1361.2 563.1,1361.8 563.4,1361.5 563.7,1362.1 564,1361.2 564.3,1363.5 564.6,1362.4 564.9,1361.5 565.2,1362.2 565.5,1364 565.8,1363.9 566.1,1363.7 566.4,1363.1 566.7,1364.6 567,1365.1 567.3,1363.5 567.6,1363.6 567.9,1365.6 568.2,1365.6 568.5,1366.1 568.8,1364.8 569.1,1366.9 569.4,1366 569.7,1367.1 570,1365.9 570.3,1366.5 570.6,1366.7 570.9,1367 571.2,1368.4 571.5,1367.8 571.8,1368.6 572.1,1368.4 572.4,1369 572.7,1368.4 573,1367.5 573.3,1369 573.6,1368.1 573.9,1368.1 574.2,1370.5 574.5,1369.9 574.8,1370.2 575.1,1370.4 575.4,1370.3 575.7,1370 576,1370.8 576.3,1371.1 576.6,1371.8 576.9,1371.2 577.2,1371 577.5,1372.2 577.8,1372.5 578.1,1371.3 578.4,1373.3 578.7,1373.1 579,1372 579.3,1373.6 579.6,1373.3 579.9,1372.1 580.2,1372.1 580.5,1374.1 580.8,1373.9 581.1,1371.9 581.4,1372.2 581.7,1374.3 582,1373.6 582.3,1373.5 582.6,1372.2 582.9,1373.9 583.2,1373.5 583.5,1373.9 583.8,1374.2 584.1,1373.9 584.4,1374 584.7,1374.7 585,1374.3 585.3,1373.6 585.6,1374.6 585.9,1374.4 586.2,1374 586.5,1373.5 586.8,1373.5 587.1,1375 587.4,1374.3 587.7,1374.3 588,1373.9 588.3,1374.6 588.6,1375.2 588.9,1373.1 589.2,1374.1 589.5,1374.4 589.8,1373.3 590.1,1373.6 590.4,1373.1 590.7,1373 591,1374.1 591.3,1373.7 591.6,1374.7 591.9,1374.5 592.2,1374.8 592.5,1373.7 592.8,1375.3 593.1,1374.3 593.4,1373.6 593.7,1375 594,1374.5 594.3,1375.1 594.6,1373.5 594.9,1375.1 595.2,1373.7 595.5,1372.9 595.8,1372.8 596.1,1373.9 596.4,1374.3 596.7,1373.4 597,1373 597.3,1373.2 597.6,1373.2 597.9,1372.8 598.2,1373.1 598.5,1373 598.8,1373.8 599.1,1374.2 599.4,1374.3 599.7,1373.6 600,1373.6 600.3,1373.4 600.6,1374.9 600.9,1374.8 601.2,1373.9 601.5,1374.2 601.8,1373.5 602.1,1374.3 602.4,1375 602.7,1375.1 603,1374.3 603.3,1373.5 603.6,1374.7 603.9,1373.3 604.2,1373.3 604.5,1373.7 604.8,1374.1 605.1,1374.1 605.4,1374 605.7,1374.2 606,1372.7 606.3,1375 606.6,1375.2 606.9,1372.7 607.2,1373.2 607.5,1373.9 607.8,1374.9 608.1,1373.1 608.4,1374.1 608.7,1374 609,1374.7 609.3,1374 609.6,1373.6 609.9,1373.7 610.2,1374.6 610.5,1373.8 610.8,1375.1 611.1,1374.4 611.4,1373.5 611.7,1374 612,1372.9 612.3,1374.8 612.6,1374.9 612.9,1373.5 613.2,1373.5 613.5,1373.6 613.8,1373.8 614.1,1374.7 614.4,1374.3 614.7,1375 615,1374.1 615.3,1374.7 615.6,1374.7 615.9,1373.2 616.2,1373 616.5,1373.3 616.8,1373.8 617.1,1372.8 617.4,1373.1 617.7,1374.3 618,1373.7 618.3,1374 618.6,1374.1 618.9,1374 619.2,1373 619.5,1375.1 619.8,1375.1 620.1,1373.3 620.4,1373.8 620.7,1374.1 621,1374.5 621.3,1374.2 621.6,1374.7 621.9,1374.5 622.2,1373.1 622.5,1373.3 622.8,1373.8 623.1,1373.4 623.4,1373.5 623.7,1373.3 624,1374.9 624.3,1373.1 624.6,1373.8 624.9,1373.3 625.2,1372.8 625.5,1373.8 625.8,1372.3 626.1,1374.1 626.4,1372.9 626.7,1373.8 627,1372.2 627.3,1372.7 627.6,1374 627.9,1372.3 628.2,1373.7 628.5,1372.8 628.8,1373.6 629.1,1372.1 629.4,1373.9 629.7,1372.5 630,1371.9 630.3,1373.8 630.6,1373.1 630.9,1372.4 631.2,1373.8 631.5,1371.6 631.8,1372.5 632.1,1372.9 632.4,1372.8 632.7,1373.6 633,1371.5 633.3,1372.9 633.6,1371.3 633.9,1371.6 634.2,1373.2 634.5,1371.5 634.8,1371.3 635.1,1370.8 635.4,1372 635.7,1372.8 636,1371.2 636.3,1370.7 636.6,1371.3 636.9,1371 637.2,1370.6 637.5,1370.5 637.8,1371.6 638.1,1371.4 638.4,1370.8 638.7,1372.1 639,1372.4 639.3,1371.7 639.6,1370.4 639.9,1372.5 640.2,1372.1 640.5,1371 640.8,1371.9 641.1,1370.7 641.4,1370.4 641.7,1372.3 642,1372.2 642.3,1370.8 642.6,1371.9 642.9,1370.2 643.2,1370.8 643.5,1371.9 643.8,1370.4 644.1,1370 644.4,1371.6 644.7,1372.2 645,1371.6 645.3,1372.5 645.6,1370.4 645.9,1370.7 646.2,1371.8 646.5,1370.9 646.8,1372.1 647.1,1370.8 647.4,1372.3 647.7,1370.8 648,1371.4 648.3,1371.3 648.6,1372.4 648.9,1372.1 649.2,1371.2 649.5,1372.2 649.8,1370.5 650.1,1372.2 650.4,1372.9 650.7,1372.5 651,1372.5 651.3,1370.9 651.6,1371.4 651.9,1373.2 652.2,1371.1 652.5,1371.5 652.8,1372.7 653.1,1372 653.4,1373.4 653.7,1372.9 654,1373.1 654.3,1372 654.6,1373.5 654.9,1373.3 655.2,1373.2 655.5,1373.6 655.8,1373.5 656.1,1372.2 656.4,1373.4 656.7,1372.7 657,1371.5 657.3,1371.7 657.6,1373.3 657.9,1373 658.2,1371.4 658.5,1372.4 658.8,1373.7 659.1,1373.3 659.4,1372.4 659.7,1373.8 660,1372.8 660.3,1373.8 660.6,1372.8 660.9,1371.7 661.2,1372.5 661.5,1373.5 661.8,1372.5 662.1,1373.5 662.4,1372.2 662.7,1373.9 663,1373.1 663.3,1372.4 663.6,1373.4 663.9,1374.2 664.2,1373.3 664.5,1371.8 664.8,1371.8 665.1,1372.8 665.4,1371.8 665.7,1374.3 666,1372.6 666.3,1373.7 666.6,1372.3 666.9,1373.1 667.2,1373.3 667.5,1374.3 667.8,1373.6 668.1,1373 668.4,1371.9 668.7,1372.1 669,1372.7 669.3,1372.2 669.6,1374.3 669.9,1373.3 670.2,1372.4 670.4,1374.3"/>
<polyline fill="none" stroke="#0000ff" stroke-width="1.0" stroke-linejoin="round" points="719.3,1075.4 719.6,1081.8 719.9,1099.1 720.2,1087.2 720.5,1100.8 720.8,1104.4 721.1,1075.3 721.4,1107.1 721.7,1086.3 722,1121 722.3,1103.4 722.6,1087 722.9,1096.6 723.2,1096.7 723.5,1098.2 723.8,1111.9 724.1,1100.8 724.4,1115.2 724.7,1102.1 725,1091.6 725.3,1074.4 725.6,1073.9 725.9,1096.5 726.2,1102.7 726.5,1112.3 726.8,1086 727.1,1094.8 727.4,1083.5 727.7,1088.5 728,1064.8 728.3,1103.2 728.6,1084.6 728.9,1092.9 729.2,1099.4 729.5,1098 729.8,1077.1 730.1,1112.9 730.4,1103.3 730.7,1100 731,1085.4 731.3,1073.4 731.6,1073.1 731.9,1091 732.2,1095.6 732.5,1084.8 732.8,1116.5 733.1,1097.3 733.4,1106 733.7,1104.9 734,1080.1 734.3,1105.9 734.6,1099.1 734.9,1077.6 735.2,1102.4 735.5,1106.7 735.8,1105.5 736.1,1106.4 736.4,1075.8 736.7,1090.2 737,1086.5 737.3,1093.9 737.6,1094.5 737.9,1107.1 738.2,1102.5 738.5,1082.9 738.8,1104.3 739.1,1113.2 739.4,1096.8 739.7,1074.5 740,1085.1 740.3,1090.8 740.6,1073 740.9,1091.2 741.2,1077.2 741.5,1102.5 741.8,1101.1 742.1,1091.7 742.4,1077.2 742.7,1096 743,1084.6 743.3,1083.9 743.6,1105.8 743.9,1082.9 744.2,1075.3 744.5,1101.5 744.8,1113.4 745.1,1111.2 745.4,1101 745.7,1116.8 746,1087 746.3,1117.5 746.6,1116.4 746.9,1086.7 747.2,1095.7 747.5,1075 747.8,1078 748.1,1097 748.4,1076 748.7,1092.4 749,1095.2 749.3,1091.1 749.6,1101 749.9,1112.5 750.2,1091.2 750.5,1100.8 750.8,1106.4 751.1,1082.7 751.4,1079.8 751.7,1058.4 752,1092.1 752.3,1099.1 752.6,1091.2 752.9,1110.5 753.2,1103.2 753.5,1094.2 753.8,1083.5 754.1,1072.9 754.4,1084 754.7,1088.1 755,1080.8 755.3,1077.3 755.6,1075.8 755.9,1088 756.2,1058.9 756.5,1074.7 756.8,1078.5 757.1,1085.1 757.4,1084.5 757.7,1072.8 758,1067.8 758.3,1060.1 758.6,1086.7 758.9,1079.1 759.2,1073.9 759.5,1062.2 759.8,1056.7 760.1,1082.7 760.4,1068.2 760.7,1073.1 761,1087.8 761.3,1048.2 761.6,1056.3 761.9,1068.8 762.2,1071 762.5,1050.9 762.8,1061.3 763.1,1054.4 763.4,1053.9 763.7,1064.3 764,1061.3 764.3,1071.8 764.6,1064.3 764.9,1073.7 765.2,1046.2 765.5,1059.5 765.8,1037.5 766.1,1033.8 766.4,1036 766.7,1059.2 767,1052.4 767.3,1030.5 767.6,1063.2 767.9,1058.4 768.2,1044.4 768.5,1042.8 768.8,1044.6 769.1,1030 769.4,1069.7 769.7,1036.8 770,1039.1 770.3,1036.7 770.6,1031.8 770.9,1028.1 771.2,1041.1 771.5,1022.2 771.8,1023.1 772.1,1024.5 772.4,1041.4 772.7,1019.6 773,1018.1 773.3,1031.5 773.6,1013.5 773.9,1021 774.2,1033 774.5,1025.9 774.8,1019.9 775.1,1034.9 775.4,1011.5 775.7,1007.7 776,993.1 776.3,1011.3 776.6,1016.2 776.9,999.9 777.2,1026.3 777.5,1014.8 777.8,1011.8 778.1,986.2 778.4,1000.9 778.7,999.7 779,971 779.3,991.3 779.6,986.9 779.9,968.4 780.2,990.8 780.5,1005 780.8,988.5 781.1,969.7 781.4,972.9 781.7,983.3 782,963.3 782.3,972.5 782.6,969.2 782.9,970.8 783.2,983.5 783.5,960.8 783.8,982.8 784.1,978.4 784.4,978 784.7,968.6 785,987.3 785.3,985 785.6,966.6 785.9,982.8 786.2,986.5 786.5,990.3 786.8,996.1 787.1,995.8 787.4,1022.6 787.7,1019.8 788,1009.3 788.3,1027.4 788.6,1037.6 788.9,1021.2 789.2,1003 789.5,1023.7 789.8,1037.3 790.1,1012.2 790.4,1025.1 790.7,1037.4 791,1041.9 791.3,1040 791.6,1036.4 791.9,1032.5 792.2,1029.4 792.5,1048.7 792.8,1049.7 793.1,1035.7 793.4,1035.2 793.7,1058.8 794,1057.8 794.3,1040 794.6,1032.2 794.9,1054.2 795.2,1064.2 795.5,1068.3 795.8,1068.9 796.1,1044.6 796.4,1064.7 796.7,1062 797,1060 797.3,1099.8 797.6,1071.7 797.9,1076 798.2,1070.9 798.5,1083 798.8,1089.2 799.1,1073.6 799.4,1077.2 799.7,1073.2 800,1067.3 800.3,1077.5 800.6,1084.1 800.9,1081 801.2,1078.5 801.5,1060.5 801.8,1086.1 802.1,1084.7 802.4,1100.7 802.7,1076.3 803,1068.2 803.3,1062.3 803.6,1077.3 803.9,1084.2 804.2,1088.2 804.5,1067.5 804.8,1079.4 805.1,1097.8 805.4,1087.2 805.7,1082.8 806,1082.7 806.3,1069.1 806.6,1071.3 806.9,1081.7 807.2,1102.1 807.5,1101.5 807.8,1086.6 808.1,1095.9 808.4,1093.8 808.7,1102.5 809,1081.2 809.3,1092.6 809.6,1100.8 809.9,1075.3 810.2,1089.3 810.5,1093.3 810.8,1095.4 811.1,1096.8 811.4,1097.8 811.7,1102.8 812,1107.5 812.3,1095.8 812.6,1117.3 812.9,1086.2 813.2,1089.7 813.5,1095.9 813.8,1083.1 814.1,1075 814.4,1077 814.7,1106.2 815,1084.9 815.3,1077 815.6,1115 815.9,1097.3 816.2,1095.2 816.5,1081.7 816.8,1096.2 817.1,1087.1 817.4,1096 817.7,1092.8 818,1090.4 818.3,1095.7 818.6,1082.5 818.9,1088.3 819.2,1083.9 819.5,1098 819.8,1101.8 820.1,1103 820.4,1070.6 820.7,1114 821,1091 821.3,1092.1 821.6,1093.1 821.9,1092.9 822.2,1108.7 822.5,1095.3 822.8,1097.4 823.1,1105.2 823.4,1109.6 823.7,1081.8 824,1079.4 824.3,1071 824.6,1071.2 824.9,1097.8 825.2,1095.2 825.5,1093.8 825.8,1098.3 826.1,1097.9 826.4,1108.7 826.7,1114.9 827,1084.8 827.3,1112.5 827.6,1107.4 827.9,1085 828.2,1096.9 828.5,1089.5 828.8,1074.3 829.1,1095.3 829.4,1075.2 829.7,1095.4 830,1082.3 830.3,1090.9 830.6,1104.7 830.9,1096.4 831.2,1085.3 831.5,1097.8 831.8,1103.4 832.1,1106.8 832.4,1085 832.7,1108.9 833,1093.1 833.3,1088.5 833.6,1109.6 833.9,1102.9 834.2,1103.6 834.5,1096.9 834.8,1073.4 835.1,1101 835.4,1102.3 835.7,1094 836,1116.3 836.3,1097.1 836.6,1116.5 836.9,1110.2 837.2,1087.4 837.5,1085.6 837.8,1091.9 838.1,1095.3 838.4,1104.4 838.7,1088.5 839,1083.1 839.3,1122.5 839.6,1096.6 839.9,1099.8 840.2,1117.9 840.5,1097.8 840.8,1067.6 841.1,1102.4 841.4,1088.8 841.7,1108.9 842,1074.2 842.3,1099 842.6,1106.7 842.9,1114.4 843.2,1108.9 843.5,1108.6 843.8,1096.9 844.1,1096.7 844.4,1084.5 844.7,1109.1 845,1116.5 845.3,1104.8 845.6,1086.3 845.9,1079.7 846.2,1090.8 846.5,1117 846.8,1099.5 847.1,1085.2 847.4,1093 847.7,1107.8 848,1089.3 848.3,1091.6 848.6,1090.8 848.9,1086.4 849.2,1122.2 849.5,1087.6 849.8,1101.2 850.1,1112.8 850.4,1096.5 850.7,1092.8 851,1096 851.3,1098 851.6,1095.4 851.9,1092.5 852.2,1093.2 852.5,1099.5 852.8,1120.5 853.1,1093 853.4,1108.4 853.7,1095.9 854,1086.1 854.3,1083.7 854.6,1102.5 854.9,1081.8 855.2,1104 855.5,1094.1 855.8,1120 856.1,1085.3 856.4,1112.5 856.7,1116.3 857,1109.2 857.3,1091.9 857.6,1103.2 857.9,1100.5 858.2,1096.8 858.5,1110.3 858.8,1097.8 859.1,1101.9 859.4,1112.8 859.7,1097.5 860,1094.2 860.3,1101.4 860.6,1092.4 860.9,1069 861.2,1092.3 861.5,1096.7 861.8,1083.5 862.1,1074.4 862.4,1102.8 862.7,1089 863,1101.9 863.3,1098.4 863.6,1106.2 863.9,1095.9 864.2,1096.5 864.5,1097.1 864.8,1083.8 865.1,1089.4 865.4,1086.4 865.7,1071.5 866,1072.1 866.3,1072.5 866.6,1073.4 866.9,1063.2 867.2,1055.9 867.5,1050.2 867.8,1050.7 868.1,1045 868.4,1036.9 868.7,1033.9 869,1026 869.3,1024.6 869.6,1010.7 869.9,1006 870.2,1002.5 870.5,988.8 870.8,979.8 871.1,974 871.4,974 871.7,964.5 872,963.4 872.3,952.3 872.6,950.9 872.9,951.1 873.2,948.9 873.5,950.3 873.8,954.3 874.1,973.3 874.4,984.8 874.7,996.9 875,1002.6 875.3,1014.5 875.6,1028.5 875.9,1038.4 876.2,1055.2 876.5,1058.1 876.8,1067.8 877.1,1070.6 877.4,1071.6 877.7,1082 878,1081.5 878.3,1080.4 878.6,1083.9 878.9,1078.3 879.2,1091.2 879.5,1081.3 879.8,1075.9 880.1,1080.2 880.4,1089.3 880.7,1088.1 881,1094.8 881.3,1096 881.6,1089.4 881.9,1102.1 882.2,1065.8 882.5,1095.7 882.8,1095.9 883.1,1094.6 883.4,1088.2 883.7,1083.6 884,1082.9 884.3,1068.9 884.6,1084.6 884.9,1105.2 885.2,1110.2 885.5,1085.4 885.8,1084.8 886.1,1085.4 886.4,1090.3 886.7,1092.3 887,1098.6 887.3,1111.1 887.6,1066.6 887.9,1079.1 888.2,1086.9 888.5,1092.4 888.8,1098.5 889.1,1116.4 889.4,1081.6 889.7,1102.1 890,1092.8 890.3,1094.9 890.6,1098.2 890.9,1105.4 891.2,1096.1 891.5,1080.4 891.8,1100.8 892.1,1101.1 892.4,1074.8 892.7,1100.6 893,1094.1 893.3,1092.9 893.6,1096.3 893.9,1117.7 894.2,1073.9 894.5,1097.8 894.8,1071.3 895.1,1095.7 895.4,1107.4 895.7,1072.2 896,1110.4 896.3,1101.9 896.6,1094.2 896.9,1093.6 897.2,1095.8 897.5,1096.9 897.8,1095.7 898.1,1109.8 898.4,1106.7 898.7,1084.9 899,1110.6 899.3,1120.4 899.6,1117.8 899.9,1100.8 900.2,1076.7 900.5,1090.5 900.8,1095.7 901.1,1096.3 901.4,1078.4 901.7,1105.4 902,1109.3 902.3,1080.3 902.6,1088.1 902.9,1084.9 903.2,1098.6 903.5,1113 903.8,1071.3 904.1,1118.7 904.4,1111.1 904.7,1081.6 905,1119.7 905.3,1114 905.6,1105.7 905.9,1103 906.2,1087.2 906.5,1105.2 906.8,1088.2 907.1,1099.8 907.4,1112.5 907.7,1094.2 908,1090.8 908.3,1105.9 908.6,1111.5 908.9,1111.9 909.2,1096.3 909.5,1117.2 909.8,1120.5 910.1,1094.9 910.4,1107 910.7,1076.1 911,1097.2 911.3,1085.6 911.6,1100.9 911.9,1091.1 912.2,1068.7 912.5,1107.1 912.8,1085.9 913.1,1114.5 913.4,1118 913.7,1106.7 914,1098.1 914.3,1102.2 914.6,1080.6 914.9,1100.3 915.2,1111.7 915.5,1108.3 915.8,1085.7 916.1,1118.8 916.4,1105.8 916.7,1086.8 917,1105 917.3,1086.9 917.6,1092.8 917.9,1099.6 918.2,1123.2 918.5,1131.4 918.8,1079.4 919,1098.1"/>
<polyline fill="none" stroke="#ff0000" stroke-width="1.0" stroke-linejoin="round" points="719.3,1368.2 719.6,1379.8 720,1383.7 720.4,1383.6 720.7,1391.1 721.1,1370.1 721.4,1379 721.8,1370.3 722.1,1360.3 722.5,1367.1 722.8,1375.1 723.2,1365.1 723.5,1372 723.9,1384.4 724.2,1379.2 724.6,1379.2 724.9,1377.1 725.3,1372.1 725.6,1356.1 726,1383.2 726.3,1359.5 726.7,1375.9 727,1372.8 727.4,1375.1 727.7,1376.2 728.1,1370.6 728.4,1382.4 728.8,1361.6 729.1,1381.3 729.5,1357.7 729.8,1385.1 730.2,1369 730.5,1377.4 730.9,1388.1 731.2,1353.3 731.6,1370.8 731.9,1379.2 732.3,1382.3 732.6,1386.7 733,1379.6 733.3,1378.7 733.7,1374.8 734,1376.3 734.4,1374.5 734.7,1383.2 735.1,1375.3 735.4,1380.2 735.8,1389.2 736.1,1384.9 736.5,1370.5 736.8,1372.8 737.2,1380.8 737.5,1367.7 737.9,1356.4 738.2,1364.2 738.6,1378.9 738.9,1371.8 739.3,1370.4 739.6,1380.9 740,1363.8 740.3,1395.3 740.7,1374 741,1370.7 741.4,1393.2 741.7,1363.5 742.1,1369.1 742.4,1373 742.8,1364.7 743.1,1370.6 743.5,1379.3 743.8,1375.4 744.2,1373.3 744.5,1383.2 744.9,1391.7 745.2,1388.7 745.6,1353.9 745.9,1386.8 746.3,1381.2 746.6,1377.7 747,1364.5 747.3,1369.5 747.7,1371.8 748,1360.6 748.4,1385.5 748.7,1382.3 749.1,1373.7 749.4,1364.8 749.8,1386.6 750.1,1379.9 750.5,1383.9 750.8,1369.8 751.2,1396.6 751.5,1372.5 751.9,1392.4 752.2,1354.8 752.6,1376.7 752.9,1374.6 753.3,1349.8 753.6,1367.7 754,1362.2 754.3,1360.4 754.7,1366.6 755,1362.7 755.4,1376.9 755.7,1378.2 756.1,1376.4 756.4,1365.9 756.8,1369.2 757.1,1389.7 757.5,1370.5 757.8,1373.6 758.2,1368.2 758.5,1378.8 758.9,1382.2 759.2,1381.4 759.6,1377.8 759.9,1380.5 760.3,1371.8 760.6,1379.7 761,1364.4 761.3,1374.8 761.7,1382 762,1364.2 762.4,1381.2 762.7,1376.8 763.1,1362.2 763.4,1357.6 763.8,1358.1 764.1,1363.9 764.5,1376.8 764.8,1376.2 765.2,1385.5 765.5,1395.4 765.9,1369.3 766.2,1354.4 766.6,1359.6 766.9,1354.5 767.3,1367.2 767.6,1368.7 768,1385.9 768.3,1359.5 768.7,1371.4 769,1371.4 769.4,1372.5 769.7,1368.3 770.1,1393.8 770.4,1372 770.8,1374.1 771.1,1380.5 771.5,1375.9 771.8,1390.6 772.2,1362.3 772.5,1371.9 772.9,1368.9 773.2,1373 773.6,1382.3 773.9,1368 774.3,1355.1 774.6,1374.4 775,1363.8 775.3,1379.6 775.7,1375.9 776,1393.7 776.4,1378.9 776.7,1365.9 777.1,1377.2 777.4,1383.9 777.8,1374.6 778.1,1373.5 778.5,1371.2 778.8,1369.9 779.2,1365 779.5,1385.3 779.9,1377.6 780.2,1360.2 780.6,1384 780.9,1374 781.3,1376 781.6,1375.3 782,1385.1 782.3,1352.6 782.7,1373.6 783,1379.1 783.4,1372.6 783.7,1358.2 784.1,1361.8 784.4,1375.9 784.8,1387.4 785.1,1355.4 785.5,1368.3 785.8,1376.9 786.2,1376.2 786.5,1379.1 786.9,1385 787.2,1381.4 787.6,1360.1 787.9,1371.2 788.3,1363.7 788.6,1374 789,1388.4 789.3,1383.9 789.7,1396.2 790,1387.3 790.4,1384.6 790.7,1384 791.1,1367.8 791.4,1373 791.8,1380 792.1,1381.6 792.5,1380.1 792.8,1365.4 793.2,1364.3 793.5,1363.6 793.9,1391.9 794.2,1373.3 794.6,1382.3 794.9,1373.8 795.3,1372.7 795.6,1372.1 796,1370.7 796.3,1375 796.7,1382 797,1362.1 797.4,1374.7 797.7,1371.5 798.1,1370.2 798.4,1380.5 798.8,1389.4 799.1,1361.5 799.5,1375.7 799.8,1384.5 800.2,1382.3 800.5,1358.9 800.9,1379 801.2,1370.4 801.6,1370 801.9,1381.4 802.3,1364.5 802.6,1376.5 803,1382.3 803.3,1368.1 803.7,1364.8 804,1394.6 804.4,1364.7 804.7,1386.7 805.1,1367.7 805.4,1376 805.8,1369.5 806.1,1375.6 806.5,1375.7 806.8,1363.8 807.2,1372.7 807.5,1383 807.9,1366.7 808.2,1353 808.6,1376.7 808.9,1366.1 809.3,1377.5 809.6,1370.3 810,1366.6 810.3,1371.5 810.7,1377.3 811,1377 811.4,1361.5 811.7,1360.8 812.1,1362 812.4,1384.7 812.8,1375.4 813.1,1365.1 813.5,1371.1 813.8,1386.3 814.2,1362.9 814.5,1369.6 814.9,1380.8 815.2,1380.5 815.6,1379.8 815.9,1365 816.3,1373.6 816.6,1350.8 817,1370 817.3,1367.7 817.7,1368 818,1384.7 818.4,1371.6 818.7,1371.5 819.1,1380.1 819.4,1390.6 819.8,1365.6 820.1,1380.4 820.5,1370.7 820.8,1358.7 821.2,1368.1 821.5,1376.6 821.9,1371.2 822.2,1369.3 822.6,1373.5 822.9,1370.9 823.3,1370.9 823.6,1363.8 824,1379.1 824.3,1351.9 824.7,1375.3 825,1366.3 825.4,1380.9 825.7,1362.7 826.1,1351.3 826.4,1378.3 826.8,1383.3 827.1,1356.2 827.5,1377.5 827.8,1376.3 828.2,1364.3 828.5,1379.5 828.9,1365.5 829.2,1383.1 829.6,1385 829.9,1369.7 830.3,1370.5 830.6,1374.4 831,1355.5 831.3,1367.4 831.7,1373.6 832,1394.9 832.4,1385.1 832.7,1376.1 833.1,1365.4 833.4,1377.3 833.8,1374.5 834.1,1360.8 834.5,1371.2 834.8,1360.8 835.2,1368.9 835.5,1342.6 835.9,1387.2 836.2,1368.7 836.6,1363.3 836.9,1367.4 837.3,1357.8 837.6,1371.8 838,1386.3 838.3,1376.2 838.7,1370 839,1372.1 839.4,1374.4 839.7,1369.8 840.1,1367.8 840.4,1373.6 840.8,1376 841.1,1368.2 841.5,1376.2 841.8,1362 842.2,1356.3 842.5,1355.3 842.9,1376.7 843.2,1366.1 843.6,1372.8 843.9,1365.9 844.3,1369.8 844.6,1374.9 845,1359.8 845.3,1367.1 845.7,1387.2 846,1391.7 846.4,1374.8 846.7,1375.2 847.1,1367.7 847.4,1363.2 847.8,1380.8 848.1,1385 848.5,1377.9 848.8,1378.6 849.2,1366.7 849.5,1384.6 849.9,1376.2 850.2,1367.8 850.6,1383.7 850.9,1365.8 851.3,1364.4 851.6,1374.9 852,1364 852.3,1363.7 852.7,1379.6 853,1375.4 853.4,1369.3 853.7,1379.7 854.1,1375.1 854.4,1381.3 854.8,1381.6 855.1,1381.5 855.5,1363.5 855.8,1382.1 856.2,1374.1 856.5,1378.2 856.9,1374.3 857.2,1381.1 857.6,1372.4 857.9,1369.1 858.3,1378.8 858.6,1369.9 859,1362.8 859.3,1369.2 859.7,1367.2 860,1365.6 860.4,1365.4 860.7,1361.5 861.1,1360.3 861.4,1373.5 861.8,1357.4 862.1,1359.7 862.5,1357.2 862.8,1352.6 863.2,1350.3 863.5,1346 863.9,1342.4 864.2,1347.6 864.6,1335.8 864.9,1332.4 865.3,1333.8 865.6,1322.4 866,1325.7 866.3,1316.1 866.7,1314.4 867,1300.9 867.4,1293.9 867.7,1289.7 868.1,1275.6 868.4,1260 868.8,1249.1 869.1,1230.6 869.5,1211.9 869.8,1198.3 870.2,1184.9 870.5,1168.6 870.9,1162.8 871.2,1144.9 871.6,1129.3 871.9,1115.4 872.3,1109.6 872.6,1116.8 873,1149.5 873.3,1183 873.7,1201.9 874,1217.8 874.4,1224.9 874.7,1245.7 875.1,1261.3 875.4,1277.5 875.8,1283.4 876.1,1297.2 876.5,1306.7 876.8,1317 877.2,1329.2 877.5,1333.3 877.9,1338.2 878.2,1333.8 878.6,1337.7 878.9,1345 879.3,1342.5 879.6,1351 880,1360.8 880.3,1349.1 880.7,1359 881,1357.6 881.4,1361.3 881.7,1359 882.1,1350.7 882.4,1359.3 882.8,1357.4 883.1,1354.6 883.5,1365.2 883.8,1369.5 884.2,1358.9 884.5,1374.5 884.9,1370 885.2,1374 885.6,1373.4 885.9,1364.3 886.3,1392.5 886.6,1375.5 887,1379.2 887.3,1367.4 887.7,1370.7 888,1378.5 888.4,1363 888.7,1373.5 889.1,1385.4 889.4,1368.2 889.8,1372.7 890.1,1360.2 890.5,1372.7 890.8,1374.9 891.2,1371.5 891.5,1376.5 891.9,1368.5 892.2,1369.7 892.6,1382.2 892.9,1380.4 893.3,1374.8 893.6,1388.8 894,1371.8 894.3,1371.5 894.7,1378.9 895,1394.2 895.4,1369.5 895.7,1370 896.1,1370.5 896.4,1367.4 896.8,1361.6 897.1,1378.8 897.5,1382 897.8,1378.2 898.2,1376.3 898.5,1368.8 898.9,1379 899.2,1375.5 899.6,1366.9 899.9,1375 900.3,1363.6 900.6,1370.1 901,1365.8 901.3,1380.1 901.7,1366.7 902,1377.1 902.4,1360.2 902.7,1375.1 903.1,1379.4 903.4,1372.5 903.8,1365.8 904.1,1367.1 904.5,1375.1 904.8,1373 905.2,1369.1 905.5,1360.1 905.9,1359.7 906.2,1369.1 906.6,1365.4 906.9,1375 907.3,1379.5 907.6,1373.6 908,1367.4 908.3,1370.1 908.7,1378.4 909,1357.8 909.4,1380.3 909.7,1379.7 910.1,1367.7 910.4,1373.5 910.8,1373.4 911.1,1384.1 911.5,1379 911.8,1366.6 912.2,1343.9 912.5,1392.2 912.9,1381 913.2,1368.5 913.6,1358.1 913.9,1368.1 914.3,1362.6 914.6,1386 915,1380.4 915.3,1356.6 915.7,1378.7 916,1368.5 916.4,1376.4 916.7,1366.5 917.1,1354.8 917.4,1358.2 917.8,1372.9 918.1,1380.9 918.5,1386.4 918.8,1386 919,1372.5"/>
<polyline fill="none" stroke="#000" stroke-width="1.9" stroke-linejoin="round" points="419.1,79.5 419.2,77.2 419.3,74.8 419.4,72.4 419.5,70 419.6,67.3 419.7,64.1 419.8,60.7 419.9,57 420,53.4"/>
<polyline fill="none" stroke="#000" stroke-width="1.9" stroke-linejoin="round" points="421.2,58 421.3,62.4 421.4,66.5 421.5,70 421.6,73.1 421.7,76.3 421.8,79.3 421.9,82.4"/>
<polyline fill="none" stroke="#000" stroke-width="2.0" stroke-linejoin="round" points="418.1,113.2 418.2,109.4 418.3,105.8 418.4,102.5 418.5,99.6 418.6,97 418.7,94.6 418.8,92.2 418.9,90.1 419,88.6 419.1,88 419.2,88.2 419.3,88.8 419.4,89.7 419.5,90.8 419.6,92.1 419.7,93.5 419.8,95 419.9,96.8 420,99 420.1,101.8 420.2,104.8"/>
<polyline fill="none" stroke="#000" stroke-width="2.0" stroke-linejoin="round" points="416.6,167.4 416.7,166.7 416.8,166.1 416.9,165.6 417,165 417.1,164.5 417.2,164.1 417.3,163.7 417.4,163.4 417.5,163.2 417.6,163 417.7,163 417.8,163.1 417.9,163.2 418,163.5 418.1,163.8 418.2,164.3 418.3,164.8 418.4,165.3 418.5,165.9 418.6,166.6 418.7,167.3 418.8,168"/>
<polyline fill="none" stroke="#000" stroke-width="1.0" stroke-linejoin="round" points="391.4,242 391.5,231.1 391.6,238.4 391.6,234.6 391.7,228.9 391.8,239.8 391.9,238.6 392,229.3 392,239.8 392.1,226.3 392.2,236.3 392.3,233.9 392.4,230 392.4,222 392.5,237 392.6,231.2 392.7,227.9 392.8,227.1 392.8,232.1 392.9,226.7 393,229.4 393.1,227 393.2,221.5 393.2,224.8 393.3,234.9 393.4,234.5 393.5,231.9 393.6,228.5 393.6,237.1 393.7,234.9 393.8,225 393.9,230.6 394,237.3 394,234.7 394.1,227.9 394.2,229.8 394.3,230.9 394.4,237.6 394.4,234.8 394.5,229.8 394.6,231.2 394.7,225.4 394.8,232.4 394.8,228.4 394.9,226.5 395,226.8 395.1,229.2 395.2,237.4 395.2,229.2 395.3,235.8 395.4,236.7 395.5,242.8 395.6,234.7 395.6,240 395.7,228.3 395.8,238.2 395.9,243.7 396,228.7 396,242.5 396.1,230.5 396.2,238.7 396.3,228.5 396.4,229.1 396.4,230.3 396.5,241.9 396.6,240 396.7,238.1 396.8,237.8 396.8,232.5 396.9,235.9 397,235.1 397.1,241.8 397.2,234.5 397.2,238.6 397.3,233 397.4,240.8 397.5,239.6 397.6,241.3 397.6,230.8 397.7,239.4 397.8,234 397.9,234.3 398,234.6 398,228.7 398.1,238.7 398.2,235 398.3,228.5 398.4,236.3 398.4,228.4 398.5,231.5 398.6,234.8 398.7,232.2 398.8,227.2 398.8,233.6 398.9,230.4 399,230.3 399.1,227.6 399.2,227.7 399.2,236.5 399.3,231.9 399.4,231.5 399.5,233.4 399.6,228.9 399.6,226.2 399.7,230.8 399.8,228.5 399.9,228.3 400,224.9 400,228.1 400.1,224.3 400.2,232.5 400.3,227.2 400.4,230.3 400.4,228.9 400.5,227.3 400.6,226.2 400.7,223.3 400.8,228.8 400.8,223.7 400.9,224.8 401,230.8 401.1,225.7 401.2,225.4 401.2,228 401.3,224.4 401.4,225.1 401.5,224.5 401.6,227.3 401.6,222.5 401.7,224.6 401.8,229 401.9,226.2 402,224.9 402,223.4 402.1,221.5 402.2,227.3 402.3,227.2 402.4,227.4 402.4,224 402.5,224.5 402.6,222.5 402.7,225.6 402.8,224 402.8,222.2 402.9,222.1 403,222.3 403.1,223.9 403.2,224.2 403.2,220.6 403.3,224.7 403.4,223.6 403.5,223.7 403.6,220.7 403.6,220.3 403.7,222.9 403.8,223.6 403.9,220.9 404,219.8"/>
<polyline fill="none" stroke="#000" stroke-width="1.0" stroke-linejoin="round" points="325,217.9 325.1,223.9 325.2,227.4 325.2,216.8 325.3,223.4 325.4,218.1 325.5,226.4 325.6,218.4 325.6,227.7 325.7,208.8 325.8,204.2 325.9,209.2 326,220.1 326,212.7 326.1,223.2 326.2,224.8 326.3,222.2 326.4,197.1 326.4,210.1 326.5,213.9 326.6,220 326.7,191.5 326.8,207.6 326.8,185.6 326.9,211.1 327,203.7 327.1,185 327.2,183.7 327.2,199.3 327.3,197.3 327.4,198.4 327.5,215.2 327.6,214.7 327.6,186.7 327.7,177.2 327.8,185.3 327.9,205.5 328,182.9 328,177.5 328.1,195.4 328.2,198.3 328.3,177 328.4,171.9 328.4,175.6 328.5,178 328.6,182.5 328.7,190.1 328.8,203.7 328.8,180.7 328.9,191.7 329,192.5 329.1,176.9 329.2,187.4 329.2,204.2 329.3,204.4 329.4,181.2 329.5,196.8 329.6,176.8 329.6,195.2 329.7,177.9 329.8,193.6 329.9,165.3 330,169.9 330,186.8 330.1,170.2 330.2,173.2 330.3,188.2 330.4,172.9 330.4,173.8 330.5,193.8 330.6,165.7 330.7,162.6 330.8,194.3 330.8,197.2 330.9,188.3 331,186.3 331.1,197 331.2,182.7 331.2,166.1 331.3,176.7 331.4,179.4 331.5,196 331.6,186.5 331.6,164.8 331.7,188.7 331.8,196.2 331.9,166.1 332,199.6 332,165.7 332.1,191.1 332.2,178.4 332.3,184.3 332.4,171.6 332.4,172.1 332.5,177.1 332.6,198.3 332.7,200.6 332.8,199.5 332.8,182.1 332.9,183.1 333,188.2 333.1,177.4 333.2,187.6 333.2,194.9 333.3,185.7 333.4,181.5 333.5,179.3 333.6,194.9 333.6,198.9 333.7,191.6 333.8,182 333.9,200.3 334,218.5 334,206.7 334.1,204.7 334.2,205.3 334.3,203 334.4,212.6 334.4,202.2 334.5,224.2 334.6,213.1 334.7,220.4 334.8,206.1 334.8,215.6 334.9,212 335,214.6 335.1,226.7 335.2,228.5 335.2,229.3 335.3,224.7 335.4,236.5 335.5,236.4 335.6,234.7 335.6,232.4 335.7,240.3 335.8,233.8 335.9,234.9 336,233.2 336,246.1 336.1,238.4 336.2,242.5 336.3,246 336.4,247.3 336.4,253.2 336.5,245.1 336.6,253.1 336.7,252.9 336.8,250.2 336.8,252.5 336.9,254.6 337,252.3"/>
<line x1="417.6" y1="165" x2="417.9" y2="206" stroke="#000" stroke-width="2.0"/>
<line x1="419" y1="88" x2="419.3" y2="104" stroke="#000" stroke-width="1.6"/></svg>
</body></html>
